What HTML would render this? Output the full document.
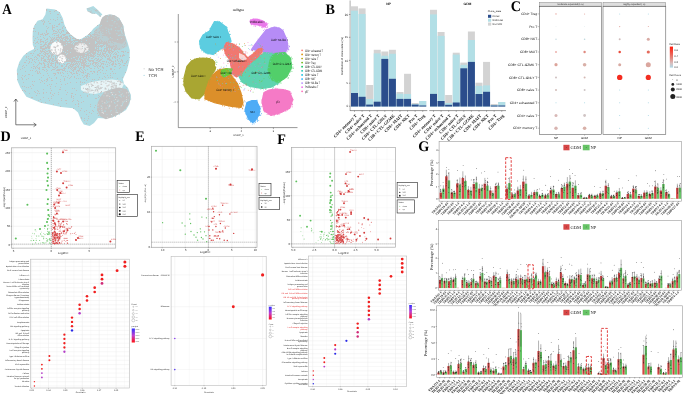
<!DOCTYPE html>
<html><head><meta charset="utf-8"><style>
html,body{margin:0;padding:0;background:#fff;width:685px;height:394px;overflow:hidden}
svg{display:block;text-rendering:geometricPrecision;will-change:transform;filter:blur(0.35px)}
</style></head><body>
<svg width="685" height="394" viewBox="0 0 685 394">
<rect width="685" height="394" fill="#fff"/>
<text transform="translate(2.3 13.7) scale(0.9 1)" font-size="14.6" font-family="Liberation Serif" font-weight="bold" fill="#000">A</text>
<polygon points="46.5,8.5 55,9.5 59.8,12.2 62.8,18.3 64.4,24.4 66.9,29.9 69.9,33.7 73.7,36.8 77.5,39.3 80.6,39.3 84.4,37 88.2,34.5 91.2,31.4 93.5,28.4 96.6,26.1 100,23.5 102.4,17.5 105.5,15.2 110,14.5 114.6,15.2 119.2,18.3 123,25.1 124.5,33.5 127.6,42.6 129.8,50.3 129.5,60 127,70 122.9,79.2 124,84 128,88 131,95.7 129.5,104 126,110 116.3,115.5 106,118.5 98,118 94,123 89.7,125.9 83.8,124.4 81,120 78,112.6 73.2,108.3 61,106.9 40.7,102.8 26.4,96.7 20.3,87.6 17.3,80.5 16.8,70 19.3,61.9 23.4,55.8 28.4,51.8 34.5,48.7 32.8,45 32.5,38 32.8,31 34,26 37.6,20.8 42.6,19.3 45.4,14.5 46.3,9.5" fill="#b0dce4"/>
<polygon points="86.4,8.4 93.3,6.1 97.9,9.9 102.4,14.5 100,16.7 96.3,13.7 91.8,13.7 87.2,10.7" fill="#b0dce4"/>
<path d="M91.58 7.7h0.9v0.9h-0.9zM94.97 9.98h0.9v0.9h-0.9zM88.38 8.47h0.9v0.9h-0.9zM95.63 10.3h0.9v0.9h-0.9zM96.62 10.05h0.9v0.9h-0.9zM87.35 8.28h0.9v0.9h-0.9zM97.29 10.63h0.9v0.9h-0.9zM91.43 12.31h0.9v0.9h-0.9zM93.65 9.28h0.9v0.9h-0.9zM99.11 13.51h0.9v0.9h-0.9zM90.31 12.19h0.9v0.9h-0.9zM88.83 11.28h0.9v0.9h-0.9zM98.63 12.17h0.9v0.9h-0.9zM97.52 12.4h0.9v0.9h-0.9zM95.68 10.94h0.9v0.9h-0.9zM99.84 16.11h0.9v0.9h-0.9zM93.99 13.14h0.9v0.9h-0.9zM92.57 13.19h0.9v0.9h-0.9zM88.47 8.72h0.9v0.9h-0.9zM87.69 10.86h0.9v0.9h-0.9zM99.51 15.26h0.9v0.9h-0.9zM90.85 10.5h0.9v0.9h-0.9zM89.22 8.56h0.9v0.9h-0.9zM90.13 11.24h0.9v0.9h-0.9zM95.83 8.89h0.9v0.9h-0.9z" fill="#c2c2c2"/>
<polygon points="101,20 102.4,17.5 105.5,15.2 110,14.5 114.6,15.2 119.2,18.3 123,25.1 124.5,33.5 126,40 122,44 115,42 108,38 102,33 99,27" fill="#c2c2c2"/>
<polygon points="99,27 108,38 115,42 126,40 127.6,46 120,50 110,48 100,42 92,38 95,30" fill="#c2c2c2" opacity="0.55"/>
<path d="M46 9h1v1h-1zM46 10h1v1h-1zM55 10h1v1h-1zM56 10h1v1h-1zM49 11h1v1h-1zM50 11h1v1h-1zM54 11h1v1h-1zM59 12h1v1h-1zM50 13h1v1h-1zM57 14h1v1h-1zM58 14h1v1h-1zM104 16h1v1h-1zM57 17h1v1h-1zM60 17h1v1h-1zM102 18h1v1h-1zM104 18h1v1h-1zM50 19h1v1h-1zM53 19h1v1h-1zM57 19h1v1h-1zM61 19h1v1h-1zM102 19h1v1h-1zM115 19h1v1h-1zM118 19h1v1h-1zM41 20h1v1h-1zM43 20h1v1h-1zM55 20h1v1h-1zM102 20h1v1h-1zM104 20h1v1h-1zM42 21h1v1h-1zM44 21h1v1h-1zM48 21h1v1h-1zM103 21h1v1h-1zM109 21h1v1h-1zM113 21h1v1h-1zM114 21h1v1h-1zM44 22h1v1h-1zM61 22h1v1h-1zM62 22h1v1h-1zM107 22h1v1h-1zM113 22h1v1h-1zM116 22h1v1h-1zM43 23h1v1h-1zM49 23h1v1h-1zM50 23h1v1h-1zM59 23h1v1h-1zM100 23h1v1h-1zM121 23h1v1h-1zM35 24h1v1h-1zM43 24h1v1h-1zM58 24h1v1h-1zM59 24h1v1h-1zM111 24h1v1h-1zM117 24h1v1h-1zM52 25h1v1h-1zM54 25h1v1h-1zM97 25h1v1h-1zM112 25h1v1h-1zM113 25h1v1h-1zM118 25h1v1h-1zM46 26h1v1h-1zM52 26h1v1h-1zM56 26h1v1h-1zM57 26h1v1h-1zM63 26h1v1h-1zM106 26h1v1h-1zM114 26h1v1h-1zM48 27h1v1h-1zM52 27h1v1h-1zM53 27h1v1h-1zM54 27h1v1h-1zM62 27h1v1h-1zM65 27h1v1h-1zM100 27h1v1h-1zM104 27h1v1h-1zM111 27h1v1h-1zM118 27h1v1h-1zM122 27h1v1h-1zM33 28h1v1h-1zM34 28h1v1h-1zM47 28h1v1h-1zM52 28h1v1h-1zM62 28h1v1h-1zM99 28h1v1h-1zM103 28h1v1h-1zM104 28h1v1h-1zM111 28h1v1h-1zM112 28h1v1h-1zM52 29h1v1h-1zM57 29h1v1h-1zM59 29h1v1h-1zM60 29h1v1h-1zM96 29h1v1h-1zM101 29h1v1h-1zM107 29h1v1h-1zM115 29h1v1h-1zM116 29h1v1h-1zM120 29h1v1h-1zM46 30h1v1h-1zM53 30h1v1h-1zM54 30h1v1h-1zM58 30h1v1h-1zM62 30h1v1h-1zM63 30h1v1h-1zM66 30h1v1h-1zM95 30h1v1h-1zM96 30h1v1h-1zM100 30h1v1h-1zM121 30h1v1h-1zM33 31h1v1h-1zM35 31h1v1h-1zM46 31h1v1h-1zM53 31h1v1h-1zM55 31h1v1h-1zM56 31h1v1h-1zM58 31h1v1h-1zM61 31h1v1h-1zM63 31h1v1h-1zM67 31h1v1h-1zM94 31h1v1h-1zM99 31h1v1h-1zM104 31h1v1h-1zM107 31h1v1h-1zM110 31h1v1h-1zM121 31h1v1h-1zM38 32h1v1h-1zM46 32h1v1h-1zM57 32h1v1h-1zM59 32h1v1h-1zM61 32h1v1h-1zM66 32h1v1h-1zM67 32h1v1h-1zM68 32h1v1h-1zM90 32h1v1h-1zM95 32h1v1h-1zM96 32h1v1h-1zM98 32h1v1h-1zM99 32h1v1h-1zM101 32h1v1h-1zM109 32h1v1h-1zM112 32h1v1h-1zM113 32h1v1h-1zM119 32h1v1h-1zM38 33h1v1h-1zM42 33h1v1h-1zM44 33h1v1h-1zM47 33h1v1h-1zM48 33h1v1h-1zM53 33h1v1h-1zM54 33h1v1h-1zM55 33h1v1h-1zM56 33h1v1h-1zM60 33h1v1h-1zM66 33h1v1h-1zM67 33h1v1h-1zM68 33h1v1h-1zM69 33h1v1h-1zM89 33h1v1h-1zM94 33h1v1h-1zM99 33h1v1h-1zM102 33h1v1h-1zM104 33h1v1h-1zM38 34h1v1h-1zM40 34h1v1h-1zM41 34h1v1h-1zM42 34h1v1h-1zM45 34h1v1h-1zM46 34h1v1h-1zM47 34h1v1h-1zM52 34h1v1h-1zM58 34h1v1h-1zM62 34h1v1h-1zM63 34h1v1h-1zM64 34h1v1h-1zM65 34h1v1h-1zM88 34h1v1h-1zM89 34h1v1h-1zM90 34h1v1h-1zM92 34h1v1h-1zM93 34h1v1h-1zM94 34h1v1h-1zM95 34h1v1h-1zM96 34h1v1h-1zM97 34h1v1h-1zM105 34h1v1h-1zM114 34h1v1h-1zM117 34h1v1h-1zM121 34h1v1h-1zM43 35h1v1h-1zM45 35h1v1h-1zM54 35h1v1h-1zM56 35h1v1h-1zM57 35h1v1h-1zM58 35h1v1h-1zM61 35h1v1h-1zM63 35h1v1h-1zM64 35h1v1h-1zM69 35h1v1h-1zM70 35h1v1h-1zM71 35h1v1h-1zM90 35h1v1h-1zM91 35h1v1h-1zM94 35h1v1h-1zM97 35h1v1h-1zM98 35h1v1h-1zM99 35h1v1h-1zM102 35h1v1h-1zM103 35h1v1h-1zM104 35h1v1h-1zM107 35h1v1h-1zM109 35h1v1h-1zM112 35h1v1h-1zM114 35h1v1h-1zM122 35h1v1h-1zM33 36h1v1h-1zM40 36h1v1h-1zM49 36h1v1h-1zM58 36h1v1h-1zM60 36h1v1h-1zM61 36h1v1h-1zM65 36h1v1h-1zM66 36h1v1h-1zM67 36h1v1h-1zM69 36h1v1h-1zM72 36h1v1h-1zM85 36h1v1h-1zM87 36h1v1h-1zM88 36h1v1h-1zM90 36h1v1h-1zM91 36h1v1h-1zM92 36h1v1h-1zM95 36h1v1h-1zM96 36h1v1h-1zM106 36h1v1h-1zM110 36h1v1h-1zM113 36h1v1h-1zM116 36h1v1h-1zM37 37h1v1h-1zM43 37h1v1h-1zM50 37h1v1h-1zM52 37h1v1h-1zM54 37h1v1h-1zM56 37h1v1h-1zM57 37h1v1h-1zM58 37h1v1h-1zM59 37h1v1h-1zM60 37h1v1h-1zM61 37h1v1h-1zM63 37h1v1h-1zM64 37h1v1h-1zM65 37h1v1h-1zM66 37h1v1h-1zM67 37h1v1h-1zM70 37h1v1h-1zM73 37h1v1h-1zM86 37h1v1h-1zM88 37h1v1h-1zM89 37h1v1h-1zM90 37h1v1h-1zM92 37h1v1h-1zM93 37h1v1h-1zM94 37h1v1h-1zM95 37h1v1h-1zM96 37h1v1h-1zM98 37h1v1h-1zM99 37h1v1h-1zM102 37h1v1h-1zM110 37h1v1h-1zM119 37h1v1h-1zM121 37h1v1h-1zM35 38h1v1h-1zM44 38h1v1h-1zM47 38h1v1h-1zM51 38h1v1h-1zM53 38h1v1h-1zM54 38h1v1h-1zM56 38h1v1h-1zM59 38h1v1h-1zM61 38h1v1h-1zM62 38h1v1h-1zM63 38h1v1h-1zM65 38h1v1h-1zM66 38h1v1h-1zM67 38h1v1h-1zM68 38h1v1h-1zM70 38h1v1h-1zM72 38h1v1h-1zM73 38h1v1h-1zM74 38h1v1h-1zM75 38h1v1h-1zM83 38h1v1h-1zM84 38h1v1h-1zM85 38h1v1h-1zM86 38h1v1h-1zM87 38h1v1h-1zM88 38h1v1h-1zM89 38h1v1h-1zM90 38h1v1h-1zM91 38h1v1h-1zM92 38h1v1h-1zM94 38h1v1h-1zM95 38h1v1h-1zM96 38h1v1h-1zM97 38h1v1h-1zM98 38h1v1h-1zM110 38h1v1h-1zM114 38h1v1h-1zM115 38h1v1h-1zM116 38h1v1h-1zM38 39h1v1h-1zM40 39h1v1h-1zM41 39h1v1h-1zM46 39h1v1h-1zM47 39h1v1h-1zM51 39h1v1h-1zM52 39h1v1h-1zM53 39h1v1h-1zM55 39h1v1h-1zM56 39h1v1h-1zM57 39h1v1h-1zM58 39h1v1h-1zM60 39h1v1h-1zM62 39h1v1h-1zM64 39h1v1h-1zM65 39h1v1h-1zM67 39h1v1h-1zM69 39h1v1h-1zM70 39h1v1h-1zM75 39h1v1h-1zM76 39h1v1h-1zM77 39h1v1h-1zM78 39h1v1h-1zM80 39h1v1h-1zM82 39h1v1h-1zM83 39h1v1h-1zM84 39h1v1h-1zM85 39h1v1h-1zM86 39h1v1h-1zM87 39h1v1h-1zM88 39h1v1h-1zM89 39h1v1h-1zM90 39h1v1h-1zM91 39h1v1h-1zM92 39h1v1h-1zM93 39h1v1h-1zM94 39h1v1h-1zM95 39h1v1h-1zM96 39h1v1h-1zM98 39h1v1h-1zM100 39h1v1h-1zM109 39h1v1h-1zM110 39h1v1h-1zM34 40h1v1h-1zM40 40h1v1h-1zM45 40h1v1h-1zM50 40h1v1h-1zM51 40h1v1h-1zM52 40h1v1h-1zM54 40h1v1h-1zM57 40h1v1h-1zM58 40h1v1h-1zM60 40h1v1h-1zM61 40h1v1h-1zM62 40h1v1h-1zM65 40h1v1h-1zM66 40h1v1h-1zM69 40h1v1h-1zM70 40h1v1h-1zM73 40h1v1h-1zM74 40h1v1h-1zM75 40h1v1h-1zM76 40h1v1h-1zM77 40h1v1h-1zM78 40h1v1h-1zM79 40h1v1h-1zM80 40h1v1h-1zM81 40h1v1h-1zM82 40h1v1h-1zM83 40h1v1h-1zM84 40h1v1h-1zM85 40h1v1h-1zM87 40h1v1h-1zM88 40h1v1h-1zM89 40h1v1h-1zM90 40h1v1h-1zM91 40h1v1h-1zM92 40h1v1h-1zM93 40h1v1h-1zM94 40h1v1h-1zM95 40h1v1h-1zM96 40h1v1h-1zM99 40h1v1h-1zM101 40h1v1h-1zM108 40h1v1h-1zM109 40h1v1h-1zM110 40h1v1h-1zM111 40h1v1h-1zM112 40h1v1h-1zM113 40h1v1h-1zM119 40h1v1h-1zM122 40h1v1h-1zM37 41h1v1h-1zM40 41h1v1h-1zM41 41h1v1h-1zM42 41h1v1h-1zM43 41h1v1h-1zM47 41h1v1h-1zM50 41h1v1h-1zM52 41h1v1h-1zM53 41h1v1h-1zM57 41h1v1h-1zM58 41h1v1h-1zM60 41h1v1h-1zM61 41h1v1h-1zM62 41h1v1h-1zM63 41h1v1h-1zM64 41h1v1h-1zM65 41h1v1h-1zM66 41h1v1h-1zM67 41h1v1h-1zM68 41h1v1h-1zM69 41h1v1h-1zM70 41h1v1h-1zM71 41h1v1h-1zM72 41h1v1h-1zM74 41h1v1h-1zM78 41h1v1h-1zM79 41h1v1h-1zM80 41h1v1h-1zM82 41h1v1h-1zM83 41h1v1h-1zM84 41h1v1h-1zM85 41h1v1h-1zM86 41h1v1h-1zM87 41h1v1h-1zM88 41h1v1h-1zM89 41h1v1h-1zM90 41h1v1h-1zM91 41h1v1h-1zM92 41h1v1h-1zM93 41h1v1h-1zM94 41h1v1h-1zM96 41h1v1h-1zM97 41h1v1h-1zM98 41h1v1h-1zM99 41h1v1h-1zM101 41h1v1h-1zM102 41h1v1h-1zM104 41h1v1h-1zM106 41h1v1h-1zM108 41h1v1h-1zM111 41h1v1h-1zM113 41h1v1h-1zM114 41h1v1h-1zM115 41h1v1h-1zM120 41h1v1h-1zM123 41h1v1h-1zM33 42h1v1h-1zM36 42h1v1h-1zM37 42h1v1h-1zM40 42h1v1h-1zM43 42h1v1h-1zM45 42h1v1h-1zM46 42h1v1h-1zM49 42h1v1h-1zM50 42h1v1h-1zM51 42h1v1h-1zM52 42h1v1h-1zM53 42h1v1h-1zM54 42h1v1h-1zM55 42h1v1h-1zM56 42h1v1h-1zM59 42h1v1h-1zM60 42h1v1h-1zM61 42h1v1h-1zM62 42h1v1h-1zM63 42h1v1h-1zM64 42h1v1h-1zM65 42h1v1h-1zM67 42h1v1h-1zM70 42h1v1h-1zM71 42h1v1h-1zM73 42h1v1h-1zM75 42h1v1h-1zM76 42h1v1h-1zM77 42h1v1h-1zM78 42h1v1h-1zM79 42h1v1h-1zM80 42h1v1h-1zM81 42h1v1h-1zM82 42h1v1h-1zM83 42h1v1h-1zM84 42h1v1h-1zM85 42h1v1h-1zM86 42h1v1h-1zM87 42h1v1h-1zM88 42h1v1h-1zM89 42h1v1h-1zM90 42h1v1h-1zM91 42h1v1h-1zM92 42h1v1h-1zM93 42h1v1h-1zM94 42h1v1h-1zM97 42h1v1h-1zM98 42h1v1h-1zM99 42h1v1h-1zM100 42h1v1h-1zM101 42h1v1h-1zM103 42h1v1h-1zM104 42h1v1h-1zM105 42h1v1h-1zM106 42h1v1h-1zM108 42h1v1h-1zM109 42h1v1h-1zM111 42h1v1h-1zM112 42h1v1h-1zM117 42h1v1h-1zM120 42h1v1h-1zM121 42h1v1h-1zM125 42h1v1h-1zM35 43h1v1h-1zM38 43h1v1h-1zM45 43h1v1h-1zM48 43h1v1h-1zM49 43h1v1h-1zM50 43h1v1h-1zM51 43h1v1h-1zM57 43h1v1h-1zM58 43h1v1h-1zM61 43h1v1h-1zM62 43h1v1h-1zM63 43h1v1h-1zM64 43h1v1h-1zM65 43h1v1h-1zM66 43h1v1h-1zM67 43h1v1h-1zM68 43h1v1h-1zM69 43h1v1h-1zM70 43h1v1h-1zM72 43h1v1h-1zM74 43h1v1h-1zM75 43h1v1h-1zM76 43h1v1h-1zM77 43h1v1h-1zM78 43h1v1h-1zM79 43h1v1h-1zM80 43h1v1h-1zM81 43h1v1h-1zM82 43h1v1h-1zM83 43h1v1h-1zM85 43h1v1h-1zM86 43h1v1h-1zM87 43h1v1h-1zM88 43h1v1h-1zM90 43h1v1h-1zM91 43h1v1h-1zM92 43h1v1h-1zM93 43h1v1h-1zM94 43h1v1h-1zM96 43h1v1h-1zM97 43h1v1h-1zM98 43h1v1h-1zM99 43h1v1h-1zM100 43h1v1h-1zM101 43h1v1h-1zM102 43h1v1h-1zM103 43h1v1h-1zM104 43h1v1h-1zM105 43h1v1h-1zM106 43h1v1h-1zM107 43h1v1h-1zM113 43h1v1h-1zM125 43h1v1h-1zM40 44h1v1h-1zM41 44h1v1h-1zM44 44h1v1h-1zM45 44h1v1h-1zM46 44h1v1h-1zM48 44h1v1h-1zM49 44h1v1h-1zM52 44h1v1h-1zM53 44h1v1h-1zM54 44h1v1h-1zM55 44h1v1h-1zM56 44h1v1h-1zM59 44h1v1h-1zM60 44h1v1h-1zM61 44h1v1h-1zM62 44h1v1h-1zM63 44h1v1h-1zM64 44h1v1h-1zM65 44h1v1h-1zM67 44h1v1h-1zM68 44h1v1h-1zM69 44h1v1h-1zM70 44h1v1h-1zM71 44h1v1h-1zM72 44h1v1h-1zM74 44h1v1h-1zM75 44h1v1h-1zM76 44h1v1h-1zM77 44h1v1h-1zM78 44h1v1h-1zM79 44h1v1h-1zM80 44h1v1h-1zM81 44h1v1h-1zM82 44h1v1h-1zM83 44h1v1h-1zM84 44h1v1h-1zM85 44h1v1h-1zM86 44h1v1h-1zM87 44h1v1h-1zM88 44h1v1h-1zM89 44h1v1h-1zM90 44h1v1h-1zM91 44h1v1h-1zM92 44h1v1h-1zM93 44h1v1h-1zM94 44h1v1h-1zM95 44h1v1h-1zM96 44h1v1h-1zM97 44h1v1h-1zM99 44h1v1h-1zM103 44h1v1h-1zM104 44h1v1h-1zM106 44h1v1h-1zM107 44h1v1h-1zM124 44h1v1h-1zM43 45h1v1h-1zM44 45h1v1h-1zM47 45h1v1h-1zM48 45h1v1h-1zM54 45h1v1h-1zM55 45h1v1h-1zM56 45h1v1h-1zM57 45h1v1h-1zM58 45h1v1h-1zM59 45h1v1h-1zM60 45h1v1h-1zM61 45h1v1h-1zM62 45h1v1h-1zM63 45h1v1h-1zM65 45h1v1h-1zM66 45h1v1h-1zM67 45h1v1h-1zM68 45h1v1h-1zM69 45h1v1h-1zM70 45h1v1h-1zM71 45h1v1h-1zM72 45h1v1h-1zM73 45h1v1h-1zM74 45h1v1h-1zM75 45h1v1h-1zM76 45h1v1h-1zM77 45h1v1h-1zM78 45h1v1h-1zM79 45h1v1h-1zM80 45h1v1h-1zM81 45h1v1h-1zM83 45h1v1h-1zM84 45h1v1h-1zM85 45h1v1h-1zM86 45h1v1h-1zM87 45h1v1h-1zM88 45h1v1h-1zM89 45h1v1h-1zM90 45h1v1h-1zM91 45h1v1h-1zM92 45h1v1h-1zM93 45h1v1h-1zM94 45h1v1h-1zM95 45h1v1h-1zM96 45h1v1h-1zM98 45h1v1h-1zM100 45h1v1h-1zM101 45h1v1h-1zM102 45h1v1h-1zM103 45h1v1h-1zM106 45h1v1h-1zM107 45h1v1h-1zM108 45h1v1h-1zM109 45h1v1h-1zM113 45h1v1h-1zM115 45h1v1h-1zM116 45h1v1h-1zM35 46h1v1h-1zM40 46h1v1h-1zM41 46h1v1h-1zM42 46h1v1h-1zM43 46h1v1h-1zM45 46h1v1h-1zM47 46h1v1h-1zM48 46h1v1h-1zM49 46h1v1h-1zM50 46h1v1h-1zM51 46h1v1h-1zM52 46h1v1h-1zM54 46h1v1h-1zM55 46h1v1h-1zM56 46h1v1h-1zM57 46h1v1h-1zM58 46h1v1h-1zM59 46h1v1h-1zM60 46h1v1h-1zM61 46h1v1h-1zM62 46h1v1h-1zM63 46h1v1h-1zM64 46h1v1h-1zM65 46h1v1h-1zM66 46h1v1h-1zM67 46h1v1h-1zM68 46h1v1h-1zM69 46h1v1h-1zM70 46h1v1h-1zM71 46h1v1h-1zM72 46h1v1h-1zM73 46h1v1h-1zM74 46h1v1h-1zM76 46h1v1h-1zM78 46h1v1h-1zM79 46h1v1h-1zM80 46h1v1h-1zM81 46h1v1h-1zM82 46h1v1h-1zM83 46h1v1h-1zM84 46h1v1h-1zM85 46h1v1h-1zM86 46h1v1h-1zM87 46h1v1h-1zM88 46h1v1h-1zM89 46h1v1h-1zM90 46h1v1h-1zM91 46h1v1h-1zM92 46h1v1h-1zM93 46h1v1h-1zM94 46h1v1h-1zM95 46h1v1h-1zM96 46h1v1h-1zM97 46h1v1h-1zM98 46h1v1h-1zM99 46h1v1h-1zM100 46h1v1h-1zM101 46h1v1h-1zM102 46h1v1h-1zM104 46h1v1h-1zM106 46h1v1h-1zM108 46h1v1h-1zM109 46h1v1h-1zM110 46h1v1h-1zM111 46h1v1h-1zM112 46h1v1h-1zM113 46h1v1h-1zM114 46h1v1h-1zM116 46h1v1h-1zM122 46h1v1h-1zM124 46h1v1h-1zM40 47h1v1h-1zM41 47h1v1h-1zM45 47h1v1h-1zM46 47h1v1h-1zM47 47h1v1h-1zM48 47h1v1h-1zM49 47h1v1h-1zM50 47h1v1h-1zM51 47h1v1h-1zM52 47h1v1h-1zM53 47h1v1h-1zM54 47h1v1h-1zM56 47h1v1h-1zM57 47h1v1h-1zM58 47h1v1h-1zM59 47h1v1h-1zM60 47h1v1h-1zM61 47h1v1h-1zM62 47h1v1h-1zM63 47h1v1h-1zM64 47h1v1h-1zM65 47h1v1h-1zM66 47h1v1h-1zM67 47h1v1h-1zM68 47h1v1h-1zM69 47h1v1h-1zM70 47h1v1h-1zM71 47h1v1h-1zM72 47h1v1h-1zM73 47h1v1h-1zM74 47h1v1h-1zM75 47h1v1h-1zM76 47h1v1h-1zM77 47h1v1h-1zM78 47h1v1h-1zM79 47h1v1h-1zM80 47h1v1h-1zM81 47h1v1h-1zM82 47h1v1h-1zM84 47h1v1h-1zM86 47h1v1h-1zM87 47h1v1h-1zM88 47h1v1h-1zM89 47h1v1h-1zM90 47h1v1h-1zM91 47h1v1h-1zM92 47h1v1h-1zM93 47h1v1h-1zM94 47h1v1h-1zM96 47h1v1h-1zM98 47h1v1h-1zM101 47h1v1h-1zM106 47h1v1h-1zM107 47h1v1h-1zM108 47h1v1h-1zM109 47h1v1h-1zM110 47h1v1h-1zM111 47h1v1h-1zM112 47h1v1h-1zM115 47h1v1h-1zM116 47h1v1h-1zM123 47h1v1h-1zM34 48h1v1h-1zM40 48h1v1h-1zM41 48h1v1h-1zM42 48h1v1h-1zM43 48h1v1h-1zM44 48h1v1h-1zM45 48h1v1h-1zM46 48h1v1h-1zM48 48h1v1h-1zM49 48h1v1h-1zM50 48h1v1h-1zM51 48h1v1h-1zM52 48h1v1h-1zM53 48h1v1h-1zM54 48h1v1h-1zM55 48h1v1h-1zM57 48h1v1h-1zM58 48h1v1h-1zM59 48h1v1h-1zM61 48h1v1h-1zM62 48h1v1h-1zM63 48h1v1h-1zM64 48h1v1h-1zM65 48h1v1h-1zM66 48h1v1h-1zM67 48h1v1h-1zM68 48h1v1h-1zM69 48h1v1h-1zM70 48h1v1h-1zM72 48h1v1h-1zM73 48h1v1h-1zM74 48h1v1h-1zM75 48h1v1h-1zM76 48h1v1h-1zM77 48h1v1h-1zM78 48h1v1h-1zM79 48h1v1h-1zM80 48h1v1h-1zM81 48h1v1h-1zM82 48h1v1h-1zM84 48h1v1h-1zM85 48h1v1h-1zM86 48h1v1h-1zM87 48h1v1h-1zM88 48h1v1h-1zM89 48h1v1h-1zM90 48h1v1h-1zM91 48h1v1h-1zM92 48h1v1h-1zM93 48h1v1h-1zM94 48h1v1h-1zM96 48h1v1h-1zM97 48h1v1h-1zM98 48h1v1h-1zM104 48h1v1h-1zM105 48h1v1h-1zM106 48h1v1h-1zM107 48h1v1h-1zM109 48h1v1h-1zM111 48h1v1h-1zM112 48h1v1h-1zM114 48h1v1h-1zM115 48h1v1h-1zM117 48h1v1h-1zM119 48h1v1h-1zM37 49h1v1h-1zM42 49h1v1h-1zM43 49h1v1h-1zM44 49h1v1h-1zM51 49h1v1h-1zM53 49h1v1h-1zM54 49h1v1h-1zM55 49h1v1h-1zM56 49h1v1h-1zM57 49h1v1h-1zM59 49h1v1h-1zM60 49h1v1h-1zM61 49h1v1h-1zM62 49h1v1h-1zM63 49h1v1h-1zM64 49h1v1h-1zM65 49h1v1h-1zM66 49h1v1h-1zM67 49h1v1h-1zM68 49h1v1h-1zM69 49h1v1h-1zM70 49h1v1h-1zM71 49h1v1h-1zM72 49h1v1h-1zM73 49h1v1h-1zM74 49h1v1h-1zM75 49h1v1h-1zM76 49h1v1h-1zM77 49h1v1h-1zM78 49h1v1h-1zM79 49h1v1h-1zM80 49h1v1h-1zM81 49h1v1h-1zM82 49h1v1h-1zM83 49h1v1h-1zM84 49h1v1h-1zM85 49h1v1h-1zM86 49h1v1h-1zM87 49h1v1h-1zM88 49h1v1h-1zM89 49h1v1h-1zM90 49h1v1h-1zM91 49h1v1h-1zM92 49h1v1h-1zM93 49h1v1h-1zM94 49h1v1h-1zM95 49h1v1h-1zM96 49h1v1h-1zM98 49h1v1h-1zM101 49h1v1h-1zM104 49h1v1h-1zM106 49h1v1h-1zM107 49h1v1h-1zM109 49h1v1h-1zM111 49h1v1h-1zM113 49h1v1h-1zM114 49h1v1h-1zM115 49h1v1h-1zM116 49h1v1h-1zM118 49h1v1h-1zM119 49h1v1h-1zM35 50h1v1h-1zM40 50h1v1h-1zM42 50h1v1h-1zM45 50h1v1h-1zM48 50h1v1h-1zM49 50h1v1h-1zM50 50h1v1h-1zM52 50h1v1h-1zM53 50h1v1h-1zM54 50h1v1h-1zM55 50h1v1h-1zM57 50h1v1h-1zM58 50h1v1h-1zM59 50h1v1h-1zM60 50h1v1h-1zM61 50h1v1h-1zM62 50h1v1h-1zM63 50h1v1h-1zM64 50h1v1h-1zM65 50h1v1h-1zM66 50h1v1h-1zM68 50h1v1h-1zM69 50h1v1h-1zM70 50h1v1h-1zM71 50h1v1h-1zM72 50h1v1h-1zM73 50h1v1h-1zM74 50h1v1h-1zM75 50h1v1h-1zM76 50h1v1h-1zM77 50h1v1h-1zM78 50h1v1h-1zM79 50h1v1h-1zM80 50h1v1h-1zM81 50h1v1h-1zM82 50h1v1h-1zM83 50h1v1h-1zM84 50h1v1h-1zM85 50h1v1h-1zM86 50h1v1h-1zM87 50h1v1h-1zM89 50h1v1h-1zM90 50h1v1h-1zM91 50h1v1h-1zM92 50h1v1h-1zM93 50h1v1h-1zM94 50h1v1h-1zM95 50h1v1h-1zM96 50h1v1h-1zM97 50h1v1h-1zM98 50h1v1h-1zM99 50h1v1h-1zM100 50h1v1h-1zM101 50h1v1h-1zM103 50h1v1h-1zM104 50h1v1h-1zM106 50h1v1h-1zM107 50h1v1h-1zM108 50h1v1h-1zM109 50h1v1h-1zM110 50h1v1h-1zM111 50h1v1h-1zM114 50h1v1h-1zM34 51h1v1h-1zM40 51h1v1h-1zM41 51h1v1h-1zM42 51h1v1h-1zM43 51h1v1h-1zM44 51h1v1h-1zM46 51h1v1h-1zM47 51h1v1h-1zM49 51h1v1h-1zM50 51h1v1h-1zM51 51h1v1h-1zM52 51h1v1h-1zM53 51h1v1h-1zM55 51h1v1h-1zM57 51h1v1h-1zM59 51h1v1h-1zM60 51h1v1h-1zM61 51h1v1h-1zM62 51h1v1h-1zM64 51h1v1h-1zM65 51h1v1h-1zM66 51h1v1h-1zM67 51h1v1h-1zM68 51h1v1h-1zM69 51h1v1h-1zM70 51h1v1h-1zM71 51h1v1h-1zM72 51h1v1h-1zM73 51h1v1h-1zM74 51h1v1h-1zM75 51h1v1h-1zM76 51h1v1h-1zM77 51h1v1h-1zM78 51h1v1h-1zM79 51h1v1h-1zM80 51h1v1h-1zM81 51h1v1h-1zM82 51h1v1h-1zM83 51h1v1h-1zM84 51h1v1h-1zM86 51h1v1h-1zM87 51h1v1h-1zM88 51h1v1h-1zM90 51h1v1h-1zM91 51h1v1h-1zM92 51h1v1h-1zM93 51h1v1h-1zM95 51h1v1h-1zM97 51h1v1h-1zM98 51h1v1h-1zM101 51h1v1h-1zM103 51h1v1h-1zM104 51h1v1h-1zM105 51h1v1h-1zM106 51h1v1h-1zM108 51h1v1h-1zM109 51h1v1h-1zM111 51h1v1h-1zM112 51h1v1h-1zM113 51h1v1h-1zM117 51h1v1h-1zM121 51h1v1h-1zM122 51h1v1h-1zM123 51h1v1h-1zM125 51h1v1h-1zM41 52h1v1h-1zM44 52h1v1h-1zM45 52h1v1h-1zM49 52h1v1h-1zM51 52h1v1h-1zM53 52h1v1h-1zM54 52h1v1h-1zM55 52h1v1h-1zM56 52h1v1h-1zM57 52h1v1h-1zM58 52h1v1h-1zM59 52h1v1h-1zM61 52h1v1h-1zM62 52h1v1h-1zM63 52h1v1h-1zM64 52h1v1h-1zM66 52h1v1h-1zM67 52h1v1h-1zM68 52h1v1h-1zM69 52h1v1h-1zM71 52h1v1h-1zM72 52h1v1h-1zM73 52h1v1h-1zM74 52h1v1h-1zM75 52h1v1h-1zM76 52h1v1h-1zM77 52h1v1h-1zM78 52h1v1h-1zM79 52h1v1h-1zM80 52h1v1h-1zM81 52h1v1h-1zM82 52h1v1h-1zM83 52h1v1h-1zM84 52h1v1h-1zM85 52h1v1h-1zM86 52h1v1h-1zM89 52h1v1h-1zM90 52h1v1h-1zM91 52h1v1h-1zM92 52h1v1h-1zM93 52h1v1h-1zM94 52h1v1h-1zM95 52h1v1h-1zM98 52h1v1h-1zM100 52h1v1h-1zM102 52h1v1h-1zM105 52h1v1h-1zM108 52h1v1h-1zM109 52h1v1h-1zM110 52h1v1h-1zM112 52h1v1h-1zM115 52h1v1h-1zM118 52h1v1h-1zM123 52h1v1h-1zM127 52h1v1h-1zM128 52h1v1h-1zM26 53h1v1h-1zM30 53h1v1h-1zM31 53h1v1h-1zM33 53h1v1h-1zM39 53h1v1h-1zM40 53h1v1h-1zM43 53h1v1h-1zM45 53h1v1h-1zM46 53h1v1h-1zM47 53h1v1h-1zM48 53h1v1h-1zM50 53h1v1h-1zM52 53h1v1h-1zM53 53h1v1h-1zM54 53h1v1h-1zM55 53h1v1h-1zM56 53h1v1h-1zM57 53h1v1h-1zM58 53h1v1h-1zM59 53h1v1h-1zM60 53h1v1h-1zM61 53h1v1h-1zM62 53h1v1h-1zM63 53h1v1h-1zM64 53h1v1h-1zM65 53h1v1h-1zM66 53h1v1h-1zM68 53h1v1h-1zM69 53h1v1h-1zM70 53h1v1h-1zM71 53h1v1h-1zM72 53h1v1h-1zM73 53h1v1h-1zM74 53h1v1h-1zM75 53h1v1h-1zM76 53h1v1h-1zM77 53h1v1h-1zM78 53h1v1h-1zM79 53h1v1h-1zM80 53h1v1h-1zM81 53h1v1h-1zM82 53h1v1h-1zM83 53h1v1h-1zM84 53h1v1h-1zM87 53h1v1h-1zM88 53h1v1h-1zM89 53h1v1h-1zM90 53h1v1h-1zM92 53h1v1h-1zM93 53h1v1h-1zM94 53h1v1h-1zM95 53h1v1h-1zM97 53h1v1h-1zM100 53h1v1h-1zM102 53h1v1h-1zM103 53h1v1h-1zM104 53h1v1h-1zM105 53h1v1h-1zM109 53h1v1h-1zM111 53h1v1h-1zM114 53h1v1h-1zM116 53h1v1h-1zM37 54h1v1h-1zM38 54h1v1h-1zM44 54h1v1h-1zM45 54h1v1h-1zM47 54h1v1h-1zM52 54h1v1h-1zM53 54h1v1h-1zM56 54h1v1h-1zM57 54h1v1h-1zM58 54h1v1h-1zM59 54h1v1h-1zM60 54h1v1h-1zM61 54h1v1h-1zM62 54h1v1h-1zM63 54h1v1h-1zM64 54h1v1h-1zM65 54h1v1h-1zM67 54h1v1h-1zM68 54h1v1h-1zM69 54h1v1h-1zM70 54h1v1h-1zM71 54h1v1h-1zM72 54h1v1h-1zM73 54h1v1h-1zM74 54h1v1h-1zM75 54h1v1h-1zM76 54h1v1h-1zM77 54h1v1h-1zM78 54h1v1h-1zM79 54h1v1h-1zM80 54h1v1h-1zM81 54h1v1h-1zM82 54h1v1h-1zM83 54h1v1h-1zM84 54h1v1h-1zM85 54h1v1h-1zM86 54h1v1h-1zM87 54h1v1h-1zM88 54h1v1h-1zM90 54h1v1h-1zM91 54h1v1h-1zM93 54h1v1h-1zM94 54h1v1h-1zM97 54h1v1h-1zM98 54h1v1h-1zM99 54h1v1h-1zM100 54h1v1h-1zM102 54h1v1h-1zM103 54h1v1h-1zM106 54h1v1h-1zM107 54h1v1h-1zM110 54h1v1h-1zM113 54h1v1h-1zM115 54h1v1h-1zM116 54h1v1h-1zM123 54h1v1h-1zM32 55h1v1h-1zM37 55h1v1h-1zM38 55h1v1h-1zM39 55h1v1h-1zM41 55h1v1h-1zM42 55h1v1h-1zM45 55h1v1h-1zM48 55h1v1h-1zM49 55h1v1h-1zM51 55h1v1h-1zM52 55h1v1h-1zM56 55h1v1h-1zM57 55h1v1h-1zM58 55h1v1h-1zM59 55h1v1h-1zM61 55h1v1h-1zM62 55h1v1h-1zM63 55h1v1h-1zM64 55h1v1h-1zM65 55h1v1h-1zM66 55h1v1h-1zM67 55h1v1h-1zM68 55h1v1h-1zM69 55h1v1h-1zM70 55h1v1h-1zM71 55h1v1h-1zM72 55h1v1h-1zM73 55h1v1h-1zM74 55h1v1h-1zM75 55h1v1h-1zM76 55h1v1h-1zM77 55h1v1h-1zM78 55h1v1h-1zM79 55h1v1h-1zM80 55h1v1h-1zM81 55h1v1h-1zM82 55h1v1h-1zM83 55h1v1h-1zM84 55h1v1h-1zM86 55h1v1h-1zM87 55h1v1h-1zM88 55h1v1h-1zM89 55h1v1h-1zM90 55h1v1h-1zM91 55h1v1h-1zM92 55h1v1h-1zM93 55h1v1h-1zM95 55h1v1h-1zM99 55h1v1h-1zM101 55h1v1h-1zM103 55h1v1h-1zM104 55h1v1h-1zM106 55h1v1h-1zM108 55h1v1h-1zM110 55h1v1h-1zM117 55h1v1h-1zM118 55h1v1h-1zM120 55h1v1h-1zM122 55h1v1h-1zM123 55h1v1h-1zM124 55h1v1h-1zM26 56h1v1h-1zM28 56h1v1h-1zM35 56h1v1h-1zM39 56h1v1h-1zM43 56h1v1h-1zM44 56h1v1h-1zM46 56h1v1h-1zM48 56h1v1h-1zM49 56h1v1h-1zM51 56h1v1h-1zM53 56h1v1h-1zM55 56h1v1h-1zM59 56h1v1h-1zM60 56h1v1h-1zM61 56h1v1h-1zM62 56h1v1h-1zM63 56h1v1h-1zM65 56h1v1h-1zM66 56h1v1h-1zM67 56h1v1h-1zM68 56h1v1h-1zM69 56h1v1h-1zM70 56h1v1h-1zM71 56h1v1h-1zM72 56h1v1h-1zM73 56h1v1h-1zM74 56h1v1h-1zM75 56h1v1h-1zM77 56h1v1h-1zM78 56h1v1h-1zM80 56h1v1h-1zM82 56h1v1h-1zM83 56h1v1h-1zM84 56h1v1h-1zM85 56h1v1h-1zM86 56h1v1h-1zM88 56h1v1h-1zM90 56h1v1h-1zM91 56h1v1h-1zM92 56h1v1h-1zM93 56h1v1h-1zM94 56h1v1h-1zM97 56h1v1h-1zM98 56h1v1h-1zM100 56h1v1h-1zM102 56h1v1h-1zM104 56h1v1h-1zM105 56h1v1h-1zM107 56h1v1h-1zM108 56h1v1h-1zM110 56h1v1h-1zM113 56h1v1h-1zM114 56h1v1h-1zM115 56h1v1h-1zM117 56h1v1h-1zM120 56h1v1h-1zM122 56h1v1h-1zM26 57h1v1h-1zM34 57h1v1h-1zM36 57h1v1h-1zM41 57h1v1h-1zM43 57h1v1h-1zM47 57h1v1h-1zM48 57h1v1h-1zM51 57h1v1h-1zM55 57h1v1h-1zM57 57h1v1h-1zM59 57h1v1h-1zM61 57h1v1h-1zM62 57h1v1h-1zM63 57h1v1h-1zM64 57h1v1h-1zM65 57h1v1h-1zM66 57h1v1h-1zM67 57h1v1h-1zM68 57h1v1h-1zM69 57h1v1h-1zM70 57h1v1h-1zM71 57h1v1h-1zM72 57h1v1h-1zM75 57h1v1h-1zM76 57h1v1h-1zM77 57h1v1h-1zM78 57h1v1h-1zM80 57h1v1h-1zM81 57h1v1h-1zM82 57h1v1h-1zM83 57h1v1h-1zM86 57h1v1h-1zM88 57h1v1h-1zM89 57h1v1h-1zM93 57h1v1h-1zM101 57h1v1h-1zM105 57h1v1h-1zM109 57h1v1h-1zM112 57h1v1h-1zM114 57h1v1h-1zM115 57h1v1h-1zM117 57h1v1h-1zM129 57h1v1h-1zM28 58h1v1h-1zM30 58h1v1h-1zM31 58h1v1h-1zM37 58h1v1h-1zM41 58h1v1h-1zM42 58h1v1h-1zM43 58h1v1h-1zM48 58h1v1h-1zM50 58h1v1h-1zM52 58h1v1h-1zM53 58h1v1h-1zM55 58h1v1h-1zM56 58h1v1h-1zM58 58h1v1h-1zM60 58h1v1h-1zM61 58h1v1h-1zM63 58h1v1h-1zM65 58h1v1h-1zM67 58h1v1h-1zM68 58h1v1h-1zM69 58h1v1h-1zM70 58h1v1h-1zM72 58h1v1h-1zM73 58h1v1h-1zM74 58h1v1h-1zM75 58h1v1h-1zM76 58h1v1h-1zM77 58h1v1h-1zM79 58h1v1h-1zM80 58h1v1h-1zM83 58h1v1h-1zM84 58h1v1h-1zM85 58h1v1h-1zM86 58h1v1h-1zM88 58h1v1h-1zM91 58h1v1h-1zM92 58h1v1h-1zM95 58h1v1h-1zM96 58h1v1h-1zM98 58h1v1h-1zM102 58h1v1h-1zM107 58h1v1h-1zM108 58h1v1h-1zM109 58h1v1h-1zM112 58h1v1h-1zM115 58h1v1h-1zM119 58h1v1h-1zM29 59h1v1h-1zM32 59h1v1h-1zM34 59h1v1h-1zM36 59h1v1h-1zM41 59h1v1h-1zM44 59h1v1h-1zM45 59h1v1h-1zM47 59h1v1h-1zM48 59h1v1h-1zM49 59h1v1h-1zM50 59h1v1h-1zM52 59h1v1h-1zM53 59h1v1h-1zM55 59h1v1h-1zM59 59h1v1h-1zM60 59h1v1h-1zM62 59h1v1h-1zM63 59h1v1h-1zM64 59h1v1h-1zM65 59h1v1h-1zM66 59h1v1h-1zM67 59h1v1h-1zM69 59h1v1h-1zM70 59h1v1h-1zM71 59h1v1h-1zM72 59h1v1h-1zM73 59h1v1h-1zM74 59h1v1h-1zM76 59h1v1h-1zM77 59h1v1h-1zM79 59h1v1h-1zM80 59h1v1h-1zM81 59h1v1h-1zM82 59h1v1h-1zM84 59h1v1h-1zM85 59h1v1h-1zM87 59h1v1h-1zM88 59h1v1h-1zM94 59h1v1h-1zM97 59h1v1h-1zM98 59h1v1h-1zM100 59h1v1h-1zM101 59h1v1h-1zM107 59h1v1h-1zM108 59h1v1h-1zM109 59h1v1h-1zM110 59h1v1h-1zM117 59h1v1h-1zM121 59h1v1h-1zM26 60h1v1h-1zM32 60h1v1h-1zM38 60h1v1h-1zM41 60h1v1h-1zM43 60h1v1h-1zM44 60h1v1h-1zM45 60h1v1h-1zM49 60h1v1h-1zM51 60h1v1h-1zM52 60h1v1h-1zM54 60h1v1h-1zM55 60h1v1h-1zM56 60h1v1h-1zM57 60h1v1h-1zM59 60h1v1h-1zM62 60h1v1h-1zM63 60h1v1h-1zM65 60h1v1h-1zM66 60h1v1h-1zM67 60h1v1h-1zM68 60h1v1h-1zM69 60h1v1h-1zM70 60h1v1h-1zM71 60h1v1h-1zM72 60h1v1h-1zM73 60h1v1h-1zM74 60h1v1h-1zM75 60h1v1h-1zM80 60h1v1h-1zM82 60h1v1h-1zM83 60h1v1h-1zM84 60h1v1h-1zM85 60h1v1h-1zM88 60h1v1h-1zM89 60h1v1h-1zM90 60h1v1h-1zM91 60h1v1h-1zM92 60h1v1h-1zM93 60h1v1h-1zM96 60h1v1h-1zM97 60h1v1h-1zM99 60h1v1h-1zM100 60h1v1h-1zM109 60h1v1h-1zM110 60h1v1h-1zM111 60h1v1h-1zM115 60h1v1h-1zM117 60h1v1h-1zM121 60h1v1h-1zM122 60h1v1h-1zM127 60h1v1h-1zM29 61h1v1h-1zM34 61h1v1h-1zM44 61h1v1h-1zM45 61h1v1h-1zM46 61h1v1h-1zM48 61h1v1h-1zM49 61h1v1h-1zM52 61h1v1h-1zM53 61h1v1h-1zM56 61h1v1h-1zM57 61h1v1h-1zM60 61h1v1h-1zM61 61h1v1h-1zM62 61h1v1h-1zM63 61h1v1h-1zM65 61h1v1h-1zM66 61h1v1h-1zM67 61h1v1h-1zM68 61h1v1h-1zM69 61h1v1h-1zM70 61h1v1h-1zM71 61h1v1h-1zM72 61h1v1h-1zM73 61h1v1h-1zM74 61h1v1h-1zM75 61h1v1h-1zM76 61h1v1h-1zM77 61h1v1h-1zM78 61h1v1h-1zM79 61h1v1h-1zM80 61h1v1h-1zM82 61h1v1h-1zM83 61h1v1h-1zM85 61h1v1h-1zM86 61h1v1h-1zM89 61h1v1h-1zM90 61h1v1h-1zM92 61h1v1h-1zM93 61h1v1h-1zM98 61h1v1h-1zM99 61h1v1h-1zM102 61h1v1h-1zM103 61h1v1h-1zM104 61h1v1h-1zM106 61h1v1h-1zM111 61h1v1h-1zM112 61h1v1h-1zM113 61h1v1h-1zM115 61h1v1h-1zM118 61h1v1h-1zM120 61h1v1h-1zM122 61h1v1h-1zM126 61h1v1h-1zM24 62h1v1h-1zM25 62h1v1h-1zM29 62h1v1h-1zM31 62h1v1h-1zM35 62h1v1h-1zM39 62h1v1h-1zM43 62h1v1h-1zM47 62h1v1h-1zM49 62h1v1h-1zM51 62h1v1h-1zM55 62h1v1h-1zM56 62h1v1h-1zM57 62h1v1h-1zM60 62h1v1h-1zM61 62h1v1h-1zM62 62h1v1h-1zM63 62h1v1h-1zM71 62h1v1h-1zM72 62h1v1h-1zM74 62h1v1h-1zM76 62h1v1h-1zM78 62h1v1h-1zM80 62h1v1h-1zM81 62h1v1h-1zM82 62h1v1h-1zM83 62h1v1h-1zM84 62h1v1h-1zM85 62h1v1h-1zM93 62h1v1h-1zM94 62h1v1h-1zM95 62h1v1h-1zM96 62h1v1h-1zM97 62h1v1h-1zM100 62h1v1h-1zM106 62h1v1h-1zM108 62h1v1h-1zM110 62h1v1h-1zM113 62h1v1h-1zM122 62h1v1h-1zM126 62h1v1h-1zM28 63h1v1h-1zM39 63h1v1h-1zM40 63h1v1h-1zM41 63h1v1h-1zM43 63h1v1h-1zM44 63h1v1h-1zM48 63h1v1h-1zM50 63h1v1h-1zM51 63h1v1h-1zM52 63h1v1h-1zM53 63h1v1h-1zM55 63h1v1h-1zM57 63h1v1h-1zM59 63h1v1h-1zM61 63h1v1h-1zM63 63h1v1h-1zM67 63h1v1h-1zM68 63h1v1h-1zM69 63h1v1h-1zM71 63h1v1h-1zM73 63h1v1h-1zM75 63h1v1h-1zM76 63h1v1h-1zM77 63h1v1h-1zM79 63h1v1h-1zM81 63h1v1h-1zM82 63h1v1h-1zM83 63h1v1h-1zM84 63h1v1h-1zM86 63h1v1h-1zM88 63h1v1h-1zM90 63h1v1h-1zM92 63h1v1h-1zM93 63h1v1h-1zM95 63h1v1h-1zM96 63h1v1h-1zM98 63h1v1h-1zM101 63h1v1h-1zM102 63h1v1h-1zM103 63h1v1h-1zM109 63h1v1h-1zM112 63h1v1h-1zM113 63h1v1h-1zM115 63h1v1h-1zM118 63h1v1h-1zM119 63h1v1h-1zM124 63h1v1h-1zM125 63h1v1h-1zM19 64h1v1h-1zM33 64h1v1h-1zM38 64h1v1h-1zM41 64h1v1h-1zM44 64h1v1h-1zM47 64h1v1h-1zM48 64h1v1h-1zM51 64h1v1h-1zM55 64h1v1h-1zM59 64h1v1h-1zM64 64h1v1h-1zM66 64h1v1h-1zM67 64h1v1h-1zM70 64h1v1h-1zM71 64h1v1h-1zM72 64h1v1h-1zM73 64h1v1h-1zM74 64h1v1h-1zM75 64h1v1h-1zM77 64h1v1h-1zM79 64h1v1h-1zM81 64h1v1h-1zM83 64h1v1h-1zM84 64h1v1h-1zM85 64h1v1h-1zM90 64h1v1h-1zM92 64h1v1h-1zM95 64h1v1h-1zM97 64h1v1h-1zM101 64h1v1h-1zM103 64h1v1h-1zM105 64h1v1h-1zM107 64h1v1h-1zM111 64h1v1h-1zM112 64h1v1h-1zM113 64h1v1h-1zM115 64h1v1h-1zM116 64h1v1h-1zM120 64h1v1h-1zM23 65h1v1h-1zM26 65h1v1h-1zM37 65h1v1h-1zM44 65h1v1h-1zM45 65h1v1h-1zM48 65h1v1h-1zM50 65h1v1h-1zM51 65h1v1h-1zM55 65h1v1h-1zM61 65h1v1h-1zM62 65h1v1h-1zM66 65h1v1h-1zM69 65h1v1h-1zM70 65h1v1h-1zM72 65h1v1h-1zM73 65h1v1h-1zM76 65h1v1h-1zM78 65h1v1h-1zM81 65h1v1h-1zM82 65h1v1h-1zM83 65h1v1h-1zM84 65h1v1h-1zM85 65h1v1h-1zM86 65h1v1h-1zM87 65h1v1h-1zM88 65h1v1h-1zM89 65h1v1h-1zM93 65h1v1h-1zM96 65h1v1h-1zM98 65h1v1h-1zM100 65h1v1h-1zM109 65h1v1h-1zM112 65h1v1h-1zM119 65h1v1h-1zM123 65h1v1h-1zM124 65h1v1h-1zM127 65h1v1h-1zM22 66h1v1h-1zM33 66h1v1h-1zM34 66h1v1h-1zM36 66h1v1h-1zM44 66h1v1h-1zM47 66h1v1h-1zM48 66h1v1h-1zM52 66h1v1h-1zM55 66h1v1h-1zM57 66h1v1h-1zM61 66h1v1h-1zM62 66h1v1h-1zM65 66h1v1h-1zM66 66h1v1h-1zM68 66h1v1h-1zM70 66h1v1h-1zM71 66h1v1h-1zM72 66h1v1h-1zM75 66h1v1h-1zM77 66h1v1h-1zM78 66h1v1h-1zM83 66h1v1h-1zM84 66h1v1h-1zM86 66h1v1h-1zM87 66h1v1h-1zM88 66h1v1h-1zM94 66h1v1h-1zM95 66h1v1h-1zM97 66h1v1h-1zM99 66h1v1h-1zM100 66h1v1h-1zM102 66h1v1h-1zM106 66h1v1h-1zM107 66h1v1h-1zM114 66h1v1h-1zM115 66h1v1h-1zM24 67h1v1h-1zM31 67h1v1h-1zM35 67h1v1h-1zM37 67h1v1h-1zM39 67h1v1h-1zM42 67h1v1h-1zM43 67h1v1h-1zM44 67h1v1h-1zM45 67h1v1h-1zM48 67h1v1h-1zM49 67h1v1h-1zM53 67h1v1h-1zM54 67h1v1h-1zM56 67h1v1h-1zM57 67h1v1h-1zM64 67h1v1h-1zM68 67h1v1h-1zM69 67h1v1h-1zM71 67h1v1h-1zM73 67h1v1h-1zM74 67h1v1h-1zM75 67h1v1h-1zM76 67h1v1h-1zM78 67h1v1h-1zM80 67h1v1h-1zM81 67h1v1h-1zM83 67h1v1h-1zM84 67h1v1h-1zM89 67h1v1h-1zM97 67h1v1h-1zM102 67h1v1h-1zM103 67h1v1h-1zM120 67h1v1h-1zM22 68h1v1h-1zM33 68h1v1h-1zM35 68h1v1h-1zM38 68h1v1h-1zM39 68h1v1h-1zM55 68h1v1h-1zM63 68h1v1h-1zM64 68h1v1h-1zM65 68h1v1h-1zM68 68h1v1h-1zM70 68h1v1h-1zM72 68h1v1h-1zM74 68h1v1h-1zM75 68h1v1h-1zM79 68h1v1h-1zM80 68h1v1h-1zM83 68h1v1h-1zM90 68h1v1h-1zM91 68h1v1h-1zM94 68h1v1h-1zM98 68h1v1h-1zM103 68h1v1h-1zM110 68h1v1h-1zM111 68h1v1h-1zM119 68h1v1h-1zM20 69h1v1h-1zM39 69h1v1h-1zM42 69h1v1h-1zM43 69h1v1h-1zM46 69h1v1h-1zM52 69h1v1h-1zM53 69h1v1h-1zM54 69h1v1h-1zM57 69h1v1h-1zM58 69h1v1h-1zM59 69h1v1h-1zM60 69h1v1h-1zM61 69h1v1h-1zM62 69h1v1h-1zM64 69h1v1h-1zM71 69h1v1h-1zM73 69h1v1h-1zM74 69h1v1h-1zM75 69h1v1h-1zM79 69h1v1h-1zM81 69h1v1h-1zM84 69h1v1h-1zM87 69h1v1h-1zM100 69h1v1h-1zM110 69h1v1h-1zM111 69h1v1h-1zM114 69h1v1h-1zM30 70h1v1h-1zM32 70h1v1h-1zM36 70h1v1h-1zM44 70h1v1h-1zM47 70h1v1h-1zM51 70h1v1h-1zM56 70h1v1h-1zM57 70h1v1h-1zM58 70h1v1h-1zM59 70h1v1h-1zM62 70h1v1h-1zM63 70h1v1h-1zM64 70h1v1h-1zM72 70h1v1h-1zM73 70h1v1h-1zM77 70h1v1h-1zM78 70h1v1h-1zM79 70h1v1h-1zM82 70h1v1h-1zM85 70h1v1h-1zM98 70h1v1h-1zM99 70h1v1h-1zM102 70h1v1h-1zM106 70h1v1h-1zM25 71h1v1h-1zM35 71h1v1h-1zM37 71h1v1h-1zM39 71h1v1h-1zM46 71h1v1h-1zM65 71h1v1h-1zM67 71h1v1h-1zM69 71h1v1h-1zM73 71h1v1h-1zM76 71h1v1h-1zM78 71h1v1h-1zM80 71h1v1h-1zM83 71h1v1h-1zM90 71h1v1h-1zM91 71h1v1h-1zM93 71h1v1h-1zM94 71h1v1h-1zM97 71h1v1h-1zM112 71h1v1h-1zM37 72h1v1h-1zM39 72h1v1h-1zM57 72h1v1h-1zM58 72h1v1h-1zM60 72h1v1h-1zM62 72h1v1h-1zM70 72h1v1h-1zM71 72h1v1h-1zM76 72h1v1h-1zM81 72h1v1h-1zM82 72h1v1h-1zM83 72h1v1h-1zM85 72h1v1h-1zM94 72h1v1h-1zM97 72h1v1h-1zM100 72h1v1h-1zM125 72h1v1h-1zM17 73h1v1h-1zM37 73h1v1h-1zM38 73h1v1h-1zM40 73h1v1h-1zM47 73h1v1h-1zM53 73h1v1h-1zM54 73h1v1h-1zM55 73h1v1h-1zM58 73h1v1h-1zM60 73h1v1h-1zM63 73h1v1h-1zM67 73h1v1h-1zM71 73h1v1h-1zM73 73h1v1h-1zM74 73h1v1h-1zM76 73h1v1h-1zM77 73h1v1h-1zM83 73h1v1h-1zM87 73h1v1h-1zM88 73h1v1h-1zM92 73h1v1h-1zM103 73h1v1h-1zM105 73h1v1h-1zM110 73h1v1h-1zM113 73h1v1h-1zM115 73h1v1h-1zM17 74h1v1h-1zM28 74h1v1h-1zM29 74h1v1h-1zM55 74h1v1h-1zM72 74h1v1h-1zM79 74h1v1h-1zM87 74h1v1h-1zM89 74h1v1h-1zM97 74h1v1h-1zM22 75h1v1h-1zM25 75h1v1h-1zM32 75h1v1h-1zM43 75h1v1h-1zM48 75h1v1h-1zM54 75h1v1h-1zM61 75h1v1h-1zM68 75h1v1h-1zM77 75h1v1h-1zM82 75h1v1h-1zM85 75h1v1h-1zM86 75h1v1h-1zM87 75h1v1h-1zM107 75h1v1h-1zM110 75h1v1h-1zM24 76h1v1h-1zM63 76h1v1h-1zM65 76h1v1h-1zM71 76h1v1h-1zM74 76h1v1h-1zM84 76h1v1h-1zM86 76h1v1h-1zM87 76h1v1h-1zM89 76h1v1h-1zM104 76h1v1h-1zM21 77h1v1h-1zM41 77h1v1h-1zM49 77h1v1h-1zM56 77h1v1h-1zM67 77h1v1h-1zM70 77h1v1h-1zM74 77h1v1h-1zM83 77h1v1h-1zM86 77h1v1h-1zM99 77h1v1h-1zM105 77h1v1h-1zM108 77h1v1h-1zM110 77h1v1h-1zM112 77h1v1h-1zM122 77h1v1h-1zM22 78h1v1h-1zM28 78h1v1h-1zM47 78h1v1h-1zM51 78h1v1h-1zM56 78h1v1h-1zM64 78h1v1h-1zM69 78h1v1h-1zM76 78h1v1h-1zM78 78h1v1h-1zM80 78h1v1h-1zM87 78h1v1h-1zM102 78h1v1h-1zM117 78h1v1h-1zM17 79h1v1h-1zM22 79h1v1h-1zM26 79h1v1h-1zM39 79h1v1h-1zM46 79h1v1h-1zM47 79h1v1h-1zM60 79h1v1h-1zM64 79h1v1h-1zM84 79h1v1h-1zM92 79h1v1h-1zM94 79h1v1h-1zM98 79h1v1h-1zM41 80h1v1h-1zM44 80h1v1h-1zM47 80h1v1h-1zM51 80h1v1h-1zM52 80h1v1h-1zM64 80h1v1h-1zM86 80h1v1h-1zM116 80h1v1h-1zM118 80h1v1h-1zM32 81h1v1h-1zM34 81h1v1h-1zM42 81h1v1h-1zM46 81h1v1h-1zM60 81h1v1h-1zM80 81h1v1h-1zM91 81h1v1h-1zM94 81h1v1h-1zM96 81h1v1h-1zM119 81h1v1h-1zM23 82h1v1h-1zM40 82h1v1h-1zM70 82h1v1h-1zM76 82h1v1h-1zM80 82h1v1h-1zM82 82h1v1h-1zM84 82h1v1h-1zM90 82h1v1h-1zM44 83h1v1h-1zM56 83h1v1h-1zM67 83h1v1h-1zM87 83h1v1h-1zM97 83h1v1h-1zM98 83h1v1h-1zM105 83h1v1h-1zM109 83h1v1h-1zM111 83h1v1h-1zM32 84h1v1h-1zM49 84h1v1h-1zM51 84h1v1h-1zM61 84h1v1h-1zM65 84h1v1h-1zM80 84h1v1h-1zM102 84h1v1h-1zM108 84h1v1h-1zM111 84h1v1h-1zM33 85h1v1h-1zM47 85h1v1h-1zM85 85h1v1h-1zM93 85h1v1h-1zM95 85h1v1h-1zM106 85h1v1h-1zM112 85h1v1h-1zM115 85h1v1h-1zM22 86h1v1h-1zM24 86h1v1h-1zM30 86h1v1h-1zM50 86h1v1h-1zM55 86h1v1h-1zM100 86h1v1h-1zM107 86h1v1h-1zM113 86h1v1h-1zM26 87h1v1h-1zM28 87h1v1h-1zM60 87h1v1h-1zM107 87h1v1h-1zM110 87h1v1h-1zM126 87h1v1h-1zM31 88h1v1h-1zM50 88h1v1h-1zM72 88h1v1h-1zM74 88h1v1h-1zM43 89h1v1h-1zM59 89h1v1h-1zM60 89h1v1h-1zM88 89h1v1h-1zM100 89h1v1h-1zM22 90h1v1h-1zM24 90h1v1h-1zM37 90h1v1h-1zM51 90h1v1h-1zM65 90h1v1h-1zM76 90h1v1h-1zM87 90h1v1h-1zM98 90h1v1h-1zM121 90h1v1h-1zM25 91h1v1h-1zM34 91h1v1h-1zM38 91h1v1h-1zM96 91h1v1h-1zM103 91h1v1h-1zM104 91h1v1h-1zM105 91h1v1h-1zM107 91h1v1h-1zM119 91h1v1h-1zM124 91h1v1h-1zM35 92h1v1h-1zM43 92h1v1h-1zM46 92h1v1h-1zM50 92h1v1h-1zM58 92h1v1h-1zM67 92h1v1h-1zM83 92h1v1h-1zM106 92h1v1h-1zM125 92h1v1h-1zM29 93h1v1h-1zM37 93h1v1h-1zM39 93h1v1h-1zM43 93h1v1h-1zM50 93h1v1h-1zM54 93h1v1h-1zM71 93h1v1h-1zM72 93h1v1h-1zM114 93h1v1h-1zM52 94h1v1h-1zM58 94h1v1h-1zM66 94h1v1h-1zM75 94h1v1h-1zM89 94h1v1h-1zM93 94h1v1h-1zM124 94h1v1h-1zM36 95h1v1h-1zM53 95h1v1h-1zM71 95h1v1h-1zM80 95h1v1h-1zM87 95h1v1h-1zM98 95h1v1h-1zM116 95h1v1h-1zM117 95h1v1h-1zM127 95h1v1h-1zM51 96h1v1h-1zM71 96h1v1h-1zM73 96h1v1h-1zM87 96h1v1h-1zM99 96h1v1h-1zM108 96h1v1h-1zM113 96h1v1h-1zM117 96h1v1h-1zM31 97h1v1h-1zM32 97h1v1h-1zM43 97h1v1h-1zM71 97h1v1h-1zM81 97h1v1h-1zM98 97h1v1h-1zM100 97h1v1h-1zM125 97h1v1h-1zM48 98h1v1h-1zM51 98h1v1h-1zM61 98h1v1h-1zM73 98h1v1h-1zM95 98h1v1h-1zM96 98h1v1h-1zM116 98h1v1h-1zM120 98h1v1h-1zM40 99h1v1h-1zM100 99h1v1h-1zM38 100h1v1h-1zM49 100h1v1h-1zM61 100h1v1h-1zM65 100h1v1h-1zM66 100h1v1h-1zM73 100h1v1h-1zM77 100h1v1h-1zM113 100h1v1h-1zM114 100h1v1h-1zM72 101h1v1h-1zM78 101h1v1h-1zM83 101h1v1h-1zM106 101h1v1h-1zM128 101h1v1h-1zM41 102h1v1h-1zM45 102h1v1h-1zM81 102h1v1h-1zM102 102h1v1h-1zM58 103h1v1h-1zM66 103h1v1h-1zM78 103h1v1h-1zM102 103h1v1h-1zM103 103h1v1h-1zM53 104h1v1h-1zM75 104h1v1h-1zM78 104h1v1h-1zM90 104h1v1h-1zM97 104h1v1h-1zM102 104h1v1h-1zM115 104h1v1h-1zM126 104h1v1h-1zM95 105h1v1h-1zM106 105h1v1h-1zM117 105h1v1h-1zM60 106h1v1h-1zM78 106h1v1h-1zM90 106h1v1h-1zM97 106h1v1h-1zM100 106h1v1h-1zM111 106h1v1h-1zM94 107h1v1h-1zM118 107h1v1h-1zM120 107h1v1h-1zM73 108h1v1h-1zM81 108h1v1h-1zM110 108h1v1h-1zM115 108h1v1h-1zM125 108h1v1h-1zM108 109h1v1h-1zM80 110h1v1h-1zM86 110h1v1h-1zM92 110h1v1h-1zM97 110h1v1h-1zM111 110h1v1h-1zM123 110h1v1h-1zM84 111h1v1h-1zM93 111h1v1h-1zM102 111h1v1h-1zM119 111h1v1h-1zM89 112h1v1h-1zM118 112h1v1h-1zM91 113h1v1h-1zM97 113h1v1h-1zM99 113h1v1h-1zM104 113h1v1h-1zM105 113h1v1h-1zM108 113h1v1h-1zM86 114h1v1h-1zM109 114h1v1h-1zM116 114h1v1h-1zM98 115h1v1h-1zM107 115h1v1h-1zM88 116h1v1h-1zM108 116h1v1h-1zM110 116h1v1h-1zM81 117h1v1h-1zM81 118h1v1h-1zM84 118h1v1h-1zM88 118h1v1h-1zM84 120h1v1h-1zM87 120h1v1h-1zM86 123h1v1h-1z" fill="#c2c2c2"/>
<ellipse cx="56.6" cy="48.2" rx="6.2" ry="6.8" fill="#fff" opacity="0.92"/>
<ellipse cx="61.8" cy="59" rx="4.4" ry="4.4" fill="#fff" opacity="0.92"/>
<ellipse cx="81.5" cy="48.3" rx="7" ry="5" fill="#fff" opacity="0.7"/>
<path d="M62.65 53.87h0.9v0.9h-0.9zM60.28 47.89h0.9v0.9h-0.9zM62.23 61.1h0.9v0.9h-0.9zM56.11 52.48h0.9v0.9h-0.9zM53.5 46.77h0.9v0.9h-0.9zM63.63 55.77h0.9v0.9h-0.9zM57.15 55.73h0.9v0.9h-0.9zM52.96 41.09h0.9v0.9h-0.9zM55.72 54.23h0.9v0.9h-0.9zM52.95 53.46h0.9v0.9h-0.9zM55.2 47.04h0.9v0.9h-0.9zM61.84 49.3h0.9v0.9h-0.9zM61.88 58.24h0.9v0.9h-0.9zM56.01 41.73h0.9v0.9h-0.9zM59.28 56.77h0.9v0.9h-0.9zM58.78 61.86h0.9v0.9h-0.9zM59.86 50.37h0.9v0.9h-0.9zM64.52 61.6h0.9v0.9h-0.9zM59.54 41.22h0.9v0.9h-0.9zM59.98 50.48h0.9v0.9h-0.9zM59.18 60.1h0.9v0.9h-0.9zM54.97 46.78h0.9v0.9h-0.9zM50.6 43.45h0.9v0.9h-0.9zM54.28 53.17h0.9v0.9h-0.9zM54.62 49.58h0.9v0.9h-0.9zM60.24 49.14h0.9v0.9h-0.9zM60.72 44.46h0.9v0.9h-0.9zM50.7 54.33h0.9v0.9h-0.9zM61.58 44.08h0.9v0.9h-0.9zM61.05 44.69h0.9v0.9h-0.9zM56.55 42.28h0.9v0.9h-0.9zM51.4 49.09h0.9v0.9h-0.9zM64.04 61.92h0.9v0.9h-0.9zM62.05 55.66h0.9v0.9h-0.9zM59.35 52.75h0.9v0.9h-0.9zM60.5 52.42h0.9v0.9h-0.9zM54.82 50.33h0.9v0.9h-0.9zM60.87 63.17h0.9v0.9h-0.9zM55.51 50.96h0.9v0.9h-0.9zM56.43 45.83h0.9v0.9h-0.9zM53.01 51.98h0.9v0.9h-0.9zM54.54 54.3h0.9v0.9h-0.9zM62.37 43.66h0.9v0.9h-0.9zM57.78 45.31h0.9v0.9h-0.9zM60.34 56.59h0.9v0.9h-0.9zM53.54 46.3h0.9v0.9h-0.9zM54.85 48.55h0.9v0.9h-0.9zM64.28 61.1h0.9v0.9h-0.9zM62.66 50.06h0.9v0.9h-0.9zM57.32 45.63h0.9v0.9h-0.9zM57.36 62.87h0.9v0.9h-0.9zM51.46 50.07h0.9v0.9h-0.9zM54.82 52.21h0.9v0.9h-0.9zM58.22 59.42h0.9v0.9h-0.9zM61.54 58.12h0.9v0.9h-0.9zM54.2 46.77h0.9v0.9h-0.9zM59.56 42.13h0.9v0.9h-0.9zM64.99 57.57h0.9v0.9h-0.9zM57.9 49.31h0.9v0.9h-0.9zM51.24 53.75h0.9v0.9h-0.9zM62.37 43.7h0.9v0.9h-0.9zM57.52 59.21h0.9v0.9h-0.9zM58.58 54.5h0.9v0.9h-0.9zM57.21 59.81h0.9v0.9h-0.9zM61.28 59.83h0.9v0.9h-0.9zM54.05 52.61h0.9v0.9h-0.9zM58.7 54.42h0.9v0.9h-0.9zM57.17 44.66h0.9v0.9h-0.9zM61.85 58.02h0.9v0.9h-0.9zM59.96 62.03h0.9v0.9h-0.9z" fill="#c2c2c2"/>
<path d="M75.28 46.77h0.9v0.9h-0.9zM76.79 49.73h0.9v0.9h-0.9zM77.57 43.78h0.9v0.9h-0.9zM76.41 45.21h0.9v0.9h-0.9zM82.06 47.96h0.9v0.9h-0.9zM81 43.62h0.9v0.9h-0.9zM81.9 45.98h0.9v0.9h-0.9zM75.78 44.06h0.9v0.9h-0.9zM76.61 47.43h0.9v0.9h-0.9zM76.83 48.04h0.9v0.9h-0.9zM76.79 50.7h0.9v0.9h-0.9zM86.76 46.67h0.9v0.9h-0.9zM75.51 52.96h0.9v0.9h-0.9zM75.68 49.87h0.9v0.9h-0.9zM85.09 48.23h0.9v0.9h-0.9zM86.98 44.94h0.9v0.9h-0.9zM84.59 52.39h0.9v0.9h-0.9zM87.06 51.82h0.9v0.9h-0.9zM80.61 48.52h0.9v0.9h-0.9zM86.38 47.22h0.9v0.9h-0.9zM78.07 43.81h0.9v0.9h-0.9zM77.36 44.88h0.9v0.9h-0.9zM87.51 46.53h0.9v0.9h-0.9zM79.43 53.05h0.9v0.9h-0.9zM84.17 47.75h0.9v0.9h-0.9zM75.98 47.08h0.9v0.9h-0.9zM78.57 52.8h0.9v0.9h-0.9zM80.39 53.03h0.9v0.9h-0.9zM78.28 43.96h0.9v0.9h-0.9zM87.09 44.24h0.9v0.9h-0.9zM85.53 49.33h0.9v0.9h-0.9zM78.47 51.67h0.9v0.9h-0.9zM80.51 53.14h0.9v0.9h-0.9zM82.31 52.75h0.9v0.9h-0.9zM87.53 47.19h0.9v0.9h-0.9zM84.18 50.63h0.9v0.9h-0.9zM83.67 43.73h0.9v0.9h-0.9zM84.13 50.96h0.9v0.9h-0.9zM77.21 44.43h0.9v0.9h-0.9zM75.44 48.83h0.9v0.9h-0.9zM75.99 51.81h0.9v0.9h-0.9zM80.31 53.26h0.9v0.9h-0.9zM84.78 47.7h0.9v0.9h-0.9zM77.06 47.68h0.9v0.9h-0.9zM83 51.94h0.9v0.9h-0.9zM86.99 46.68h0.9v0.9h-0.9zM74.83 50.01h0.9v0.9h-0.9zM84.12 49.84h0.9v0.9h-0.9zM85.74 51.46h0.9v0.9h-0.9zM83.26 51.55h0.9v0.9h-0.9zM76.25 52.77h0.9v0.9h-0.9zM83.83 44.43h0.9v0.9h-0.9zM76.86 49.78h0.9v0.9h-0.9zM78.78 52.68h0.9v0.9h-0.9zM78.41 48.26h0.9v0.9h-0.9zM81.55 52.71h0.9v0.9h-0.9zM78.75 52.24h0.9v0.9h-0.9zM84.63 49.08h0.9v0.9h-0.9zM87.75 52.16h0.9v0.9h-0.9zM84.99 48.85h0.9v0.9h-0.9z" fill="#c2c2c2"/>
<polygon points="80.9,86 90,82.5 100,80.5 112,79.5 120,80.5 124,84 122,88 112,89 104,92 95,94 86,93 81,90" fill="#fff" opacity="0.7"/>
<path d="M108.95 81.2h1.0v1.0h-1.0zM108.62 84.53h1.0v1.0h-1.0zM97.6 91.43h1.0v1.0h-1.0zM100.15 87.27h1.0v1.0h-1.0zM107.09 80.64h1.0v1.0h-1.0zM85.95 89.05h1.0v1.0h-1.0zM89.36 90.43h1.0v1.0h-1.0zM110.49 81.9h1.0v1.0h-1.0zM115.43 86.36h1.0v1.0h-1.0zM110.9 80.71h1.0v1.0h-1.0zM96.95 89.71h1.0v1.0h-1.0zM96.67 81.92h1.0v1.0h-1.0zM100.56 81.54h1.0v1.0h-1.0zM101.35 80.94h1.0v1.0h-1.0zM112.22 82.59h1.0v1.0h-1.0zM108.11 88.83h1.0v1.0h-1.0zM89.47 88.59h1.0v1.0h-1.0zM104.57 88.43h1.0v1.0h-1.0zM88.88 86.41h1.0v1.0h-1.0zM116.93 88.46h1.0v1.0h-1.0zM91.4 84.34h1.0v1.0h-1.0zM101.5 86.94h1.0v1.0h-1.0zM85.48 91.71h1.0v1.0h-1.0zM100.51 83.73h1.0v1.0h-1.0zM84.4 91.52h1.0v1.0h-1.0zM113.64 82.36h1.0v1.0h-1.0zM94.6 87.06h1.0v1.0h-1.0zM113.34 86.84h1.0v1.0h-1.0zM105.35 80.13h1.0v1.0h-1.0zM86.69 89.25h1.0v1.0h-1.0zM86.52 92.54h1.0v1.0h-1.0zM104.83 88.14h1.0v1.0h-1.0zM86.01 84.37h1.0v1.0h-1.0zM96.8 90.2h1.0v1.0h-1.0zM88.69 86.19h1.0v1.0h-1.0zM120.37 82.03h1.0v1.0h-1.0zM95.94 88.43h1.0v1.0h-1.0zM110.69 86.19h1.0v1.0h-1.0zM103.7 91.69h1.0v1.0h-1.0zM85.03 88.17h1.0v1.0h-1.0zM94.56 90.45h1.0v1.0h-1.0zM111.69 85.53h1.0v1.0h-1.0zM87.45 90.59h1.0v1.0h-1.0zM111.11 87.67h1.0v1.0h-1.0zM91.44 89.5h1.0v1.0h-1.0zM115.67 83.36h1.0v1.0h-1.0zM119.82 84.05h1.0v1.0h-1.0zM114.6 84.87h1.0v1.0h-1.0zM100.65 88.01h1.0v1.0h-1.0zM115.6 85.54h1.0v1.0h-1.0zM119.64 82.64h1.0v1.0h-1.0zM103.35 81.6h1.0v1.0h-1.0zM88.26 83.72h1.0v1.0h-1.0zM82.95 87.76h1.0v1.0h-1.0zM107.63 85.24h1.0v1.0h-1.0zM115.28 87.41h1.0v1.0h-1.0zM110.35 80.74h1.0v1.0h-1.0zM87.79 91.82h1.0v1.0h-1.0zM86.74 88.14h1.0v1.0h-1.0zM97.17 89.25h1.0v1.0h-1.0zM113.77 83.53h1.0v1.0h-1.0zM95.05 87.09h1.0v1.0h-1.0zM117.34 80.94h1.0v1.0h-1.0zM106.46 85.4h1.0v1.0h-1.0zM97.35 85.38h1.0v1.0h-1.0zM111.75 85.92h1.0v1.0h-1.0zM121.47 82.3h1.0v1.0h-1.0zM115.99 85.37h1.0v1.0h-1.0zM99.37 88.2h1.0v1.0h-1.0zM93.28 92.27h1.0v1.0h-1.0zM113.23 83.22h1.0v1.0h-1.0zM98.29 85.54h1.0v1.0h-1.0zM111.44 83.63h1.0v1.0h-1.0zM96.21 86.8h1.0v1.0h-1.0zM91.12 85.72h1.0v1.0h-1.0zM113.13 86.82h1.0v1.0h-1.0zM105.48 82.86h1.0v1.0h-1.0zM97.61 87.61h1.0v1.0h-1.0zM96.61 82.15h1.0v1.0h-1.0zM118.61 80.45h1.0v1.0h-1.0zM119.96 80.88h1.0v1.0h-1.0zM104.78 87.4h1.0v1.0h-1.0zM98.55 88.58h1.0v1.0h-1.0zM118.97 84.13h1.0v1.0h-1.0zM118.76 88.18h1.0v1.0h-1.0zM113.4 85.15h1.0v1.0h-1.0zM94.86 89.51h1.0v1.0h-1.0zM87.82 84.48h1.0v1.0h-1.0zM101.01 90.92h1.0v1.0h-1.0zM85.62 88.77h1.0v1.0h-1.0zM95.09 89.55h1.0v1.0h-1.0zM93.72 82.21h1.0v1.0h-1.0zM92.5 89.99h1.0v1.0h-1.0zM115.75 83.22h1.0v1.0h-1.0zM111.84 86.59h1.0v1.0h-1.0zM90.68 90.35h1.0v1.0h-1.0zM100.72 92.28h1.0v1.0h-1.0zM115.68 87.24h1.0v1.0h-1.0zM98.18 87.24h1.0v1.0h-1.0zM87.35 87.91h1.0v1.0h-1.0zM92.58 85.04h1.0v1.0h-1.0zM100.96 83.7h1.0v1.0h-1.0zM88.28 89.17h1.0v1.0h-1.0zM107.89 80.67h1.0v1.0h-1.0zM90.52 83.58h1.0v1.0h-1.0zM96.61 86.61h1.0v1.0h-1.0zM119.82 80.97h1.0v1.0h-1.0zM105.65 88.55h1.0v1.0h-1.0zM92 84.65h1.0v1.0h-1.0zM100.07 92.36h1.0v1.0h-1.0z" fill="#c2c2c2"/>
<polygon points="104.4,92 111.8,89 119,87.6 126.5,89 130,93.5 130.5,99.4 128,105.3 122,112.6 113.2,117 105.9,119.3 100,116.3 97,109.7 97.8,102.4 100.7,96.5" fill="#c2c2c2"/>
<path d="M119.97 28.65h0.9v0.9h-0.9zM100.86 25.06h0.9v0.9h-0.9zM121.05 27.31h0.9v0.9h-0.9zM109.55 33.35h0.9v0.9h-0.9zM117.51 17.83h0.9v0.9h-0.9zM106.08 30.14h0.9v0.9h-0.9zM108.34 30.8h0.9v0.9h-0.9zM109.55 24.65h0.9v0.9h-0.9zM123.97 34.93h0.9v0.9h-0.9zM111.6 25.28h0.9v0.9h-0.9zM122.41 25.33h0.9v0.9h-0.9zM117.36 19.72h0.9v0.9h-0.9zM113.64 22.46h0.9v0.9h-0.9zM108.21 30.75h0.9v0.9h-0.9zM124.13 34.96h0.9v0.9h-0.9zM121.26 31.21h0.9v0.9h-0.9zM115.7 18.63h0.9v0.9h-0.9zM121.46 33.39h0.9v0.9h-0.9zM116.51 23.47h0.9v0.9h-0.9zM119.6 30.05h0.9v0.9h-0.9zM119.85 34.53h0.9v0.9h-0.9zM121.68 35.04h0.9v0.9h-0.9zM123.46 34.3h0.9v0.9h-0.9zM110.74 29.27h0.9v0.9h-0.9zM121.43 32.04h0.9v0.9h-0.9zM111.58 38.21h0.9v0.9h-0.9zM99.58 26.31h0.9v0.9h-0.9zM105.77 32.44h0.9v0.9h-0.9zM108.56 32.41h0.9v0.9h-0.9zM123.23 26.61h0.9v0.9h-0.9zM121.56 28.32h0.9v0.9h-0.9zM110.92 15.38h0.9v0.9h-0.9zM107.69 28.46h0.9v0.9h-0.9zM114.48 21.06h0.9v0.9h-0.9zM116.44 33.36h0.9v0.9h-0.9zM106.99 17.53h0.9v0.9h-0.9zM106.82 20.79h0.9v0.9h-0.9zM106.44 36.47h0.9v0.9h-0.9zM120.97 37.99h0.9v0.9h-0.9zM121.98 33.15h0.9v0.9h-0.9zM115.31 27.05h0.9v0.9h-0.9zM121.21 30.24h0.9v0.9h-0.9zM108.5 29.13h0.9v0.9h-0.9zM111.73 20.02h0.9v0.9h-0.9zM117.16 39.11h0.9v0.9h-0.9zM109.94 37.11h0.9v0.9h-0.9zM102.54 29.41h0.9v0.9h-0.9zM117.45 30.26h0.9v0.9h-0.9zM107.92 15h0.9v0.9h-0.9zM118.01 19.41h0.9v0.9h-0.9zM115.24 29.97h0.9v0.9h-0.9zM118.45 25.66h0.9v0.9h-0.9zM117.9 35.1h0.9v0.9h-0.9zM110.83 28.28h0.9v0.9h-0.9zM118.31 18.97h0.9v0.9h-0.9zM102.34 31.92h0.9v0.9h-0.9zM105.5 27.48h0.9v0.9h-0.9zM118.91 34.74h0.9v0.9h-0.9zM114.74 16.9h0.9v0.9h-0.9zM118.34 30.64h0.9v0.9h-0.9z" fill="#b0dce4"/>
<path d="M118.95 113.83h0.9v0.9h-0.9zM114 96.82h0.9v0.9h-0.9zM99.05 109.9h0.9v0.9h-0.9zM119.3 107.65h0.9v0.9h-0.9zM114.15 102.03h0.9v0.9h-0.9zM127.79 99.53h0.9v0.9h-0.9zM102.21 103.22h0.9v0.9h-0.9zM113.42 99.88h0.9v0.9h-0.9zM123.34 95.53h0.9v0.9h-0.9zM129.51 94.33h0.9v0.9h-0.9zM106.51 113.9h0.9v0.9h-0.9zM104.84 110.58h0.9v0.9h-0.9zM106.17 100.57h0.9v0.9h-0.9zM112.73 95.41h0.9v0.9h-0.9zM127.98 92.64h0.9v0.9h-0.9zM121.8 104.94h0.9v0.9h-0.9zM119.87 95.88h0.9v0.9h-0.9zM110.46 89.67h0.9v0.9h-0.9zM110.19 111.41h0.9v0.9h-0.9zM107.59 93.47h0.9v0.9h-0.9zM115.05 116h0.9v0.9h-0.9zM118.63 91.09h0.9v0.9h-0.9zM111.46 94.86h0.9v0.9h-0.9zM124.2 100.86h0.9v0.9h-0.9zM111.86 115.42h0.9v0.9h-0.9zM106.95 101.82h0.9v0.9h-0.9zM129.84 97.32h0.9v0.9h-0.9zM115.08 108.15h0.9v0.9h-0.9zM108.22 107.54h0.9v0.9h-0.9zM111.12 113.95h0.9v0.9h-0.9zM115.65 110.64h0.9v0.9h-0.9zM116.2 109.7h0.9v0.9h-0.9zM110.06 92.29h0.9v0.9h-0.9zM109.18 97.92h0.9v0.9h-0.9zM114.58 102.82h0.9v0.9h-0.9zM120.6 89.71h0.9v0.9h-0.9zM101.21 110.33h0.9v0.9h-0.9zM125.78 100.54h0.9v0.9h-0.9zM108.51 101.36h0.9v0.9h-0.9zM122.77 102.24h0.9v0.9h-0.9zM122.09 103.88h0.9v0.9h-0.9zM121.86 103.26h0.9v0.9h-0.9zM116.46 100.92h0.9v0.9h-0.9zM116.03 105.31h0.9v0.9h-0.9zM100.45 105.53h0.9v0.9h-0.9zM128.13 95.28h0.9v0.9h-0.9zM122.95 95.67h0.9v0.9h-0.9zM120.91 96.54h0.9v0.9h-0.9zM116.95 112.17h0.9v0.9h-0.9zM114.54 95.34h0.9v0.9h-0.9zM107.29 105.18h0.9v0.9h-0.9zM121.83 93.25h0.9v0.9h-0.9zM118.25 100.38h0.9v0.9h-0.9zM122.56 110.65h0.9v0.9h-0.9zM109.32 106.29h0.9v0.9h-0.9zM101.88 106.92h0.9v0.9h-0.9zM118.68 95.1h0.9v0.9h-0.9zM119.33 92h0.9v0.9h-0.9zM104.19 110.81h0.9v0.9h-0.9zM117.59 99.6h0.9v0.9h-0.9zM120.21 111.7h0.9v0.9h-0.9zM119.77 94.52h0.9v0.9h-0.9zM111.54 116.98h0.9v0.9h-0.9zM130.28 98.52h0.9v0.9h-0.9zM103.4 95.34h0.9v0.9h-0.9zM113.4 92.18h0.9v0.9h-0.9zM104.95 110.81h0.9v0.9h-0.9zM97.63 107h0.9v0.9h-0.9zM110.66 110.11h0.9v0.9h-0.9zM105.67 102.77h0.9v0.9h-0.9z" fill="#b0dce4"/>
<path d="M125.96 99.22h0.8v0.8h-0.8zM106.89 117.22h0.8v0.8h-0.8zM109.4 104.75h0.8v0.8h-0.8zM101.71 100.65h0.8v0.8h-0.8zM101.36 108.22h0.8v0.8h-0.8zM115.28 99.3h0.8v0.8h-0.8zM120.86 94.57h0.8v0.8h-0.8zM117.37 100.83h0.8v0.8h-0.8zM101.67 112.19h0.8v0.8h-0.8zM103.18 112.97h0.8v0.8h-0.8zM122.5 101.45h0.8v0.8h-0.8zM112.19 94.1h0.8v0.8h-0.8zM101.67 109.67h0.8v0.8h-0.8zM109.42 105.44h0.8v0.8h-0.8zM109.33 96.04h0.8v0.8h-0.8zM102.46 111.77h0.8v0.8h-0.8zM111.5 92.44h0.8v0.8h-0.8zM126.25 92.48h0.8v0.8h-0.8zM104.68 92.58h0.8v0.8h-0.8zM115.75 112.25h0.8v0.8h-0.8zM111.13 101.45h0.8v0.8h-0.8zM126.17 96.63h0.8v0.8h-0.8zM127.84 92.06h0.8v0.8h-0.8zM111.16 114.03h0.8v0.8h-0.8zM107.43 95.36h0.8v0.8h-0.8zM97.69 104.51h0.8v0.8h-0.8zM115.43 94.31h0.8v0.8h-0.8zM105.68 107.66h0.8v0.8h-0.8zM102.79 112.52h0.8v0.8h-0.8zM126.22 100.92h0.8v0.8h-0.8zM101.36 105.69h0.8v0.8h-0.8zM120.76 105.33h0.8v0.8h-0.8zM106.09 95.44h0.8v0.8h-0.8zM108.78 106.16h0.8v0.8h-0.8zM104.39 102.35h0.8v0.8h-0.8zM116.44 97.27h0.8v0.8h-0.8zM117.27 104.78h0.8v0.8h-0.8zM110.88 92.28h0.8v0.8h-0.8zM115.3 106.4h0.8v0.8h-0.8zM117.38 112.06h0.8v0.8h-0.8z" fill="#e8e8e8"/>
<path d="M15.8 99 V124.8 H36.2 M13.9 101.6 L15.8 99 L17.7 101.6 M33.6 122.9 L36.2 124.8 L33.6 126.7" fill="none" stroke="#444" stroke-width="0.7" stroke-linejoin="miter"/>
<text x="7.2" y="112.4" font-size="2.9" font-family="Liberation Sans" fill="#222" text-anchor="middle" transform="rotate(-90 7.2 112.4)">UMAP_2</text>
<text x="26" y="138.9" font-size="2.6" font-family="Liberation Sans" fill="#222" text-anchor="middle">UMAP_1</text>
<circle cx="144.1" cy="68.8" r="0.55" fill="#bebebe"/>
<text x="148.5" y="70.5" font-size="4.2" font-family="Liberation Sans" fill="#222">No TCR</text>
<circle cx="144.1" cy="75.4" r="0.55" fill="#9fd3df"/>
<text x="148.5" y="77" font-size="4.2" font-family="Liberation Sans" fill="#222">TCR</text>
<text x="238.4" y="11.3" font-size="3.4" font-family="Liberation Sans" fill="#000" text-anchor="middle">celltype</text>
<line x1="178.3" y1="14" x2="178.3" y2="127.6" stroke="#333" stroke-width="0.5"/>
<line x1="178.3" y1="127.6" x2="297.5" y2="127.6" stroke="#333" stroke-width="0.5"/>
<line x1="176.8" y1="42" x2="178.3" y2="42" stroke="#333" stroke-width="0.4"/>
<text x="175.8" y="43" font-size="2.6" font-family="Liberation Sans" fill="#333" text-anchor="end">4</text>
<line x1="176.8" y1="71.8" x2="178.3" y2="71.8" stroke="#333" stroke-width="0.4"/>
<text x="175.8" y="72.8" font-size="2.6" font-family="Liberation Sans" fill="#333" text-anchor="end">0</text>
<line x1="176.8" y1="102" x2="178.3" y2="102" stroke="#333" stroke-width="0.4"/>
<text x="175.8" y="103" font-size="2.6" font-family="Liberation Sans" fill="#333" text-anchor="end">-4</text>
<line x1="210.1" y1="127.6" x2="210.1" y2="129.1" stroke="#333" stroke-width="0.4"/>
<text x="210.1" y="131.9" font-size="2.4" font-family="Liberation Sans" fill="#333" text-anchor="middle">-5</text>
<line x1="241.4" y1="127.6" x2="241.4" y2="129.1" stroke="#333" stroke-width="0.4"/>
<text x="241.4" y="131.9" font-size="2.4" font-family="Liberation Sans" fill="#333" text-anchor="middle">0</text>
<line x1="273.4" y1="127.6" x2="273.4" y2="129.1" stroke="#333" stroke-width="0.4"/>
<text x="273.4" y="131.9" font-size="2.4" font-family="Liberation Sans" fill="#333" text-anchor="middle">5</text>
<text x="174.4" y="71.5" font-size="3" font-family="Liberation Sans" fill="#333" text-anchor="middle" transform="rotate(-90 174.4 71.5)">UMAP_2</text>
<text x="238.5" y="135.5" font-size="2.6" font-family="Liberation Sans" fill="#333" text-anchor="middle">UMAP_1</text>
<polygon points="191.7,60.7 197,58.5 203,58 209,58.5 212.6,59.8 216.4,64 215,70 210,78 208.8,81.7 205,93 199.3,98.8 191.7,97.9 186,91.2 184,84 184,77.9 186.9,66.4" fill="#a9a632" stroke="#a9a632" stroke-width="1.2" stroke-linejoin="round"/>
<polygon points="205,93 208.8,81.7 212,76 216,72 222,68 226,69 231.7,76 237.4,83.6 241,93 243,102.6 241,107.4 231.7,106.4 222,104.5 214.5,102.6 205,98.8" fill="#dc8f2a" stroke="#dc8f2a" stroke-width="1.2" stroke-linejoin="round"/>
<polygon points="214.5,21.5 219.5,22 226,27 229,35 231,41 227.7,46 219.5,49.5 213,54.5 206,53 200.5,48 199.6,41 203,35 209.5,31 212,26" fill="#5ccde0" stroke="#5ccde0" stroke-width="1.2" stroke-linejoin="round"/>
<polygon points="274.5,27 280,28.5 283,31 287,40 288,48 284.8,52.6 273.4,53.7 265,52.5 258,50.5 251.5,49.5 254.8,44.5 259.7,38 266,30" fill="#b68cf6" stroke="#b68cf6" stroke-width="1.2" stroke-linejoin="round"/>
<polygon points="250.6,20 256,19 262,20.5 267,24.5 265,27 258,25 251,24" fill="#ea78ea" stroke="#ea78ea" stroke-width="1.2" stroke-linejoin="round"/>
<polygon points="239,76.5 243.7,69.7 251,62 257.4,57 265,52.5 273,53.5 270,60 268,70 272,80 279,82.2 272,87 262,88.5 250,86.5 242,82" fill="#5fd3b0" stroke="#5fd3b0" stroke-width="1.2" stroke-linejoin="round"/>
<polygon points="273.4,53.7 284.8,52.6 290.5,58.3 291.6,67.4 287,76.5 279,82.2 272,80 268,70 270,60" fill="#52cf6a" stroke="#52cf6a" stroke-width="1.2" stroke-linejoin="round"/>
<polygon points="226.5,42.6 232.8,43.9 239.2,47.7 243,52.8 248,57.8 253,54 258.2,49 262,48.3 262,51.5 258.2,56.6 251.9,61.6 245.5,68 241.7,73 236.6,76.9 232.8,74.3 231.6,69.2 230.3,62.9 227.8,57.8 225.2,52.8 224,47.7" fill="#f07870" stroke="#f07870" stroke-width="1.2" stroke-linejoin="round"/>
<polygon points="246.9,102.6 252,100.5 256.4,100.7 260,108.3 259,115 255,121 252.6,122.6 248.5,119 245,110.2" fill="#4eacf6" stroke="#4eacf6" stroke-width="1.2" stroke-linejoin="round"/>
<polygon points="264,92.5 269,90 275.7,89 283,89.5 289.4,91.4 292.8,99.4 291,105 289.4,108.5 280,113 271,115.3 264,110.8 262,101.6" fill="#f57ac6" stroke="#f57ac6" stroke-width="1.2" stroke-linejoin="round"/>
<polygon points="221.4,70 226,68.6 232.2,69 230,74 224,76.9 221.4,75" fill="#6cc83c" stroke="#6cc83c" stroke-width="1.2" stroke-linejoin="round"/>
<path d="M208.35 58.07h0.8v0.8h-0.8zM183.43 84.94h0.8v0.8h-0.8zM217.15 68.93h0.8v0.8h-0.8zM181.85 78.3h0.8v0.8h-0.8zM186.62 92.77h0.8v0.8h-0.8zM184.02 79.49h0.8v0.8h-0.8zM211.91 76.19h0.8v0.8h-0.8zM195.43 97.7h0.8v0.8h-0.8zM184.72 84.63h0.8v0.8h-0.8zM185.33 86.58h0.8v0.8h-0.8zM199.37 57.07h0.8v0.8h-0.8zM183.38 85.35h0.8v0.8h-0.8zM190.67 95.63h0.8v0.8h-0.8zM202.98 93.88h0.8v0.8h-0.8zM194.53 60.71h0.8v0.8h-0.8zM195.12 98.63h0.8v0.8h-0.8zM209.92 56.92h0.8v0.8h-0.8zM206.59 57.59h0.8v0.8h-0.8zM205.23 58.05h0.8v0.8h-0.8zM190.07 59.14h0.8v0.8h-0.8zM191.57 95h0.8v0.8h-0.8zM206.65 81.73h0.8v0.8h-0.8zM185.29 87.09h0.8v0.8h-0.8zM183.89 82.78h0.8v0.8h-0.8zM209.1 83.67h0.8v0.8h-0.8zM184.45 82.16h0.8v0.8h-0.8zM187.49 66.71h0.8v0.8h-0.8zM185.17 71.24h0.8v0.8h-0.8zM203.82 95.02h0.8v0.8h-0.8zM207 89.4h0.8v0.8h-0.8zM211.13 76.4h0.8v0.8h-0.8zM195.39 58.98h0.8v0.8h-0.8zM182.77 84.08h0.8v0.8h-0.8zM189.21 63.12h0.8v0.8h-0.8zM203.44 57.88h0.8v0.8h-0.8zM209.63 79h0.8v0.8h-0.8zM210.14 78.91h0.8v0.8h-0.8zM198.34 98.2h0.8v0.8h-0.8zM212.27 61.53h0.8v0.8h-0.8zM205.82 84.01h0.8v0.8h-0.8zM183.15 80.76h0.8v0.8h-0.8zM182.93 80.83h0.8v0.8h-0.8zM189.24 95.38h0.8v0.8h-0.8zM197.87 59.16h0.8v0.8h-0.8zM188.82 93.29h0.8v0.8h-0.8zM184.66 91.27h0.8v0.8h-0.8zM190.99 96.81h0.8v0.8h-0.8zM205.61 58.38h0.8v0.8h-0.8zM209.12 58.8h0.8v0.8h-0.8zM194.35 58.45h0.8v0.8h-0.8zM212.26 59.16h0.8v0.8h-0.8zM185.3 88.76h0.8v0.8h-0.8zM184.33 78.61h0.8v0.8h-0.8zM201.84 58.82h0.8v0.8h-0.8zM208.67 81.95h0.8v0.8h-0.8zM212.13 72.4h0.8v0.8h-0.8zM216.58 63.97h0.8v0.8h-0.8zM184.28 81.7h0.8v0.8h-0.8zM209.55 75.63h0.8v0.8h-0.8zM194.39 60.26h0.8v0.8h-0.8zM193.29 97.27h0.8v0.8h-0.8zM198.6 100h0.8v0.8h-0.8zM205.99 57.4h0.8v0.8h-0.8zM191.18 60.91h0.8v0.8h-0.8zM201.98 93.72h0.8v0.8h-0.8zM209.15 80.58h0.8v0.8h-0.8zM184.22 78.76h0.8v0.8h-0.8zM192.1 64.74h0.8v0.8h-0.8zM211.69 76.31h0.8v0.8h-0.8zM200.03 58.79h0.8v0.8h-0.8z" fill="#a9a632"/>
<path d="M242.17 108.37h0.8v0.8h-0.8zM240.88 106.1h0.8v0.8h-0.8zM221.99 68.11h0.8v0.8h-0.8zM242.84 104.86h0.8v0.8h-0.8zM228.27 105.62h0.8v0.8h-0.8zM224.16 68.48h0.8v0.8h-0.8zM205.12 96.62h0.8v0.8h-0.8zM210.55 101.12h0.8v0.8h-0.8zM204.59 98.25h0.8v0.8h-0.8zM220.73 69.13h0.8v0.8h-0.8zM208.08 100.47h0.8v0.8h-0.8zM212.43 74.3h0.8v0.8h-0.8zM218.56 71.27h0.8v0.8h-0.8zM236.43 107.44h0.8v0.8h-0.8zM213.08 76.95h0.8v0.8h-0.8zM216.83 102.7h0.8v0.8h-0.8zM239.73 96.33h0.8v0.8h-0.8zM239.19 83.3h0.8v0.8h-0.8zM237.63 88.35h0.8v0.8h-0.8zM211.96 75.76h0.8v0.8h-0.8zM231.94 75.5h0.8v0.8h-0.8zM222.09 105.36h0.8v0.8h-0.8zM241.15 100.84h0.8v0.8h-0.8zM232.08 106.59h0.8v0.8h-0.8zM226.91 71.4h0.8v0.8h-0.8zM238.6 107.9h0.8v0.8h-0.8zM242.86 105.71h0.8v0.8h-0.8zM217.58 70.79h0.8v0.8h-0.8zM208.34 80.53h0.8v0.8h-0.8zM205.89 87.97h0.8v0.8h-0.8zM240.9 96.82h0.8v0.8h-0.8zM228.17 70.77h0.8v0.8h-0.8zM223.95 66.76h0.8v0.8h-0.8zM228.86 107.64h0.8v0.8h-0.8zM220.16 68.69h0.8v0.8h-0.8zM226.14 103.54h0.8v0.8h-0.8zM224.14 105.75h0.8v0.8h-0.8zM224.61 67.97h0.8v0.8h-0.8zM236.56 83.12h0.8v0.8h-0.8zM242.54 103.85h0.8v0.8h-0.8zM238.73 90.4h0.8v0.8h-0.8zM242.25 107.87h0.8v0.8h-0.8zM243.97 100.56h0.8v0.8h-0.8zM242.13 95.31h0.8v0.8h-0.8zM221.65 67.34h0.8v0.8h-0.8zM226.28 68.48h0.8v0.8h-0.8zM207.49 88.89h0.8v0.8h-0.8zM205.65 99.13h0.8v0.8h-0.8zM207.67 99.7h0.8v0.8h-0.8zM231.34 106.09h0.8v0.8h-0.8zM239.72 86.23h0.8v0.8h-0.8zM226.33 70.06h0.8v0.8h-0.8zM204.52 99.61h0.8v0.8h-0.8zM220.88 68.38h0.8v0.8h-0.8zM234.41 81.09h0.8v0.8h-0.8zM218.66 70.69h0.8v0.8h-0.8zM215.88 72.23h0.8v0.8h-0.8zM231.92 80.3h0.8v0.8h-0.8zM228.87 105.31h0.8v0.8h-0.8zM238.31 107.47h0.8v0.8h-0.8zM212.84 76.78h0.8v0.8h-0.8zM240.9 94.95h0.8v0.8h-0.8zM232.83 77.85h0.8v0.8h-0.8zM205.17 94.73h0.8v0.8h-0.8zM236.17 83.79h0.8v0.8h-0.8zM234.85 104.89h0.8v0.8h-0.8zM238.08 88.6h0.8v0.8h-0.8zM207.92 82.34h0.8v0.8h-0.8zM210.15 77.66h0.8v0.8h-0.8zM237.95 87.04h0.8v0.8h-0.8z" fill="#dc8f2a"/>
<path d="M229.01 34.08h0.8v0.8h-0.8zM203.23 51.58h0.8v0.8h-0.8zM228.99 35.61h0.8v0.8h-0.8zM215.37 52.44h0.8v0.8h-0.8zM206.91 33.27h0.8v0.8h-0.8zM213.6 54.45h0.8v0.8h-0.8zM210.1 29.49h0.8v0.8h-0.8zM215.28 53.15h0.8v0.8h-0.8zM213.12 26.08h0.8v0.8h-0.8zM211.68 28.47h0.8v0.8h-0.8zM217.4 49.75h0.8v0.8h-0.8zM225.13 47.64h0.8v0.8h-0.8zM212.55 24.47h0.8v0.8h-0.8zM202.73 37.04h0.8v0.8h-0.8zM198.93 43.61h0.8v0.8h-0.8zM203.36 36.69h0.8v0.8h-0.8zM229.14 30.84h0.8v0.8h-0.8zM211.68 26.37h0.8v0.8h-0.8zM200.61 47.61h0.8v0.8h-0.8zM204.67 50.69h0.8v0.8h-0.8zM207.6 53.98h0.8v0.8h-0.8zM210.72 26.97h0.8v0.8h-0.8zM230.77 41.4h0.8v0.8h-0.8zM208.24 52.76h0.8v0.8h-0.8zM229.13 44.39h0.8v0.8h-0.8zM219.53 49.84h0.8v0.8h-0.8zM201.43 49.01h0.8v0.8h-0.8zM221.85 22.34h0.8v0.8h-0.8zM228.59 45.34h0.8v0.8h-0.8zM224.29 47.61h0.8v0.8h-0.8zM219.11 21.24h0.8v0.8h-0.8zM229.71 42.18h0.8v0.8h-0.8zM201.22 40.44h0.8v0.8h-0.8zM221.66 24.02h0.8v0.8h-0.8zM226.26 46.52h0.8v0.8h-0.8zM201.35 50.35h0.8v0.8h-0.8zM230.82 45.75h0.8v0.8h-0.8zM230.3 37.7h0.8v0.8h-0.8zM228.09 36.3h0.8v0.8h-0.8zM217.33 20.99h0.8v0.8h-0.8zM209.53 28.2h0.8v0.8h-0.8zM226.14 26.42h0.8v0.8h-0.8zM207.58 31.63h0.8v0.8h-0.8zM218.05 50.36h0.8v0.8h-0.8zM219.51 22.23h0.8v0.8h-0.8zM229.38 33.73h0.8v0.8h-0.8zM205.26 31.86h0.8v0.8h-0.8zM226.38 27.29h0.8v0.8h-0.8zM204.41 50.71h0.8v0.8h-0.8zM229.03 41.1h0.8v0.8h-0.8zM210.38 28.62h0.8v0.8h-0.8zM204.45 34.92h0.8v0.8h-0.8zM225.57 26.42h0.8v0.8h-0.8zM226.59 29.09h0.8v0.8h-0.8zM227.81 33.08h0.8v0.8h-0.8zM209.16 32.21h0.8v0.8h-0.8zM199.89 43.93h0.8v0.8h-0.8zM201.12 39.83h0.8v0.8h-0.8zM209.75 31.58h0.8v0.8h-0.8zM211.44 52.71h0.8v0.8h-0.8zM224.07 25.68h0.8v0.8h-0.8zM227.22 31.35h0.8v0.8h-0.8zM217.44 20.86h0.8v0.8h-0.8zM227.11 27.54h0.8v0.8h-0.8zM230.08 34.07h0.8v0.8h-0.8zM224.58 28.75h0.8v0.8h-0.8zM209.66 53.43h0.8v0.8h-0.8zM206.29 32.76h0.8v0.8h-0.8zM206.28 32.51h0.8v0.8h-0.8zM223.48 47.27h0.8v0.8h-0.8z" fill="#5ccde0"/>
<path d="M254.96 43.47h0.8v0.8h-0.8zM287.43 43.32h0.8v0.8h-0.8zM289.11 46.09h0.8v0.8h-0.8zM285.77 38.82h0.8v0.8h-0.8zM277.11 54.01h0.8v0.8h-0.8zM265.25 33.79h0.8v0.8h-0.8zM268.28 53.11h0.8v0.8h-0.8zM283.97 34.14h0.8v0.8h-0.8zM278.24 53.31h0.8v0.8h-0.8zM265.94 52.44h0.8v0.8h-0.8zM258.98 42.28h0.8v0.8h-0.8zM286.62 51.09h0.8v0.8h-0.8zM283.07 31.46h0.8v0.8h-0.8zM285.1 38.63h0.8v0.8h-0.8zM282.74 53.94h0.8v0.8h-0.8zM282.76 31.06h0.8v0.8h-0.8zM284.71 37.56h0.8v0.8h-0.8zM269.69 29.36h0.8v0.8h-0.8zM285.11 49.49h0.8v0.8h-0.8zM259.01 39.53h0.8v0.8h-0.8zM259.79 51.43h0.8v0.8h-0.8zM263.17 30.22h0.8v0.8h-0.8zM262.41 36.51h0.8v0.8h-0.8zM280.1 29.79h0.8v0.8h-0.8zM270.73 27.11h0.8v0.8h-0.8zM278.08 27.96h0.8v0.8h-0.8zM284.9 49.32h0.8v0.8h-0.8zM266.25 32.88h0.8v0.8h-0.8zM282.66 29.56h0.8v0.8h-0.8zM288.06 48.56h0.8v0.8h-0.8zM287.77 49.19h0.8v0.8h-0.8zM262.82 34.04h0.8v0.8h-0.8zM282.17 53.06h0.8v0.8h-0.8zM250.82 49.82h0.8v0.8h-0.8zM278.12 27.65h0.8v0.8h-0.8zM288.03 48.53h0.8v0.8h-0.8zM252.3 49.33h0.8v0.8h-0.8zM260.68 37.07h0.8v0.8h-0.8zM265.39 29.84h0.8v0.8h-0.8zM267.52 29.89h0.8v0.8h-0.8zM286.32 42.04h0.8v0.8h-0.8zM283.23 32.09h0.8v0.8h-0.8zM282.78 29.17h0.8v0.8h-0.8zM252.93 48.91h0.8v0.8h-0.8zM285.71 52.55h0.8v0.8h-0.8zM288.52 45.07h0.8v0.8h-0.8zM270.46 55.5h0.8v0.8h-0.8zM286.49 37.31h0.8v0.8h-0.8zM272.53 53h0.8v0.8h-0.8zM278.61 52.56h0.8v0.8h-0.8zM254.87 45.57h0.8v0.8h-0.8zM276.03 28.25h0.8v0.8h-0.8zM278.97 27.62h0.8v0.8h-0.8zM281.13 31.64h0.8v0.8h-0.8zM288.55 49.54h0.8v0.8h-0.8zM287.46 49.59h0.8v0.8h-0.8zM257.65 38.75h0.8v0.8h-0.8zM285.28 38.47h0.8v0.8h-0.8zM252.71 48.92h0.8v0.8h-0.8zM276.04 28.55h0.8v0.8h-0.8zM278.32 27.28h0.8v0.8h-0.8zM266.12 51.48h0.8v0.8h-0.8zM269.25 28.73h0.8v0.8h-0.8zM275.85 26.71h0.8v0.8h-0.8zM273.6 52.85h0.8v0.8h-0.8zM277.55 28.64h0.8v0.8h-0.8zM288.87 46.51h0.8v0.8h-0.8zM251.4 50.19h0.8v0.8h-0.8zM251.99 50.33h0.8v0.8h-0.8zM267.57 29.32h0.8v0.8h-0.8z" fill="#b68cf6"/>
<path d="M253.56 25.81h0.8v0.8h-0.8zM265.58 23.37h0.8v0.8h-0.8zM251.23 23.99h0.8v0.8h-0.8zM249.22 20.73h0.8v0.8h-0.8zM251.77 19.77h0.8v0.8h-0.8zM265.98 22.06h0.8v0.8h-0.8zM261.79 21.84h0.8v0.8h-0.8zM258.28 19.14h0.8v0.8h-0.8zM249.99 22.21h0.8v0.8h-0.8zM255.08 25.39h0.8v0.8h-0.8zM265.28 23.23h0.8v0.8h-0.8zM257.03 18.79h0.8v0.8h-0.8zM261.95 27.33h0.8v0.8h-0.8zM251.4 21.61h0.8v0.8h-0.8zM262.46 20.95h0.8v0.8h-0.8zM252.6 18.52h0.8v0.8h-0.8zM267.58 22.88h0.8v0.8h-0.8zM250.98 21.57h0.8v0.8h-0.8zM257.46 20.72h0.8v0.8h-0.8zM265.12 27.01h0.8v0.8h-0.8zM256.81 24.56h0.8v0.8h-0.8zM261.22 26.99h0.8v0.8h-0.8zM261.08 24.94h0.8v0.8h-0.8zM261.59 21.07h0.8v0.8h-0.8zM250.61 20.12h0.8v0.8h-0.8zM266.67 23.61h0.8v0.8h-0.8zM265.2 25.64h0.8v0.8h-0.8zM259.26 25.73h0.8v0.8h-0.8zM262.31 23.1h0.8v0.8h-0.8zM258.46 24.74h0.8v0.8h-0.8zM251.38 22.31h0.8v0.8h-0.8zM250.96 24.55h0.8v0.8h-0.8zM251.23 23.81h0.8v0.8h-0.8zM251.27 21.46h0.8v0.8h-0.8zM259.77 20.24h0.8v0.8h-0.8zM259.9 21.18h0.8v0.8h-0.8zM263.14 20.84h0.8v0.8h-0.8zM253.98 18.94h0.8v0.8h-0.8zM263.99 28.67h0.8v0.8h-0.8zM253.73 24.64h0.8v0.8h-0.8zM250.6 21.02h0.8v0.8h-0.8zM250.13 19.49h0.8v0.8h-0.8zM252.07 20.19h0.8v0.8h-0.8zM264.19 21.03h0.8v0.8h-0.8zM260.8 20.44h0.8v0.8h-0.8zM258.55 18.72h0.8v0.8h-0.8zM261.97 20.89h0.8v0.8h-0.8zM263.86 25.72h0.8v0.8h-0.8zM258.3 20.35h0.8v0.8h-0.8zM264.33 23.39h0.8v0.8h-0.8zM253.54 18.18h0.8v0.8h-0.8zM266.32 28.85h0.8v0.8h-0.8zM267.1 27.23h0.8v0.8h-0.8zM262.31 25.75h0.8v0.8h-0.8zM265.98 27.05h0.8v0.8h-0.8zM252.17 18.88h0.8v0.8h-0.8zM251.92 20.48h0.8v0.8h-0.8zM250.67 21.41h0.8v0.8h-0.8zM253.35 23.29h0.8v0.8h-0.8zM255.26 25.92h0.8v0.8h-0.8zM251.93 21.43h0.8v0.8h-0.8zM251.19 20.42h0.8v0.8h-0.8zM250.78 20.73h0.8v0.8h-0.8zM256.56 19.97h0.8v0.8h-0.8zM251.62 22.34h0.8v0.8h-0.8zM262.9 27.25h0.8v0.8h-0.8zM267.38 25.54h0.8v0.8h-0.8zM267.16 25.92h0.8v0.8h-0.8zM265.98 24.29h0.8v0.8h-0.8zM250.71 22.84h0.8v0.8h-0.8z" fill="#ea78ea"/>
<path d="M273.86 84.23h0.8v0.8h-0.8zM272.92 79.47h0.8v0.8h-0.8zM268.96 67.47h0.8v0.8h-0.8zM267.78 70.8h0.8v0.8h-0.8zM241.12 72.74h0.8v0.8h-0.8zM243.26 83.47h0.8v0.8h-0.8zM274.12 80.53h0.8v0.8h-0.8zM270.71 58.18h0.8v0.8h-0.8zM255.14 57.23h0.8v0.8h-0.8zM257.32 54.67h0.8v0.8h-0.8zM259.77 55.48h0.8v0.8h-0.8zM252.4 57.96h0.8v0.8h-0.8zM261.1 54.05h0.8v0.8h-0.8zM269.44 60.54h0.8v0.8h-0.8zM268.59 72.93h0.8v0.8h-0.8zM239.9 74.41h0.8v0.8h-0.8zM263.52 52.79h0.8v0.8h-0.8zM274.14 84.68h0.8v0.8h-0.8zM277.25 83.91h0.8v0.8h-0.8zM253.58 59.85h0.8v0.8h-0.8zM278.7 83.56h0.8v0.8h-0.8zM245.93 82.7h0.8v0.8h-0.8zM269.22 73.74h0.8v0.8h-0.8zM271.8 56.25h0.8v0.8h-0.8zM254.83 59.66h0.8v0.8h-0.8zM242.98 71.4h0.8v0.8h-0.8zM246.38 84.21h0.8v0.8h-0.8zM269.89 73.22h0.8v0.8h-0.8zM264.98 88.34h0.8v0.8h-0.8zM238.77 74.81h0.8v0.8h-0.8zM257.32 59.59h0.8v0.8h-0.8zM270.82 52.9h0.8v0.8h-0.8zM250.1 87.45h0.8v0.8h-0.8zM240.32 81.09h0.8v0.8h-0.8zM246.05 85.29h0.8v0.8h-0.8zM275.62 82.96h0.8v0.8h-0.8zM262.93 52.19h0.8v0.8h-0.8zM247.41 84.28h0.8v0.8h-0.8zM268.13 74.19h0.8v0.8h-0.8zM267.12 70.87h0.8v0.8h-0.8zM278 81.16h0.8v0.8h-0.8zM269.95 61.22h0.8v0.8h-0.8zM240.42 73.08h0.8v0.8h-0.8zM271 53.58h0.8v0.8h-0.8zM277.05 84.57h0.8v0.8h-0.8zM271.92 54.12h0.8v0.8h-0.8zM267.95 66.94h0.8v0.8h-0.8zM273.89 53.54h0.8v0.8h-0.8zM277.9 83.35h0.8v0.8h-0.8zM259.48 56.28h0.8v0.8h-0.8zM270.9 76.6h0.8v0.8h-0.8zM258.54 57.67h0.8v0.8h-0.8zM254.48 57.11h0.8v0.8h-0.8zM276.74 83.87h0.8v0.8h-0.8zM271.68 51.75h0.8v0.8h-0.8zM269.34 85.94h0.8v0.8h-0.8zM238.72 75.86h0.8v0.8h-0.8zM269.94 86.87h0.8v0.8h-0.8zM266.23 88.53h0.8v0.8h-0.8zM240.42 78.52h0.8v0.8h-0.8zM272.3 88.14h0.8v0.8h-0.8zM264.08 52.52h0.8v0.8h-0.8zM266.61 54.71h0.8v0.8h-0.8zM248.22 65.21h0.8v0.8h-0.8zM247 67.12h0.8v0.8h-0.8zM272.9 54.31h0.8v0.8h-0.8zM239.8 78.49h0.8v0.8h-0.8zM263.26 53.17h0.8v0.8h-0.8zM273.27 87.23h0.8v0.8h-0.8zM239.9 78.24h0.8v0.8h-0.8z" fill="#5fd3b0"/>
<path d="M287.97 56.9h0.8v0.8h-0.8zM277.43 53.28h0.8v0.8h-0.8zM292.81 67.92h0.8v0.8h-0.8zM287.13 55.12h0.8v0.8h-0.8zM269.66 75.31h0.8v0.8h-0.8zM269.88 74.51h0.8v0.8h-0.8zM272.41 80.4h0.8v0.8h-0.8zM277.45 80.51h0.8v0.8h-0.8zM269.73 56.54h0.8v0.8h-0.8zM290.16 57.61h0.8v0.8h-0.8zM281.19 52.54h0.8v0.8h-0.8zM291.54 67.72h0.8v0.8h-0.8zM285.63 52.76h0.8v0.8h-0.8zM291.51 71.21h0.8v0.8h-0.8zM269.28 68.33h0.8v0.8h-0.8zM275.88 81.77h0.8v0.8h-0.8zM292.37 63.88h0.8v0.8h-0.8zM284.89 54h0.8v0.8h-0.8zM286.22 76.44h0.8v0.8h-0.8zM268.83 70.79h0.8v0.8h-0.8zM270.7 75.85h0.8v0.8h-0.8zM286.82 55.42h0.8v0.8h-0.8zM290.01 71.5h0.8v0.8h-0.8zM269.11 74.68h0.8v0.8h-0.8zM269.37 78.29h0.8v0.8h-0.8zM270.23 77.29h0.8v0.8h-0.8zM290.02 62.39h0.8v0.8h-0.8zM269.83 61.99h0.8v0.8h-0.8zM270.94 63.87h0.8v0.8h-0.8zM287.75 55.32h0.8v0.8h-0.8zM290.65 69.53h0.8v0.8h-0.8zM269.44 65.74h0.8v0.8h-0.8zM288.82 75.06h0.8v0.8h-0.8zM283.36 79.15h0.8v0.8h-0.8zM288.41 70.23h0.8v0.8h-0.8zM292.69 66.69h0.8v0.8h-0.8zM290.43 58.98h0.8v0.8h-0.8zM291.06 56.63h0.8v0.8h-0.8zM284.16 78.21h0.8v0.8h-0.8zM269.04 73.87h0.8v0.8h-0.8zM280.59 54.01h0.8v0.8h-0.8zM283.11 54.92h0.8v0.8h-0.8zM269.62 62.86h0.8v0.8h-0.8zM269.03 62.75h0.8v0.8h-0.8zM274.97 81.54h0.8v0.8h-0.8zM280.37 79.1h0.8v0.8h-0.8zM274.39 54.93h0.8v0.8h-0.8zM277.43 53.44h0.8v0.8h-0.8zM288.5 56.31h0.8v0.8h-0.8zM281.89 79.3h0.8v0.8h-0.8zM290.78 62.33h0.8v0.8h-0.8zM288.14 72.88h0.8v0.8h-0.8zM291.74 58.33h0.8v0.8h-0.8zM276.83 82.35h0.8v0.8h-0.8zM268.32 76.59h0.8v0.8h-0.8zM287.68 78.26h0.8v0.8h-0.8zM273.95 80.51h0.8v0.8h-0.8zM269.56 60.27h0.8v0.8h-0.8zM287.83 77.14h0.8v0.8h-0.8zM289.06 60.72h0.8v0.8h-0.8zM280.68 82.78h0.8v0.8h-0.8zM279.32 52.26h0.8v0.8h-0.8zM284.78 77.34h0.8v0.8h-0.8zM280.25 82.54h0.8v0.8h-0.8zM269.33 62.64h0.8v0.8h-0.8zM288.17 56.44h0.8v0.8h-0.8zM271.09 59.82h0.8v0.8h-0.8zM284.58 52.19h0.8v0.8h-0.8zM288.79 71.16h0.8v0.8h-0.8zM289.32 55.76h0.8v0.8h-0.8z" fill="#52cf6a"/>
<path d="M248.44 65.98h0.8v0.8h-0.8zM238.72 75.13h0.8v0.8h-0.8zM232.48 66.21h0.8v0.8h-0.8zM261.48 47.38h0.8v0.8h-0.8zM262.45 52.5h0.8v0.8h-0.8zM239.99 72.58h0.8v0.8h-0.8zM241.28 74.83h0.8v0.8h-0.8zM252.14 54.57h0.8v0.8h-0.8zM260.8 53.03h0.8v0.8h-0.8zM230.44 69.82h0.8v0.8h-0.8zM225.53 54.37h0.8v0.8h-0.8zM254.54 60.2h0.8v0.8h-0.8zM225.62 54.83h0.8v0.8h-0.8zM249.58 62.75h0.8v0.8h-0.8zM251.63 61.29h0.8v0.8h-0.8zM257.06 57.05h0.8v0.8h-0.8zM255.75 57.32h0.8v0.8h-0.8zM262.04 52.41h0.8v0.8h-0.8zM234.04 43.67h0.8v0.8h-0.8zM224.38 47.13h0.8v0.8h-0.8zM224.57 44.91h0.8v0.8h-0.8zM243.51 71.01h0.8v0.8h-0.8zM241.44 49.71h0.8v0.8h-0.8zM232.83 71.96h0.8v0.8h-0.8zM226.98 42.73h0.8v0.8h-0.8zM235.98 43.86h0.8v0.8h-0.8zM259.13 48.49h0.8v0.8h-0.8zM227.01 42.97h0.8v0.8h-0.8zM240.81 73.07h0.8v0.8h-0.8zM232.73 43.73h0.8v0.8h-0.8zM240.66 75.48h0.8v0.8h-0.8zM224.81 47.04h0.8v0.8h-0.8zM261.35 49.33h0.8v0.8h-0.8zM242.86 70.51h0.8v0.8h-0.8zM231.5 62.94h0.8v0.8h-0.8zM242.15 50.72h0.8v0.8h-0.8zM237.36 74.82h0.8v0.8h-0.8zM227.68 57.81h0.8v0.8h-0.8zM233.51 76.02h0.8v0.8h-0.8zM223.1 48.68h0.8v0.8h-0.8zM229.3 43.29h0.8v0.8h-0.8zM249.2 62.49h0.8v0.8h-0.8zM261.35 53.95h0.8v0.8h-0.8zM229.13 61.77h0.8v0.8h-0.8zM234.94 44.64h0.8v0.8h-0.8zM225.34 50.5h0.8v0.8h-0.8zM260.26 47.81h0.8v0.8h-0.8zM240.06 50.65h0.8v0.8h-0.8zM232.46 73.15h0.8v0.8h-0.8zM225.85 47.56h0.8v0.8h-0.8zM250.36 55.63h0.8v0.8h-0.8zM240.88 73.92h0.8v0.8h-0.8zM258.08 49.56h0.8v0.8h-0.8zM230.15 60.92h0.8v0.8h-0.8zM230.8 64.72h0.8v0.8h-0.8zM261.06 51.68h0.8v0.8h-0.8zM250.51 56.01h0.8v0.8h-0.8zM227.84 64.05h0.8v0.8h-0.8zM246.06 56.99h0.8v0.8h-0.8zM263.1 49.02h0.8v0.8h-0.8zM255.6 58.34h0.8v0.8h-0.8zM250.91 57.49h0.8v0.8h-0.8zM260.48 48.63h0.8v0.8h-0.8zM244.71 54.08h0.8v0.8h-0.8zM260.22 53.79h0.8v0.8h-0.8zM222.6 48.6h0.8v0.8h-0.8zM261.18 52.54h0.8v0.8h-0.8zM224.45 53.22h0.8v0.8h-0.8zM244.75 53.4h0.8v0.8h-0.8zM228.31 41.33h0.8v0.8h-0.8z" fill="#f07870"/>
<path d="M253.73 123.54h0.8v0.8h-0.8zM259.7 108.06h0.8v0.8h-0.8zM257.08 102.3h0.8v0.8h-0.8zM255.09 121.87h0.8v0.8h-0.8zM246.78 104.65h0.8v0.8h-0.8zM252.07 121.59h0.8v0.8h-0.8zM243.94 111.24h0.8v0.8h-0.8zM245.63 113.03h0.8v0.8h-0.8zM256.89 119.11h0.8v0.8h-0.8zM258.33 119.89h0.8v0.8h-0.8zM258.79 115.31h0.8v0.8h-0.8zM256.7 100.27h0.8v0.8h-0.8zM252.27 99.96h0.8v0.8h-0.8zM255.54 120.47h0.8v0.8h-0.8zM248.73 103.39h0.8v0.8h-0.8zM253.7 101.08h0.8v0.8h-0.8zM256.87 117.72h0.8v0.8h-0.8zM253.28 121.17h0.8v0.8h-0.8zM250.42 117.56h0.8v0.8h-0.8zM257.06 120.01h0.8v0.8h-0.8zM256.31 118.64h0.8v0.8h-0.8zM256.58 99.85h0.8v0.8h-0.8zM256.51 118.08h0.8v0.8h-0.8zM247.38 118.97h0.8v0.8h-0.8zM245.18 108.81h0.8v0.8h-0.8zM252.85 101.77h0.8v0.8h-0.8zM246.76 105.94h0.8v0.8h-0.8zM256.78 101.25h0.8v0.8h-0.8zM246.12 107.9h0.8v0.8h-0.8zM260.47 114.53h0.8v0.8h-0.8zM256.68 117.99h0.8v0.8h-0.8zM250.07 121.64h0.8v0.8h-0.8zM252.55 101.92h0.8v0.8h-0.8zM258.99 114.02h0.8v0.8h-0.8zM259.04 111.66h0.8v0.8h-0.8zM250.42 121.1h0.8v0.8h-0.8zM252.83 122.51h0.8v0.8h-0.8zM260.59 106.47h0.8v0.8h-0.8zM252.35 121.27h0.8v0.8h-0.8zM257.09 120.9h0.8v0.8h-0.8zM257.24 112.77h0.8v0.8h-0.8zM251.77 121.12h0.8v0.8h-0.8zM255.68 103.7h0.8v0.8h-0.8zM257.12 105.52h0.8v0.8h-0.8zM246.11 114.31h0.8v0.8h-0.8zM246.07 108.15h0.8v0.8h-0.8zM257.78 103.94h0.8v0.8h-0.8zM247.72 117.6h0.8v0.8h-0.8zM259.78 110.98h0.8v0.8h-0.8zM249.06 116.77h0.8v0.8h-0.8zM245.43 113.59h0.8v0.8h-0.8zM253.74 121.59h0.8v0.8h-0.8zM257.23 103.36h0.8v0.8h-0.8zM245.64 110.05h0.8v0.8h-0.8zM251.89 123.67h0.8v0.8h-0.8zM258.83 105.78h0.8v0.8h-0.8zM259.37 106.25h0.8v0.8h-0.8zM253.19 121.17h0.8v0.8h-0.8zM259.01 109.58h0.8v0.8h-0.8zM256.22 100.01h0.8v0.8h-0.8zM246.2 103.4h0.8v0.8h-0.8zM246.3 117.77h0.8v0.8h-0.8zM259.4 109.29h0.8v0.8h-0.8zM251.39 101.51h0.8v0.8h-0.8zM244.75 101.5h0.8v0.8h-0.8zM248.77 101.14h0.8v0.8h-0.8zM256.93 118.83h0.8v0.8h-0.8zM259.65 111.8h0.8v0.8h-0.8zM259.7 115.09h0.8v0.8h-0.8zM261.08 113.3h0.8v0.8h-0.8z" fill="#4eacf6"/>
<path d="M263.64 95.61h0.8v0.8h-0.8zM292.04 104.48h0.8v0.8h-0.8zM282.38 89.01h0.8v0.8h-0.8zM288.63 91h0.8v0.8h-0.8zM278.07 113.66h0.8v0.8h-0.8zM262.83 95.58h0.8v0.8h-0.8zM264.61 111.4h0.8v0.8h-0.8zM264.19 106.56h0.8v0.8h-0.8zM269.9 115.07h0.8v0.8h-0.8zM278.93 113.77h0.8v0.8h-0.8zM289.82 93.84h0.8v0.8h-0.8zM261.43 102.58h0.8v0.8h-0.8zM281.59 111.61h0.8v0.8h-0.8zM279.94 90.28h0.8v0.8h-0.8zM262.9 102.21h0.8v0.8h-0.8zM285.25 89.59h0.8v0.8h-0.8zM290.06 106.64h0.8v0.8h-0.8zM269.66 91.16h0.8v0.8h-0.8zM270.18 90.09h0.8v0.8h-0.8zM286.56 90.08h0.8v0.8h-0.8zM263.63 93.91h0.8v0.8h-0.8zM265.07 89.01h0.8v0.8h-0.8zM276.97 114.02h0.8v0.8h-0.8zM288.06 91.06h0.8v0.8h-0.8zM276.43 113.08h0.8v0.8h-0.8zM273.61 115.36h0.8v0.8h-0.8zM263.39 108.22h0.8v0.8h-0.8zM270.84 89.53h0.8v0.8h-0.8zM274.23 114.49h0.8v0.8h-0.8zM261.44 99.62h0.8v0.8h-0.8zM270.62 113.26h0.8v0.8h-0.8zM267.98 92.05h0.8v0.8h-0.8zM266.2 93.24h0.8v0.8h-0.8zM268.35 91.03h0.8v0.8h-0.8zM265.53 94.73h0.8v0.8h-0.8zM292.9 99.5h0.8v0.8h-0.8zM274.12 113.13h0.8v0.8h-0.8zM288.82 108.15h0.8v0.8h-0.8zM271.46 89.04h0.8v0.8h-0.8zM263.62 95.39h0.8v0.8h-0.8zM268.23 114.29h0.8v0.8h-0.8zM285.46 110.94h0.8v0.8h-0.8zM267.93 90.99h0.8v0.8h-0.8zM275.47 87.86h0.8v0.8h-0.8zM291.19 92.83h0.8v0.8h-0.8zM276.91 114.17h0.8v0.8h-0.8zM266.71 114.08h0.8v0.8h-0.8zM279.58 89.48h0.8v0.8h-0.8zM288.96 107.28h0.8v0.8h-0.8zM290.11 91.42h0.8v0.8h-0.8zM283.14 111.05h0.8v0.8h-0.8zM265.62 91.69h0.8v0.8h-0.8zM287.23 109.7h0.8v0.8h-0.8zM277.78 89.48h0.8v0.8h-0.8zM291.48 103.35h0.8v0.8h-0.8zM283.01 110.53h0.8v0.8h-0.8zM266.66 91.87h0.8v0.8h-0.8zM264.42 111.41h0.8v0.8h-0.8zM261.61 106.11h0.8v0.8h-0.8zM267.85 91.25h0.8v0.8h-0.8zM289.4 108.07h0.8v0.8h-0.8zM284.54 91.22h0.8v0.8h-0.8zM276.98 88.45h0.8v0.8h-0.8zM292.18 103.77h0.8v0.8h-0.8zM290.54 106.35h0.8v0.8h-0.8zM288.91 106.2h0.8v0.8h-0.8zM282.5 111.21h0.8v0.8h-0.8zM292.23 106.42h0.8v0.8h-0.8zM263.95 111.44h0.8v0.8h-0.8zM268.36 91.65h0.8v0.8h-0.8z" fill="#f57ac6"/>
<polygon points="239,53 244,55 247,59 243,61 239,58" fill="#fff" opacity="0.7"/>
<polygon points="216.3,56 222,55 228,58 230,64 226,68 220,69 215,66" fill="#fff"/>
<rect x="258.59" y="65.77" width="0.7" height="0.7" fill="#b68cf6"/>
<rect x="228.44" y="68.78" width="0.7" height="0.7" fill="#f57ac6"/>
<rect x="226.26" y="76.01" width="0.7" height="0.7" fill="#b68cf6"/>
<rect x="220.68" y="75.25" width="0.7" height="0.7" fill="#f57ac6"/>
<rect x="249.69" y="55.32" width="0.7" height="0.7" fill="#b68cf6"/>
<rect x="230.25" y="76.62" width="0.7" height="0.7" fill="#5fd3b0"/>
<rect x="225.68" y="56.8" width="0.7" height="0.7" fill="#5fd3b0"/>
<rect x="252.74" y="91.79" width="0.7" height="0.7" fill="#6cc83c"/>
<rect x="239.68" y="74.79" width="0.7" height="0.7" fill="#dc8f2a"/>
<rect x="245.3" y="69.62" width="0.7" height="0.7" fill="#f57ac6"/>
<rect x="231.97" y="57.34" width="0.7" height="0.7" fill="#5ccde0"/>
<rect x="261.89" y="44" width="0.7" height="0.7" fill="#f57ac6"/>
<rect x="247.9" y="89.89" width="0.7" height="0.7" fill="#dc8f2a"/>
<rect x="228.45" y="78.03" width="0.7" height="0.7" fill="#5ccde0"/>
<rect x="247.63" y="42.06" width="0.7" height="0.7" fill="#f57ac6"/>
<rect x="240.84" y="87.3" width="0.7" height="0.7" fill="#6cc83c"/>
<rect x="234.69" y="91.12" width="0.7" height="0.7" fill="#b68cf6"/>
<rect x="245.75" y="83.84" width="0.7" height="0.7" fill="#6cc83c"/>
<rect x="215.39" y="60.23" width="0.7" height="0.7" fill="#5fd3b0"/>
<rect x="250.25" y="62.07" width="0.7" height="0.7" fill="#f57ac6"/>
<rect x="237.71" y="84.08" width="0.7" height="0.7" fill="#5fd3b0"/>
<rect x="239.26" y="44.29" width="0.7" height="0.7" fill="#dc8f2a"/>
<rect x="223.36" y="67.42" width="0.7" height="0.7" fill="#5fd3b0"/>
<rect x="224.9" y="50.3" width="0.7" height="0.7" fill="#dc8f2a"/>
<rect x="256.72" y="71.97" width="0.7" height="0.7" fill="#f07870"/>
<rect x="255.34" y="49.86" width="0.7" height="0.7" fill="#f57ac6"/>
<rect x="215.08" y="49.91" width="0.7" height="0.7" fill="#5fd3b0"/>
<rect x="220.81" y="66.7" width="0.7" height="0.7" fill="#6cc83c"/>
<rect x="224.16" y="80.88" width="0.7" height="0.7" fill="#f07870"/>
<rect x="218.61" y="83.8" width="0.7" height="0.7" fill="#5ccde0"/>
<rect x="258.52" y="57.06" width="0.7" height="0.7" fill="#5fd3b0"/>
<rect x="257.86" y="86.96" width="0.7" height="0.7" fill="#5fd3b0"/>
<rect x="245.05" y="45.29" width="0.7" height="0.7" fill="#f07870"/>
<rect x="249.34" y="57.64" width="0.7" height="0.7" fill="#b68cf6"/>
<rect x="259.95" y="57.02" width="0.7" height="0.7" fill="#f07870"/>
<rect x="227.83" y="77.86" width="0.7" height="0.7" fill="#f07870"/>
<rect x="260.93" y="81.1" width="0.7" height="0.7" fill="#6cc83c"/>
<rect x="260.58" y="63.1" width="0.7" height="0.7" fill="#5ccde0"/>
<rect x="233.99" y="78.1" width="0.7" height="0.7" fill="#f07870"/>
<rect x="228.56" y="48.85" width="0.7" height="0.7" fill="#f57ac6"/>
<rect x="254.27" y="64.64" width="0.7" height="0.7" fill="#5ccde0"/>
<rect x="216.28" y="79.88" width="0.7" height="0.7" fill="#6cc83c"/>
<rect x="215.4" y="53.24" width="0.7" height="0.7" fill="#dc8f2a"/>
<rect x="239.16" y="61.72" width="0.7" height="0.7" fill="#5ccde0"/>
<rect x="259.05" y="44.5" width="0.7" height="0.7" fill="#5fd3b0"/>
<rect x="215.67" y="44.87" width="0.7" height="0.7" fill="#5fd3b0"/>
<rect x="252.7" y="62.96" width="0.7" height="0.7" fill="#5ccde0"/>
<rect x="233.73" y="74.3" width="0.7" height="0.7" fill="#5ccde0"/>
<rect x="223.45" y="62.69" width="0.7" height="0.7" fill="#f57ac6"/>
<rect x="242.09" y="51.72" width="0.7" height="0.7" fill="#6cc83c"/>
<rect x="215.42" y="78.57" width="0.7" height="0.7" fill="#dc8f2a"/>
<rect x="243.48" y="51.02" width="0.7" height="0.7" fill="#f07870"/>
<rect x="216.28" y="76.53" width="0.7" height="0.7" fill="#b68cf6"/>
<rect x="264.7" y="63.1" width="0.7" height="0.7" fill="#f57ac6"/>
<rect x="237.06" y="75.04" width="0.7" height="0.7" fill="#5ccde0"/>
<rect x="239.18" y="86.3" width="0.7" height="0.7" fill="#f57ac6"/>
<rect x="247.68" y="70.45" width="0.7" height="0.7" fill="#f07870"/>
<rect x="243.57" y="52.96" width="0.7" height="0.7" fill="#5ccde0"/>
<rect x="219.5" y="68.23" width="0.7" height="0.7" fill="#b68cf6"/>
<rect x="233.27" y="45.81" width="0.7" height="0.7" fill="#6cc83c"/>
<rect x="251.89" y="45.35" width="0.7" height="0.7" fill="#f57ac6"/>
<rect x="225.89" y="82.85" width="0.7" height="0.7" fill="#5fd3b0"/>
<rect x="264.24" y="53.63" width="0.7" height="0.7" fill="#5fd3b0"/>
<rect x="256.63" y="70.6" width="0.7" height="0.7" fill="#5fd3b0"/>
<rect x="222.98" y="54.74" width="0.7" height="0.7" fill="#f57ac6"/>
<rect x="263.94" y="61.72" width="0.7" height="0.7" fill="#6cc83c"/>
<rect x="216.99" y="80.33" width="0.7" height="0.7" fill="#5ccde0"/>
<rect x="258.74" y="74.81" width="0.7" height="0.7" fill="#5ccde0"/>
<rect x="257.99" y="48.73" width="0.7" height="0.7" fill="#dc8f2a"/>
<rect x="238.78" y="60.68" width="0.7" height="0.7" fill="#5fd3b0"/>
<rect x="262.27" y="87.78" width="0.7" height="0.7" fill="#6cc83c"/>
<rect x="218.81" y="82.49" width="0.7" height="0.7" fill="#f07870"/>
<rect x="235.01" y="89.22" width="0.7" height="0.7" fill="#f07870"/>
<rect x="220.79" y="48.73" width="0.7" height="0.7" fill="#dc8f2a"/>
<rect x="261.73" y="80.48" width="0.7" height="0.7" fill="#6cc83c"/>
<rect x="234.11" y="73.59" width="0.7" height="0.7" fill="#f07870"/>
<rect x="257.54" y="42.78" width="0.7" height="0.7" fill="#5ccde0"/>
<rect x="250.53" y="60.33" width="0.7" height="0.7" fill="#b68cf6"/>
<rect x="259.53" y="81.77" width="0.7" height="0.7" fill="#f07870"/>
<rect x="224.19" y="74.34" width="0.7" height="0.7" fill="#b68cf6"/>
<rect x="246.75" y="52.62" width="0.7" height="0.7" fill="#f07870"/>
<rect x="230.89" y="90.66" width="0.7" height="0.7" fill="#5ccde0"/>
<rect x="224.07" y="43.7" width="0.7" height="0.7" fill="#f57ac6"/>
<rect x="250.61" y="44.93" width="0.7" height="0.7" fill="#5fd3b0"/>
<rect x="258.4" y="70.28" width="0.7" height="0.7" fill="#f07870"/>
<rect x="246.03" y="85.02" width="0.7" height="0.7" fill="#f57ac6"/>
<rect x="243.4" y="89.68" width="0.7" height="0.7" fill="#b68cf6"/>
<rect x="252.17" y="50.09" width="0.7" height="0.7" fill="#dc8f2a"/>
<rect x="230.05" y="57" width="0.7" height="0.7" fill="#b68cf6"/>
<rect x="251.98" y="71.77" width="0.7" height="0.7" fill="#5ccde0"/>
<rect x="216.56" y="62.06" width="0.7" height="0.7" fill="#5fd3b0"/>
<rect x="244.26" y="43.21" width="0.7" height="0.7" fill="#dc8f2a"/>
<rect x="247.88" y="67.71" width="0.7" height="0.7" fill="#b68cf6"/>
<rect x="249.99" y="90.13" width="0.7" height="0.7" fill="#f07870"/>
<rect x="258.46" y="46.06" width="0.7" height="0.7" fill="#b68cf6"/>
<rect x="231.21" y="68.7" width="0.7" height="0.7" fill="#5fd3b0"/>
<rect x="225.14" y="83.11" width="0.7" height="0.7" fill="#f57ac6"/>
<rect x="254.8" y="66.36" width="0.7" height="0.7" fill="#b68cf6"/>
<rect x="249.17" y="75.53" width="0.7" height="0.7" fill="#dc8f2a"/>
<rect x="235.46" y="58.11" width="0.7" height="0.7" fill="#5ccde0"/>
<rect x="255.53" y="71.8" width="0.7" height="0.7" fill="#dc8f2a"/>
<rect x="259.17" y="80.07" width="0.7" height="0.7" fill="#6cc83c"/>
<rect x="263.94" y="74.65" width="0.7" height="0.7" fill="#5ccde0"/>
<rect x="245.5" y="51.39" width="0.7" height="0.7" fill="#f07870"/>
<rect x="238.98" y="75.68" width="0.7" height="0.7" fill="#b68cf6"/>
<rect x="248.91" y="77.02" width="0.7" height="0.7" fill="#5ccde0"/>
<rect x="233.42" y="62.67" width="0.7" height="0.7" fill="#5ccde0"/>
<rect x="240.02" y="77.49" width="0.7" height="0.7" fill="#5ccde0"/>
<rect x="247.19" y="65.67" width="0.7" height="0.7" fill="#5fd3b0"/>
<rect x="215.97" y="64.13" width="0.7" height="0.7" fill="#6cc83c"/>
<rect x="241.73" y="57.87" width="0.7" height="0.7" fill="#5ccde0"/>
<rect x="240.81" y="61.85" width="0.7" height="0.7" fill="#f07870"/>
<rect x="260.4" y="64.81" width="0.7" height="0.7" fill="#5fd3b0"/>
<rect x="258.61" y="51.6" width="0.7" height="0.7" fill="#dc8f2a"/>
<rect x="261.98" y="66.55" width="0.7" height="0.7" fill="#f07870"/>
<rect x="247.42" y="57.46" width="0.7" height="0.7" fill="#dc8f2a"/>
<rect x="237.97" y="63.39" width="0.7" height="0.7" fill="#dc8f2a"/>
<rect x="233.86" y="56.59" width="0.7" height="0.7" fill="#5fd3b0"/>
<rect x="245.01" y="71.9" width="0.7" height="0.7" fill="#dc8f2a"/>
<rect x="231.29" y="47.26" width="0.7" height="0.7" fill="#5fd3b0"/>
<rect x="264.24" y="57.99" width="0.7" height="0.7" fill="#f07870"/>
<rect x="220.36" y="85.59" width="0.7" height="0.7" fill="#f07870"/>
<rect x="224.57" y="76.28" width="0.7" height="0.7" fill="#5fd3b0"/>
<rect x="217.89" y="56.79" width="0.7" height="0.7" fill="#b68cf6"/>
<rect x="239.26" y="50.43" width="0.7" height="0.7" fill="#5fd3b0"/>
<rect x="233.97" y="87.02" width="0.7" height="0.7" fill="#5ccde0"/>
<rect x="220.23" y="58.03" width="0.7" height="0.7" fill="#dc8f2a"/>
<rect x="254.28" y="88.53" width="0.7" height="0.7" fill="#5fd3b0"/>
<rect x="239.22" y="66.17" width="0.7" height="0.7" fill="#f57ac6"/>
<rect x="238.94" y="43.28" width="0.7" height="0.7" fill="#5fd3b0"/>
<rect x="241.76" y="75.53" width="0.7" height="0.7" fill="#6cc83c"/>
<rect x="245.69" y="83.58" width="0.7" height="0.7" fill="#f07870"/>
<rect x="255.11" y="57.07" width="0.7" height="0.7" fill="#f57ac6"/>
<rect x="250.12" y="91.05" width="0.7" height="0.7" fill="#b68cf6"/>
<rect x="240.77" y="71.52" width="0.7" height="0.7" fill="#6cc83c"/>
<rect x="230.59" y="64.41" width="0.7" height="0.7" fill="#b68cf6"/>
<rect x="250.58" y="65.71" width="0.7" height="0.7" fill="#f57ac6"/>
<rect x="230.41" y="82.14" width="0.7" height="0.7" fill="#5fd3b0"/>
<rect x="226.16" y="90.56" width="0.7" height="0.7" fill="#f57ac6"/>
<rect x="248.55" y="76.24" width="0.7" height="0.7" fill="#f07870"/>
<rect x="244.16" y="67.56" width="0.7" height="0.7" fill="#dc8f2a"/>
<rect x="260.16" y="45.56" width="0.7" height="0.7" fill="#6cc83c"/>
<rect x="223.99" y="88.67" width="0.7" height="0.7" fill="#5fd3b0"/>
<rect x="262.66" y="61.05" width="0.7" height="0.7" fill="#5ccde0"/>
<rect x="243.92" y="76.03" width="0.7" height="0.7" fill="#5ccde0"/>
<rect x="228.31" y="53.98" width="0.7" height="0.7" fill="#6cc83c"/>
<rect x="254.76" y="71.85" width="0.7" height="0.7" fill="#6cc83c"/>
<rect x="231.2" y="72.98" width="0.7" height="0.7" fill="#6cc83c"/>
<rect x="236.19" y="81.23" width="0.7" height="0.7" fill="#b68cf6"/>
<rect x="222.29" y="49.78" width="0.7" height="0.7" fill="#dc8f2a"/>
<rect x="263.29" y="89.49" width="0.7" height="0.7" fill="#5ccde0"/>
<rect x="247.98" y="48" width="0.7" height="0.7" fill="#5fd3b0"/>
<rect x="244.76" y="84.59" width="0.7" height="0.7" fill="#f07870"/>
<rect x="250.91" y="89.34" width="0.7" height="0.7" fill="#5fd3b0"/>
<rect x="234.9" y="46.98" width="0.7" height="0.7" fill="#5fd3b0"/>
<rect x="244.49" y="87.95" width="0.7" height="0.7" fill="#5ccde0"/>
<rect x="239.62" y="59.87" width="0.7" height="0.7" fill="#5fd3b0"/>
<rect x="258.51" y="43.36" width="0.7" height="0.7" fill="#5fd3b0"/>
<rect x="258.07" y="86.79" width="0.7" height="0.7" fill="#5fd3b0"/>
<rect x="240.45" y="63.41" width="0.7" height="0.7" fill="#dc8f2a"/>
<rect x="234.27" y="85.71" width="0.7" height="0.7" fill="#f07870"/>
<rect x="251.73" y="60.15" width="0.7" height="0.7" fill="#5ccde0"/>
<rect x="215.27" y="43.67" width="0.7" height="0.7" fill="#dc8f2a"/>
<rect x="238.77" y="46.45" width="0.7" height="0.7" fill="#5fd3b0"/>
<rect x="238.28" y="46.58" width="0.7" height="0.7" fill="#f57ac6"/>
<rect x="250.12" y="63.47" width="0.7" height="0.7" fill="#5ccde0"/>
<rect x="228.42" y="55" width="0.7" height="0.7" fill="#5ccde0"/>
<rect x="256.46" y="87.77" width="0.7" height="0.7" fill="#f57ac6"/>
<rect x="238.17" y="66.81" width="0.7" height="0.7" fill="#5ccde0"/>
<rect x="249.85" y="63.78" width="0.7" height="0.7" fill="#b68cf6"/>
<rect x="234.59" y="88.81" width="0.7" height="0.7" fill="#dc8f2a"/>
<rect x="233.07" y="49.55" width="0.7" height="0.7" fill="#b68cf6"/>
<rect x="245.05" y="52.49" width="0.7" height="0.7" fill="#f57ac6"/>
<rect x="254.81" y="53.14" width="0.7" height="0.7" fill="#dc8f2a"/>
<rect x="255.23" y="60.37" width="0.7" height="0.7" fill="#5fd3b0"/>
<rect x="225.9" y="83.32" width="0.7" height="0.7" fill="#5ccde0"/>
<rect x="252.69" y="81.62" width="0.7" height="0.7" fill="#f07870"/>
<rect x="227.14" y="43.8" width="0.7" height="0.7" fill="#f57ac6"/>
<rect x="236.32" y="83.4" width="0.7" height="0.7" fill="#dc8f2a"/>
<rect x="253.7" y="49.02" width="0.7" height="0.7" fill="#b68cf6"/>
<rect x="238.24" y="89.04" width="0.7" height="0.7" fill="#5ccde0"/>
<rect x="225.08" y="72.52" width="0.7" height="0.7" fill="#5fd3b0"/>
<rect x="261.32" y="67.02" width="0.7" height="0.7" fill="#f57ac6"/>
<rect x="261.84" y="86.87" width="0.7" height="0.7" fill="#f07870"/>
<rect x="218.21" y="51.09" width="0.7" height="0.7" fill="#dc8f2a"/>
<rect x="216.54" y="54.57" width="0.7" height="0.7" fill="#5ccde0"/>
<rect x="248.71" y="45.26" width="0.7" height="0.7" fill="#b68cf6"/>
<rect x="229.28" y="59.39" width="0.7" height="0.7" fill="#5ccde0"/>
<rect x="221.97" y="48.53" width="0.7" height="0.7" fill="#b68cf6"/>
<rect x="233.49" y="82.41" width="0.7" height="0.7" fill="#5fd3b0"/>
<rect x="244.13" y="89.5" width="0.7" height="0.7" fill="#b68cf6"/>
<rect x="261.46" y="48.73" width="0.7" height="0.7" fill="#dc8f2a"/>
<rect x="257.64" y="63.63" width="0.7" height="0.7" fill="#f07870"/>
<rect x="244.13" y="44.76" width="0.7" height="0.7" fill="#5fd3b0"/>
<rect x="232.53" y="57.91" width="0.7" height="0.7" fill="#5ccde0"/>
<rect x="230.14" y="44.29" width="0.7" height="0.7" fill="#f07870"/>
<rect x="222.28" y="83.11" width="0.7" height="0.7" fill="#5ccde0"/>
<rect x="254.42" y="50.86" width="0.7" height="0.7" fill="#5ccde0"/>
<rect x="260.68" y="74.41" width="0.7" height="0.7" fill="#dc8f2a"/>
<rect x="226.07" y="83.99" width="0.7" height="0.7" fill="#6cc83c"/>
<rect x="231.02" y="44.37" width="0.7" height="0.7" fill="#5fd3b0"/>
<rect x="262.23" y="86.66" width="0.7" height="0.7" fill="#5ccde0"/>
<rect x="252.96" y="51.87" width="0.7" height="0.7" fill="#dc8f2a"/>
<rect x="249.17" y="49.04" width="0.7" height="0.7" fill="#b68cf6"/>
<rect x="241.93" y="46.15" width="0.7" height="0.7" fill="#6cc83c"/>
<rect x="248.39" y="63.31" width="0.7" height="0.7" fill="#5fd3b0"/>
<rect x="231.99" y="71.63" width="0.7" height="0.7" fill="#b68cf6"/>
<rect x="241.97" y="66.51" width="0.7" height="0.7" fill="#5fd3b0"/>
<rect x="256.91" y="69.46" width="0.7" height="0.7" fill="#5ccde0"/>
<rect x="259.6" y="56.98" width="0.7" height="0.7" fill="#5fd3b0"/>
<rect x="260.5" y="89.09" width="0.7" height="0.7" fill="#5fd3b0"/>
<rect x="229.79" y="49.31" width="0.7" height="0.7" fill="#dc8f2a"/>
<rect x="219.5" y="77.07" width="0.7" height="0.7" fill="#f07870"/>
<rect x="227.71" y="89.75" width="0.7" height="0.7" fill="#dc8f2a"/>
<rect x="251.42" y="44.32" width="0.7" height="0.7" fill="#5ccde0"/>
<rect x="238.27" y="60.13" width="0.7" height="0.7" fill="#5fd3b0"/>
<rect x="235.18" y="79.04" width="0.7" height="0.7" fill="#dc8f2a"/>
<rect x="226.77" y="88.82" width="0.7" height="0.7" fill="#5ccde0"/>
<rect x="226.13" y="65.52" width="0.7" height="0.7" fill="#5fd3b0"/>
<rect x="218.39" y="82.82" width="0.7" height="0.7" fill="#f57ac6"/>
<rect x="263.62" y="78.35" width="0.7" height="0.7" fill="#6cc83c"/>
<rect x="255.52" y="83.24" width="0.7" height="0.7" fill="#b68cf6"/>
<rect x="219.09" y="81.89" width="0.7" height="0.7" fill="#6cc83c"/>
<rect x="232.4" y="88.06" width="0.7" height="0.7" fill="#f07870"/>
<rect x="223.66" y="66.74" width="0.7" height="0.7" fill="#b68cf6"/>
<rect x="242.8" y="54.27" width="0.7" height="0.7" fill="#dc8f2a"/>
<rect x="216.46" y="61.64" width="0.7" height="0.7" fill="#6cc83c"/>
<rect x="253.78" y="78.1" width="0.7" height="0.7" fill="#b68cf6"/>
<rect x="240.75" y="71.45" width="0.7" height="0.7" fill="#6cc83c"/>
<rect x="222.05" y="85.88" width="0.7" height="0.7" fill="#f07870"/>
<rect x="255.66" y="76.71" width="0.7" height="0.7" fill="#5ccde0"/>
<rect x="233.41" y="85.81" width="0.7" height="0.7" fill="#f07870"/>
<rect x="258.9" y="74.01" width="0.7" height="0.7" fill="#b68cf6"/>
<rect x="242.8" y="85.27" width="0.7" height="0.7" fill="#f07870"/>
<rect x="231.35" y="63.65" width="0.7" height="0.7" fill="#f57ac6"/>
<rect x="248.38" y="61.3" width="0.7" height="0.7" fill="#f07870"/>
<rect x="219.87" y="84.81" width="0.7" height="0.7" fill="#f57ac6"/>
<rect x="259.44" y="53.65" width="0.7" height="0.7" fill="#5ccde0"/>
<rect x="236.71" y="61.35" width="0.7" height="0.7" fill="#5ccde0"/>
<rect x="231.42" y="54.06" width="0.7" height="0.7" fill="#f57ac6"/>
<rect x="229.39" y="70.41" width="0.7" height="0.7" fill="#5ccde0"/>
<rect x="229.09" y="48.02" width="0.7" height="0.7" fill="#5ccde0"/>
<rect x="227.63" y="63.07" width="0.7" height="0.7" fill="#f07870"/>
<rect x="235.26" y="55.11" width="0.7" height="0.7" fill="#5ccde0"/>
<rect x="259.59" y="62.88" width="0.7" height="0.7" fill="#f57ac6"/>
<rect x="251.67" y="58.58" width="0.7" height="0.7" fill="#dc8f2a"/>
<rect x="219.96" y="68.03" width="0.7" height="0.7" fill="#5ccde0"/>
<rect x="242.14" y="73.23" width="0.7" height="0.7" fill="#dc8f2a"/>
<rect x="261.83" y="45.99" width="0.7" height="0.7" fill="#dc8f2a"/>
<rect x="216.63" y="76.95" width="0.7" height="0.7" fill="#5ccde0"/>
<text transform="translate(213.5 38.1) scale(0.78 1)" font-size="3.1" font-family="Liberation Sans" fill="#000" text-anchor="middle">CD8+ naive T</text>
<text transform="translate(257.2 22.6) scale(0.78 1)" font-size="3.1" font-family="Liberation Sans" fill="#000" text-anchor="middle">Proliferative T</text>
<text transform="translate(279.5 41.1) scale(0.78 1)" font-size="3.1" font-family="Liberation Sans" fill="#000" text-anchor="middle">CD8+ NK-like T</text>
<text transform="translate(236.7 61.5) scale(0.78 1)" font-size="3.1" font-family="Liberation Sans" fill="#000" text-anchor="middle">CD4+ exhausted T</text>
<text transform="translate(282 65.1) scale(0.78 1)" font-size="3.1" font-family="Liberation Sans" fill="#000" text-anchor="middle">CD8+ CTL-GNLY</text>
<text transform="translate(261 73.9) scale(0.78 1)" font-size="3.1" font-family="Liberation Sans" fill="#000" text-anchor="middle">CD8+ CTL-GZMK</text>
<text transform="translate(198.3 77.1) scale(0.78 1)" font-size="3.1" font-family="Liberation Sans" fill="#000" text-anchor="middle">CD4+ naive T</text>
<text transform="translate(226.3 74.1) scale(0.78 1)" font-size="3.1" font-family="Liberation Sans" fill="#000" text-anchor="middle">CD4+ Treg</text>
<text transform="translate(225 91.3) scale(0.78 1)" font-size="3.1" font-family="Liberation Sans" fill="#000" text-anchor="middle">CD4+ memory T</text>
<text transform="translate(252.6 113.1) scale(0.78 1)" font-size="3.1" font-family="Liberation Sans" fill="#000" text-anchor="middle">NKT</text>
<text transform="translate(278 102.7) scale(0.78 1)" font-size="3.1" font-family="Liberation Sans" fill="#000" text-anchor="middle">γδT</text>
<circle cx="302.1" cy="50.3" r="0.85" fill="#F8766D"/>
<text transform="translate(304.9 51.5) scale(0.66 1)" font-size="3.3" font-family="Liberation Sans" fill="#111">CD4+ exhausted T</text>
<circle cx="302.1" cy="54.4" r="0.85" fill="#DB8E00"/>
<text transform="translate(304.9 55.6) scale(0.66 1)" font-size="3.3" font-family="Liberation Sans" fill="#111">CD4+ memory T</text>
<circle cx="302.1" cy="58.5" r="0.85" fill="#AEA200"/>
<text transform="translate(304.9 59.7) scale(0.66 1)" font-size="3.3" font-family="Liberation Sans" fill="#111">CD4+ naive T</text>
<circle cx="302.1" cy="62.6" r="0.85" fill="#64B200"/>
<text transform="translate(304.9 63.8) scale(0.66 1)" font-size="3.3" font-family="Liberation Sans" fill="#111">CD4+ Treg</text>
<circle cx="302.1" cy="66.7" r="0.85" fill="#00BD5C"/>
<text transform="translate(304.9 67.9) scale(0.66 1)" font-size="3.3" font-family="Liberation Sans" fill="#111">CD8+ CTL-GNLY</text>
<circle cx="302.1" cy="70.8" r="0.85" fill="#00C1A7"/>
<text transform="translate(304.9 72) scale(0.66 1)" font-size="3.3" font-family="Liberation Sans" fill="#111">CD8+ CTL-GZMK</text>
<circle cx="302.1" cy="74.9" r="0.85" fill="#00BADE"/>
<text transform="translate(304.9 76.1) scale(0.66 1)" font-size="3.3" font-family="Liberation Sans" fill="#111">CD8+ naive T</text>
<circle cx="302.1" cy="79" r="0.85" fill="#00A6FF"/>
<text transform="translate(304.9 80.2) scale(0.66 1)" font-size="3.3" font-family="Liberation Sans" fill="#111">CD8+ NKT</text>
<circle cx="302.1" cy="83.1" r="0.85" fill="#B385FF"/>
<text transform="translate(304.9 84.3) scale(0.66 1)" font-size="3.3" font-family="Liberation Sans" fill="#111">CD8+ NK-like T</text>
<circle cx="302.1" cy="87.2" r="0.85" fill="#EF67EB"/>
<text transform="translate(304.9 88.4) scale(0.66 1)" font-size="3.3" font-family="Liberation Sans" fill="#111">Proliferative T</text>
<circle cx="302.1" cy="91.3" r="0.85" fill="#FF63B6"/>
<text transform="translate(304.9 92.5) scale(0.66 1)" font-size="3.3" font-family="Liberation Sans" fill="#111">γδT</text>
<text transform="translate(325.6 13.7) scale(0.97 1)" font-size="14.6" font-family="Liberation Serif" font-weight="bold" fill="#000">B</text>
<line x1="350.1" y1="0.5" x2="350.1" y2="111" stroke="#8a8a8a" stroke-width="0.7"/>
<line x1="350.1" y1="110.6" x2="427.3" y2="110.6" stroke="#333" stroke-width="0.5"/>
<line x1="429.3" y1="110.6" x2="506" y2="110.6" stroke="#333" stroke-width="0.5"/>
<line x1="349" y1="14.5" x2="350.3" y2="14.5" stroke="#222" stroke-width="0.4"/>
<text x="348.3" y="15.6" font-size="3.1" font-family="Liberation Sans" fill="#222" text-anchor="end">20</text>
<line x1="349" y1="37.3" x2="350.3" y2="37.3" stroke="#222" stroke-width="0.4"/>
<text x="348.3" y="38.4" font-size="3.1" font-family="Liberation Sans" fill="#222" text-anchor="end">15</text>
<line x1="349" y1="60.4" x2="350.3" y2="60.4" stroke="#222" stroke-width="0.4"/>
<text x="348.3" y="61.5" font-size="3.1" font-family="Liberation Sans" fill="#222" text-anchor="end">10</text>
<line x1="349" y1="83.2" x2="350.3" y2="83.2" stroke="#222" stroke-width="0.4"/>
<text x="348.3" y="84.3" font-size="3.1" font-family="Liberation Sans" fill="#222" text-anchor="end">5</text>
<line x1="349" y1="106.2" x2="350.3" y2="106.2" stroke="#222" stroke-width="0.4"/>
<text x="348.3" y="107.3" font-size="3.1" font-family="Liberation Sans" fill="#222" text-anchor="end">0</text>
<text x="343.2" y="56" font-size="2.8" font-family="Liberation Sans" fill="#222" text-anchor="middle" transform="rotate(-90 343.2 56)">Distribution of clone status (%)</text>
<text x="388.5" y="5.3" font-size="3.4" font-family="Liberation Sans" fill="#111" text-anchor="middle" font-weight="bold">NP</text>
<text x="467.5" y="5.3" font-size="3.4" font-family="Liberation Sans" fill="#111" text-anchor="middle" font-weight="bold">GDM</text>
<rect x="351" y="6.3" width="7" height="100.2" fill="#d3d3d3"/>
<rect x="351" y="10.7" width="7" height="95.8" fill="#b2dfe6"/>
<rect x="351" y="93" width="7" height="13.5" fill="#2b4d8c"/>
<line x1="354.5" y1="110.6" x2="354.5" y2="111.8" stroke="#333" stroke-width="0.4"/>
<rect x="358.58" y="8.4" width="7" height="98.1" fill="#d3d3d3"/>
<rect x="358.58" y="14" width="7" height="92.5" fill="#b2dfe6"/>
<rect x="358.58" y="96.8" width="7" height="9.7" fill="#2b4d8c"/>
<line x1="362.08" y1="110.6" x2="362.08" y2="111.8" stroke="#333" stroke-width="0.4"/>
<rect x="366.16" y="85" width="7" height="21.5" fill="#d3d3d3"/>
<rect x="366.16" y="99" width="7" height="7.5" fill="#b2dfe6"/>
<rect x="366.16" y="104.6" width="7" height="1.9" fill="#2b4d8c"/>
<line x1="369.66" y1="110.6" x2="369.66" y2="111.8" stroke="#333" stroke-width="0.4"/>
<rect x="373.74" y="49.8" width="7" height="56.7" fill="#d3d3d3"/>
<rect x="373.74" y="53.4" width="7" height="53.1" fill="#b2dfe6"/>
<rect x="373.74" y="101.7" width="7" height="4.8" fill="#2b4d8c"/>
<line x1="377.24" y1="110.6" x2="377.24" y2="111.8" stroke="#333" stroke-width="0.4"/>
<rect x="381.32" y="51.5" width="7" height="55" fill="#d3d3d3"/>
<rect x="381.32" y="55.7" width="7" height="50.8" fill="#b2dfe6"/>
<rect x="381.32" y="58.9" width="7" height="47.6" fill="#2b4d8c"/>
<line x1="384.82" y1="110.6" x2="384.82" y2="111.8" stroke="#333" stroke-width="0.4"/>
<rect x="388.9" y="49.8" width="7" height="56.7" fill="#d3d3d3"/>
<rect x="388.9" y="53.8" width="7" height="52.7" fill="#b2dfe6"/>
<rect x="388.9" y="78.8" width="7" height="27.7" fill="#2b4d8c"/>
<line x1="392.4" y1="110.6" x2="392.4" y2="111.8" stroke="#333" stroke-width="0.4"/>
<rect x="396.48" y="92" width="7" height="14.5" fill="#d3d3d3"/>
<rect x="396.48" y="93.7" width="7" height="12.8" fill="#b2dfe6"/>
<rect x="396.48" y="98.9" width="7" height="7.6" fill="#2b4d8c"/>
<line x1="399.98" y1="110.6" x2="399.98" y2="111.8" stroke="#333" stroke-width="0.4"/>
<rect x="404.06" y="73.8" width="7" height="32.7" fill="#d3d3d3"/>
<rect x="404.06" y="94" width="7" height="12.5" fill="#b2dfe6"/>
<rect x="404.06" y="98.9" width="7" height="7.6" fill="#2b4d8c"/>
<line x1="407.56" y1="110.6" x2="407.56" y2="111.8" stroke="#333" stroke-width="0.4"/>
<rect x="411.64" y="103" width="7" height="3.5" fill="#d3d3d3"/>
<rect x="411.64" y="104" width="7" height="2.5" fill="#b2dfe6"/>
<rect x="411.64" y="104.6" width="7" height="1.9" fill="#2b4d8c"/>
<line x1="415.14" y1="110.6" x2="415.14" y2="111.8" stroke="#333" stroke-width="0.4"/>
<rect x="419.22" y="101" width="7" height="5.5" fill="#d3d3d3"/>
<rect x="419.22" y="101" width="7" height="5.5" fill="#b2dfe6"/>
<rect x="419.22" y="105.5" width="7" height="1" fill="#2b4d8c"/>
<line x1="422.72" y1="110.6" x2="422.72" y2="111.8" stroke="#333" stroke-width="0.4"/>
<rect x="430" y="9.8" width="7" height="96.7" fill="#d3d3d3"/>
<rect x="430" y="14.4" width="7" height="92.1" fill="#b2dfe6"/>
<rect x="430" y="93.9" width="7" height="12.6" fill="#2b4d8c"/>
<line x1="433.5" y1="110.6" x2="433.5" y2="111.8" stroke="#333" stroke-width="0.4"/>
<rect x="437.58" y="32" width="7" height="74.5" fill="#d3d3d3"/>
<rect x="437.58" y="35.9" width="7" height="70.6" fill="#b2dfe6"/>
<rect x="437.58" y="101" width="7" height="5.5" fill="#2b4d8c"/>
<line x1="441.08" y1="110.6" x2="441.08" y2="111.8" stroke="#333" stroke-width="0.4"/>
<rect x="445.16" y="95" width="7" height="11.5" fill="#d3d3d3"/>
<rect x="445.16" y="103" width="7" height="3.5" fill="#b2dfe6"/>
<rect x="445.16" y="104.8" width="7" height="1.7" fill="#2b4d8c"/>
<line x1="448.66" y1="110.6" x2="448.66" y2="111.8" stroke="#333" stroke-width="0.4"/>
<rect x="452.74" y="52.7" width="7" height="53.8" fill="#d3d3d3"/>
<rect x="452.74" y="54.6" width="7" height="51.9" fill="#b2dfe6"/>
<rect x="452.74" y="102.5" width="7" height="4" fill="#2b4d8c"/>
<line x1="456.24" y1="110.6" x2="456.24" y2="111.8" stroke="#333" stroke-width="0.4"/>
<rect x="460.32" y="62.6" width="7" height="43.9" fill="#d3d3d3"/>
<rect x="460.32" y="64.8" width="7" height="41.7" fill="#b2dfe6"/>
<rect x="460.32" y="68.3" width="7" height="38.2" fill="#2b4d8c"/>
<line x1="463.82" y1="110.6" x2="463.82" y2="111.8" stroke="#333" stroke-width="0.4"/>
<rect x="467.9" y="31.5" width="7" height="75" fill="#d3d3d3"/>
<rect x="467.9" y="40" width="7" height="66.5" fill="#b2dfe6"/>
<rect x="467.9" y="61.9" width="7" height="44.6" fill="#2b4d8c"/>
<line x1="471.4" y1="110.6" x2="471.4" y2="111.8" stroke="#333" stroke-width="0.4"/>
<rect x="475.48" y="82.7" width="7" height="23.8" fill="#d3d3d3"/>
<rect x="475.48" y="85.9" width="7" height="20.6" fill="#b2dfe6"/>
<rect x="475.48" y="94" width="7" height="12.5" fill="#2b4d8c"/>
<line x1="478.98" y1="110.6" x2="478.98" y2="111.8" stroke="#333" stroke-width="0.4"/>
<rect x="483.06" y="61.9" width="7" height="44.6" fill="#d3d3d3"/>
<rect x="483.06" y="85.4" width="7" height="21.1" fill="#b2dfe6"/>
<rect x="483.06" y="91.8" width="7" height="14.7" fill="#2b4d8c"/>
<line x1="486.56" y1="110.6" x2="486.56" y2="111.8" stroke="#333" stroke-width="0.4"/>
<rect x="490.64" y="104" width="7" height="2.5" fill="#d3d3d3"/>
<rect x="490.64" y="105" width="7" height="1.5" fill="#b2dfe6"/>
<rect x="490.64" y="105.5" width="7" height="1" fill="#2b4d8c"/>
<line x1="494.14" y1="110.6" x2="494.14" y2="111.8" stroke="#333" stroke-width="0.4"/>
<rect x="498.22" y="102" width="7" height="4.5" fill="#d3d3d3"/>
<rect x="498.22" y="102" width="7" height="4.5" fill="#b2dfe6"/>
<rect x="498.22" y="105.5" width="7" height="1" fill="#2b4d8c"/>
<line x1="501.72" y1="110.6" x2="501.72" y2="111.8" stroke="#333" stroke-width="0.4"/>
<text x="357.1" y="116" font-size="4.3" font-family="Liberation Serif" fill="#111" text-anchor="end" font-weight="bold" transform="rotate(-45 357.1 116)">CD4+ memory T</text>
<text x="364.68" y="116" font-size="4.3" font-family="Liberation Serif" fill="#111" text-anchor="end" font-weight="bold" transform="rotate(-45 364.68 116)">CD4+ naive T</text>
<text x="372.26" y="116" font-size="4.3" font-family="Liberation Serif" fill="#111" text-anchor="end" font-weight="bold" transform="rotate(-45 372.26 116)">CD4+ exhausted T</text>
<text x="379.84" y="116" font-size="4.3" font-family="Liberation Serif" fill="#111" text-anchor="end" font-weight="bold" transform="rotate(-45 379.84 116)">CD8+ naive T</text>
<text x="387.42" y="116" font-size="4.3" font-family="Liberation Serif" fill="#111" text-anchor="end" font-weight="bold" transform="rotate(-45 387.42 116)">CD8+ CTL-GNLY</text>
<text x="395" y="116" font-size="4.3" font-family="Liberation Serif" fill="#111" text-anchor="end" font-weight="bold" transform="rotate(-45 395 116)">CD8+ CTL-GZMK</text>
<text x="402.58" y="116" font-size="4.3" font-family="Liberation Serif" fill="#111" text-anchor="end" font-weight="bold" transform="rotate(-45 402.58 116)">CD8+ MAIT</text>
<text x="410.16" y="116" font-size="4.3" font-family="Liberation Serif" fill="#111" text-anchor="end" font-weight="bold" transform="rotate(-45 410.16 116)">CD8+ NKT</text>
<text x="417.74" y="116" font-size="4.3" font-family="Liberation Serif" fill="#111" text-anchor="end" font-weight="bold" transform="rotate(-45 417.74 116)">Pro T</text>
<text x="425.32" y="116" font-size="4.3" font-family="Liberation Serif" fill="#111" text-anchor="end" font-weight="bold" transform="rotate(-45 425.32 116)">CD4+ Treg</text>
<text x="436.1" y="116" font-size="4.3" font-family="Liberation Serif" fill="#111" text-anchor="end" font-weight="bold" transform="rotate(-45 436.1 116)">CD4+ memory T</text>
<text x="443.68" y="116" font-size="4.3" font-family="Liberation Serif" fill="#111" text-anchor="end" font-weight="bold" transform="rotate(-45 443.68 116)">CD4+ naive T</text>
<text x="451.26" y="116" font-size="4.3" font-family="Liberation Serif" fill="#111" text-anchor="end" font-weight="bold" transform="rotate(-45 451.26 116)">CD4+ exhausted T</text>
<text x="458.84" y="116" font-size="4.3" font-family="Liberation Serif" fill="#111" text-anchor="end" font-weight="bold" transform="rotate(-45 458.84 116)">CD8+ naive T</text>
<text x="466.42" y="116" font-size="4.3" font-family="Liberation Serif" fill="#111" text-anchor="end" font-weight="bold" transform="rotate(-45 466.42 116)">CD8+ CTL-GNLY</text>
<text x="474" y="116" font-size="4.3" font-family="Liberation Serif" fill="#111" text-anchor="end" font-weight="bold" transform="rotate(-45 474 116)">CD8+ CTL-GZMK</text>
<text x="481.58" y="116" font-size="4.3" font-family="Liberation Serif" fill="#111" text-anchor="end" font-weight="bold" transform="rotate(-45 481.58 116)">CD8+ MAIT</text>
<text x="489.16" y="116" font-size="4.3" font-family="Liberation Serif" fill="#111" text-anchor="end" font-weight="bold" transform="rotate(-45 489.16 116)">CD8+ NKT</text>
<text x="496.74" y="116" font-size="4.3" font-family="Liberation Serif" fill="#111" text-anchor="end" font-weight="bold" transform="rotate(-45 496.74 116)">Pro T</text>
<text x="504.32" y="116" font-size="4.3" font-family="Liberation Serif" fill="#111" text-anchor="end" font-weight="bold" transform="rotate(-45 504.32 116)">CD4+ Treg</text>
<text x="487.8" y="11.5" font-size="2.5" font-family="Liberation Sans" fill="#111">Clone_state</text>
<rect x="488" y="14.8" width="3.2" height="3" fill="#2b4d8c"/>
<text x="492.4" y="17.1" font-size="2.4" font-family="Liberation Sans" fill="#111">Clonal</text>
<rect x="488" y="18.7" width="3.2" height="3" fill="#b2dfe6"/>
<text x="492.4" y="21" font-size="2.4" font-family="Liberation Sans" fill="#111">NotClonal</text>
<rect x="488" y="22.6" width="3.2" height="3" fill="#d3d3d3"/>
<text x="492.4" y="24.9" font-size="2.4" font-family="Liberation Sans" fill="#111">Non-VDJ</text>
<text transform="translate(510.8 10.5) scale(0.97 1)" font-size="14.6" font-family="Liberation Serif" font-weight="bold" fill="#000">C</text>
<rect x="539.3" y="2.3" width="62.4" height="3.9" fill="#dedede" stroke="#666" stroke-width="0.35"/>
<text x="570.5" y="5.2" font-size="2.3" font-family="Liberation Sans" fill="#222" text-anchor="middle">Moderate expanded (1-5)</text>
<rect x="539.3" y="6.2" width="62.4" height="128.5" fill="none" stroke="#444" stroke-width="0.5"/>
<rect x="603" y="2.3" width="62.8" height="3.9" fill="#dedede" stroke="#666" stroke-width="0.35"/>
<text x="634.4" y="5.2" font-size="2.3" font-family="Liberation Sans" fill="#222" text-anchor="middle">Highly expanded (>5)</text>
<rect x="603" y="6.2" width="62.8" height="128.5" fill="none" stroke="#444" stroke-width="0.5"/>
<text x="537.2" y="15" font-size="3.3" font-family="Liberation Sans" fill="#111" text-anchor="end">CD4+ Treg</text>
<line x1="537.6" y1="13.9" x2="539.3" y2="13.9" stroke="#333" stroke-width="0.3"/>
<text x="537.2" y="27.7" font-size="3.3" font-family="Liberation Sans" fill="#111" text-anchor="end">Pro T</text>
<line x1="537.6" y1="26.6" x2="539.3" y2="26.6" stroke="#333" stroke-width="0.3"/>
<text x="537.2" y="40.4" font-size="3.3" font-family="Liberation Sans" fill="#111" text-anchor="end">CD8+ NKT</text>
<line x1="537.6" y1="39.3" x2="539.3" y2="39.3" stroke="#333" stroke-width="0.3"/>
<text x="537.2" y="53.1" font-size="3.3" font-family="Liberation Sans" fill="#111" text-anchor="end">CD8+ MAIT</text>
<line x1="537.6" y1="52" x2="539.3" y2="52" stroke="#333" stroke-width="0.3"/>
<text x="537.2" y="65.8" font-size="3.3" font-family="Liberation Sans" fill="#111" text-anchor="end">CD8+ CTL-GZMK T</text>
<line x1="537.6" y1="64.7" x2="539.3" y2="64.7" stroke="#333" stroke-width="0.3"/>
<text x="537.2" y="78.5" font-size="3.3" font-family="Liberation Sans" fill="#111" text-anchor="end">CD8+ CTL-GNLY T</text>
<line x1="537.6" y1="77.4" x2="539.3" y2="77.4" stroke="#333" stroke-width="0.3"/>
<text x="537.2" y="91.2" font-size="3.3" font-family="Liberation Sans" fill="#111" text-anchor="end">CD8+ naive T</text>
<line x1="537.6" y1="90.1" x2="539.3" y2="90.1" stroke="#333" stroke-width="0.3"/>
<text x="537.2" y="103.9" font-size="3.3" font-family="Liberation Sans" fill="#111" text-anchor="end">CD4+ exhausted T</text>
<line x1="537.6" y1="102.8" x2="539.3" y2="102.8" stroke="#333" stroke-width="0.3"/>
<text x="537.2" y="116.6" font-size="3.3" font-family="Liberation Sans" fill="#111" text-anchor="end">CD4+ naive T</text>
<line x1="537.6" y1="115.5" x2="539.3" y2="115.5" stroke="#333" stroke-width="0.3"/>
<text x="537.2" y="129.3" font-size="3.3" font-family="Liberation Sans" fill="#111" text-anchor="end">CD4+ memory T</text>
<line x1="537.6" y1="128.2" x2="539.3" y2="128.2" stroke="#333" stroke-width="0.3"/>
<text x="556" y="138.6" font-size="3" font-family="Liberation Sans" fill="#111" text-anchor="middle">NP</text>
<line x1="556" y1="134.7" x2="556" y2="135.7" stroke="#333" stroke-width="0.3"/>
<text x="584.6" y="138.6" font-size="3" font-family="Liberation Sans" fill="#111" text-anchor="middle">GDM</text>
<line x1="584.6" y1="134.7" x2="584.6" y2="135.7" stroke="#333" stroke-width="0.3"/>
<text x="619.7" y="138.6" font-size="3" font-family="Liberation Sans" fill="#111" text-anchor="middle">NP</text>
<line x1="619.7" y1="134.7" x2="619.7" y2="135.7" stroke="#333" stroke-width="0.3"/>
<text x="648.3" y="138.6" font-size="3" font-family="Liberation Sans" fill="#111" text-anchor="middle">GDM</text>
<line x1="648.3" y1="134.7" x2="648.3" y2="135.7" stroke="#333" stroke-width="0.3"/>
<circle cx="556" cy="13.9" r="0.6" fill="#e08a80"/>
<circle cx="584.6" cy="13.9" r="0.5" fill="#e09a90"/>
<circle cx="556" cy="26.6" r="0.35" fill="#c8dde0"/>
<circle cx="584.6" cy="26.6" r="0.35" fill="#c8dde0"/>
<circle cx="556" cy="39.3" r="0.7" fill="#c0d8de"/>
<circle cx="584.6" cy="39.3" r="0.8" fill="#bcd6dc"/>
<circle cx="556" cy="52" r="0.8" fill="#e07a70"/>
<circle cx="584.6" cy="52" r="1.2" fill="#e08a80"/>
<circle cx="556" cy="64.7" r="1.6" fill="#dca49b"/>
<circle cx="584.6" cy="64.7" r="1.8" fill="#d9b0a8"/>
<circle cx="556" cy="77.4" r="1" fill="#cfc0c0"/>
<circle cx="584.6" cy="77.4" r="1" fill="#d4b8b4"/>
<circle cx="556" cy="90.1" r="1" fill="#d2bcb8"/>
<circle cx="584.6" cy="90.1" r="1" fill="#cfc6c6"/>
<circle cx="556" cy="102.8" r="0.5" fill="#a4d4e2"/>
<circle cx="584.6" cy="102.8" r="0.5" fill="#a4d4e2"/>
<circle cx="556" cy="115.5" r="1.5" fill="#d8b8b6"/>
<circle cx="584.6" cy="115.5" r="1.4" fill="#d0c4c4"/>
<circle cx="556" cy="128.2" r="1.7" fill="#d8b4b0"/>
<circle cx="584.6" cy="128.2" r="1.8" fill="#d8b0a8"/>
<circle cx="619.7" cy="13.9" r="0.5" fill="#a8d6e4"/>
<circle cx="648.3" cy="13.9" r="0.5" fill="#a8d6e4"/>
<circle cx="619.7" cy="26.6" r="0.6" fill="#e0a098"/>
<circle cx="648.3" cy="26.6" r="0.5" fill="#e0a098"/>
<circle cx="619.7" cy="39.3" r="1" fill="#cfbcbc"/>
<circle cx="648.3" cy="39.3" r="1.5" fill="#d8aaa4"/>
<circle cx="619.7" cy="52" r="1.25" fill="#ea4a3a"/>
<circle cx="648.3" cy="52" r="1.6" fill="#e46a5c"/>
<circle cx="619.7" cy="64.7" r="1.5" fill="#d8aaa2"/>
<circle cx="648.3" cy="64.7" r="2.5" fill="#daa69e"/>
<circle cx="619.7" cy="77.4" r="2.7" fill="#f42c20"/>
<circle cx="648.3" cy="77.4" r="2.6" fill="#f22e22"/>
<circle cx="619.7" cy="90.1" r="0.5" fill="#a4d4e2"/>
<circle cx="648.3" cy="90.1" r="0.5" fill="#a4d4e2"/>
<circle cx="619.7" cy="102.8" r="0.5" fill="#a4d4e2"/>
<circle cx="648.3" cy="102.8" r="0.5" fill="#a4d4e2"/>
<circle cx="619.7" cy="115.5" r="0.5" fill="#a4d4e2"/>
<circle cx="648.3" cy="115.5" r="0.5" fill="#a4d4e2"/>
<circle cx="619.7" cy="128.2" r="0.5" fill="#a4d4e2"/>
<circle cx="648.3" cy="128.2" r="0.5" fill="#a4d4e2"/>
<text x="669.3" y="45" font-size="2.5" font-family="Liberation Sans" fill="#111">Cell Ratio</text>
<defs><linearGradient id="cr" x1="0" y1="0" x2="0" y2="1"><stop offset="0" stop-color="#ff1a0a"/><stop offset="0.55" stop-color="#e28a80"/><stop offset="0.8" stop-color="#d8c0c0"/><stop offset="1" stop-color="#add8e6"/></linearGradient></defs>
<rect x="669.8" y="46.6" width="3.2" height="21" fill="url(#cr)"/>
<text x="674.3" y="51.3" font-size="2.6" font-family="Liberation Sans" fill="#111">0.6</text>
<text x="674.3" y="57.4" font-size="2.6" font-family="Liberation Sans" fill="#111">0.4</text>
<text x="674.3" y="63.1" font-size="2.6" font-family="Liberation Sans" fill="#111">0.2</text>
<text x="674.3" y="68.4" font-size="2.6" font-family="Liberation Sans" fill="#111">0.0</text>
<text x="669.3" y="75.5" font-size="2.5" font-family="Liberation Sans" fill="#111">Cell Count</text>
<circle cx="672.8" cy="79.6" r="0.3" fill="#222"/>
<text x="676.3" y="80.5" font-size="2.6" font-family="Liberation Sans" fill="#111">0</text>
<circle cx="672.8" cy="84.4" r="1.4" fill="#222"/>
<text x="676.3" y="85.3" font-size="2.6" font-family="Liberation Sans" fill="#111">1000</text>
<circle cx="672.8" cy="89.5" r="2" fill="#222"/>
<text x="676.3" y="90.4" font-size="2.6" font-family="Liberation Sans" fill="#111">2000</text>
<circle cx="672.8" cy="96.6" r="2.5" fill="#222"/>
<text x="676.3" y="97.5" font-size="2.6" font-family="Liberation Sans" fill="#111">3000</text>
<text transform="translate(0.5 140.7) scale(0.97 1)" font-size="14.6" font-family="Liberation Serif" font-weight="bold" fill="#000">D</text>
<rect x="11.6" y="147.8" width="104.1" height="100.3" fill="#fff"/>
<line x1="13.1" y1="147.8" x2="13.1" y2="248.1" stroke="#e6e6e6" stroke-width="0.45"/>
<line x1="51.3" y1="147.8" x2="51.3" y2="248.1" stroke="#e6e6e6" stroke-width="0.45"/>
<line x1="89.4" y1="147.8" x2="89.4" y2="248.1" stroke="#e6e6e6" stroke-width="0.45"/>
<line x1="11.6" y1="152.7" x2="115.7" y2="152.7" stroke="#e6e6e6" stroke-width="0.45"/>
<line x1="11.6" y1="171.1" x2="115.7" y2="171.1" stroke="#e6e6e6" stroke-width="0.45"/>
<line x1="11.6" y1="189.5" x2="115.7" y2="189.5" stroke="#e6e6e6" stroke-width="0.45"/>
<line x1="11.6" y1="207.9" x2="115.7" y2="207.9" stroke="#e6e6e6" stroke-width="0.45"/>
<line x1="11.6" y1="226.3" x2="115.7" y2="226.3" stroke="#e6e6e6" stroke-width="0.45"/>
<line x1="11.6" y1="244.7" x2="115.7" y2="244.7" stroke="#e6e6e6" stroke-width="0.45"/>
<line x1="32.2" y1="147.8" x2="32.2" y2="248.1" stroke="#f2f2f2" stroke-width="0.3"/>
<line x1="70.4" y1="147.8" x2="70.4" y2="248.1" stroke="#f2f2f2" stroke-width="0.3"/>
<line x1="108.5" y1="147.8" x2="108.5" y2="248.1" stroke="#f2f2f2" stroke-width="0.3"/>
<line x1="11.6" y1="161.9" x2="115.7" y2="161.9" stroke="#f2f2f2" stroke-width="0.3"/>
<line x1="11.6" y1="180.3" x2="115.7" y2="180.3" stroke="#f2f2f2" stroke-width="0.3"/>
<line x1="11.6" y1="198.7" x2="115.7" y2="198.7" stroke="#f2f2f2" stroke-width="0.3"/>
<line x1="11.6" y1="217.1" x2="115.7" y2="217.1" stroke="#f2f2f2" stroke-width="0.3"/>
<line x1="11.6" y1="235.5" x2="115.7" y2="235.5" stroke="#f2f2f2" stroke-width="0.3"/>
<rect x="11.6" y="147.8" width="104.1" height="100.3" fill="none" stroke="#aaaaaa" stroke-width="0.7"/>
<line x1="13.1" y1="248.1" x2="13.1" y2="249.1" stroke="#555" stroke-width="0.35"/>
<text x="13.1" y="251.9" font-size="2.9" font-family="Liberation Sans" fill="#333" text-anchor="middle">-5</text>
<line x1="51.3" y1="248.1" x2="51.3" y2="249.1" stroke="#555" stroke-width="0.35"/>
<text x="51.3" y="251.9" font-size="2.9" font-family="Liberation Sans" fill="#333" text-anchor="middle">0</text>
<line x1="89.4" y1="248.1" x2="89.4" y2="249.1" stroke="#555" stroke-width="0.35"/>
<text x="89.4" y="251.9" font-size="2.9" font-family="Liberation Sans" fill="#333" text-anchor="middle">5</text>
<line x1="10.6" y1="152.7" x2="11.6" y2="152.7" stroke="#555" stroke-width="0.35"/>
<text x="10.1" y="153.7" font-size="2.9" font-family="Liberation Sans" fill="#333" text-anchor="end">250</text>
<line x1="10.6" y1="171.1" x2="11.6" y2="171.1" stroke="#555" stroke-width="0.35"/>
<text x="10.1" y="172.1" font-size="2.9" font-family="Liberation Sans" fill="#333" text-anchor="end">200</text>
<line x1="10.6" y1="189.5" x2="11.6" y2="189.5" stroke="#555" stroke-width="0.35"/>
<text x="10.1" y="190.5" font-size="2.9" font-family="Liberation Sans" fill="#333" text-anchor="end">150</text>
<line x1="10.6" y1="207.9" x2="11.6" y2="207.9" stroke="#555" stroke-width="0.35"/>
<text x="10.1" y="208.9" font-size="2.9" font-family="Liberation Sans" fill="#333" text-anchor="end">100</text>
<line x1="10.6" y1="226.3" x2="11.6" y2="226.3" stroke="#555" stroke-width="0.35"/>
<text x="10.1" y="227.3" font-size="2.9" font-family="Liberation Sans" fill="#333" text-anchor="end">50</text>
<line x1="10.6" y1="244.7" x2="11.6" y2="244.7" stroke="#555" stroke-width="0.35"/>
<text x="10.1" y="245.7" font-size="2.9" font-family="Liberation Sans" fill="#333" text-anchor="end">0</text>
<line x1="51.3" y1="147.8" x2="51.3" y2="248.1" stroke="#666" stroke-width="0.45" stroke-dasharray="1.2,0.8"/>
<line x1="11.6" y1="244.1" x2="115.7" y2="244.1" stroke="#666" stroke-width="0.45" stroke-dasharray="1.2,0.8"/>
<text x="63" y="254.3" font-size="3" font-family="Liberation Sans" fill="#333" text-anchor="middle">Log2FC</text>
<text x="4.6" y="197.6" font-size="2.6" font-family="Liberation Sans" fill="#333" text-anchor="middle" transform="rotate(-90 4.6 197.6)">-Log10(adjPvalue)</text>
<circle cx="57.4" cy="233.3" r="0.63" fill="#d43c3c" opacity="0.85"/>
<circle cx="54.22" cy="238.23" r="0.49" fill="#d43c3c" opacity="0.85"/>
<circle cx="57.45" cy="237.47" r="0.57" fill="#d43c3c" opacity="0.85"/>
<circle cx="55.38" cy="238.59" r="0.47" fill="#d43c3c" opacity="0.85"/>
<circle cx="59.86" cy="237.68" r="0.52" fill="#d43c3c" opacity="0.85"/>
<circle cx="58.8" cy="236.24" r="0.61" fill="#d43c3c" opacity="0.85"/>
<circle cx="55.51" cy="234.28" r="0.56" fill="#d43c3c" opacity="0.85"/>
<circle cx="54.39" cy="235.22" r="0.65" fill="#d43c3c" opacity="0.85"/>
<circle cx="59.51" cy="238.19" r="0.61" fill="#d43c3c" opacity="0.85"/>
<circle cx="57.42" cy="236.33" r="0.48" fill="#d43c3c" opacity="0.85"/>
<circle cx="56.73" cy="235.1" r="0.6" fill="#d43c3c" opacity="0.85"/>
<circle cx="56.84" cy="235.42" r="0.61" fill="#d43c3c" opacity="0.85"/>
<circle cx="59.75" cy="238.28" r="0.64" fill="#d43c3c" opacity="0.85"/>
<circle cx="55.71" cy="233.19" r="0.54" fill="#d43c3c" opacity="0.85"/>
<circle cx="54.95" cy="243.09" r="0.55" fill="#d43c3c" opacity="0.85"/>
<circle cx="59.69" cy="234.79" r="0.53" fill="#d43c3c" opacity="0.85"/>
<circle cx="52.31" cy="233.57" r="0.59" fill="#d43c3c" opacity="0.85"/>
<circle cx="52.46" cy="235.44" r="0.54" fill="#d43c3c" opacity="0.85"/>
<circle cx="59.38" cy="235.6" r="0.45" fill="#d43c3c" opacity="0.85"/>
<circle cx="57.67" cy="240.66" r="0.48" fill="#d43c3c" opacity="0.85"/>
<circle cx="59.44" cy="242.52" r="0.64" fill="#d43c3c" opacity="0.85"/>
<circle cx="58.63" cy="239.01" r="0.59" fill="#d43c3c" opacity="0.85"/>
<circle cx="53.17" cy="240.08" r="0.52" fill="#d43c3c" opacity="0.85"/>
<circle cx="54.82" cy="236.44" r="0.47" fill="#d43c3c" opacity="0.85"/>
<circle cx="58.52" cy="241.41" r="0.45" fill="#d43c3c" opacity="0.85"/>
<circle cx="56.2" cy="233.25" r="0.56" fill="#d43c3c" opacity="0.85"/>
<circle cx="53.5" cy="243.57" r="0.51" fill="#d43c3c" opacity="0.85"/>
<circle cx="56.28" cy="235.88" r="0.63" fill="#d43c3c" opacity="0.85"/>
<circle cx="52.26" cy="236.33" r="0.5" fill="#d43c3c" opacity="0.85"/>
<circle cx="58.02" cy="237.09" r="0.62" fill="#d43c3c" opacity="0.85"/>
<circle cx="54.76" cy="234.38" r="0.54" fill="#d43c3c" opacity="0.85"/>
<circle cx="52.87" cy="234.68" r="0.55" fill="#d43c3c" opacity="0.85"/>
<circle cx="56.68" cy="235.35" r="0.49" fill="#d43c3c" opacity="0.85"/>
<circle cx="56.27" cy="237.9" r="0.55" fill="#d43c3c" opacity="0.85"/>
<circle cx="57.43" cy="234.55" r="0.45" fill="#d43c3c" opacity="0.85"/>
<circle cx="52.71" cy="241.74" r="0.59" fill="#d43c3c" opacity="0.85"/>
<circle cx="53.4" cy="236.63" r="0.51" fill="#d43c3c" opacity="0.85"/>
<circle cx="59.4" cy="237.54" r="0.59" fill="#d43c3c" opacity="0.85"/>
<circle cx="52.87" cy="233.46" r="0.5" fill="#d43c3c" opacity="0.85"/>
<circle cx="57.2" cy="237.92" r="0.62" fill="#d43c3c" opacity="0.85"/>
<circle cx="58.61" cy="240.31" r="0.65" fill="#d43c3c" opacity="0.85"/>
<circle cx="59.69" cy="242.71" r="0.47" fill="#d43c3c" opacity="0.85"/>
<circle cx="55.32" cy="234.6" r="0.57" fill="#d43c3c" opacity="0.85"/>
<circle cx="56.14" cy="234.02" r="0.47" fill="#d43c3c" opacity="0.85"/>
<circle cx="55.83" cy="239.87" r="0.53" fill="#d43c3c" opacity="0.85"/>
<circle cx="55.88" cy="239.98" r="0.59" fill="#d43c3c" opacity="0.85"/>
<circle cx="57.72" cy="237.57" r="0.48" fill="#d43c3c" opacity="0.85"/>
<circle cx="58.99" cy="233.45" r="0.49" fill="#d43c3c" opacity="0.85"/>
<circle cx="53.69" cy="239.54" r="0.57" fill="#d43c3c" opacity="0.85"/>
<circle cx="52.98" cy="238.66" r="0.56" fill="#d43c3c" opacity="0.85"/>
<circle cx="57.56" cy="233.81" r="0.6" fill="#d43c3c" opacity="0.85"/>
<circle cx="54.31" cy="237.23" r="0.47" fill="#d43c3c" opacity="0.85"/>
<circle cx="58.77" cy="239.8" r="0.61" fill="#d43c3c" opacity="0.85"/>
<circle cx="56.22" cy="234.21" r="0.53" fill="#d43c3c" opacity="0.85"/>
<circle cx="52.81" cy="234.09" r="0.61" fill="#d43c3c" opacity="0.85"/>
<circle cx="52.2" cy="237.28" r="0.46" fill="#d43c3c" opacity="0.85"/>
<circle cx="58.16" cy="243.9" r="0.46" fill="#d43c3c" opacity="0.85"/>
<circle cx="55.04" cy="243.73" r="0.5" fill="#d43c3c" opacity="0.85"/>
<circle cx="54.62" cy="243.86" r="0.63" fill="#d43c3c" opacity="0.85"/>
<circle cx="55.21" cy="240.38" r="0.61" fill="#d43c3c" opacity="0.85"/>
<circle cx="54.97" cy="233.02" r="0.52" fill="#d43c3c" opacity="0.85"/>
<circle cx="57.6" cy="243.61" r="0.54" fill="#d43c3c" opacity="0.85"/>
<circle cx="55.4" cy="237.19" r="0.57" fill="#d43c3c" opacity="0.85"/>
<circle cx="52.37" cy="243.04" r="0.64" fill="#d43c3c" opacity="0.85"/>
<circle cx="52.44" cy="233.07" r="0.51" fill="#d43c3c" opacity="0.85"/>
<circle cx="53.34" cy="241.46" r="0.62" fill="#d43c3c" opacity="0.85"/>
<circle cx="56.46" cy="243.38" r="0.5" fill="#d43c3c" opacity="0.85"/>
<circle cx="53.73" cy="237.22" r="0.54" fill="#d43c3c" opacity="0.85"/>
<circle cx="53.74" cy="243.13" r="0.6" fill="#d43c3c" opacity="0.85"/>
<circle cx="54.45" cy="235.49" r="0.51" fill="#d43c3c" opacity="0.85"/>
<circle cx="55.28" cy="240.2" r="0.61" fill="#d43c3c" opacity="0.85"/>
<circle cx="59.61" cy="233.89" r="0.49" fill="#d43c3c" opacity="0.85"/>
<circle cx="55.16" cy="243.47" r="0.54" fill="#d43c3c" opacity="0.85"/>
<circle cx="57.81" cy="242.12" r="0.54" fill="#d43c3c" opacity="0.85"/>
<circle cx="55.14" cy="241.54" r="0.58" fill="#d43c3c" opacity="0.85"/>
<circle cx="59.94" cy="235.98" r="0.64" fill="#d43c3c" opacity="0.85"/>
<circle cx="55.99" cy="242.56" r="0.58" fill="#d43c3c" opacity="0.85"/>
<circle cx="56.6" cy="242.41" r="0.47" fill="#d43c3c" opacity="0.85"/>
<circle cx="54.39" cy="238.36" r="0.61" fill="#d43c3c" opacity="0.85"/>
<circle cx="53.65" cy="241.58" r="0.47" fill="#d43c3c" opacity="0.85"/>
<circle cx="54.93" cy="238.1" r="0.59" fill="#d43c3c" opacity="0.85"/>
<circle cx="56.28" cy="242.34" r="0.59" fill="#d43c3c" opacity="0.85"/>
<circle cx="55.19" cy="238.73" r="0.53" fill="#d43c3c" opacity="0.85"/>
<circle cx="59.01" cy="236.34" r="0.49" fill="#d43c3c" opacity="0.85"/>
<circle cx="54.11" cy="235.75" r="0.61" fill="#d43c3c" opacity="0.85"/>
<circle cx="57.56" cy="235.7" r="0.53" fill="#d43c3c" opacity="0.85"/>
<circle cx="59.18" cy="243.57" r="0.49" fill="#d43c3c" opacity="0.85"/>
<circle cx="59.56" cy="233.64" r="0.65" fill="#d43c3c" opacity="0.85"/>
<circle cx="54.7" cy="243.5" r="0.46" fill="#d43c3c" opacity="0.85"/>
<circle cx="57.57" cy="243.17" r="0.61" fill="#d43c3c" opacity="0.85"/>
<circle cx="56.66" cy="234.71" r="0.5" fill="#d43c3c" opacity="0.85"/>
<circle cx="59.56" cy="242.53" r="0.49" fill="#d43c3c" opacity="0.85"/>
<circle cx="54.88" cy="239.75" r="0.51" fill="#d43c3c" opacity="0.85"/>
<circle cx="53.86" cy="242.56" r="0.47" fill="#d43c3c" opacity="0.85"/>
<circle cx="57.14" cy="237.46" r="0.54" fill="#d43c3c" opacity="0.85"/>
<circle cx="65.97" cy="238.41" r="0.57" fill="#d43c3c" opacity="0.85"/>
<circle cx="52.46" cy="239.82" r="0.57" fill="#d43c3c" opacity="0.85"/>
<circle cx="52.21" cy="226.96" r="0.56" fill="#d43c3c" opacity="0.85"/>
<circle cx="65.94" cy="233.86" r="0.58" fill="#d43c3c" opacity="0.85"/>
<circle cx="53.59" cy="227.72" r="0.57" fill="#d43c3c" opacity="0.85"/>
<circle cx="64.74" cy="226.91" r="0.54" fill="#d43c3c" opacity="0.85"/>
<circle cx="59.12" cy="238.25" r="0.51" fill="#d43c3c" opacity="0.85"/>
<circle cx="57.24" cy="238.76" r="0.55" fill="#d43c3c" opacity="0.85"/>
<circle cx="57.92" cy="237.71" r="0.49" fill="#d43c3c" opacity="0.85"/>
<circle cx="60.11" cy="226.13" r="0.5" fill="#d43c3c" opacity="0.85"/>
<circle cx="58.81" cy="223.94" r="0.5" fill="#d43c3c" opacity="0.85"/>
<circle cx="57.76" cy="229.19" r="0.53" fill="#d43c3c" opacity="0.85"/>
<circle cx="66.41" cy="240.69" r="0.49" fill="#d43c3c" opacity="0.85"/>
<circle cx="54.33" cy="223.93" r="0.58" fill="#d43c3c" opacity="0.85"/>
<circle cx="64.21" cy="238.25" r="0.59" fill="#d43c3c" opacity="0.85"/>
<circle cx="58.54" cy="225.77" r="0.46" fill="#d43c3c" opacity="0.85"/>
<circle cx="58.51" cy="238.9" r="0.46" fill="#d43c3c" opacity="0.85"/>
<circle cx="59.12" cy="223.79" r="0.48" fill="#d43c3c" opacity="0.85"/>
<circle cx="60.94" cy="236.3" r="0.59" fill="#d43c3c" opacity="0.85"/>
<circle cx="57.26" cy="227.11" r="0.46" fill="#d43c3c" opacity="0.85"/>
<circle cx="55.17" cy="222.77" r="0.45" fill="#d43c3c" opacity="0.85"/>
<circle cx="54.02" cy="233.81" r="0.52" fill="#d43c3c" opacity="0.85"/>
<circle cx="66.53" cy="232.69" r="0.46" fill="#d43c3c" opacity="0.85"/>
<circle cx="54.51" cy="237.41" r="0.6" fill="#d43c3c" opacity="0.85"/>
<circle cx="64.04" cy="227.16" r="0.5" fill="#d43c3c" opacity="0.85"/>
<circle cx="59.11" cy="231.53" r="0.49" fill="#d43c3c" opacity="0.85"/>
<circle cx="54.64" cy="222.58" r="0.58" fill="#d43c3c" opacity="0.85"/>
<circle cx="67.61" cy="243.52" r="0.51" fill="#d43c3c" opacity="0.85"/>
<circle cx="63.06" cy="226.55" r="0.47" fill="#d43c3c" opacity="0.85"/>
<circle cx="52.24" cy="229.33" r="0.57" fill="#d43c3c" opacity="0.85"/>
<circle cx="60.54" cy="227.14" r="0.52" fill="#d43c3c" opacity="0.85"/>
<circle cx="60.74" cy="226.3" r="0.52" fill="#d43c3c" opacity="0.85"/>
<circle cx="66.88" cy="231.85" r="0.6" fill="#d43c3c" opacity="0.85"/>
<circle cx="63.62" cy="224.83" r="0.59" fill="#d43c3c" opacity="0.85"/>
<circle cx="63.14" cy="231.75" r="0.48" fill="#d43c3c" opacity="0.85"/>
<circle cx="62.6" cy="226.19" r="0.52" fill="#d43c3c" opacity="0.85"/>
<circle cx="54.59" cy="231.1" r="0.6" fill="#d43c3c" opacity="0.85"/>
<circle cx="61.65" cy="233.28" r="0.54" fill="#d43c3c" opacity="0.85"/>
<circle cx="62.54" cy="235.25" r="0.49" fill="#d43c3c" opacity="0.85"/>
<circle cx="55.56" cy="235.34" r="0.59" fill="#d43c3c" opacity="0.85"/>
<circle cx="65.98" cy="232.74" r="0.49" fill="#d43c3c" opacity="0.85"/>
<circle cx="61.48" cy="223.03" r="0.52" fill="#d43c3c" opacity="0.85"/>
<circle cx="64.58" cy="243.28" r="0.46" fill="#d43c3c" opacity="0.85"/>
<circle cx="55.36" cy="232.56" r="0.54" fill="#d43c3c" opacity="0.85"/>
<circle cx="67.43" cy="224.36" r="0.47" fill="#d43c3c" opacity="0.85"/>
<circle cx="59.86" cy="239.45" r="0.45" fill="#d43c3c" opacity="0.85"/>
<circle cx="58.21" cy="237.64" r="0.51" fill="#d43c3c" opacity="0.85"/>
<circle cx="55.03" cy="223.57" r="0.56" fill="#d43c3c" opacity="0.85"/>
<circle cx="60.26" cy="233.84" r="0.55" fill="#d43c3c" opacity="0.85"/>
<circle cx="64.25" cy="230.84" r="0.5" fill="#d43c3c" opacity="0.85"/>
<circle cx="66.72" cy="223.67" r="0.57" fill="#d43c3c" opacity="0.85"/>
<circle cx="59.48" cy="233.72" r="0.49" fill="#d43c3c" opacity="0.85"/>
<circle cx="67.1" cy="228.69" r="0.5" fill="#d43c3c" opacity="0.85"/>
<circle cx="53.14" cy="241.61" r="0.57" fill="#d43c3c" opacity="0.85"/>
<circle cx="53" cy="225.26" r="0.49" fill="#d43c3c" opacity="0.85"/>
<circle cx="52.65" cy="232.95" r="0.58" fill="#d43c3c" opacity="0.85"/>
<circle cx="63.58" cy="233.06" r="0.6" fill="#d43c3c" opacity="0.85"/>
<circle cx="57.01" cy="228.99" r="0.49" fill="#d43c3c" opacity="0.85"/>
<circle cx="61.72" cy="232.26" r="0.47" fill="#d43c3c" opacity="0.85"/>
<circle cx="59.98" cy="243.26" r="0.58" fill="#d43c3c" opacity="0.85"/>
<circle cx="62.05" cy="240.97" r="0.52" fill="#d43c3c" opacity="0.85"/>
<circle cx="60.05" cy="237.31" r="0.48" fill="#d43c3c" opacity="0.85"/>
<circle cx="61.58" cy="233.04" r="0.49" fill="#d43c3c" opacity="0.85"/>
<circle cx="60.06" cy="225.91" r="0.55" fill="#d43c3c" opacity="0.85"/>
<circle cx="54.01" cy="231.83" r="0.46" fill="#d43c3c" opacity="0.85"/>
<circle cx="60.73" cy="224.13" r="0.57" fill="#d43c3c" opacity="0.85"/>
<circle cx="52.49" cy="239.75" r="0.49" fill="#d43c3c" opacity="0.85"/>
<circle cx="67.28" cy="229.23" r="0.47" fill="#d43c3c" opacity="0.85"/>
<circle cx="62.78" cy="227.36" r="0.57" fill="#d43c3c" opacity="0.85"/>
<circle cx="59.75" cy="227.88" r="0.54" fill="#d43c3c" opacity="0.85"/>
<circle cx="59.91" cy="230.77" r="0.41" fill="#d43c3c" opacity="0.8"/>
<circle cx="60.23" cy="229.94" r="0.42" fill="#d43c3c" opacity="0.8"/>
<circle cx="64.15" cy="234.09" r="0.49" fill="#d43c3c" opacity="0.8"/>
<circle cx="67.13" cy="238.28" r="0.49" fill="#d43c3c" opacity="0.8"/>
<circle cx="65.36" cy="241.38" r="0.42" fill="#d43c3c" opacity="0.8"/>
<circle cx="61.05" cy="226.22" r="0.54" fill="#d43c3c" opacity="0.8"/>
<circle cx="74.36" cy="233.34" r="0.53" fill="#d43c3c" opacity="0.8"/>
<circle cx="67.36" cy="242.76" r="0.54" fill="#d43c3c" opacity="0.8"/>
<circle cx="62.29" cy="231.02" r="0.46" fill="#d43c3c" opacity="0.8"/>
<circle cx="76.03" cy="234.43" r="0.45" fill="#d43c3c" opacity="0.8"/>
<circle cx="55.52" cy="232.92" r="0.54" fill="#d43c3c" opacity="0.8"/>
<circle cx="64.22" cy="240.31" r="0.53" fill="#d43c3c" opacity="0.8"/>
<circle cx="75.62" cy="239.19" r="0.47" fill="#d43c3c" opacity="0.8"/>
<circle cx="61.6" cy="242.93" r="0.52" fill="#d43c3c" opacity="0.8"/>
<circle cx="71.35" cy="227.01" r="0.5" fill="#d43c3c" opacity="0.8"/>
<circle cx="70.18" cy="228.43" r="0.45" fill="#d43c3c" opacity="0.8"/>
<circle cx="65" cy="230.56" r="0.42" fill="#d43c3c" opacity="0.8"/>
<circle cx="58.35" cy="234.23" r="0.4" fill="#d43c3c" opacity="0.8"/>
<circle cx="72.45" cy="233.51" r="0.44" fill="#d43c3c" opacity="0.8"/>
<circle cx="60.53" cy="231.69" r="0.49" fill="#d43c3c" opacity="0.8"/>
<circle cx="70.73" cy="233.74" r="0.51" fill="#d43c3c" opacity="0.8"/>
<circle cx="67.6" cy="240.6" r="0.51" fill="#d43c3c" opacity="0.8"/>
<circle cx="71.83" cy="226.44" r="0.45" fill="#d43c3c" opacity="0.8"/>
<circle cx="57.54" cy="240.94" r="0.42" fill="#d43c3c" opacity="0.8"/>
<circle cx="75.32" cy="232.17" r="0.42" fill="#d43c3c" opacity="0.8"/>
<circle cx="54.89" cy="218.08" r="0.57" fill="#d43c3c" opacity="0.9"/>
<circle cx="54.12" cy="227.94" r="0.6" fill="#d43c3c" opacity="0.9"/>
<circle cx="54.79" cy="231.44" r="0.69" fill="#d43c3c" opacity="0.9"/>
<circle cx="54.66" cy="223.38" r="0.6" fill="#d43c3c" opacity="0.9"/>
<circle cx="53.84" cy="232.34" r="0.61" fill="#d43c3c" opacity="0.9"/>
<circle cx="54.89" cy="232.02" r="0.64" fill="#d43c3c" opacity="0.9"/>
<circle cx="55.46" cy="223.99" r="0.64" fill="#d43c3c" opacity="0.9"/>
<circle cx="55.46" cy="224.73" r="0.66" fill="#d43c3c" opacity="0.9"/>
<circle cx="53.64" cy="217.5" r="0.67" fill="#d43c3c" opacity="0.9"/>
<circle cx="54.45" cy="235.16" r="0.62" fill="#d43c3c" opacity="0.9"/>
<circle cx="53.57" cy="216.68" r="0.68" fill="#d43c3c" opacity="0.9"/>
<circle cx="53.56" cy="217.64" r="0.61" fill="#d43c3c" opacity="0.9"/>
<circle cx="54.95" cy="226.63" r="0.51" fill="#d43c3c" opacity="0.9"/>
<circle cx="55.14" cy="228.85" r="0.56" fill="#d43c3c" opacity="0.9"/>
<circle cx="55.57" cy="224.88" r="0.65" fill="#d43c3c" opacity="0.9"/>
<circle cx="53.07" cy="220.76" r="0.65" fill="#d43c3c" opacity="0.9"/>
<circle cx="54.85" cy="229.44" r="0.64" fill="#d43c3c" opacity="0.9"/>
<circle cx="52.88" cy="232.82" r="0.51" fill="#d43c3c" opacity="0.9"/>
<circle cx="53.53" cy="220.66" r="0.6" fill="#d43c3c" opacity="0.9"/>
<circle cx="53.09" cy="223.43" r="0.53" fill="#d43c3c" opacity="0.9"/>
<circle cx="53.81" cy="221.58" r="0.52" fill="#d43c3c" opacity="0.9"/>
<circle cx="55.21" cy="214.67" r="0.54" fill="#d43c3c" opacity="0.9"/>
<circle cx="33.67" cy="240.23" r="0.59" fill="#5cc05c" opacity="0.8"/>
<circle cx="46.29" cy="238.4" r="0.51" fill="#5cc05c" opacity="0.8"/>
<circle cx="44.48" cy="228.27" r="0.48" fill="#5cc05c" opacity="0.8"/>
<circle cx="35.98" cy="238.6" r="0.47" fill="#5cc05c" opacity="0.8"/>
<circle cx="34.81" cy="229.9" r="0.4" fill="#5cc05c" opacity="0.8"/>
<circle cx="40.49" cy="233.82" r="0.5" fill="#5cc05c" opacity="0.8"/>
<circle cx="44.5" cy="234.56" r="0.43" fill="#5cc05c" opacity="0.8"/>
<circle cx="43.09" cy="242.78" r="0.57" fill="#5cc05c" opacity="0.8"/>
<circle cx="36.25" cy="240.36" r="0.56" fill="#5cc05c" opacity="0.8"/>
<circle cx="41.7" cy="235.88" r="0.45" fill="#5cc05c" opacity="0.8"/>
<circle cx="36.57" cy="235.99" r="0.6" fill="#5cc05c" opacity="0.8"/>
<circle cx="47.08" cy="240.27" r="0.56" fill="#5cc05c" opacity="0.8"/>
<circle cx="47.14" cy="233.57" r="0.57" fill="#5cc05c" opacity="0.8"/>
<circle cx="48.61" cy="234.37" r="0.46" fill="#5cc05c" opacity="0.8"/>
<circle cx="46.89" cy="240.99" r="0.56" fill="#5cc05c" opacity="0.8"/>
<circle cx="39.63" cy="240.54" r="0.54" fill="#5cc05c" opacity="0.8"/>
<circle cx="35.63" cy="242.82" r="0.57" fill="#5cc05c" opacity="0.8"/>
<circle cx="42.15" cy="236.25" r="0.57" fill="#5cc05c" opacity="0.8"/>
<circle cx="47.88" cy="239.25" r="0.54" fill="#5cc05c" opacity="0.8"/>
<circle cx="50.41" cy="240.43" r="0.51" fill="#5cc05c" opacity="0.8"/>
<circle cx="43.61" cy="238.64" r="0.57" fill="#5cc05c" opacity="0.8"/>
<circle cx="49.34" cy="234.54" r="0.46" fill="#5cc05c" opacity="0.8"/>
<circle cx="49.72" cy="239.35" r="0.43" fill="#5cc05c" opacity="0.8"/>
<circle cx="43.42" cy="243.07" r="0.49" fill="#5cc05c" opacity="0.8"/>
<circle cx="49.03" cy="228.1" r="0.44" fill="#5cc05c" opacity="0.8"/>
<circle cx="43.72" cy="236.86" r="0.53" fill="#5cc05c" opacity="0.8"/>
<circle cx="49.13" cy="231.71" r="0.47" fill="#5cc05c" opacity="0.8"/>
<circle cx="49.74" cy="239.85" r="0.52" fill="#5cc05c" opacity="0.8"/>
<circle cx="45.31" cy="234.37" r="0.46" fill="#5cc05c" opacity="0.8"/>
<circle cx="35.53" cy="229.69" r="0.56" fill="#5cc05c" opacity="0.8"/>
<circle cx="49.97" cy="240.01" r="0.51" fill="#5cc05c" opacity="0.8"/>
<circle cx="44.9" cy="242.92" r="0.52" fill="#5cc05c" opacity="0.8"/>
<circle cx="49.27" cy="243.08" r="0.48" fill="#5cc05c" opacity="0.8"/>
<circle cx="31.08" cy="240.55" r="0.59" fill="#5cc05c" opacity="0.8"/>
<circle cx="38.85" cy="236.04" r="0.58" fill="#5cc05c" opacity="0.8"/>
<circle cx="40.83" cy="234.14" r="0.49" fill="#5cc05c" opacity="0.8"/>
<circle cx="36.01" cy="231.08" r="0.4" fill="#5cc05c" opacity="0.8"/>
<circle cx="32.65" cy="243.93" r="0.53" fill="#5cc05c" opacity="0.8"/>
<circle cx="49.85" cy="233.77" r="0.49" fill="#5cc05c" opacity="0.8"/>
<circle cx="49.03" cy="231.83" r="0.45" fill="#5cc05c" opacity="0.8"/>
<circle cx="33.47" cy="240.54" r="0.51" fill="#5cc05c" opacity="0.8"/>
<circle cx="43.69" cy="233.65" r="0.47" fill="#5cc05c" opacity="0.8"/>
<circle cx="42.3" cy="242.48" r="0.47" fill="#5cc05c" opacity="0.8"/>
<circle cx="49.39" cy="242.13" r="0.46" fill="#5cc05c" opacity="0.8"/>
<circle cx="38.47" cy="243.27" r="0.43" fill="#5cc05c" opacity="0.8"/>
<circle cx="31.68" cy="236.13" r="0.42" fill="#5cc05c" opacity="0.8"/>
<circle cx="34.35" cy="233.7" r="0.52" fill="#5cc05c" opacity="0.8"/>
<circle cx="31.96" cy="238.14" r="0.43" fill="#5cc05c" opacity="0.8"/>
<circle cx="50.44" cy="243.66" r="0.49" fill="#5cc05c" opacity="0.8"/>
<circle cx="41.47" cy="232.04" r="0.41" fill="#5cc05c" opacity="0.8"/>
<circle cx="49.87" cy="243.63" r="0.47" fill="#5cc05c" opacity="0.8"/>
<circle cx="32.61" cy="233.23" r="0.41" fill="#5cc05c" opacity="0.8"/>
<circle cx="40.66" cy="242.96" r="0.44" fill="#5cc05c" opacity="0.8"/>
<circle cx="46.04" cy="242.3" r="0.46" fill="#5cc05c" opacity="0.8"/>
<circle cx="47.71" cy="241.1" r="0.52" fill="#5cc05c" opacity="0.8"/>
<circle cx="48.91" cy="233.22" r="0.56" fill="#5cc05c" opacity="0.9"/>
<circle cx="47.57" cy="229.3" r="0.56" fill="#5cc05c" opacity="0.9"/>
<circle cx="48.02" cy="225.23" r="0.69" fill="#5cc05c" opacity="0.9"/>
<circle cx="49" cy="232.93" r="0.51" fill="#5cc05c" opacity="0.9"/>
<circle cx="48.86" cy="232.5" r="0.67" fill="#5cc05c" opacity="0.9"/>
<circle cx="49.4" cy="216.27" r="0.7" fill="#5cc05c" opacity="0.9"/>
<circle cx="47.54" cy="234.25" r="0.59" fill="#5cc05c" opacity="0.9"/>
<circle cx="49.82" cy="238.68" r="0.65" fill="#5cc05c" opacity="0.9"/>
<circle cx="47.71" cy="231.17" r="0.52" fill="#5cc05c" opacity="0.9"/>
<circle cx="48.56" cy="218.24" r="0.56" fill="#5cc05c" opacity="0.9"/>
<circle cx="47.63" cy="228.49" r="0.52" fill="#5cc05c" opacity="0.9"/>
<circle cx="48.11" cy="234.44" r="0.56" fill="#5cc05c" opacity="0.9"/>
<circle cx="47.1" cy="153.6" r="1.05" fill="#5cc05c"/>
<circle cx="47.1" cy="162.9" r="1.05" fill="#5cc05c"/>
<circle cx="48" cy="168.7" r="1.05" fill="#5cc05c"/>
<circle cx="47.5" cy="173.5" r="1.05" fill="#5cc05c"/>
<circle cx="48" cy="177.6" r="1.05" fill="#5cc05c"/>
<circle cx="47.3" cy="181" r="1.05" fill="#5cc05c"/>
<circle cx="48" cy="185.6" r="1.05" fill="#5cc05c"/>
<circle cx="46.5" cy="190" r="1.05" fill="#5cc05c"/>
<circle cx="48" cy="199.3" r="1.05" fill="#5cc05c"/>
<circle cx="27.4" cy="204.7" r="1.05" fill="#5cc05c"/>
<circle cx="47.5" cy="204" r="1.05" fill="#5cc05c"/>
<circle cx="48.2" cy="210" r="1.05" fill="#5cc05c"/>
<circle cx="48.5" cy="215" r="1.05" fill="#5cc05c"/>
<circle cx="47.8" cy="219" r="1.05" fill="#5cc05c"/>
<circle cx="47" cy="222" r="1.05" fill="#5cc05c"/>
<circle cx="45" cy="226" r="1.05" fill="#5cc05c"/>
<circle cx="40" cy="229" r="1.05" fill="#5cc05c"/>
<circle cx="15.8" cy="238.5" r="1.05" fill="#5cc05c"/>
<circle cx="63" cy="152.2" r="1" fill="#d43c3c"/>
<circle cx="56.9" cy="171.4" r="1" fill="#d43c3c"/>
<circle cx="61" cy="173" r="1" fill="#d43c3c"/>
<circle cx="63.1" cy="183.3" r="1" fill="#d43c3c"/>
<circle cx="66.6" cy="187.4" r="1" fill="#d43c3c"/>
<circle cx="57.2" cy="190" r="1" fill="#d43c3c"/>
<circle cx="60.4" cy="193" r="1" fill="#d43c3c"/>
<circle cx="59" cy="195.5" r="1" fill="#d43c3c"/>
<circle cx="58.6" cy="202.8" r="1" fill="#d43c3c"/>
<circle cx="54.2" cy="204.5" r="1" fill="#d43c3c"/>
<circle cx="55.1" cy="208.1" r="1" fill="#d43c3c"/>
<circle cx="56.9" cy="213.4" r="1" fill="#d43c3c"/>
<circle cx="53.3" cy="220.5" r="1" fill="#d43c3c"/>
<circle cx="58.6" cy="221.4" r="1" fill="#d43c3c"/>
<circle cx="63.1" cy="221.4" r="1" fill="#d43c3c"/>
<circle cx="54.2" cy="227.7" r="1" fill="#d43c3c"/>
<circle cx="64" cy="231.2" r="1" fill="#d43c3c"/>
<circle cx="67.5" cy="230.3" r="1" fill="#d43c3c"/>
<circle cx="110.4" cy="241.5" r="1" fill="#d43c3c"/>
<circle cx="76" cy="240" r="1" fill="#d43c3c"/>
<circle cx="78" cy="238" r="1" fill="#d43c3c"/>
<text x="62.61" y="151" font-size="1.7" font-family="Liberation Sans" fill="#d03c3c">GZMH</text>
<text x="56.76" y="170.2" font-size="1.7" font-family="Liberation Sans" fill="#d03c3c">CST7</text>
<text x="62.2" y="171.8" font-size="1.7" font-family="Liberation Sans" fill="#d03c3c">KLRB1</text>
<text x="63.53" y="182.1" font-size="1.7" font-family="Liberation Sans" fill="#d03c3c">TRAV1-2</text>
<text x="68.07" y="186.2" font-size="1.7" font-family="Liberation Sans" fill="#d03c3c">GZMH</text>
<text x="55.65" y="188.8" font-size="1.7" font-family="Liberation Sans" fill="#d03c3c">GZMH</text>
<text x="57.79" y="191.8" font-size="1.7" font-family="Liberation Sans" fill="#d03c3c">KLRB1</text>
<text x="58.87" y="194.3" font-size="1.7" font-family="Liberation Sans" fill="#d03c3c">TRAV1-2</text>
<text x="56.07" y="201.6" font-size="1.7" font-family="Liberation Sans" fill="#d03c3c">KLRB1</text>
<text x="52.93" y="203.3" font-size="1.7" font-family="Liberation Sans" fill="#d03c3c">GZMH</text>
<text x="52.67" y="206.9" font-size="1.7" font-family="Liberation Sans" fill="#d03c3c">HLA-DRA</text>
<text x="55.32" y="212.2" font-size="1.7" font-family="Liberation Sans" fill="#d03c3c">NKG7</text>
<text x="52.81" y="219.3" font-size="1.7" font-family="Liberation Sans" fill="#d03c3c">GZMK</text>
<text x="56.25" y="220.2" font-size="1.7" font-family="Liberation Sans" fill="#d03c3c">HLA-DRA</text>
<text x="63.94" y="220.2" font-size="1.7" font-family="Liberation Sans" fill="#d03c3c">HLA-DRA</text>
<text x="54.21" y="226.5" font-size="1.7" font-family="Liberation Sans" fill="#d03c3c">HLA-DRA</text>
<text x="64.59" y="230" font-size="1.7" font-family="Liberation Sans" fill="#d03c3c">IL7R</text>
<text x="65.84" y="229.1" font-size="1.7" font-family="Liberation Sans" fill="#d03c3c">KLRB1</text>
<text x="110.88" y="240.3" font-size="1.7" font-family="Liberation Sans" fill="#d03c3c">KLRB1</text>
<text x="76.71" y="238.8" font-size="1.7" font-family="Liberation Sans" fill="#d03c3c">TRAV1-2</text>
<text x="78.25" y="236.8" font-size="1.7" font-family="Liberation Sans" fill="#d03c3c">GZMH</text>
<text x="54.28" y="211.46" font-size="1.7" font-family="Liberation Sans" fill="#d03c3c">GZMK</text>
<text x="63.53" y="222.22" font-size="1.7" font-family="Liberation Sans" fill="#d03c3c">CD8A</text>
<text x="54.24" y="215.32" font-size="1.7" font-family="Liberation Sans" fill="#d03c3c">CCL4</text>
<text x="56.55" y="199.98" font-size="1.7" font-family="Liberation Sans" fill="#d03c3c">NKG7</text>
<text x="60.2" y="219.78" font-size="1.7" font-family="Liberation Sans" fill="#d03c3c">KLRD1</text>
<text x="65.58" y="206.19" font-size="1.7" font-family="Liberation Sans" fill="#d03c3c">NKG7</text>
<text x="54.44" y="203.83" font-size="1.7" font-family="Liberation Sans" fill="#d03c3c">KLRD1</text>
<text x="62.74" y="201.74" font-size="1.7" font-family="Liberation Sans" fill="#d03c3c">CCL4</text>
<rect x="117.1" y="180.3" width="12.3" height="12.2" fill="#fff" stroke="#222" stroke-width="0.6"/>
<text x="118.4" y="183.5" font-size="1.9" font-family="Liberation Sans" fill="#333">Status</text>
<circle cx="119.8" cy="186.6" r="0.45" fill="#5cc05c"/>
<text x="122.6" y="187.3" font-size="1.9" font-family="Liberation Sans" fill="#444">down</text>
<circle cx="119.8" cy="190" r="0.45" fill="#d43c3c"/>
<text x="122.6" y="190.7" font-size="1.9" font-family="Liberation Sans" fill="#444">up</text>
<rect x="117.1" y="194.3" width="20.5" height="22.3" fill="#fff" stroke="#222" stroke-width="0.6"/>
<text x="118.4" y="197.5" font-size="1.9" font-family="Liberation Sans" fill="#333">Highlight_size</text>
<circle cx="119.8" cy="200.6" r="0.45" fill="#111"/>
<text x="122.6" y="201.3" font-size="1.9" font-family="Liberation Sans" fill="#444">50</text>
<circle cx="119.8" cy="204" r="0.6" fill="#111"/>
<text x="122.6" y="204.7" font-size="1.9" font-family="Liberation Sans" fill="#444">100</text>
<circle cx="119.8" cy="207.4" r="0.75" fill="#111"/>
<text x="122.6" y="208.1" font-size="1.9" font-family="Liberation Sans" fill="#444">150</text>
<circle cx="119.8" cy="210.8" r="0.9" fill="#111"/>
<text x="122.6" y="211.5" font-size="1.9" font-family="Liberation Sans" fill="#444">200</text>
<circle cx="119.8" cy="214.2" r="1.05" fill="#111"/>
<text x="122.6" y="214.9" font-size="1.9" font-family="Liberation Sans" fill="#444">250</text>
<text transform="translate(135.2 140.5) scale(0.97 1)" font-size="14.6" font-family="Liberation Serif" font-weight="bold" fill="#000">E</text>
<rect x="151.6" y="146.3" width="105.4" height="101" fill="#fff"/>
<line x1="162.2" y1="146.3" x2="162.2" y2="247.3" stroke="#e6e6e6" stroke-width="0.45"/>
<line x1="185.3" y1="146.3" x2="185.3" y2="247.3" stroke="#e6e6e6" stroke-width="0.45"/>
<line x1="208.4" y1="146.3" x2="208.4" y2="247.3" stroke="#e6e6e6" stroke-width="0.45"/>
<line x1="231.9" y1="146.3" x2="231.9" y2="247.3" stroke="#e6e6e6" stroke-width="0.45"/>
<line x1="255.3" y1="146.3" x2="255.3" y2="247.3" stroke="#e6e6e6" stroke-width="0.45"/>
<line x1="151.6" y1="177.1" x2="257" y2="177.1" stroke="#e6e6e6" stroke-width="0.45"/>
<line x1="151.6" y1="212.3" x2="257" y2="212.3" stroke="#e6e6e6" stroke-width="0.45"/>
<line x1="151.6" y1="247.3" x2="257" y2="247.3" stroke="#e6e6e6" stroke-width="0.45"/>
<line x1="173.75" y1="146.3" x2="173.75" y2="247.3" stroke="#f2f2f2" stroke-width="0.3"/>
<line x1="196.85" y1="146.3" x2="196.85" y2="247.3" stroke="#f2f2f2" stroke-width="0.3"/>
<line x1="219.95" y1="146.3" x2="219.95" y2="247.3" stroke="#f2f2f2" stroke-width="0.3"/>
<line x1="243.45" y1="146.3" x2="243.45" y2="247.3" stroke="#f2f2f2" stroke-width="0.3"/>
<line x1="151.6" y1="159.5" x2="257" y2="159.5" stroke="#f2f2f2" stroke-width="0.3"/>
<line x1="151.6" y1="194.7" x2="257" y2="194.7" stroke="#f2f2f2" stroke-width="0.3"/>
<line x1="151.6" y1="229.9" x2="257" y2="229.9" stroke="#f2f2f2" stroke-width="0.3"/>
<rect x="151.6" y="146.3" width="105.4" height="101" fill="none" stroke="#aaaaaa" stroke-width="0.7"/>
<line x1="162.2" y1="247.3" x2="162.2" y2="248.3" stroke="#555" stroke-width="0.35"/>
<text x="162.2" y="251.1" font-size="2.9" font-family="Liberation Sans" fill="#333" text-anchor="middle">-10</text>
<line x1="185.3" y1="247.3" x2="185.3" y2="248.3" stroke="#555" stroke-width="0.35"/>
<text x="185.3" y="251.1" font-size="2.9" font-family="Liberation Sans" fill="#333" text-anchor="middle">-5</text>
<line x1="208.4" y1="247.3" x2="208.4" y2="248.3" stroke="#555" stroke-width="0.35"/>
<text x="208.4" y="251.1" font-size="2.9" font-family="Liberation Sans" fill="#333" text-anchor="middle">0</text>
<line x1="231.9" y1="247.3" x2="231.9" y2="248.3" stroke="#555" stroke-width="0.35"/>
<text x="231.9" y="251.1" font-size="2.9" font-family="Liberation Sans" fill="#333" text-anchor="middle">5</text>
<line x1="255.3" y1="247.3" x2="255.3" y2="248.3" stroke="#555" stroke-width="0.35"/>
<text x="255.3" y="251.1" font-size="2.9" font-family="Liberation Sans" fill="#333" text-anchor="middle">10</text>
<line x1="150.6" y1="177.1" x2="151.6" y2="177.1" stroke="#555" stroke-width="0.35"/>
<text x="150.1" y="178.1" font-size="2.9" font-family="Liberation Sans" fill="#333" text-anchor="end">20</text>
<line x1="150.6" y1="212.3" x2="151.6" y2="212.3" stroke="#555" stroke-width="0.35"/>
<text x="150.1" y="213.3" font-size="2.9" font-family="Liberation Sans" fill="#333" text-anchor="end">10</text>
<line x1="150.6" y1="247.3" x2="151.6" y2="247.3" stroke="#555" stroke-width="0.35"/>
<text x="150.1" y="248.3" font-size="2.9" font-family="Liberation Sans" fill="#333" text-anchor="end">0</text>
<line x1="208.4" y1="146.3" x2="208.4" y2="247.3" stroke="#666" stroke-width="0.45" stroke-dasharray="1.2,0.8"/>
<line x1="151.6" y1="242.2" x2="257" y2="242.2" stroke="#666" stroke-width="0.45" stroke-dasharray="1.2,0.8"/>
<text x="205" y="253.3" font-size="3" font-family="Liberation Sans" fill="#333" text-anchor="middle">Log2FC</text>
<text x="146.1" y="193.5" font-size="2.3" font-family="Liberation Sans" fill="#333" text-anchor="middle" transform="rotate(-90 146.1 193.5)">-Log10(adjPvalue)</text>
<circle cx="156" cy="150.8" r="1.05" fill="#5cc05c"/>
<circle cx="180.3" cy="170.2" r="1.05" fill="#5cc05c"/>
<circle cx="206" cy="198.8" r="1.05" fill="#5cc05c"/>
<circle cx="189.8" cy="213.8" r="0.65" fill="#5cc05c"/>
<circle cx="201.9" cy="217.1" r="0.65" fill="#5cc05c"/>
<circle cx="206.4" cy="217.8" r="0.65" fill="#5cc05c"/>
<circle cx="189.8" cy="219.1" r="0.65" fill="#5cc05c"/>
<circle cx="162.6" cy="222.7" r="0.65" fill="#5cc05c"/>
<circle cx="182.1" cy="223" r="0.65" fill="#5cc05c"/>
<circle cx="190.6" cy="223.5" r="0.65" fill="#5cc05c"/>
<circle cx="185" cy="225.9" r="0.65" fill="#5cc05c"/>
<circle cx="200.3" cy="228.8" r="0.65" fill="#5cc05c"/>
<circle cx="191" cy="231.5" r="0.65" fill="#5cc05c"/>
<circle cx="185.3" cy="234.2" r="0.65" fill="#5cc05c"/>
<circle cx="200.7" cy="231.8" r="0.65" fill="#5cc05c"/>
<circle cx="197.3" cy="232.6" r="0.65" fill="#5cc05c"/>
<circle cx="204.5" cy="231.8" r="0.65" fill="#5cc05c"/>
<circle cx="206" cy="235.7" r="0.65" fill="#5cc05c"/>
<circle cx="196" cy="237.2" r="0.65" fill="#5cc05c"/>
<circle cx="201.4" cy="237.5" r="0.65" fill="#5cc05c"/>
<circle cx="197.6" cy="240.2" r="0.65" fill="#5cc05c"/>
<circle cx="206.7" cy="241.7" r="0.65" fill="#5cc05c"/>
<circle cx="203" cy="239" r="0.65" fill="#5cc05c"/>
<circle cx="194" cy="235" r="0.65" fill="#5cc05c"/>
<circle cx="216" cy="168.7" r="1.05" fill="#d43c3c"/>
<circle cx="252" cy="169.4" r="1.05" fill="#d43c3c"/>
<circle cx="230.5" cy="184.5" r="1.05" fill="#d43c3c"/>
<circle cx="222.7" cy="205.2" r="0.7" fill="#d43c3c"/>
<circle cx="212.8" cy="208.3" r="0.7" fill="#d43c3c"/>
<circle cx="213.6" cy="211.8" r="0.7" fill="#d43c3c"/>
<circle cx="219.4" cy="214.7" r="0.7" fill="#d43c3c"/>
<circle cx="229.9" cy="214" r="0.7" fill="#d43c3c"/>
<circle cx="214.3" cy="216.6" r="0.7" fill="#d43c3c"/>
<circle cx="212.8" cy="218.2" r="0.7" fill="#d43c3c"/>
<circle cx="211.6" cy="221.9" r="0.7" fill="#d43c3c"/>
<circle cx="220.4" cy="223.5" r="0.7" fill="#d43c3c"/>
<circle cx="215.9" cy="226.5" r="0.7" fill="#d43c3c"/>
<circle cx="225.3" cy="228" r="0.7" fill="#d43c3c"/>
<circle cx="209" cy="226.5" r="0.7" fill="#d43c3c"/>
<circle cx="212.8" cy="229.9" r="0.7" fill="#d43c3c"/>
<circle cx="209" cy="230" r="0.7" fill="#d43c3c"/>
<circle cx="219.7" cy="231.8" r="0.7" fill="#d43c3c"/>
<circle cx="222.7" cy="231" r="0.7" fill="#d43c3c"/>
<circle cx="233.7" cy="233.4" r="0.7" fill="#d43c3c"/>
<circle cx="215" cy="235.7" r="0.7" fill="#d43c3c"/>
<circle cx="218.2" cy="235.7" r="0.7" fill="#d43c3c"/>
<circle cx="209.8" cy="235.7" r="0.7" fill="#d43c3c"/>
<circle cx="217" cy="238.4" r="0.7" fill="#d43c3c"/>
<circle cx="219.7" cy="238.7" r="0.7" fill="#d43c3c"/>
<circle cx="209.8" cy="238.4" r="0.7" fill="#d43c3c"/>
<circle cx="213.1" cy="240.2" r="0.7" fill="#d43c3c"/>
<circle cx="224.2" cy="240.2" r="0.7" fill="#d43c3c"/>
<circle cx="227.3" cy="240.5" r="0.7" fill="#d43c3c"/>
<circle cx="211.3" cy="240.2" r="0.7" fill="#d43c3c"/>
<text x="216" y="167" font-size="1.7" font-family="Liberation Sans" fill="#d03c3c" text-anchor="middle">GZMB</text>
<text x="252" y="171.3" font-size="1.7" font-family="Liberation Sans" fill="#d03c3c" text-anchor="middle">TRAV1-2</text>
<text x="231" y="186.3" font-size="1.7" font-family="Liberation Sans" fill="#d03c3c" text-anchor="middle">TRAJ33</text>
<text x="224.5" y="204" font-size="1.7" font-family="Liberation Sans" fill="#d03c3c" text-anchor="middle">TRBV20-1</text>
<text x="214" y="207.2" font-size="1.7" font-family="Liberation Sans" fill="#d03c3c" text-anchor="middle">KLRB1</text>
<text x="210.5" y="210.2" font-size="1.7" font-family="Liberation Sans" fill="#d03c3c" text-anchor="middle">SERPINB</text>
<text x="220" y="213.2" font-size="1.7" font-family="Liberation Sans" fill="#d03c3c" text-anchor="middle">CCL5</text>
<text x="234" y="213" font-size="1.7" font-family="Liberation Sans" fill="#d03c3c" text-anchor="middle">SLC4A10</text>
<text x="212.5" y="218.8" font-size="1.7" font-family="Liberation Sans" fill="#d03c3c" text-anchor="middle">JUN</text>
<text x="212.5" y="222" font-size="1.7" font-family="Liberation Sans" fill="#d03c3c" text-anchor="middle">NKG7</text>
<text x="221.5" y="222.4" font-size="1.7" font-family="Liberation Sans" fill="#d03c3c" text-anchor="middle">ZBTB16</text>
<text x="215.5" y="225.3" font-size="1.7" font-family="Liberation Sans" fill="#d03c3c" text-anchor="middle">IL7R</text>
<text x="226.5" y="227.2" font-size="1.7" font-family="Liberation Sans" fill="#d03c3c" text-anchor="middle">CXCR6</text>
<text x="207.5" y="227.3" font-size="1.7" font-family="Liberation Sans" fill="#d03c3c" text-anchor="middle">CCR6</text>
<text x="219.5" y="233.2" font-size="1.7" font-family="Liberation Sans" fill="#d03c3c" text-anchor="middle">TNFRSF25</text>
<text x="216" y="237" font-size="1.7" font-family="Liberation Sans" fill="#d03c3c" text-anchor="middle">RORA</text>
<rect x="259" y="183.3" width="12" height="12.5" fill="#fff" stroke="#222" stroke-width="0.6"/>
<text x="260.3" y="186.5" font-size="1.9" font-family="Liberation Sans" fill="#333">Status</text>
<circle cx="261.7" cy="189.6" r="0.45" fill="#5cc05c"/>
<text x="264.5" y="190.3" font-size="1.9" font-family="Liberation Sans" fill="#444">down</text>
<circle cx="261.7" cy="193" r="0.45" fill="#d43c3c"/>
<text x="264.5" y="193.7" font-size="1.9" font-family="Liberation Sans" fill="#444">up</text>
<rect x="259" y="197.3" width="20.7" height="12.2" fill="#fff" stroke="#222" stroke-width="0.6"/>
<text x="260.3" y="200.5" font-size="1.9" font-family="Liberation Sans" fill="#333">Highlight_size</text>
<circle cx="261.7" cy="203.6" r="0.45" fill="#111"/>
<text x="264.5" y="204.3" font-size="1.9" font-family="Liberation Sans" fill="#444">10</text>
<circle cx="261.7" cy="207" r="0.8" fill="#111"/>
<text x="264.5" y="207.7" font-size="1.9" font-family="Liberation Sans" fill="#444">20</text>
<text transform="translate(277.2 143.7) scale(0.97 1)" font-size="14.6" font-family="Liberation Serif" font-weight="bold" fill="#000">F</text>
<rect x="291.5" y="147.4" width="104.1" height="99.8" fill="#fff"/>
<line x1="292.8" y1="147.4" x2="292.8" y2="247.2" stroke="#e6e6e6" stroke-width="0.45"/>
<line x1="313.8" y1="147.4" x2="313.8" y2="247.2" stroke="#e6e6e6" stroke-width="0.45"/>
<line x1="334.6" y1="147.4" x2="334.6" y2="247.2" stroke="#e6e6e6" stroke-width="0.45"/>
<line x1="355.6" y1="147.4" x2="355.6" y2="247.2" stroke="#e6e6e6" stroke-width="0.45"/>
<line x1="376.6" y1="147.4" x2="376.6" y2="247.2" stroke="#e6e6e6" stroke-width="0.45"/>
<line x1="291.5" y1="171.5" x2="395.6" y2="171.5" stroke="#e6e6e6" stroke-width="0.45"/>
<line x1="291.5" y1="195.7" x2="395.6" y2="195.7" stroke="#e6e6e6" stroke-width="0.45"/>
<line x1="291.5" y1="219.9" x2="395.6" y2="219.9" stroke="#e6e6e6" stroke-width="0.45"/>
<line x1="291.5" y1="243.9" x2="395.6" y2="243.9" stroke="#e6e6e6" stroke-width="0.45"/>
<line x1="303.3" y1="147.4" x2="303.3" y2="247.2" stroke="#f2f2f2" stroke-width="0.3"/>
<line x1="324.3" y1="147.4" x2="324.3" y2="247.2" stroke="#f2f2f2" stroke-width="0.3"/>
<line x1="345.1" y1="147.4" x2="345.1" y2="247.2" stroke="#f2f2f2" stroke-width="0.3"/>
<line x1="366.1" y1="147.4" x2="366.1" y2="247.2" stroke="#f2f2f2" stroke-width="0.3"/>
<line x1="387.1" y1="147.4" x2="387.1" y2="247.2" stroke="#f2f2f2" stroke-width="0.3"/>
<line x1="291.5" y1="159.4" x2="395.6" y2="159.4" stroke="#f2f2f2" stroke-width="0.3"/>
<line x1="291.5" y1="183.6" x2="395.6" y2="183.6" stroke="#f2f2f2" stroke-width="0.3"/>
<line x1="291.5" y1="207.8" x2="395.6" y2="207.8" stroke="#f2f2f2" stroke-width="0.3"/>
<line x1="291.5" y1="232" x2="395.6" y2="232" stroke="#f2f2f2" stroke-width="0.3"/>
<rect x="291.5" y="147.4" width="104.1" height="99.8" fill="none" stroke="#aaaaaa" stroke-width="0.7"/>
<line x1="292.8" y1="247.2" x2="292.8" y2="248.2" stroke="#555" stroke-width="0.35"/>
<text x="292.8" y="251" font-size="2.9" font-family="Liberation Sans" fill="#333" text-anchor="middle">-5.0</text>
<line x1="313.8" y1="247.2" x2="313.8" y2="248.2" stroke="#555" stroke-width="0.35"/>
<text x="313.8" y="251" font-size="2.9" font-family="Liberation Sans" fill="#333" text-anchor="middle">-2.5</text>
<line x1="334.6" y1="247.2" x2="334.6" y2="248.2" stroke="#555" stroke-width="0.35"/>
<text x="334.6" y="251" font-size="2.9" font-family="Liberation Sans" fill="#333" text-anchor="middle">0.0</text>
<line x1="355.6" y1="247.2" x2="355.6" y2="248.2" stroke="#555" stroke-width="0.35"/>
<text x="355.6" y="251" font-size="2.9" font-family="Liberation Sans" fill="#333" text-anchor="middle">2.5</text>
<line x1="376.6" y1="247.2" x2="376.6" y2="248.2" stroke="#555" stroke-width="0.35"/>
<text x="376.6" y="251" font-size="2.9" font-family="Liberation Sans" fill="#333" text-anchor="middle">5.0</text>
<line x1="290.5" y1="171.5" x2="291.5" y2="171.5" stroke="#555" stroke-width="0.35"/>
<text x="290" y="172.5" font-size="2.9" font-family="Liberation Sans" fill="#333" text-anchor="end">150</text>
<line x1="290.5" y1="195.7" x2="291.5" y2="195.7" stroke="#555" stroke-width="0.35"/>
<text x="290" y="196.7" font-size="2.9" font-family="Liberation Sans" fill="#333" text-anchor="end">100</text>
<line x1="290.5" y1="219.9" x2="291.5" y2="219.9" stroke="#555" stroke-width="0.35"/>
<text x="290" y="220.9" font-size="2.9" font-family="Liberation Sans" fill="#333" text-anchor="end">50</text>
<line x1="290.5" y1="243.9" x2="291.5" y2="243.9" stroke="#555" stroke-width="0.35"/>
<text x="290" y="244.9" font-size="2.9" font-family="Liberation Sans" fill="#333" text-anchor="end">0</text>
<line x1="334.6" y1="147.4" x2="334.6" y2="247.2" stroke="#666" stroke-width="0.45" stroke-dasharray="1.2,0.8"/>
<line x1="291.5" y1="243.9" x2="395.6" y2="243.9" stroke="#666" stroke-width="0.45" stroke-dasharray="1.2,0.8"/>
<text x="343.5" y="253.8" font-size="3" font-family="Liberation Sans" fill="#333" text-anchor="middle">Log2FC</text>
<text x="285" y="193.2" font-size="2.7" font-family="Liberation Sans" fill="#333" text-anchor="middle" transform="rotate(-90 285 193.2)">-Log10(adjPvalue)</text>
<circle cx="343.04" cy="241.71" r="0.6" fill="#d43c3c" opacity="0.85"/>
<circle cx="343.71" cy="234.89" r="0.59" fill="#d43c3c" opacity="0.85"/>
<circle cx="342.65" cy="236.08" r="0.53" fill="#d43c3c" opacity="0.85"/>
<circle cx="337.4" cy="243.1" r="0.54" fill="#d43c3c" opacity="0.85"/>
<circle cx="342.44" cy="236.77" r="0.57" fill="#d43c3c" opacity="0.85"/>
<circle cx="341.77" cy="237.61" r="0.5" fill="#d43c3c" opacity="0.85"/>
<circle cx="336.48" cy="240.31" r="0.53" fill="#d43c3c" opacity="0.85"/>
<circle cx="337.4" cy="237.41" r="0.51" fill="#d43c3c" opacity="0.85"/>
<circle cx="336.8" cy="239.97" r="0.48" fill="#d43c3c" opacity="0.85"/>
<circle cx="337.53" cy="237.79" r="0.65" fill="#d43c3c" opacity="0.85"/>
<circle cx="341.47" cy="236.4" r="0.62" fill="#d43c3c" opacity="0.85"/>
<circle cx="343.31" cy="237.5" r="0.61" fill="#d43c3c" opacity="0.85"/>
<circle cx="340.84" cy="239.61" r="0.63" fill="#d43c3c" opacity="0.85"/>
<circle cx="341.17" cy="240.49" r="0.64" fill="#d43c3c" opacity="0.85"/>
<circle cx="339.45" cy="235.38" r="0.45" fill="#d43c3c" opacity="0.85"/>
<circle cx="341.59" cy="238.82" r="0.63" fill="#d43c3c" opacity="0.85"/>
<circle cx="343.58" cy="236.8" r="0.49" fill="#d43c3c" opacity="0.85"/>
<circle cx="340.39" cy="234.6" r="0.47" fill="#d43c3c" opacity="0.85"/>
<circle cx="336.39" cy="237.2" r="0.54" fill="#d43c3c" opacity="0.85"/>
<circle cx="337.37" cy="240.86" r="0.6" fill="#d43c3c" opacity="0.85"/>
<circle cx="342.46" cy="239.54" r="0.6" fill="#d43c3c" opacity="0.85"/>
<circle cx="342.17" cy="241.25" r="0.51" fill="#d43c3c" opacity="0.85"/>
<circle cx="340.4" cy="242.15" r="0.5" fill="#d43c3c" opacity="0.85"/>
<circle cx="338.67" cy="234.5" r="0.57" fill="#d43c3c" opacity="0.85"/>
<circle cx="336.72" cy="238.59" r="0.49" fill="#d43c3c" opacity="0.85"/>
<circle cx="336.73" cy="242.75" r="0.52" fill="#d43c3c" opacity="0.85"/>
<circle cx="343.46" cy="241.34" r="0.57" fill="#d43c3c" opacity="0.85"/>
<circle cx="339.67" cy="240.5" r="0.61" fill="#d43c3c" opacity="0.85"/>
<circle cx="337.32" cy="239.48" r="0.5" fill="#d43c3c" opacity="0.85"/>
<circle cx="337.3" cy="236.45" r="0.61" fill="#d43c3c" opacity="0.85"/>
<circle cx="343.27" cy="238.47" r="0.48" fill="#d43c3c" opacity="0.85"/>
<circle cx="337.21" cy="237.28" r="0.52" fill="#d43c3c" opacity="0.85"/>
<circle cx="342.87" cy="239.34" r="0.55" fill="#d43c3c" opacity="0.85"/>
<circle cx="340.81" cy="236.06" r="0.52" fill="#d43c3c" opacity="0.85"/>
<circle cx="339.32" cy="235.02" r="0.51" fill="#d43c3c" opacity="0.85"/>
<circle cx="340.37" cy="240.07" r="0.5" fill="#d43c3c" opacity="0.85"/>
<circle cx="336.38" cy="239.77" r="0.48" fill="#d43c3c" opacity="0.85"/>
<circle cx="335.83" cy="243.46" r="0.6" fill="#d43c3c" opacity="0.85"/>
<circle cx="343.29" cy="237.39" r="0.6" fill="#d43c3c" opacity="0.85"/>
<circle cx="342.61" cy="240.31" r="0.46" fill="#d43c3c" opacity="0.85"/>
<circle cx="337.99" cy="237.92" r="0.54" fill="#d43c3c" opacity="0.85"/>
<circle cx="340.38" cy="236.15" r="0.49" fill="#d43c3c" opacity="0.85"/>
<circle cx="335.98" cy="238.18" r="0.47" fill="#d43c3c" opacity="0.85"/>
<circle cx="337.67" cy="234.58" r="0.62" fill="#d43c3c" opacity="0.85"/>
<circle cx="337.62" cy="239.17" r="0.57" fill="#d43c3c" opacity="0.85"/>
<circle cx="336.13" cy="239.53" r="0.61" fill="#d43c3c" opacity="0.85"/>
<circle cx="337.71" cy="240.33" r="0.59" fill="#d43c3c" opacity="0.85"/>
<circle cx="340.28" cy="237.76" r="0.55" fill="#d43c3c" opacity="0.85"/>
<circle cx="341.14" cy="238.51" r="0.6" fill="#d43c3c" opacity="0.85"/>
<circle cx="341.79" cy="241.46" r="0.54" fill="#d43c3c" opacity="0.85"/>
<circle cx="336.97" cy="236.03" r="0.51" fill="#d43c3c" opacity="0.85"/>
<circle cx="340.3" cy="234.96" r="0.51" fill="#d43c3c" opacity="0.85"/>
<circle cx="336.98" cy="239.43" r="0.49" fill="#d43c3c" opacity="0.85"/>
<circle cx="342.38" cy="234.99" r="0.52" fill="#d43c3c" opacity="0.85"/>
<circle cx="341.78" cy="242.24" r="0.53" fill="#d43c3c" opacity="0.85"/>
<circle cx="343.34" cy="242.66" r="0.56" fill="#d43c3c" opacity="0.85"/>
<circle cx="338.44" cy="236.21" r="0.59" fill="#d43c3c" opacity="0.85"/>
<circle cx="336.28" cy="240.5" r="0.5" fill="#d43c3c" opacity="0.85"/>
<circle cx="337.3" cy="240.19" r="0.53" fill="#d43c3c" opacity="0.85"/>
<circle cx="336.25" cy="235.79" r="0.61" fill="#d43c3c" opacity="0.85"/>
<circle cx="338.91" cy="241.73" r="0.57" fill="#d43c3c" opacity="0.85"/>
<circle cx="335.82" cy="237.62" r="0.57" fill="#d43c3c" opacity="0.85"/>
<circle cx="337.75" cy="235.65" r="0.65" fill="#d43c3c" opacity="0.85"/>
<circle cx="338.39" cy="240.59" r="0.54" fill="#d43c3c" opacity="0.85"/>
<circle cx="343.71" cy="236.53" r="0.46" fill="#d43c3c" opacity="0.85"/>
<circle cx="341" cy="240.92" r="0.62" fill="#d43c3c" opacity="0.85"/>
<circle cx="336.68" cy="236.06" r="0.54" fill="#d43c3c" opacity="0.85"/>
<circle cx="338.03" cy="235.62" r="0.48" fill="#d43c3c" opacity="0.85"/>
<circle cx="336.15" cy="238.42" r="0.48" fill="#d43c3c" opacity="0.85"/>
<circle cx="336.03" cy="235.29" r="0.59" fill="#d43c3c" opacity="0.85"/>
<circle cx="340.97" cy="237.64" r="0.61" fill="#d43c3c" opacity="0.85"/>
<circle cx="336.16" cy="238.33" r="0.64" fill="#d43c3c" opacity="0.85"/>
<circle cx="336.22" cy="235.8" r="0.55" fill="#d43c3c" opacity="0.85"/>
<circle cx="338.61" cy="235.04" r="0.62" fill="#d43c3c" opacity="0.85"/>
<circle cx="342.13" cy="239.91" r="0.53" fill="#d43c3c" opacity="0.85"/>
<circle cx="340.25" cy="239.1" r="0.56" fill="#d43c3c" opacity="0.85"/>
<circle cx="338.36" cy="242.06" r="0.55" fill="#d43c3c" opacity="0.85"/>
<circle cx="337.69" cy="239.9" r="0.61" fill="#d43c3c" opacity="0.85"/>
<circle cx="339.79" cy="237.45" r="0.56" fill="#d43c3c" opacity="0.85"/>
<circle cx="341.32" cy="236.12" r="0.63" fill="#d43c3c" opacity="0.85"/>
<circle cx="339.08" cy="238.34" r="0.55" fill="#d43c3c" opacity="0.85"/>
<circle cx="341.88" cy="236.01" r="0.49" fill="#d43c3c" opacity="0.85"/>
<circle cx="339.71" cy="234.55" r="0.54" fill="#d43c3c" opacity="0.85"/>
<circle cx="336.83" cy="236.27" r="0.52" fill="#d43c3c" opacity="0.85"/>
<circle cx="342.97" cy="240.15" r="0.51" fill="#d43c3c" opacity="0.85"/>
<circle cx="340.9" cy="239.19" r="0.45" fill="#d43c3c" opacity="0.85"/>
<circle cx="339.32" cy="241" r="0.61" fill="#d43c3c" opacity="0.85"/>
<circle cx="343.53" cy="234.56" r="0.55" fill="#d43c3c" opacity="0.85"/>
<circle cx="338.84" cy="238.58" r="0.61" fill="#d43c3c" opacity="0.85"/>
<circle cx="339.3" cy="239.5" r="0.6" fill="#d43c3c" opacity="0.85"/>
<circle cx="342.75" cy="239.89" r="0.56" fill="#d43c3c" opacity="0.85"/>
<circle cx="336.61" cy="237.94" r="0.49" fill="#d43c3c" opacity="0.85"/>
<circle cx="341.98" cy="240.71" r="0.48" fill="#d43c3c" opacity="0.85"/>
<circle cx="340.43" cy="242.62" r="0.62" fill="#d43c3c" opacity="0.85"/>
<circle cx="338.81" cy="237.84" r="0.56" fill="#d43c3c" opacity="0.85"/>
<circle cx="339.14" cy="243.56" r="0.62" fill="#d43c3c" opacity="0.85"/>
<circle cx="342.95" cy="243.8" r="0.47" fill="#d43c3c" opacity="0.85"/>
<circle cx="343.37" cy="237.8" r="0.5" fill="#d43c3c" opacity="0.85"/>
<circle cx="340.61" cy="238.15" r="0.49" fill="#d43c3c" opacity="0.85"/>
<circle cx="343.6" cy="236.12" r="0.47" fill="#d43c3c" opacity="0.85"/>
<circle cx="342.16" cy="240.68" r="0.57" fill="#d43c3c" opacity="0.85"/>
<circle cx="343.16" cy="233.19" r="0.47" fill="#d43c3c" opacity="0.85"/>
<circle cx="348.72" cy="239.49" r="0.48" fill="#d43c3c" opacity="0.85"/>
<circle cx="346.64" cy="241.89" r="0.5" fill="#d43c3c" opacity="0.85"/>
<circle cx="339.55" cy="239.25" r="0.54" fill="#d43c3c" opacity="0.85"/>
<circle cx="342.19" cy="226.08" r="0.5" fill="#d43c3c" opacity="0.85"/>
<circle cx="347.21" cy="229.33" r="0.52" fill="#d43c3c" opacity="0.85"/>
<circle cx="348.28" cy="232.19" r="0.47" fill="#d43c3c" opacity="0.85"/>
<circle cx="346.75" cy="238.2" r="0.54" fill="#d43c3c" opacity="0.85"/>
<circle cx="350.5" cy="232.61" r="0.53" fill="#d43c3c" opacity="0.85"/>
<circle cx="343.13" cy="241.23" r="0.5" fill="#d43c3c" opacity="0.85"/>
<circle cx="339.7" cy="232.56" r="0.57" fill="#d43c3c" opacity="0.85"/>
<circle cx="347.84" cy="229.33" r="0.57" fill="#d43c3c" opacity="0.85"/>
<circle cx="351.79" cy="232" r="0.57" fill="#d43c3c" opacity="0.85"/>
<circle cx="347.03" cy="236.97" r="0.48" fill="#d43c3c" opacity="0.85"/>
<circle cx="335.82" cy="241.45" r="0.5" fill="#d43c3c" opacity="0.85"/>
<circle cx="349.14" cy="241.21" r="0.58" fill="#d43c3c" opacity="0.85"/>
<circle cx="347.67" cy="238.92" r="0.57" fill="#d43c3c" opacity="0.85"/>
<circle cx="351.06" cy="242.37" r="0.58" fill="#d43c3c" opacity="0.85"/>
<circle cx="341.01" cy="242.39" r="0.46" fill="#d43c3c" opacity="0.85"/>
<circle cx="338.78" cy="241.43" r="0.53" fill="#d43c3c" opacity="0.85"/>
<circle cx="351.25" cy="231.89" r="0.46" fill="#d43c3c" opacity="0.85"/>
<circle cx="338.23" cy="241.72" r="0.57" fill="#d43c3c" opacity="0.85"/>
<circle cx="342.74" cy="237.64" r="0.46" fill="#d43c3c" opacity="0.85"/>
<circle cx="350.97" cy="231.04" r="0.48" fill="#d43c3c" opacity="0.85"/>
<circle cx="343.68" cy="234.51" r="0.52" fill="#d43c3c" opacity="0.85"/>
<circle cx="347.44" cy="229.28" r="0.57" fill="#d43c3c" opacity="0.85"/>
<circle cx="341.07" cy="233.11" r="0.58" fill="#d43c3c" opacity="0.85"/>
<circle cx="347.78" cy="238.96" r="0.57" fill="#d43c3c" opacity="0.85"/>
<circle cx="342.65" cy="232.17" r="0.53" fill="#d43c3c" opacity="0.85"/>
<circle cx="349.54" cy="229.1" r="0.56" fill="#d43c3c" opacity="0.85"/>
<circle cx="343.49" cy="242.81" r="0.56" fill="#d43c3c" opacity="0.85"/>
<circle cx="350.74" cy="233.36" r="0.52" fill="#d43c3c" opacity="0.85"/>
<circle cx="339.84" cy="229.7" r="0.5" fill="#d43c3c" opacity="0.85"/>
<circle cx="339.26" cy="237.14" r="0.54" fill="#d43c3c" opacity="0.85"/>
<circle cx="347.74" cy="239.36" r="0.6" fill="#d43c3c" opacity="0.85"/>
<circle cx="344.35" cy="236.96" r="0.53" fill="#d43c3c" opacity="0.85"/>
<circle cx="343.53" cy="232.07" r="0.5" fill="#d43c3c" opacity="0.85"/>
<circle cx="341.18" cy="235.05" r="0.52" fill="#d43c3c" opacity="0.85"/>
<circle cx="344.66" cy="237.91" r="0.6" fill="#d43c3c" opacity="0.85"/>
<circle cx="345.25" cy="243.64" r="0.5" fill="#d43c3c" opacity="0.85"/>
<circle cx="345.66" cy="236.36" r="0.52" fill="#d43c3c" opacity="0.85"/>
<circle cx="343.24" cy="230.21" r="0.6" fill="#d43c3c" opacity="0.85"/>
<circle cx="337.01" cy="240.35" r="0.52" fill="#d43c3c" opacity="0.85"/>
<circle cx="341.41" cy="231.47" r="0.59" fill="#d43c3c" opacity="0.85"/>
<circle cx="341.23" cy="236.29" r="0.51" fill="#d43c3c" opacity="0.85"/>
<circle cx="346.52" cy="235.92" r="0.53" fill="#d43c3c" opacity="0.85"/>
<circle cx="337.51" cy="226.47" r="0.55" fill="#d43c3c" opacity="0.85"/>
<circle cx="335.83" cy="235.23" r="0.49" fill="#d43c3c" opacity="0.85"/>
<circle cx="347.81" cy="231.78" r="0.46" fill="#d43c3c" opacity="0.85"/>
<circle cx="338.37" cy="231.89" r="0.55" fill="#d43c3c" opacity="0.85"/>
<circle cx="347.22" cy="240.81" r="0.59" fill="#d43c3c" opacity="0.85"/>
<circle cx="344.82" cy="226.83" r="0.55" fill="#d43c3c" opacity="0.85"/>
<circle cx="341.54" cy="236.79" r="0.48" fill="#d43c3c" opacity="0.85"/>
<circle cx="342.24" cy="230.34" r="0.55" fill="#d43c3c" opacity="0.85"/>
<circle cx="351.14" cy="232.55" r="0.53" fill="#d43c3c" opacity="0.85"/>
<circle cx="346.11" cy="239.6" r="0.5" fill="#d43c3c" opacity="0.85"/>
<circle cx="340.14" cy="237.65" r="0.5" fill="#d43c3c" opacity="0.85"/>
<circle cx="343.85" cy="237.2" r="0.53" fill="#d43c3c" opacity="0.85"/>
<circle cx="351.56" cy="232.21" r="0.48" fill="#d43c3c" opacity="0.85"/>
<circle cx="353.01" cy="241.3" r="0.53" fill="#d43c3c" opacity="0.8"/>
<circle cx="341.92" cy="225.73" r="0.44" fill="#d43c3c" opacity="0.8"/>
<circle cx="364.95" cy="236.87" r="0.42" fill="#d43c3c" opacity="0.8"/>
<circle cx="365.29" cy="240.6" r="0.52" fill="#d43c3c" opacity="0.8"/>
<circle cx="351.14" cy="239.61" r="0.44" fill="#d43c3c" opacity="0.8"/>
<circle cx="369.82" cy="225.03" r="0.46" fill="#d43c3c" opacity="0.8"/>
<circle cx="349.74" cy="239.65" r="0.51" fill="#d43c3c" opacity="0.8"/>
<circle cx="357.01" cy="233.56" r="0.44" fill="#d43c3c" opacity="0.8"/>
<circle cx="358.79" cy="223.01" r="0.51" fill="#d43c3c" opacity="0.8"/>
<circle cx="370.58" cy="231.82" r="0.47" fill="#d43c3c" opacity="0.8"/>
<circle cx="358.73" cy="230.16" r="0.54" fill="#d43c3c" opacity="0.8"/>
<circle cx="346.85" cy="232.48" r="0.5" fill="#d43c3c" opacity="0.8"/>
<circle cx="363.89" cy="228.6" r="0.42" fill="#d43c3c" opacity="0.8"/>
<circle cx="362.07" cy="224.7" r="0.52" fill="#d43c3c" opacity="0.8"/>
<circle cx="340.62" cy="240.94" r="0.52" fill="#d43c3c" opacity="0.8"/>
<circle cx="356.2" cy="241.14" r="0.52" fill="#d43c3c" opacity="0.8"/>
<circle cx="361.51" cy="227.58" r="0.41" fill="#d43c3c" opacity="0.8"/>
<circle cx="343.72" cy="224.06" r="0.5" fill="#d43c3c" opacity="0.8"/>
<circle cx="362.45" cy="242.33" r="0.46" fill="#d43c3c" opacity="0.8"/>
<circle cx="351.63" cy="240.51" r="0.52" fill="#d43c3c" opacity="0.8"/>
<circle cx="371.35" cy="222.2" r="0.54" fill="#d43c3c" opacity="0.8"/>
<circle cx="353.22" cy="239.16" r="0.43" fill="#d43c3c" opacity="0.8"/>
<circle cx="357.33" cy="238.18" r="0.51" fill="#d43c3c" opacity="0.8"/>
<circle cx="362.24" cy="223.91" r="0.54" fill="#d43c3c" opacity="0.8"/>
<circle cx="341.75" cy="239.63" r="0.48" fill="#d43c3c" opacity="0.8"/>
<circle cx="337.98" cy="214.56" r="0.66" fill="#d43c3c" opacity="0.9"/>
<circle cx="338.35" cy="215.23" r="0.69" fill="#d43c3c" opacity="0.9"/>
<circle cx="337.42" cy="230.5" r="0.55" fill="#d43c3c" opacity="0.9"/>
<circle cx="337.31" cy="214.3" r="0.51" fill="#d43c3c" opacity="0.9"/>
<circle cx="336.68" cy="212.83" r="0.6" fill="#d43c3c" opacity="0.9"/>
<circle cx="337.6" cy="211.64" r="0.68" fill="#d43c3c" opacity="0.9"/>
<circle cx="338.01" cy="221.95" r="0.55" fill="#d43c3c" opacity="0.9"/>
<circle cx="337.43" cy="231.76" r="0.58" fill="#d43c3c" opacity="0.9"/>
<circle cx="337.66" cy="232.06" r="0.58" fill="#d43c3c" opacity="0.9"/>
<circle cx="338.6" cy="210.7" r="0.64" fill="#d43c3c" opacity="0.9"/>
<circle cx="336.63" cy="215.83" r="0.52" fill="#d43c3c" opacity="0.9"/>
<circle cx="338.68" cy="231.33" r="0.66" fill="#d43c3c" opacity="0.9"/>
<circle cx="337.65" cy="211.79" r="0.6" fill="#d43c3c" opacity="0.9"/>
<circle cx="338.73" cy="227.04" r="0.5" fill="#d43c3c" opacity="0.9"/>
<circle cx="338.97" cy="232.71" r="0.62" fill="#d43c3c" opacity="0.9"/>
<circle cx="336.36" cy="226.84" r="0.62" fill="#d43c3c" opacity="0.9"/>
<circle cx="336.31" cy="220.1" r="0.5" fill="#d43c3c" opacity="0.9"/>
<circle cx="336.47" cy="225.97" r="0.65" fill="#d43c3c" opacity="0.9"/>
<circle cx="337.18" cy="212.91" r="0.55" fill="#d43c3c" opacity="0.9"/>
<circle cx="336.92" cy="222.91" r="0.55" fill="#d43c3c" opacity="0.9"/>
<circle cx="338.76" cy="209.39" r="0.55" fill="#d43c3c" opacity="0.9"/>
<circle cx="337.99" cy="220.19" r="0.52" fill="#d43c3c" opacity="0.9"/>
<circle cx="331.03" cy="234.65" r="0.56" fill="#5cc05c" opacity="0.85"/>
<circle cx="332.57" cy="239.31" r="0.53" fill="#5cc05c" opacity="0.85"/>
<circle cx="330.64" cy="231.59" r="0.51" fill="#5cc05c" opacity="0.85"/>
<circle cx="333.37" cy="234.13" r="0.58" fill="#5cc05c" opacity="0.85"/>
<circle cx="333.03" cy="243.45" r="0.43" fill="#5cc05c" opacity="0.85"/>
<circle cx="333.58" cy="231.4" r="0.57" fill="#5cc05c" opacity="0.85"/>
<circle cx="320.93" cy="234.54" r="0.47" fill="#5cc05c" opacity="0.85"/>
<circle cx="331.58" cy="239.24" r="0.46" fill="#5cc05c" opacity="0.85"/>
<circle cx="329.91" cy="239.48" r="0.46" fill="#5cc05c" opacity="0.85"/>
<circle cx="333.26" cy="239.5" r="0.53" fill="#5cc05c" opacity="0.85"/>
<circle cx="333.6" cy="236.63" r="0.57" fill="#5cc05c" opacity="0.85"/>
<circle cx="327.81" cy="239.78" r="0.6" fill="#5cc05c" opacity="0.85"/>
<circle cx="332.85" cy="236.14" r="0.43" fill="#5cc05c" opacity="0.85"/>
<circle cx="320.88" cy="238.62" r="0.57" fill="#5cc05c" opacity="0.85"/>
<circle cx="326.57" cy="235.42" r="0.54" fill="#5cc05c" opacity="0.85"/>
<circle cx="332.3" cy="237.56" r="0.53" fill="#5cc05c" opacity="0.85"/>
<circle cx="323.96" cy="234.19" r="0.55" fill="#5cc05c" opacity="0.85"/>
<circle cx="328.71" cy="239.16" r="0.42" fill="#5cc05c" opacity="0.85"/>
<circle cx="329" cy="232.2" r="0.53" fill="#5cc05c" opacity="0.85"/>
<circle cx="323.58" cy="235.99" r="0.49" fill="#5cc05c" opacity="0.85"/>
<circle cx="327.23" cy="238.27" r="0.6" fill="#5cc05c" opacity="0.85"/>
<circle cx="322.34" cy="239.91" r="0.47" fill="#5cc05c" opacity="0.85"/>
<circle cx="333.54" cy="239.8" r="0.44" fill="#5cc05c" opacity="0.85"/>
<circle cx="325.59" cy="239.48" r="0.57" fill="#5cc05c" opacity="0.85"/>
<circle cx="333.53" cy="237.27" r="0.47" fill="#5cc05c" opacity="0.85"/>
<circle cx="331.57" cy="234.35" r="0.57" fill="#5cc05c" opacity="0.85"/>
<circle cx="330.1" cy="238.15" r="0.42" fill="#5cc05c" opacity="0.85"/>
<circle cx="328.48" cy="239.23" r="0.42" fill="#5cc05c" opacity="0.85"/>
<circle cx="331.61" cy="234.46" r="0.51" fill="#5cc05c" opacity="0.85"/>
<circle cx="333.47" cy="243.78" r="0.48" fill="#5cc05c" opacity="0.85"/>
<circle cx="320.13" cy="231.45" r="0.55" fill="#5cc05c" opacity="0.85"/>
<circle cx="320.84" cy="236.72" r="0.47" fill="#5cc05c" opacity="0.85"/>
<circle cx="327.26" cy="234.97" r="0.45" fill="#5cc05c" opacity="0.85"/>
<circle cx="320.46" cy="239.37" r="0.5" fill="#5cc05c" opacity="0.85"/>
<circle cx="330.04" cy="241.34" r="0.55" fill="#5cc05c" opacity="0.85"/>
<circle cx="332.2" cy="235.06" r="0.48" fill="#5cc05c" opacity="0.85"/>
<circle cx="333.54" cy="236.45" r="0.42" fill="#5cc05c" opacity="0.85"/>
<circle cx="326.39" cy="235.33" r="0.47" fill="#5cc05c" opacity="0.85"/>
<circle cx="332.74" cy="234.26" r="0.45" fill="#5cc05c" opacity="0.85"/>
<circle cx="321.21" cy="236.91" r="0.51" fill="#5cc05c" opacity="0.85"/>
<circle cx="331.82" cy="243.39" r="0.52" fill="#5cc05c" opacity="0.85"/>
<circle cx="333.06" cy="239.85" r="0.4" fill="#5cc05c" opacity="0.85"/>
<circle cx="318.14" cy="240.63" r="0.44" fill="#5cc05c" opacity="0.85"/>
<circle cx="330.47" cy="242.82" r="0.55" fill="#5cc05c" opacity="0.85"/>
<circle cx="323.74" cy="238.54" r="0.44" fill="#5cc05c" opacity="0.85"/>
<circle cx="326.69" cy="238.52" r="0.43" fill="#5cc05c" opacity="0.85"/>
<circle cx="333.53" cy="237.83" r="0.58" fill="#5cc05c" opacity="0.85"/>
<circle cx="331.72" cy="239.29" r="0.42" fill="#5cc05c" opacity="0.85"/>
<circle cx="321.41" cy="242.54" r="0.46" fill="#5cc05c" opacity="0.85"/>
<circle cx="325.27" cy="240.62" r="0.49" fill="#5cc05c" opacity="0.85"/>
<circle cx="321.35" cy="231.61" r="0.46" fill="#5cc05c" opacity="0.85"/>
<circle cx="333.34" cy="241.75" r="0.55" fill="#5cc05c" opacity="0.85"/>
<circle cx="332.65" cy="239.57" r="0.5" fill="#5cc05c" opacity="0.85"/>
<circle cx="328.28" cy="236.41" r="0.51" fill="#5cc05c" opacity="0.85"/>
<circle cx="328.41" cy="235.15" r="0.47" fill="#5cc05c" opacity="0.85"/>
<circle cx="333.1" cy="239.2" r="0.56" fill="#5cc05c" opacity="0.85"/>
<circle cx="332.66" cy="238.65" r="0.48" fill="#5cc05c" opacity="0.85"/>
<circle cx="332.99" cy="231.81" r="0.41" fill="#5cc05c" opacity="0.85"/>
<circle cx="324.71" cy="232.74" r="0.46" fill="#5cc05c" opacity="0.85"/>
<circle cx="329.26" cy="233.57" r="0.52" fill="#5cc05c" opacity="0.85"/>
<circle cx="311.85" cy="229.91" r="0.5" fill="#5cc05c" opacity="0.8"/>
<circle cx="315.99" cy="242.64" r="0.45" fill="#5cc05c" opacity="0.8"/>
<circle cx="319.41" cy="236.91" r="0.49" fill="#5cc05c" opacity="0.8"/>
<circle cx="300.91" cy="231.39" r="0.46" fill="#5cc05c" opacity="0.8"/>
<circle cx="301.15" cy="227.73" r="0.52" fill="#5cc05c" opacity="0.8"/>
<circle cx="302.78" cy="235.81" r="0.44" fill="#5cc05c" opacity="0.8"/>
<circle cx="313.16" cy="232.86" r="0.44" fill="#5cc05c" opacity="0.8"/>
<circle cx="311.42" cy="230.87" r="0.54" fill="#5cc05c" opacity="0.8"/>
<circle cx="311.5" cy="228.22" r="0.51" fill="#5cc05c" opacity="0.8"/>
<circle cx="304.11" cy="239.02" r="0.52" fill="#5cc05c" opacity="0.8"/>
<circle cx="332.29" cy="214.19" r="0.74" fill="#5cc05c" opacity="0.9"/>
<circle cx="331.94" cy="225.15" r="0.7" fill="#5cc05c" opacity="0.9"/>
<circle cx="332.21" cy="222.56" r="0.65" fill="#5cc05c" opacity="0.9"/>
<circle cx="330.8" cy="226.08" r="0.78" fill="#5cc05c" opacity="0.9"/>
<circle cx="330.82" cy="229.16" r="0.75" fill="#5cc05c" opacity="0.9"/>
<circle cx="331.68" cy="207.52" r="0.62" fill="#5cc05c" opacity="0.9"/>
<circle cx="330.58" cy="220.39" r="0.67" fill="#5cc05c" opacity="0.9"/>
<circle cx="330.4" cy="200.42" r="0.75" fill="#5cc05c" opacity="0.9"/>
<circle cx="330.31" cy="201.33" r="0.68" fill="#5cc05c" opacity="0.9"/>
<circle cx="329.95" cy="209.97" r="0.6" fill="#5cc05c" opacity="0.9"/>
<circle cx="332.12" cy="215.5" r="0.67" fill="#5cc05c" opacity="0.9"/>
<circle cx="331.06" cy="195.68" r="0.76" fill="#5cc05c" opacity="0.9"/>
<circle cx="332.35" cy="195.3" r="0.69" fill="#5cc05c" opacity="0.9"/>
<circle cx="331.92" cy="226.34" r="0.79" fill="#5cc05c" opacity="0.9"/>
<circle cx="332.24" cy="227.76" r="0.59" fill="#5cc05c" opacity="0.9"/>
<circle cx="332.49" cy="231.44" r="0.71" fill="#5cc05c" opacity="0.9"/>
<circle cx="332.17" cy="204.66" r="0.66" fill="#5cc05c" opacity="0.9"/>
<circle cx="330.09" cy="212.44" r="0.8" fill="#5cc05c" opacity="0.9"/>
<circle cx="331.7" cy="212.01" r="0.63" fill="#5cc05c" opacity="0.9"/>
<circle cx="330.37" cy="210.91" r="0.62" fill="#5cc05c" opacity="0.9"/>
<circle cx="331.12" cy="216.14" r="0.65" fill="#5cc05c" opacity="0.9"/>
<circle cx="331.4" cy="210.31" r="0.67" fill="#5cc05c" opacity="0.9"/>
<circle cx="331.11" cy="226.19" r="0.77" fill="#5cc05c" opacity="0.9"/>
<circle cx="331.38" cy="223.06" r="0.63" fill="#5cc05c" opacity="0.9"/>
<circle cx="330.24" cy="206.64" r="0.58" fill="#5cc05c" opacity="0.9"/>
<circle cx="331.87" cy="228.91" r="0.71" fill="#5cc05c" opacity="0.9"/>
<circle cx="330.39" cy="199.84" r="0.74" fill="#5cc05c" opacity="0.9"/>
<circle cx="331.35" cy="200.38" r="0.8" fill="#5cc05c" opacity="0.9"/>
<circle cx="330.3" cy="173.5" r="0.95" fill="#5cc05c"/>
<circle cx="330" cy="176.9" r="0.95" fill="#5cc05c"/>
<circle cx="332.1" cy="180.8" r="0.95" fill="#5cc05c"/>
<circle cx="296.3" cy="181.4" r="0.95" fill="#5cc05c"/>
<circle cx="330.3" cy="185.7" r="0.95" fill="#5cc05c"/>
<circle cx="330.7" cy="192.6" r="0.95" fill="#5cc05c"/>
<circle cx="330.7" cy="197.1" r="0.95" fill="#5cc05c"/>
<circle cx="331" cy="200" r="0.95" fill="#5cc05c"/>
<circle cx="330" cy="203" r="0.95" fill="#5cc05c"/>
<circle cx="331" cy="207" r="0.95" fill="#5cc05c"/>
<circle cx="330" cy="210" r="0.95" fill="#5cc05c"/>
<circle cx="300.1" cy="215.8" r="0.95" fill="#5cc05c"/>
<circle cx="310.6" cy="220.6" r="0.95" fill="#5cc05c"/>
<circle cx="307" cy="226.8" r="0.95" fill="#5cc05c"/>
<circle cx="321.8" cy="231.8" r="0.95" fill="#5cc05c"/>
<circle cx="350.1" cy="151.9" r="0.95" fill="#d43c3c"/>
<circle cx="346" cy="174.1" r="0.95" fill="#d43c3c"/>
<circle cx="358.2" cy="176.6" r="0.95" fill="#d43c3c"/>
<circle cx="345.5" cy="183.4" r="0.95" fill="#d43c3c"/>
<circle cx="347" cy="186" r="0.95" fill="#d43c3c"/>
<circle cx="348.9" cy="191.5" r="0.95" fill="#d43c3c"/>
<circle cx="341" cy="194.1" r="0.95" fill="#d43c3c"/>
<circle cx="344" cy="194.1" r="0.95" fill="#d43c3c"/>
<circle cx="340.4" cy="193.6" r="0.95" fill="#d43c3c"/>
<circle cx="348.4" cy="190.9" r="0.95" fill="#d43c3c"/>
<circle cx="344" cy="203.3" r="0.95" fill="#d43c3c"/>
<circle cx="340.4" cy="209.6" r="0.95" fill="#d43c3c"/>
<circle cx="338.7" cy="214.9" r="0.95" fill="#d43c3c"/>
<circle cx="342.2" cy="214.9" r="0.95" fill="#d43c3c"/>
<circle cx="338.7" cy="217.6" r="0.95" fill="#d43c3c"/>
<circle cx="351.1" cy="212.2" r="0.95" fill="#d43c3c"/>
<circle cx="345.8" cy="217.6" r="0.95" fill="#d43c3c"/>
<circle cx="336.9" cy="221" r="0.95" fill="#d43c3c"/>
<circle cx="339.6" cy="226.4" r="0.95" fill="#d43c3c"/>
<circle cx="344" cy="225.6" r="0.95" fill="#d43c3c"/>
<circle cx="349.3" cy="229.1" r="0.95" fill="#d43c3c"/>
<circle cx="354.7" cy="234.4" r="0.95" fill="#d43c3c"/>
<circle cx="356.4" cy="239.8" r="0.95" fill="#d43c3c"/>
<circle cx="364.2" cy="218" r="0.95" fill="#d43c3c"/>
<circle cx="368.2" cy="219.5" r="0.95" fill="#d43c3c"/>
<circle cx="351.1" cy="214" r="0.95" fill="#d43c3c"/>
<circle cx="364.2" cy="232.7" r="0.95" fill="#d43c3c"/>
<circle cx="359.9" cy="235.9" r="0.95" fill="#d43c3c"/>
<circle cx="366.4" cy="238.8" r="0.95" fill="#d43c3c"/>
<circle cx="378.1" cy="239.5" r="0.95" fill="#d43c3c"/>
<circle cx="390.5" cy="238.5" r="0.95" fill="#d43c3c"/>
<text x="350.11" y="150.7" font-size="1.7" font-family="Liberation Sans" fill="#d03c3c">TRAV1-2</text>
<text x="346.14" y="172.9" font-size="1.7" font-family="Liberation Sans" fill="#d03c3c">KLRB1</text>
<text x="358.97" y="175.4" font-size="1.7" font-family="Liberation Sans" fill="#d03c3c">NKG7</text>
<text x="344.57" y="182.2" font-size="1.7" font-family="Liberation Sans" fill="#d03c3c">IL7R</text>
<text x="346.15" y="184.8" font-size="1.7" font-family="Liberation Sans" fill="#d03c3c">IFNG</text>
<text x="348.97" y="190.3" font-size="1.7" font-family="Liberation Sans" fill="#d03c3c">CST7</text>
<text x="339.09" y="192.9" font-size="1.7" font-family="Liberation Sans" fill="#d03c3c">IFNG</text>
<text x="344.87" y="192.9" font-size="1.7" font-family="Liberation Sans" fill="#d03c3c">HLA-DRB1</text>
<text x="337.48" y="192.4" font-size="1.7" font-family="Liberation Sans" fill="#d03c3c">IFNG</text>
<text x="348.9" y="189.7" font-size="1.7" font-family="Liberation Sans" fill="#d03c3c">KLRB1</text>
<text x="341.44" y="202.1" font-size="1.7" font-family="Liberation Sans" fill="#d03c3c">TRAV1-2</text>
<text x="340.05" y="208.4" font-size="1.7" font-family="Liberation Sans" fill="#d03c3c">GZMH</text>
<text x="339.03" y="213.7" font-size="1.7" font-family="Liberation Sans" fill="#d03c3c">CCL5</text>
<text x="342.09" y="213.7" font-size="1.7" font-family="Liberation Sans" fill="#d03c3c">KLRB1</text>
<text x="335.8" y="216.4" font-size="1.7" font-family="Liberation Sans" fill="#d03c3c">GZMH</text>
<text x="349.11" y="211" font-size="1.7" font-family="Liberation Sans" fill="#d03c3c">CD74</text>
<text x="344.27" y="216.4" font-size="1.7" font-family="Liberation Sans" fill="#d03c3c">GZMK</text>
<text x="336.54" y="219.8" font-size="1.7" font-family="Liberation Sans" fill="#d03c3c">IL7R</text>
<text x="340.39" y="225.2" font-size="1.7" font-family="Liberation Sans" fill="#d03c3c">CST7</text>
<text x="344.55" y="224.4" font-size="1.7" font-family="Liberation Sans" fill="#d03c3c">CCL5</text>
<text x="346.81" y="227.9" font-size="1.7" font-family="Liberation Sans" fill="#d03c3c">CCL5</text>
<text x="353.7" y="233.2" font-size="1.7" font-family="Liberation Sans" fill="#d03c3c">CD74</text>
<rect x="397.1" y="182.6" width="20.4" height="15.2" fill="#fff" stroke="#222" stroke-width="0.6"/>
<text x="398.4" y="185.8" font-size="1.9" font-family="Liberation Sans" fill="#333">Highlight_size</text>
<circle cx="399.8" cy="188.9" r="0.45" fill="#111"/>
<text x="402.6" y="189.6" font-size="1.9" font-family="Liberation Sans" fill="#444">50</text>
<circle cx="399.8" cy="192.3" r="0.65" fill="#111"/>
<text x="402.6" y="193" font-size="1.9" font-family="Liberation Sans" fill="#444">100</text>
<circle cx="399.8" cy="195.7" r="0.85" fill="#111"/>
<text x="402.6" y="196.4" font-size="1.9" font-family="Liberation Sans" fill="#444">150</text>
<rect x="397.1" y="199.9" width="17.4" height="13.1" fill="#fff" stroke="#222" stroke-width="0.6"/>
<text x="398.4" y="203.1" font-size="1.9" font-family="Liberation Sans" fill="#333">Status</text>
<circle cx="399.8" cy="206.2" r="0.45" fill="#5cc05c"/>
<text x="402.6" y="206.9" font-size="1.9" font-family="Liberation Sans" fill="#444">down</text>
<circle cx="399.8" cy="209.6" r="0.45" fill="#d43c3c"/>
<text x="402.6" y="210.3" font-size="1.9" font-family="Liberation Sans" fill="#444">up</text>
<rect x="30.3" y="259.2" width="99.1" height="128.8" fill="#fff"/>
<line x1="31.6" y1="259.2" x2="31.6" y2="388" stroke="#e8e8e8" stroke-width="0.45"/>
<line x1="48.5" y1="259.2" x2="48.5" y2="388" stroke="#e8e8e8" stroke-width="0.45"/>
<line x1="65.4" y1="259.2" x2="65.4" y2="388" stroke="#e8e8e8" stroke-width="0.45"/>
<line x1="82.3" y1="259.2" x2="82.3" y2="388" stroke="#e8e8e8" stroke-width="0.45"/>
<line x1="99.2" y1="259.2" x2="99.2" y2="388" stroke="#e8e8e8" stroke-width="0.45"/>
<line x1="116.1" y1="259.2" x2="116.1" y2="388" stroke="#e8e8e8" stroke-width="0.45"/>
<line x1="40.05" y1="259.2" x2="40.05" y2="388" stroke="#f3f3f3" stroke-width="0.3"/>
<line x1="56.95" y1="259.2" x2="56.95" y2="388" stroke="#f3f3f3" stroke-width="0.3"/>
<line x1="73.85" y1="259.2" x2="73.85" y2="388" stroke="#f3f3f3" stroke-width="0.3"/>
<line x1="90.75" y1="259.2" x2="90.75" y2="388" stroke="#f3f3f3" stroke-width="0.3"/>
<line x1="107.65" y1="259.2" x2="107.65" y2="388" stroke="#f3f3f3" stroke-width="0.3"/>
<line x1="124.55" y1="259.2" x2="124.55" y2="388" stroke="#f3f3f3" stroke-width="0.3"/>
<line x1="30.3" y1="262.1" x2="129.4" y2="262.1" stroke="#ececec" stroke-width="0.4"/>
<line x1="30.3" y1="266.37" x2="129.4" y2="266.37" stroke="#ececec" stroke-width="0.4"/>
<line x1="30.3" y1="270.64" x2="129.4" y2="270.64" stroke="#ececec" stroke-width="0.4"/>
<line x1="30.3" y1="274.91" x2="129.4" y2="274.91" stroke="#ececec" stroke-width="0.4"/>
<line x1="30.3" y1="279.18" x2="129.4" y2="279.18" stroke="#ececec" stroke-width="0.4"/>
<line x1="30.3" y1="283.45" x2="129.4" y2="283.45" stroke="#ececec" stroke-width="0.4"/>
<line x1="30.3" y1="287.72" x2="129.4" y2="287.72" stroke="#ececec" stroke-width="0.4"/>
<line x1="30.3" y1="291.99" x2="129.4" y2="291.99" stroke="#ececec" stroke-width="0.4"/>
<line x1="30.3" y1="296.26" x2="129.4" y2="296.26" stroke="#ececec" stroke-width="0.4"/>
<line x1="30.3" y1="300.53" x2="129.4" y2="300.53" stroke="#ececec" stroke-width="0.4"/>
<line x1="30.3" y1="304.8" x2="129.4" y2="304.8" stroke="#ececec" stroke-width="0.4"/>
<line x1="30.3" y1="309.07" x2="129.4" y2="309.07" stroke="#ececec" stroke-width="0.4"/>
<line x1="30.3" y1="313.34" x2="129.4" y2="313.34" stroke="#ececec" stroke-width="0.4"/>
<line x1="30.3" y1="317.61" x2="129.4" y2="317.61" stroke="#ececec" stroke-width="0.4"/>
<line x1="30.3" y1="321.88" x2="129.4" y2="321.88" stroke="#ececec" stroke-width="0.4"/>
<line x1="30.3" y1="326.15" x2="129.4" y2="326.15" stroke="#ececec" stroke-width="0.4"/>
<line x1="30.3" y1="330.42" x2="129.4" y2="330.42" stroke="#ececec" stroke-width="0.4"/>
<line x1="30.3" y1="334.69" x2="129.4" y2="334.69" stroke="#ececec" stroke-width="0.4"/>
<line x1="30.3" y1="338.96" x2="129.4" y2="338.96" stroke="#ececec" stroke-width="0.4"/>
<line x1="30.3" y1="343.23" x2="129.4" y2="343.23" stroke="#ececec" stroke-width="0.4"/>
<line x1="30.3" y1="347.5" x2="129.4" y2="347.5" stroke="#ececec" stroke-width="0.4"/>
<line x1="30.3" y1="351.77" x2="129.4" y2="351.77" stroke="#ececec" stroke-width="0.4"/>
<line x1="30.3" y1="356.04" x2="129.4" y2="356.04" stroke="#ececec" stroke-width="0.4"/>
<line x1="30.3" y1="360.31" x2="129.4" y2="360.31" stroke="#ececec" stroke-width="0.4"/>
<line x1="30.3" y1="364.58" x2="129.4" y2="364.58" stroke="#ececec" stroke-width="0.4"/>
<line x1="30.3" y1="368.85" x2="129.4" y2="368.85" stroke="#ececec" stroke-width="0.4"/>
<line x1="30.3" y1="373.12" x2="129.4" y2="373.12" stroke="#ececec" stroke-width="0.4"/>
<line x1="30.3" y1="377.39" x2="129.4" y2="377.39" stroke="#ececec" stroke-width="0.4"/>
<line x1="30.3" y1="381.66" x2="129.4" y2="381.66" stroke="#ececec" stroke-width="0.4"/>
<line x1="30.3" y1="385.93" x2="129.4" y2="385.93" stroke="#ececec" stroke-width="0.4"/>
<rect x="30.3" y="259.2" width="99.1" height="128.8" fill="none" stroke="#bbbbbb" stroke-width="0.6"/>
<text x="29.2" y="261.8" font-size="1.95" font-family="Liberation Sans" fill="#222" text-anchor="end">Antigen processing and</text>
<text x="29.2" y="263.7" font-size="1.95" font-family="Liberation Sans" fill="#222" text-anchor="end">presentation</text>
<text x="29.2" y="267.02" font-size="1.95" font-family="Liberation Sans" fill="#222" text-anchor="end">Epstein-Barr virus infection</text>
<text x="29.2" y="271.29" font-size="1.95" font-family="Liberation Sans" fill="#222" text-anchor="end">Graft-versus-host disease</text>
<text x="29.2" y="275.56" font-size="1.95" font-family="Liberation Sans" fill="#222" text-anchor="end">Influenza A</text>
<text x="29.2" y="279.83" font-size="1.95" font-family="Liberation Sans" fill="#222" text-anchor="end">Tuberculosis</text>
<text x="29.2" y="283.15" font-size="1.95" font-family="Liberation Sans" fill="#222" text-anchor="end">Human T-cell leukemia virus 1</text>
<text x="29.2" y="285.05" font-size="1.95" font-family="Liberation Sans" fill="#222" text-anchor="end">infection</text>
<text x="29.2" y="287.42" font-size="1.95" font-family="Liberation Sans" fill="#222" text-anchor="end">Natural killer cell mediated</text>
<text x="29.2" y="289.32" font-size="1.95" font-family="Liberation Sans" fill="#222" text-anchor="end">cytotoxicity</text>
<text x="29.2" y="292.64" font-size="1.95" font-family="Liberation Sans" fill="#222" text-anchor="end">Osteoclast differentiation</text>
<text x="29.2" y="295.96" font-size="1.95" font-family="Liberation Sans" fill="#222" text-anchor="end">Chagas disease (American</text>
<text x="29.2" y="297.86" font-size="1.95" font-family="Liberation Sans" fill="#222" text-anchor="end">trypanosomiasis)</text>
<text x="29.2" y="301.18" font-size="1.95" font-family="Liberation Sans" fill="#222" text-anchor="end">Phagosome</text>
<text x="29.2" y="305.45" font-size="1.95" font-family="Liberation Sans" fill="#222" text-anchor="end">Leishmaniasis</text>
<text x="29.2" y="308.77" font-size="1.95" font-family="Liberation Sans" fill="#222" text-anchor="end">Toll-like receptor signaling</text>
<text x="29.2" y="310.67" font-size="1.95" font-family="Liberation Sans" fill="#222" text-anchor="end">pathway</text>
<text x="29.2" y="313.99" font-size="1.95" font-family="Liberation Sans" fill="#222" text-anchor="end">Cell adhesion molecules</text>
<text x="29.2" y="318.26" font-size="1.95" font-family="Liberation Sans" fill="#222" text-anchor="end">Th17 cell differentiation</text>
<text x="29.2" y="322.53" font-size="1.95" font-family="Liberation Sans" fill="#222" text-anchor="end">Toxoplasmosis</text>
<text x="29.2" y="326.8" font-size="1.95" font-family="Liberation Sans" fill="#222" text-anchor="end">TNF signaling pathway</text>
<text x="29.2" y="331.07" font-size="1.95" font-family="Liberation Sans" fill="#222" text-anchor="end">Apoptosis</text>
<text x="29.2" y="334.39" font-size="1.95" font-family="Liberation Sans" fill="#222" text-anchor="end">Th1 and Th2 cell</text>
<text x="29.2" y="336.29" font-size="1.95" font-family="Liberation Sans" fill="#222" text-anchor="end">differentiation</text>
<text x="29.2" y="339.61" font-size="1.95" font-family="Liberation Sans" fill="#222" text-anchor="end">IL-17 signaling pathway</text>
<text x="29.2" y="343.88" font-size="1.95" font-family="Liberation Sans" fill="#222" text-anchor="end">Hematopoietic cell lineage</text>
<text x="29.2" y="348.15" font-size="1.95" font-family="Liberation Sans" fill="#222" text-anchor="end">Allograft rejection</text>
<text x="29.2" y="351.47" font-size="1.95" font-family="Liberation Sans" fill="#222" text-anchor="end">T cell receptor signaling</text>
<text x="29.2" y="353.37" font-size="1.95" font-family="Liberation Sans" fill="#222" text-anchor="end">pathway</text>
<text x="29.2" y="356.69" font-size="1.95" font-family="Liberation Sans" fill="#222" text-anchor="end">Type I diabetes mellitus</text>
<text x="29.2" y="360.96" font-size="1.95" font-family="Liberation Sans" fill="#222" text-anchor="end">Inflammatory bowel disease</text>
<text x="29.2" y="365.23" font-size="1.95" font-family="Liberation Sans" fill="#222" text-anchor="end">Viral myocarditis</text>
<text x="29.2" y="369.5" font-size="1.95" font-family="Liberation Sans" fill="#222" text-anchor="end">Autoimmune thyroid disease</text>
<text x="29.2" y="373.77" font-size="1.95" font-family="Liberation Sans" fill="#222" text-anchor="end">Asthma</text>
<text x="29.2" y="377.09" font-size="1.95" font-family="Liberation Sans" fill="#222" text-anchor="end">Intestinal immune network</text>
<text x="29.2" y="378.99" font-size="1.95" font-family="Liberation Sans" fill="#222" text-anchor="end">for IgA production</text>
<text x="29.2" y="382.31" font-size="1.95" font-family="Liberation Sans" fill="#222" text-anchor="end">Measles</text>
<text x="29.2" y="386.58" font-size="1.95" font-family="Liberation Sans" fill="#222" text-anchor="end">Yersinia infection</text>
<line x1="31.6" y1="388" x2="31.6" y2="388.8" stroke="#555" stroke-width="0.3"/>
<text x="31.6" y="391.1" font-size="2.2" font-family="Liberation Sans" fill="#333" text-anchor="middle">0.03</text>
<line x1="48.5" y1="388" x2="48.5" y2="388.8" stroke="#555" stroke-width="0.3"/>
<text x="48.5" y="391.1" font-size="2.2" font-family="Liberation Sans" fill="#333" text-anchor="middle">0.04</text>
<line x1="65.4" y1="388" x2="65.4" y2="388.8" stroke="#555" stroke-width="0.3"/>
<text x="65.4" y="391.1" font-size="2.2" font-family="Liberation Sans" fill="#333" text-anchor="middle">0.05</text>
<line x1="82.3" y1="388" x2="82.3" y2="388.8" stroke="#555" stroke-width="0.3"/>
<text x="82.3" y="391.1" font-size="2.2" font-family="Liberation Sans" fill="#333" text-anchor="middle">0.06</text>
<line x1="99.2" y1="388" x2="99.2" y2="388.8" stroke="#555" stroke-width="0.3"/>
<text x="99.2" y="391.1" font-size="2.2" font-family="Liberation Sans" fill="#333" text-anchor="middle">0.07</text>
<line x1="116.1" y1="388" x2="116.1" y2="388.8" stroke="#555" stroke-width="0.3"/>
<text x="116.1" y="391.1" font-size="2.2" font-family="Liberation Sans" fill="#333" text-anchor="middle">0.08</text>
<circle cx="124.9" cy="262.1" r="1.5" fill="#f01e1e"/>
<circle cx="124.9" cy="266.37" r="1.5" fill="#f01e1e"/>
<circle cx="117.1" cy="270.64" r="1.45" fill="#f01e1e"/>
<circle cx="102" cy="274.91" r="1.4" fill="#f01e1e"/>
<circle cx="102" cy="279.18" r="1.4" fill="#f01e1e"/>
<circle cx="102" cy="283.45" r="1.4" fill="#d02a78"/>
<circle cx="94.7" cy="287.72" r="1.35" fill="#f01e1e"/>
<circle cx="94.7" cy="291.99" r="1.35" fill="#f01e1e"/>
<circle cx="87" cy="296.26" r="1.3" fill="#f01e1e"/>
<circle cx="87" cy="300.53" r="1.3" fill="#f01e1e"/>
<circle cx="79.6" cy="304.8" r="1.25" fill="#f01e1e"/>
<circle cx="79.6" cy="309.07" r="1.25" fill="#f01e1e"/>
<circle cx="79.6" cy="313.34" r="1.25" fill="#b43cc8"/>
<circle cx="72" cy="317.61" r="1.2" fill="#f01e1e"/>
<circle cx="72" cy="321.88" r="1.2" fill="#f01e1e"/>
<circle cx="72" cy="326.15" r="1.2" fill="#f01e1e"/>
<circle cx="72" cy="330.42" r="1.2" fill="#2828e6"/>
<circle cx="64.4" cy="334.69" r="1.15" fill="#f01e1e"/>
<circle cx="64.4" cy="338.96" r="1.15" fill="#f01e1e"/>
<circle cx="64.4" cy="343.23" r="1.15" fill="#f01e1e"/>
<circle cx="64.4" cy="347.5" r="1.15" fill="#f01e1e"/>
<circle cx="64.4" cy="351.77" r="1.15" fill="#b43cc8"/>
<circle cx="49.4" cy="356.04" r="1" fill="#f01e1e"/>
<circle cx="49.4" cy="360.31" r="1" fill="#f01e1e"/>
<circle cx="41.9" cy="364.58" r="0.9" fill="#f01e1e"/>
<circle cx="41.9" cy="368.85" r="0.9" fill="#f01e1e"/>
<circle cx="41.9" cy="373.12" r="0.9" fill="#b43cc8"/>
<circle cx="41.9" cy="377.39" r="0.9" fill="#b43cc8"/>
<circle cx="34.4" cy="381.66" r="0.7" fill="#f01e1e"/>
<circle cx="34.4" cy="385.93" r="0.7" fill="#f01e1e"/>
<text x="80.5" y="392.8" font-size="2" font-family="Liberation Sans" fill="#333" text-anchor="middle">GeneRatio</text>
<text x="131.5" y="304.5" font-size="1.9" font-family="Liberation Sans" fill="#333">Count</text>
<circle cx="133.3" cy="306.8" r="0.5" fill="none" stroke="#555" stroke-width="0.25"/>
<text x="135.6" y="307.4" font-size="1.6" font-family="Liberation Sans" fill="#555">10</text>
<circle cx="133.3" cy="310.2" r="0.75" fill="none" stroke="#555" stroke-width="0.25"/>
<text x="135.6" y="310.8" font-size="1.6" font-family="Liberation Sans" fill="#555">15</text>
<circle cx="133.3" cy="313.6" r="1" fill="none" stroke="#555" stroke-width="0.25"/>
<text x="135.6" y="314.2" font-size="1.6" font-family="Liberation Sans" fill="#555">20</text>
<circle cx="133.3" cy="317" r="1.25" fill="none" stroke="#555" stroke-width="0.25"/>
<text x="135.6" y="317.6" font-size="1.6" font-family="Liberation Sans" fill="#555">25</text>
<circle cx="133.3" cy="320.4" r="1.5" fill="none" stroke="#555" stroke-width="0.25"/>
<text x="135.6" y="321" font-size="1.6" font-family="Liberation Sans" fill="#555">30</text>
<text x="131.5" y="327.2" font-size="1.9" font-family="Liberation Sans" fill="#333">p.adjust</text>
<defs><linearGradient id="pa" x1="0" y1="0" x2="0" y2="1"><stop offset="0" stop-color="#3030ff"/><stop offset="0.5" stop-color="#c040d0"/><stop offset="1" stop-color="#ff1010"/></linearGradient></defs>
<rect x="131.7" y="328.5" width="3.2" height="14" fill="url(#pa)"/>
<text x="135.6" y="330" font-size="1.5" font-family="Liberation Sans" fill="#555">0.005</text>
<text x="135.6" y="333" font-size="1.5" font-family="Liberation Sans" fill="#555">0.004</text>
<text x="135.6" y="336" font-size="1.5" font-family="Liberation Sans" fill="#555">0.003</text>
<text x="135.6" y="339" font-size="1.5" font-family="Liberation Sans" fill="#555">0.002</text>
<text x="135.6" y="342" font-size="1.5" font-family="Liberation Sans" fill="#555">0.001</text>
<rect x="171.1" y="256.6" width="95.1" height="128.8" fill="#fff"/>
<line x1="174.8" y1="256.6" x2="174.8" y2="385.4" stroke="#e8e8e8" stroke-width="0.45"/>
<line x1="204" y1="256.6" x2="204" y2="385.4" stroke="#e8e8e8" stroke-width="0.45"/>
<line x1="233.3" y1="256.6" x2="233.3" y2="385.4" stroke="#e8e8e8" stroke-width="0.45"/>
<line x1="262.6" y1="256.6" x2="262.6" y2="385.4" stroke="#e8e8e8" stroke-width="0.45"/>
<line x1="189.4" y1="256.6" x2="189.4" y2="385.4" stroke="#f3f3f3" stroke-width="0.3"/>
<line x1="218.6" y1="256.6" x2="218.6" y2="385.4" stroke="#f3f3f3" stroke-width="0.3"/>
<line x1="247.9" y1="256.6" x2="247.9" y2="385.4" stroke="#f3f3f3" stroke-width="0.3"/>
<line x1="171.1" y1="274.9" x2="266.2" y2="274.9" stroke="#ececec" stroke-width="0.4"/>
<line x1="171.1" y1="306.7" x2="266.2" y2="306.7" stroke="#ececec" stroke-width="0.4"/>
<line x1="171.1" y1="338.5" x2="266.2" y2="338.5" stroke="#ececec" stroke-width="0.4"/>
<line x1="171.1" y1="369.6" x2="266.2" y2="369.6" stroke="#ececec" stroke-width="0.4"/>
<rect x="171.1" y="256.6" width="95.1" height="128.8" fill="none" stroke="#bbbbbb" stroke-width="0.6"/>
<text x="169.6" y="275.55" font-size="1.95" font-family="Liberation Sans" fill="#222" text-anchor="end">Coronavirus disease - COVID-19</text>
<text x="169.6" y="307.35" font-size="1.95" font-family="Liberation Sans" fill="#222" text-anchor="end">Ribosome</text>
<text x="169.6" y="339.15" font-size="1.95" font-family="Liberation Sans" fill="#222" text-anchor="end">IL-17 signaling pathway</text>
<text x="169.6" y="370.25" font-size="1.95" font-family="Liberation Sans" fill="#222" text-anchor="end">TNF signaling pathway</text>
<line x1="174.8" y1="385.4" x2="174.8" y2="386.2" stroke="#555" stroke-width="0.3"/>
<text x="174.8" y="388.5" font-size="2.2" font-family="Liberation Sans" fill="#333" text-anchor="middle">0.10</text>
<line x1="204" y1="385.4" x2="204" y2="386.2" stroke="#555" stroke-width="0.3"/>
<text x="204" y="388.5" font-size="2.2" font-family="Liberation Sans" fill="#333" text-anchor="middle">0.15</text>
<line x1="233.3" y1="385.4" x2="233.3" y2="386.2" stroke="#555" stroke-width="0.3"/>
<text x="233.3" y="388.5" font-size="2.2" font-family="Liberation Sans" fill="#333" text-anchor="middle">0.20</text>
<line x1="262.6" y1="385.4" x2="262.6" y2="386.2" stroke="#555" stroke-width="0.3"/>
<text x="262.6" y="388.5" font-size="2.2" font-family="Liberation Sans" fill="#333" text-anchor="middle">0.25</text>
<circle cx="262.6" cy="274.9" r="1.6" fill="#f01e1e"/>
<circle cx="233.3" cy="306.7" r="1.45" fill="#f01e1e"/>
<circle cx="174.8" cy="338.5" r="0.8" fill="#8a3cf0"/>
<circle cx="174.8" cy="369.6" r="0.8" fill="#5a3cf0"/>
<text x="209" y="393" font-size="2" font-family="Liberation Sans" fill="#333" text-anchor="middle">GeneRatio</text>
<text x="268.8" y="305.5" font-size="1.7" font-family="Liberation Sans" fill="#333">p.adjust</text>
<rect x="268.8" y="306.7" width="2.9" height="12.8" fill="url(#pa)"/>
<text x="272.4" y="308.5" font-size="1.4" font-family="Liberation Sans" fill="#555">0.04</text>
<text x="272.4" y="311.8" font-size="1.4" font-family="Liberation Sans" fill="#555">0.03</text>
<text x="272.4" y="315.1" font-size="1.4" font-family="Liberation Sans" fill="#555">0.02</text>
<text x="272.4" y="318.4" font-size="1.4" font-family="Liberation Sans" fill="#555">0.01</text>
<text x="268.8" y="324.5" font-size="1.7" font-family="Liberation Sans" fill="#333">Count</text>
<circle cx="270.3" cy="326.6" r="0.5" fill="none" stroke="#555" stroke-width="0.25"/>
<text x="272.6" y="327.2" font-size="1.4" font-family="Liberation Sans" fill="#555">2</text>
<circle cx="270.3" cy="329.9" r="0.8" fill="none" stroke="#555" stroke-width="0.25"/>
<text x="272.6" y="330.5" font-size="1.4" font-family="Liberation Sans" fill="#555">3</text>
<circle cx="270.3" cy="333.2" r="1.1" fill="none" stroke="#555" stroke-width="0.25"/>
<text x="272.6" y="333.8" font-size="1.4" font-family="Liberation Sans" fill="#555">4</text>
<circle cx="270.3" cy="336.5" r="1.4" fill="none" stroke="#555" stroke-width="0.25"/>
<text x="272.6" y="337.1" font-size="1.4" font-family="Liberation Sans" fill="#555">5</text>
<rect x="308.6" y="256" width="98.1" height="130.4" fill="#fff"/>
<line x1="312.7" y1="256" x2="312.7" y2="386.4" stroke="#e8e8e8" stroke-width="0.45"/>
<line x1="340.3" y1="256" x2="340.3" y2="386.4" stroke="#e8e8e8" stroke-width="0.45"/>
<line x1="367.9" y1="256" x2="367.9" y2="386.4" stroke="#e8e8e8" stroke-width="0.45"/>
<line x1="395.5" y1="256" x2="395.5" y2="386.4" stroke="#e8e8e8" stroke-width="0.45"/>
<line x1="326.5" y1="256" x2="326.5" y2="386.4" stroke="#f3f3f3" stroke-width="0.3"/>
<line x1="354.1" y1="256" x2="354.1" y2="386.4" stroke="#f3f3f3" stroke-width="0.3"/>
<line x1="381.7" y1="256" x2="381.7" y2="386.4" stroke="#f3f3f3" stroke-width="0.3"/>
<line x1="308.6" y1="259.1" x2="406.7" y2="259.1" stroke="#ececec" stroke-width="0.4"/>
<line x1="308.6" y1="263.4" x2="406.7" y2="263.4" stroke="#ececec" stroke-width="0.4"/>
<line x1="308.6" y1="267.7" x2="406.7" y2="267.7" stroke="#ececec" stroke-width="0.4"/>
<line x1="308.6" y1="272" x2="406.7" y2="272" stroke="#ececec" stroke-width="0.4"/>
<line x1="308.6" y1="276.3" x2="406.7" y2="276.3" stroke="#ececec" stroke-width="0.4"/>
<line x1="308.6" y1="280.6" x2="406.7" y2="280.6" stroke="#ececec" stroke-width="0.4"/>
<line x1="308.6" y1="284.9" x2="406.7" y2="284.9" stroke="#ececec" stroke-width="0.4"/>
<line x1="308.6" y1="289.2" x2="406.7" y2="289.2" stroke="#ececec" stroke-width="0.4"/>
<line x1="308.6" y1="293.5" x2="406.7" y2="293.5" stroke="#ececec" stroke-width="0.4"/>
<line x1="308.6" y1="297.8" x2="406.7" y2="297.8" stroke="#ececec" stroke-width="0.4"/>
<line x1="308.6" y1="302.1" x2="406.7" y2="302.1" stroke="#ececec" stroke-width="0.4"/>
<line x1="308.6" y1="306.4" x2="406.7" y2="306.4" stroke="#ececec" stroke-width="0.4"/>
<line x1="308.6" y1="310.7" x2="406.7" y2="310.7" stroke="#ececec" stroke-width="0.4"/>
<line x1="308.6" y1="315" x2="406.7" y2="315" stroke="#ececec" stroke-width="0.4"/>
<line x1="308.6" y1="319.3" x2="406.7" y2="319.3" stroke="#ececec" stroke-width="0.4"/>
<line x1="308.6" y1="323.6" x2="406.7" y2="323.6" stroke="#ececec" stroke-width="0.4"/>
<line x1="308.6" y1="327.9" x2="406.7" y2="327.9" stroke="#ececec" stroke-width="0.4"/>
<line x1="308.6" y1="332.2" x2="406.7" y2="332.2" stroke="#ececec" stroke-width="0.4"/>
<line x1="308.6" y1="336.5" x2="406.7" y2="336.5" stroke="#ececec" stroke-width="0.4"/>
<line x1="308.6" y1="340.8" x2="406.7" y2="340.8" stroke="#ececec" stroke-width="0.4"/>
<line x1="308.6" y1="345.1" x2="406.7" y2="345.1" stroke="#ececec" stroke-width="0.4"/>
<line x1="308.6" y1="349.4" x2="406.7" y2="349.4" stroke="#ececec" stroke-width="0.4"/>
<line x1="308.6" y1="353.7" x2="406.7" y2="353.7" stroke="#ececec" stroke-width="0.4"/>
<line x1="308.6" y1="358" x2="406.7" y2="358" stroke="#ececec" stroke-width="0.4"/>
<line x1="308.6" y1="362.3" x2="406.7" y2="362.3" stroke="#ececec" stroke-width="0.4"/>
<line x1="308.6" y1="366.6" x2="406.7" y2="366.6" stroke="#ececec" stroke-width="0.4"/>
<line x1="308.6" y1="370.9" x2="406.7" y2="370.9" stroke="#ececec" stroke-width="0.4"/>
<line x1="308.6" y1="375.2" x2="406.7" y2="375.2" stroke="#ececec" stroke-width="0.4"/>
<line x1="308.6" y1="379.5" x2="406.7" y2="379.5" stroke="#ececec" stroke-width="0.4"/>
<line x1="308.6" y1="383.8" x2="406.7" y2="383.8" stroke="#ececec" stroke-width="0.4"/>
<rect x="308.6" y="256" width="98.1" height="130.4" fill="none" stroke="#bbbbbb" stroke-width="0.6"/>
<text x="307.6" y="259.75" font-size="1.95" font-family="Liberation Sans" fill="#222" text-anchor="end">Influenza A</text>
<text x="307.6" y="264.05" font-size="1.95" font-family="Liberation Sans" fill="#222" text-anchor="end">Epstein-Barr virus infection</text>
<text x="307.6" y="268.35" font-size="1.95" font-family="Liberation Sans" fill="#222" text-anchor="end">Graft-versus-host disease</text>
<text x="307.6" y="271.7" font-size="1.95" font-family="Liberation Sans" fill="#222" text-anchor="end">Human T-cell leukemia virus 1</text>
<text x="307.6" y="273.6" font-size="1.95" font-family="Liberation Sans" fill="#222" text-anchor="end">infection</text>
<text x="307.6" y="276.95" font-size="1.95" font-family="Liberation Sans" fill="#222" text-anchor="end">Osteoclast differentiation</text>
<text x="307.6" y="281.25" font-size="1.95" font-family="Liberation Sans" fill="#222" text-anchor="end">Leishmaniasis</text>
<text x="307.6" y="284.6" font-size="1.95" font-family="Liberation Sans" fill="#222" text-anchor="end">Antigen processing and</text>
<text x="307.6" y="286.5" font-size="1.95" font-family="Liberation Sans" fill="#222" text-anchor="end">presentation</text>
<text x="307.6" y="289.85" font-size="1.95" font-family="Liberation Sans" fill="#e02020" text-anchor="end">Th17 cell differentiation</text>
<text x="307.6" y="294.15" font-size="1.95" font-family="Liberation Sans" fill="#e02020" text-anchor="end">Th1 and Th2 cell differentiation</text>
<text x="307.6" y="297.5" font-size="1.95" font-family="Liberation Sans" fill="#e02020" text-anchor="end">PD-L1 and PD-1 checkpoint</text>
<text x="307.6" y="299.4" font-size="1.95" font-family="Liberation Sans" fill="#e02020" text-anchor="end">pathway in cancer</text>
<text x="307.6" y="302.75" font-size="1.95" font-family="Liberation Sans" fill="#222" text-anchor="end">Inflammatory bowel disease</text>
<text x="307.6" y="307.05" font-size="1.95" font-family="Liberation Sans" fill="#e02020" text-anchor="end">IL-17 signaling pathway</text>
<text x="307.6" y="311.35" font-size="1.95" font-family="Liberation Sans" fill="#222" text-anchor="end">Hematopoietic cell lineage</text>
<text x="307.6" y="314.7" font-size="1.95" font-family="Liberation Sans" fill="#222" text-anchor="end">Toll-like receptor signaling</text>
<text x="307.6" y="316.6" font-size="1.95" font-family="Liberation Sans" fill="#222" text-anchor="end">pathway</text>
<text x="307.6" y="319" font-size="1.95" font-family="Liberation Sans" fill="#222" text-anchor="end">Human cytomegalovirus</text>
<text x="307.6" y="320.9" font-size="1.95" font-family="Liberation Sans" fill="#222" text-anchor="end">infection</text>
<text x="307.6" y="324.25" font-size="1.95" font-family="Liberation Sans" fill="#222" text-anchor="end">Allograft rejection</text>
<text x="307.6" y="327.6" font-size="1.95" font-family="Liberation Sans" fill="#e02020" text-anchor="end">T cell receptor signaling</text>
<text x="307.6" y="329.5" font-size="1.95" font-family="Liberation Sans" fill="#e02020" text-anchor="end">pathway</text>
<text x="307.6" y="332.85" font-size="1.95" font-family="Liberation Sans" fill="#222" text-anchor="end">Apoptosis</text>
<text x="307.6" y="337.15" font-size="1.95" font-family="Liberation Sans" fill="#222" text-anchor="end">Measles</text>
<text x="307.6" y="340.5" font-size="1.95" font-family="Liberation Sans" fill="#222" text-anchor="end">Natural killer cell mediated</text>
<text x="307.6" y="342.4" font-size="1.95" font-family="Liberation Sans" fill="#222" text-anchor="end">cytotoxicity</text>
<text x="307.6" y="345.75" font-size="1.95" font-family="Liberation Sans" fill="#222" text-anchor="end">Autoimmune thyroid disease</text>
<text x="307.6" y="349.1" font-size="1.95" font-family="Liberation Sans" fill="#222" text-anchor="end">B cell receptor signaling</text>
<text x="307.6" y="351" font-size="1.95" font-family="Liberation Sans" fill="#222" text-anchor="end">pathway</text>
<text x="307.6" y="353.4" font-size="1.95" font-family="Liberation Sans" fill="#222" text-anchor="end">AGE-RAGE signaling pathway</text>
<text x="307.6" y="355.3" font-size="1.95" font-family="Liberation Sans" fill="#222" text-anchor="end">in diabetic complications</text>
<text x="307.6" y="358.65" font-size="1.95" font-family="Liberation Sans" fill="#222" text-anchor="end">Type I diabetes mellitus</text>
<text x="307.6" y="362.95" font-size="1.95" font-family="Liberation Sans" fill="#222" text-anchor="end">Chemokine signaling pathway</text>
<text x="307.6" y="367.25" font-size="1.95" font-family="Liberation Sans" fill="#222" text-anchor="end">Viral myocarditis</text>
<text x="307.6" y="371.55" font-size="1.95" font-family="Liberation Sans" fill="#222" text-anchor="end">Asthma</text>
<text x="307.6" y="375.85" font-size="1.95" font-family="Liberation Sans" fill="#222" text-anchor="end">Intestinal immune network</text>
<text x="307.6" y="380.15" font-size="1.95" font-family="Liberation Sans" fill="#222" text-anchor="end">Ferroptosis</text>
<text x="307.6" y="383.5" font-size="1.95" font-family="Liberation Sans" fill="#222" text-anchor="end">Cytokine-cytokine receptor</text>
<text x="307.6" y="385.4" font-size="1.95" font-family="Liberation Sans" fill="#222" text-anchor="end">interaction</text>
<line x1="312.7" y1="386.4" x2="312.7" y2="387.2" stroke="#555" stroke-width="0.3"/>
<text x="312.7" y="389.5" font-size="2.2" font-family="Liberation Sans" fill="#333" text-anchor="middle">0.04</text>
<line x1="340.3" y1="386.4" x2="340.3" y2="387.2" stroke="#555" stroke-width="0.3"/>
<text x="340.3" y="389.5" font-size="2.2" font-family="Liberation Sans" fill="#333" text-anchor="middle">0.06</text>
<line x1="367.9" y1="386.4" x2="367.9" y2="387.2" stroke="#555" stroke-width="0.3"/>
<text x="367.9" y="389.5" font-size="2.2" font-family="Liberation Sans" fill="#333" text-anchor="middle">0.08</text>
<line x1="395.5" y1="386.4" x2="395.5" y2="387.2" stroke="#555" stroke-width="0.3"/>
<text x="395.5" y="389.5" font-size="2.2" font-family="Liberation Sans" fill="#333" text-anchor="middle">0.10</text>
<circle cx="402.2" cy="259.1" r="1.4" fill="#f01e1e"/>
<circle cx="402.2" cy="263.4" r="1.4" fill="#f01e1e"/>
<circle cx="402.2" cy="267.7" r="1.4" fill="#f01e1e"/>
<circle cx="402.2" cy="272" r="1.4" fill="#f01e1e"/>
<circle cx="391" cy="276.3" r="1.35" fill="#f01e1e"/>
<circle cx="379.7" cy="280.6" r="1.3" fill="#f01e1e"/>
<circle cx="379.7" cy="284.9" r="1.3" fill="#f01e1e"/>
<circle cx="379.7" cy="289.2" r="1.3" fill="#f01e1e"/>
<circle cx="379.7" cy="293.5" r="1.3" fill="#f01e1e"/>
<circle cx="368.9" cy="297.8" r="1.25" fill="#f01e1e"/>
<circle cx="368.9" cy="302.1" r="1.25" fill="#f01e1e"/>
<circle cx="368.9" cy="306.4" r="1.25" fill="#f01e1e"/>
<circle cx="368.9" cy="310.7" r="1.25" fill="#f01e1e"/>
<circle cx="368.9" cy="315" r="1.25" fill="#f01e1e"/>
<circle cx="368.9" cy="319.3" r="1.25" fill="#b43cc8"/>
<circle cx="357.7" cy="323.6" r="1.2" fill="#f01e1e"/>
<circle cx="357.7" cy="327.9" r="1.2" fill="#f01e1e"/>
<circle cx="357.7" cy="332.2" r="1.2" fill="#d02a78"/>
<circle cx="357.7" cy="336.5" r="1.2" fill="#d02a78"/>
<circle cx="346.4" cy="340.8" r="1.1" fill="#2828e6"/>
<circle cx="335.2" cy="345.1" r="1.05" fill="#f01e1e"/>
<circle cx="335.2" cy="349.4" r="1.05" fill="#b43cc8"/>
<circle cx="335.2" cy="353.7" r="1.05" fill="#2828e6"/>
<circle cx="324.3" cy="358" r="0.95" fill="#f01e1e"/>
<circle cx="324.3" cy="362.3" r="0.95" fill="#f01e1e"/>
<circle cx="324.3" cy="366.6" r="0.95" fill="#b43cc8"/>
<circle cx="313.3" cy="370.9" r="0.7" fill="#f01e1e"/>
<circle cx="313.3" cy="375.2" r="0.7" fill="#f01e1e"/>
<circle cx="313.3" cy="379.5" r="0.7" fill="#b43cc8"/>
<circle cx="313.3" cy="383.8" r="0.7" fill="#2828e6"/>
<text x="352" y="391.8" font-size="2" font-family="Liberation Sans" fill="#333" text-anchor="middle">GeneRatio</text>
<text x="408.8" y="304" font-size="1.7" font-family="Liberation Sans" fill="#333">p.adjust</text>
<rect x="409.2" y="305" width="2.7" height="13.4" fill="url(#pa)"/>
<text x="412.5" y="307" font-size="1.4" font-family="Liberation Sans" fill="#555">0.004</text>
<text x="412.5" y="310.3" font-size="1.4" font-family="Liberation Sans" fill="#555">0.003</text>
<text x="412.5" y="313.6" font-size="1.4" font-family="Liberation Sans" fill="#555">0.002</text>
<text x="412.5" y="316.9" font-size="1.4" font-family="Liberation Sans" fill="#555">0.001</text>
<text x="408.8" y="322.5" font-size="1.7" font-family="Liberation Sans" fill="#333">Count</text>
<circle cx="410.3" cy="324.6" r="0.5" fill="none" stroke="#555" stroke-width="0.25"/>
<text x="412.6" y="325.2" font-size="1.4" font-family="Liberation Sans" fill="#555">5</text>
<circle cx="410.3" cy="327.8" r="0.75" fill="none" stroke="#555" stroke-width="0.25"/>
<text x="412.6" y="328.4" font-size="1.4" font-family="Liberation Sans" fill="#555">10</text>
<circle cx="410.3" cy="331" r="1" fill="none" stroke="#555" stroke-width="0.25"/>
<text x="412.6" y="331.6" font-size="1.4" font-family="Liberation Sans" fill="#555">15</text>
<circle cx="410.3" cy="334.2" r="1.25" fill="none" stroke="#555" stroke-width="0.25"/>
<text x="412.6" y="334.8" font-size="1.4" font-family="Liberation Sans" fill="#555">20</text>
<circle cx="410.3" cy="337.4" r="1.5" fill="none" stroke="#555" stroke-width="0.25"/>
<text x="412.6" y="338" font-size="1.4" font-family="Liberation Sans" fill="#555">25</text>
<text transform="translate(418.3 150.8) scale(0.97 1)" font-size="14.6" font-family="Liberation Serif" font-weight="bold" fill="#000">G</text>
<rect x="439.1" y="141.5" width="242.4" height="59.7" fill="#fff" stroke="#999" stroke-width="0.6"/>
<line x1="438.1" y1="198.8" x2="439.1" y2="198.8" stroke="#333" stroke-width="0.35"/>
<text x="437.5" y="199.8" font-size="3" font-family="Liberation Serif" fill="#111" text-anchor="end">0</text>
<line x1="438.1" y1="186.7" x2="439.1" y2="186.7" stroke="#333" stroke-width="0.35"/>
<text x="437.5" y="187.7" font-size="3" font-family="Liberation Serif" fill="#111" text-anchor="end">1</text>
<line x1="438.1" y1="174.4" x2="439.1" y2="174.4" stroke="#333" stroke-width="0.35"/>
<text x="437.5" y="175.4" font-size="3" font-family="Liberation Serif" fill="#111" text-anchor="end">2</text>
<line x1="438.1" y1="162.6" x2="439.1" y2="162.6" stroke="#333" stroke-width="0.35"/>
<text x="437.5" y="163.6" font-size="3" font-family="Liberation Serif" fill="#111" text-anchor="end">3</text>
<line x1="438.1" y1="150.3" x2="439.1" y2="150.3" stroke="#333" stroke-width="0.35"/>
<text x="437.5" y="151.3" font-size="3" font-family="Liberation Serif" fill="#111" text-anchor="end">4</text>
<rect x="439.6" y="192.63" width="2.53" height="6.17" fill="#d64545"/>
<line x1="440.87" y1="189.31" x2="440.87" y2="195.95" stroke="#222" stroke-width="0.35"/>
<circle cx="440.48" cy="189.21" r="0.38" fill="#111"/>
<circle cx="440.79" cy="191.18" r="0.38" fill="#111"/>
<circle cx="441.06" cy="196.34" r="0.38" fill="#111"/>
<circle cx="440.73" cy="191.1" r="0.38" fill="#111"/>
<circle cx="440.93" cy="195.86" r="0.38" fill="#111"/>
<circle cx="440.7" cy="189.94" r="0.38" fill="#111"/>
<circle cx="440.82" cy="185.76" r="0.38" fill="#222"/>
<rect x="442.13" y="188.64" width="2.53" height="10.16" fill="#66c466"/>
<line x1="443.39" y1="185.24" x2="443.39" y2="192.03" stroke="#222" stroke-width="0.35"/>
<circle cx="443.26" cy="190.2" r="0.38" fill="#111"/>
<circle cx="443.39" cy="191.09" r="0.38" fill="#111"/>
<circle cx="443.16" cy="193.45" r="0.38" fill="#111"/>
<circle cx="443.79" cy="191.22" r="0.38" fill="#111"/>
<circle cx="443.79" cy="190.73" r="0.38" fill="#111"/>
<circle cx="443.08" cy="182.28" r="0.38" fill="#222"/>
<line x1="442.13" y1="201.2" x2="442.13" y2="202.4" stroke="#333" stroke-width="0.35"/>
<text x="443.03" y="203.6" font-size="3.3" font-family="Liberation Serif" fill="#1a1a1a" text-anchor="end" font-weight="bold" transform="rotate(-45 443.03 203.6)">TRAJ33-1</text>
<rect x="445.1" y="176.29" width="2.53" height="22.51" fill="#d64545"/>
<line x1="446.37" y1="169.74" x2="446.37" y2="182.85" stroke="#222" stroke-width="0.35"/>
<circle cx="446.91" cy="175.53" r="0.38" fill="#111"/>
<circle cx="445.97" cy="185.99" r="0.38" fill="#111"/>
<circle cx="446.47" cy="183.34" r="0.38" fill="#111"/>
<circle cx="446.39" cy="175.94" r="0.38" fill="#111"/>
<circle cx="446.34" cy="185.11" r="0.38" fill="#111"/>
<circle cx="446.36" cy="179.07" r="0.38" fill="#111"/>
<circle cx="446.62" cy="167.59" r="0.38" fill="#222"/>
<rect x="447.63" y="180.41" width="2.53" height="18.39" fill="#66c466"/>
<line x1="448.89" y1="171.99" x2="448.89" y2="188.82" stroke="#222" stroke-width="0.35"/>
<circle cx="448.82" cy="192.49" r="0.38" fill="#111"/>
<circle cx="448.33" cy="173.17" r="0.38" fill="#111"/>
<circle cx="448.49" cy="187.61" r="0.38" fill="#111"/>
<circle cx="448.88" cy="169.61" r="0.38" fill="#222"/>
<line x1="447.63" y1="201.2" x2="447.63" y2="202.4" stroke="#333" stroke-width="0.35"/>
<text x="448.53" y="203.6" font-size="3.3" font-family="Liberation Serif" fill="#1a1a1a" text-anchor="end" font-weight="bold" transform="rotate(-45 448.53 203.6)">TRBV19-01</text>
<rect x="450.6" y="192.63" width="2.53" height="6.17" fill="#d64545"/>
<line x1="451.87" y1="189.41" x2="451.87" y2="195.85" stroke="#222" stroke-width="0.35"/>
<circle cx="451.7" cy="193.52" r="0.38" fill="#111"/>
<circle cx="451.87" cy="193.3" r="0.38" fill="#111"/>
<circle cx="451.36" cy="197.06" r="0.38" fill="#111"/>
<circle cx="451.35" cy="189.6" r="0.38" fill="#111"/>
<circle cx="452.03" cy="192.55" r="0.38" fill="#111"/>
<circle cx="451.92" cy="192.85" r="0.38" fill="#111"/>
<rect x="453.13" y="192.63" width="2.53" height="6.17" fill="#66c466"/>
<line x1="454.39" y1="190.54" x2="454.39" y2="194.71" stroke="#222" stroke-width="0.35"/>
<circle cx="454.29" cy="191.84" r="0.38" fill="#111"/>
<circle cx="453.96" cy="191.27" r="0.38" fill="#111"/>
<circle cx="454.96" cy="193.71" r="0.38" fill="#111"/>
<circle cx="454.1" cy="195.91" r="0.38" fill="#111"/>
<circle cx="453.88" cy="191.45" r="0.38" fill="#111"/>
<circle cx="454.36" cy="193.39" r="0.38" fill="#111"/>
<line x1="453.13" y1="201.2" x2="453.13" y2="202.4" stroke="#333" stroke-width="0.35"/>
<text x="454.03" y="203.6" font-size="3.3" font-family="Liberation Serif" fill="#1a1a1a" text-anchor="end" font-weight="bold" transform="rotate(-45 454.03 203.6)">TRBV15-01</text>
<rect x="456.1" y="183.43" width="2.53" height="15.37" fill="#d64545"/>
<line x1="457.37" y1="179.22" x2="457.37" y2="187.64" stroke="#222" stroke-width="0.35"/>
<circle cx="457.05" cy="180.66" r="0.38" fill="#111"/>
<circle cx="456.96" cy="185.78" r="0.38" fill="#111"/>
<circle cx="457.9" cy="183.59" r="0.38" fill="#111"/>
<circle cx="457.53" cy="186.75" r="0.38" fill="#111"/>
<circle cx="457.39" cy="170.64" r="0.38" fill="#222"/>
<rect x="458.63" y="184.52" width="2.53" height="14.28" fill="#66c466"/>
<line x1="459.89" y1="177.53" x2="459.89" y2="191.51" stroke="#222" stroke-width="0.35"/>
<circle cx="459.76" cy="194.76" r="0.38" fill="#111"/>
<circle cx="460.01" cy="191.47" r="0.38" fill="#111"/>
<circle cx="460.3" cy="184.06" r="0.38" fill="#111"/>
<circle cx="460.38" cy="189.87" r="0.38" fill="#111"/>
<circle cx="459.79" cy="191.66" r="0.38" fill="#111"/>
<line x1="458.63" y1="201.2" x2="458.63" y2="202.4" stroke="#333" stroke-width="0.35"/>
<text x="459.53" y="203.6" font-size="3.3" font-family="Liberation Serif" fill="#1a1a1a" text-anchor="end" font-weight="bold" transform="rotate(-45 459.53 203.6)">TRBV3-1.1</text>
<rect x="461.6" y="177.99" width="2.53" height="20.81" fill="#d64545"/>
<line x1="462.87" y1="171.29" x2="462.87" y2="184.68" stroke="#222" stroke-width="0.35"/>
<circle cx="462.47" cy="177.67" r="0.38" fill="#111"/>
<circle cx="462.27" cy="183.36" r="0.38" fill="#111"/>
<circle cx="462.32" cy="186.5" r="0.38" fill="#111"/>
<circle cx="463.11" cy="165.52" r="0.38" fill="#222"/>
<rect x="464.13" y="181.01" width="2.53" height="17.79" fill="#66c466"/>
<line x1="465.39" y1="175.52" x2="465.39" y2="186.5" stroke="#222" stroke-width="0.35"/>
<circle cx="465.18" cy="187.82" r="0.38" fill="#111"/>
<circle cx="464.8" cy="182.63" r="0.38" fill="#111"/>
<circle cx="465.77" cy="180.24" r="0.38" fill="#111"/>
<circle cx="465.79" cy="185.38" r="0.38" fill="#111"/>
<circle cx="465.7" cy="189.03" r="0.38" fill="#111"/>
<circle cx="464.83" cy="186.21" r="0.38" fill="#111"/>
<line x1="464.13" y1="201.2" x2="464.13" y2="202.4" stroke="#333" stroke-width="0.35"/>
<text x="465.03" y="203.6" font-size="3.3" font-family="Liberation Serif" fill="#1a1a1a" text-anchor="end" font-weight="bold" transform="rotate(-45 465.03 203.6)">TRBV5-6.1</text>
<rect x="467.1" y="189.85" width="2.53" height="8.95" fill="#d64545"/>
<line x1="468.37" y1="186.05" x2="468.37" y2="193.64" stroke="#222" stroke-width="0.35"/>
<circle cx="468.9" cy="194.39" r="0.38" fill="#111"/>
<circle cx="468.62" cy="191.33" r="0.38" fill="#111"/>
<circle cx="468.24" cy="189.38" r="0.38" fill="#111"/>
<rect x="469.63" y="190.57" width="2.53" height="8.23" fill="#66c466"/>
<line x1="470.89" y1="186.79" x2="470.89" y2="194.35" stroke="#222" stroke-width="0.35"/>
<circle cx="470.74" cy="191.6" r="0.38" fill="#111"/>
<circle cx="471.2" cy="191.57" r="0.38" fill="#111"/>
<circle cx="471.35" cy="195.07" r="0.38" fill="#111"/>
<circle cx="471.13" cy="194.19" r="0.38" fill="#111"/>
<circle cx="471.22" cy="179.95" r="0.38" fill="#222"/>
<line x1="469.63" y1="201.2" x2="469.63" y2="202.4" stroke="#333" stroke-width="0.35"/>
<text x="470.53" y="203.6" font-size="3.3" font-family="Liberation Serif" fill="#1a1a1a" text-anchor="end" font-weight="bold" transform="rotate(-45 470.53 203.6)">TRAV12-1.1</text>
<rect x="472.6" y="184.04" width="2.53" height="14.76" fill="#d64545"/>
<line x1="473.87" y1="178.96" x2="473.87" y2="189.11" stroke="#222" stroke-width="0.35"/>
<circle cx="473.98" cy="182.71" r="0.38" fill="#111"/>
<circle cx="474.19" cy="187.04" r="0.38" fill="#111"/>
<circle cx="473.92" cy="187.55" r="0.38" fill="#111"/>
<circle cx="473.9" cy="185.46" r="0.38" fill="#111"/>
<circle cx="473.64" cy="179.98" r="0.38" fill="#111"/>
<circle cx="474" cy="179.39" r="0.38" fill="#111"/>
<rect x="475.13" y="182.47" width="2.53" height="16.34" fill="#66c466"/>
<line x1="476.39" y1="176.54" x2="476.39" y2="188.39" stroke="#222" stroke-width="0.35"/>
<circle cx="475.91" cy="188.12" r="0.38" fill="#111"/>
<circle cx="475.97" cy="191.82" r="0.38" fill="#111"/>
<circle cx="476.71" cy="179.28" r="0.38" fill="#111"/>
<circle cx="475.98" cy="190.53" r="0.38" fill="#111"/>
<circle cx="476.41" cy="190.98" r="0.38" fill="#111"/>
<circle cx="476.45" cy="177.94" r="0.38" fill="#111"/>
<circle cx="476.54" cy="168.63" r="0.38" fill="#222"/>
<line x1="475.13" y1="201.2" x2="475.13" y2="202.4" stroke="#333" stroke-width="0.35"/>
<text x="476.03" y="203.6" font-size="3.3" font-family="Liberation Serif" fill="#1a1a1a" text-anchor="end" font-weight="bold" transform="rotate(-45 476.03 203.6)">TRBV28-01</text>
<rect x="478.1" y="188.64" width="2.53" height="10.16" fill="#d64545"/>
<line x1="479.37" y1="183.88" x2="479.37" y2="193.39" stroke="#222" stroke-width="0.35"/>
<circle cx="479.64" cy="192.07" r="0.38" fill="#111"/>
<circle cx="479.77" cy="194.56" r="0.38" fill="#111"/>
<circle cx="479.89" cy="189.77" r="0.38" fill="#111"/>
<rect x="480.63" y="187.79" width="2.53" height="11.01" fill="#66c466"/>
<line x1="481.89" y1="184.44" x2="481.89" y2="191.13" stroke="#222" stroke-width="0.35"/>
<circle cx="482.27" cy="185.22" r="0.38" fill="#111"/>
<circle cx="482.38" cy="188.3" r="0.38" fill="#111"/>
<circle cx="481.47" cy="190.39" r="0.38" fill="#111"/>
<circle cx="481.53" cy="189.42" r="0.38" fill="#111"/>
<circle cx="481.45" cy="172.96" r="0.38" fill="#222"/>
<line x1="480.63" y1="201.2" x2="480.63" y2="202.4" stroke="#333" stroke-width="0.35"/>
<text x="481.53" y="203.6" font-size="3.3" font-family="Liberation Serif" fill="#1a1a1a" text-anchor="end" font-weight="bold" transform="rotate(-45 481.53 203.6)">TRBV27-01</text>
<rect x="483.6" y="183.68" width="2.53" height="15.12" fill="#d64545"/>
<line x1="484.87" y1="177.92" x2="484.87" y2="189.43" stroke="#222" stroke-width="0.35"/>
<circle cx="484.6" cy="189.35" r="0.38" fill="#111"/>
<circle cx="484.54" cy="188.82" r="0.38" fill="#111"/>
<circle cx="485.29" cy="182.06" r="0.38" fill="#111"/>
<circle cx="485.27" cy="180.39" r="0.38" fill="#111"/>
<circle cx="484.3" cy="185.9" r="0.38" fill="#111"/>
<circle cx="484.91" cy="184.65" r="0.38" fill="#111"/>
<circle cx="484.74" cy="171.58" r="0.38" fill="#222"/>
<rect x="486.13" y="185.73" width="2.53" height="13.07" fill="#66c466"/>
<line x1="487.39" y1="180.97" x2="487.39" y2="190.49" stroke="#222" stroke-width="0.35"/>
<circle cx="487.87" cy="185.47" r="0.38" fill="#111"/>
<circle cx="487.69" cy="184.26" r="0.38" fill="#111"/>
<circle cx="487.5" cy="182.49" r="0.38" fill="#111"/>
<circle cx="487.79" cy="190.1" r="0.38" fill="#111"/>
<circle cx="487.69" cy="181.16" r="0.38" fill="#111"/>
<circle cx="487.95" cy="182.48" r="0.38" fill="#111"/>
<circle cx="487.75" cy="178.16" r="0.38" fill="#222"/>
<line x1="486.13" y1="201.2" x2="486.13" y2="202.4" stroke="#333" stroke-width="0.35"/>
<text x="487.03" y="203.6" font-size="3.3" font-family="Liberation Serif" fill="#1a1a1a" text-anchor="end" font-weight="bold" transform="rotate(-45 487.03 203.6)">TRBV11-2</text>
<rect x="489.1" y="190.57" width="2.53" height="8.23" fill="#d64545"/>
<line x1="490.37" y1="186.3" x2="490.37" y2="194.85" stroke="#222" stroke-width="0.35"/>
<circle cx="490.86" cy="188.42" r="0.38" fill="#111"/>
<circle cx="490.63" cy="194.99" r="0.38" fill="#111"/>
<circle cx="490.04" cy="190.81" r="0.38" fill="#111"/>
<rect x="491.63" y="193.23" width="2.53" height="5.57" fill="#66c466"/>
<line x1="492.89" y1="190.34" x2="492.89" y2="196.13" stroke="#222" stroke-width="0.35"/>
<circle cx="492.37" cy="195.61" r="0.38" fill="#111"/>
<circle cx="492.64" cy="193.66" r="0.38" fill="#111"/>
<circle cx="493.1" cy="194.22" r="0.38" fill="#111"/>
<line x1="491.63" y1="201.2" x2="491.63" y2="202.4" stroke="#333" stroke-width="0.35"/>
<text x="492.53" y="203.6" font-size="3.3" font-family="Liberation Serif" fill="#1a1a1a" text-anchor="end" font-weight="bold" transform="rotate(-45 492.53 203.6)">TRBV7-8.1</text>
<rect x="494.6" y="186.09" width="2.53" height="12.71" fill="#d64545"/>
<line x1="495.87" y1="182.95" x2="495.87" y2="189.24" stroke="#222" stroke-width="0.35"/>
<circle cx="495.37" cy="187.77" r="0.38" fill="#111"/>
<circle cx="495.73" cy="191.04" r="0.38" fill="#111"/>
<circle cx="495.31" cy="184.51" r="0.38" fill="#111"/>
<circle cx="496.32" cy="186.32" r="0.38" fill="#111"/>
<circle cx="496.18" cy="183.08" r="0.38" fill="#111"/>
<rect x="497.13" y="185.73" width="2.53" height="13.07" fill="#66c466"/>
<line x1="498.39" y1="182.41" x2="498.39" y2="189.06" stroke="#222" stroke-width="0.35"/>
<circle cx="498.55" cy="183.81" r="0.38" fill="#111"/>
<circle cx="498" cy="185.31" r="0.38" fill="#111"/>
<circle cx="498.57" cy="184.54" r="0.38" fill="#111"/>
<circle cx="498" cy="172.1" r="0.38" fill="#222"/>
<line x1="497.13" y1="201.2" x2="497.13" y2="202.4" stroke="#333" stroke-width="0.35"/>
<text x="498.03" y="203.6" font-size="3.3" font-family="Liberation Serif" fill="#1a1a1a" text-anchor="end" font-weight="bold" transform="rotate(-45 498.03 203.6)">TRBV20-1</text>
<rect x="500.1" y="198.44" width="2.53" height="0.36" fill="#d64545"/>
<line x1="502.63" y1="201.2" x2="502.63" y2="202.4" stroke="#333" stroke-width="0.35"/>
<text x="503.53" y="203.6" font-size="3.3" font-family="Liberation Serif" fill="#1a1a1a" text-anchor="end" font-weight="bold" transform="rotate(-45 503.53 203.6)">TRBV5-1.1</text>
<rect x="505.6" y="188.64" width="2.53" height="10.16" fill="#d64545"/>
<line x1="506.87" y1="183.93" x2="506.87" y2="193.34" stroke="#222" stroke-width="0.35"/>
<circle cx="507.19" cy="194.15" r="0.38" fill="#111"/>
<circle cx="507.07" cy="190.89" r="0.38" fill="#111"/>
<circle cx="507.14" cy="187.77" r="0.38" fill="#111"/>
<rect x="508.13" y="183.07" width="2.53" height="15.73" fill="#66c466"/>
<line x1="509.39" y1="177.2" x2="509.39" y2="188.94" stroke="#222" stroke-width="0.35"/>
<circle cx="508.92" cy="188.22" r="0.38" fill="#111"/>
<circle cx="509.74" cy="192.11" r="0.38" fill="#111"/>
<circle cx="508.81" cy="178.33" r="0.38" fill="#111"/>
<circle cx="509.73" cy="189.48" r="0.38" fill="#111"/>
<circle cx="509.82" cy="169.25" r="0.38" fill="#222"/>
<line x1="508.13" y1="201.2" x2="508.13" y2="202.4" stroke="#333" stroke-width="0.35"/>
<text x="509.03" y="203.6" font-size="3.3" font-family="Liberation Serif" fill="#1a1a1a" text-anchor="end" font-weight="bold" transform="rotate(-45 509.03 203.6)">TRBV9-01</text>
<rect x="511.1" y="194.32" width="2.53" height="4.48" fill="#d64545"/>
<line x1="512.37" y1="192.25" x2="512.37" y2="196.39" stroke="#222" stroke-width="0.35"/>
<circle cx="512.13" cy="193.87" r="0.38" fill="#111"/>
<circle cx="512.14" cy="196.64" r="0.38" fill="#111"/>
<circle cx="512.72" cy="196.81" r="0.38" fill="#111"/>
<rect x="513.63" y="193.96" width="2.53" height="4.84" fill="#66c466"/>
<line x1="514.89" y1="192.2" x2="514.89" y2="195.72" stroke="#222" stroke-width="0.35"/>
<circle cx="514.92" cy="195.99" r="0.38" fill="#111"/>
<circle cx="515.35" cy="193.69" r="0.38" fill="#111"/>
<circle cx="514.8" cy="196.7" r="0.38" fill="#111"/>
<circle cx="514.72" cy="189.97" r="0.38" fill="#222"/>
<line x1="513.63" y1="201.2" x2="513.63" y2="202.4" stroke="#333" stroke-width="0.35"/>
<text x="514.53" y="203.6" font-size="3.3" font-family="Liberation Serif" fill="#1a1a1a" text-anchor="end" font-weight="bold" transform="rotate(-45 514.53 203.6)">TRBV30-01</text>
<rect x="516.6" y="190.57" width="2.53" height="8.23" fill="#d64545"/>
<line x1="517.87" y1="186.53" x2="517.87" y2="194.61" stroke="#222" stroke-width="0.35"/>
<circle cx="518.04" cy="189.63" r="0.38" fill="#111"/>
<circle cx="518.46" cy="195.37" r="0.38" fill="#111"/>
<circle cx="517.82" cy="188.02" r="0.38" fill="#111"/>
<circle cx="517.8" cy="193.19" r="0.38" fill="#111"/>
<circle cx="517.81" cy="191.9" r="0.38" fill="#111"/>
<circle cx="517.95" cy="190.6" r="0.38" fill="#111"/>
<circle cx="517.66" cy="180.95" r="0.38" fill="#222"/>
<rect x="519.13" y="189.24" width="2.53" height="9.56" fill="#66c466"/>
<line x1="520.39" y1="184.86" x2="520.39" y2="193.62" stroke="#222" stroke-width="0.35"/>
<circle cx="520.27" cy="195.21" r="0.38" fill="#111"/>
<circle cx="520.18" cy="194.84" r="0.38" fill="#111"/>
<circle cx="520.13" cy="194.74" r="0.38" fill="#111"/>
<circle cx="520.25" cy="190.17" r="0.38" fill="#111"/>
<line x1="519.13" y1="201.2" x2="519.13" y2="202.4" stroke="#333" stroke-width="0.35"/>
<text x="520.03" y="203.6" font-size="3.3" font-family="Liberation Serif" fill="#1a1a1a" text-anchor="end" font-weight="bold" transform="rotate(-45 520.03 203.6)">TRBV13-01</text>
<rect x="522.1" y="181.62" width="2.53" height="17.18" fill="#d64545"/>
<line x1="523.37" y1="175.64" x2="523.37" y2="187.6" stroke="#222" stroke-width="0.35"/>
<circle cx="523.38" cy="187.43" r="0.38" fill="#111"/>
<circle cx="523.05" cy="179.1" r="0.38" fill="#111"/>
<circle cx="523.74" cy="185.63" r="0.38" fill="#111"/>
<circle cx="523.77" cy="170.22" r="0.38" fill="#222"/>
<rect x="524.63" y="183.68" width="2.53" height="15.12" fill="#66c466"/>
<line x1="525.89" y1="176.34" x2="525.89" y2="191.01" stroke="#222" stroke-width="0.35"/>
<circle cx="526.22" cy="195.13" r="0.38" fill="#111"/>
<circle cx="526" cy="179.23" r="0.38" fill="#111"/>
<circle cx="526.47" cy="193.47" r="0.38" fill="#111"/>
<circle cx="526.45" cy="192.06" r="0.38" fill="#111"/>
<circle cx="526.02" cy="190.15" r="0.38" fill="#111"/>
<line x1="524.63" y1="201.2" x2="524.63" y2="202.4" stroke="#333" stroke-width="0.35"/>
<text x="525.53" y="203.6" font-size="3.3" font-family="Liberation Serif" fill="#1a1a1a" text-anchor="end" font-weight="bold" transform="rotate(-45 525.53 203.6)">TRAV38-2DV8</text>
<rect x="527.6" y="195.9" width="2.53" height="2.9" fill="#d64545"/>
<line x1="528.87" y1="194.3" x2="528.87" y2="197.49" stroke="#222" stroke-width="0.35"/>
<circle cx="528.93" cy="197.69" r="0.38" fill="#111"/>
<circle cx="529.15" cy="194.44" r="0.38" fill="#111"/>
<circle cx="528.53" cy="198.02" r="0.38" fill="#111"/>
<circle cx="528.5" cy="195.96" r="0.38" fill="#111"/>
<circle cx="529.26" cy="195.13" r="0.38" fill="#111"/>
<circle cx="528.95" cy="195.58" r="0.38" fill="#111"/>
<rect x="530.13" y="194.93" width="2.53" height="3.87" fill="#66c466"/>
<line x1="531.39" y1="193.53" x2="531.39" y2="196.33" stroke="#222" stroke-width="0.35"/>
<circle cx="531.94" cy="195.04" r="0.38" fill="#111"/>
<circle cx="531.88" cy="193.56" r="0.38" fill="#111"/>
<circle cx="531.18" cy="196.08" r="0.38" fill="#111"/>
<circle cx="531.6" cy="192.19" r="0.38" fill="#222"/>
<line x1="530.13" y1="201.2" x2="530.13" y2="202.4" stroke="#333" stroke-width="0.35"/>
<text x="531.03" y="203.6" font-size="3.3" font-family="Liberation Serif" fill="#1a1a1a" text-anchor="end" font-weight="bold" transform="rotate(-45 531.03 203.6)">TRAV1-2.1</text>
<rect x="533.1" y="192.27" width="2.53" height="6.53" fill="#d64545"/>
<line x1="534.37" y1="189.88" x2="534.37" y2="194.65" stroke="#222" stroke-width="0.35"/>
<circle cx="534.01" cy="194.27" r="0.38" fill="#111"/>
<circle cx="534.67" cy="194.4" r="0.38" fill="#111"/>
<circle cx="534.83" cy="192.35" r="0.38" fill="#111"/>
<circle cx="534.06" cy="178.45" r="0.38" fill="#222"/>
<rect x="535.63" y="191.9" width="2.53" height="6.9" fill="#66c466"/>
<line x1="536.89" y1="189.5" x2="536.89" y2="194.3" stroke="#222" stroke-width="0.35"/>
<circle cx="537.07" cy="193.14" r="0.38" fill="#111"/>
<circle cx="537.11" cy="194.26" r="0.38" fill="#111"/>
<circle cx="537.49" cy="195.18" r="0.38" fill="#111"/>
<circle cx="537.23" cy="194.9" r="0.38" fill="#111"/>
<circle cx="537.38" cy="189.71" r="0.38" fill="#111"/>
<line x1="535.63" y1="201.2" x2="535.63" y2="202.4" stroke="#333" stroke-width="0.35"/>
<text x="536.53" y="203.6" font-size="3.3" font-family="Liberation Serif" fill="#1a1a1a" text-anchor="end" font-weight="bold" transform="rotate(-45 536.53 203.6)">TRBV4-1.1</text>
<rect x="538.6" y="195.9" width="2.53" height="2.9" fill="#d64545"/>
<line x1="539.87" y1="194.69" x2="539.87" y2="197.1" stroke="#222" stroke-width="0.35"/>
<circle cx="540.17" cy="196.46" r="0.38" fill="#111"/>
<circle cx="539.39" cy="194.97" r="0.38" fill="#111"/>
<circle cx="539.31" cy="196" r="0.38" fill="#111"/>
<circle cx="539.49" cy="195.14" r="0.38" fill="#111"/>
<circle cx="539.41" cy="188.9" r="0.38" fill="#222"/>
<rect x="541.13" y="194.69" width="2.53" height="4.11" fill="#66c466"/>
<line x1="542.39" y1="193.25" x2="542.39" y2="196.12" stroke="#222" stroke-width="0.35"/>
<circle cx="542.09" cy="193.35" r="0.38" fill="#111"/>
<circle cx="542.13" cy="196.22" r="0.38" fill="#111"/>
<circle cx="542.6" cy="195.94" r="0.38" fill="#111"/>
<circle cx="542.55" cy="195.79" r="0.38" fill="#111"/>
<circle cx="542.47" cy="195.1" r="0.38" fill="#111"/>
<circle cx="542.71" cy="193.15" r="0.38" fill="#111"/>
<circle cx="542.05" cy="190.58" r="0.38" fill="#222"/>
<line x1="541.13" y1="201.2" x2="541.13" y2="202.4" stroke="#333" stroke-width="0.35"/>
<text x="542.03" y="203.6" font-size="3.3" font-family="Liberation Serif" fill="#1a1a1a" text-anchor="end" font-weight="bold" transform="rotate(-45 542.03 203.6)">TRBV7-2.1</text>
<rect x="544.1" y="195.53" width="2.53" height="3.27" fill="#d64545"/>
<line x1="545.37" y1="193.65" x2="545.37" y2="197.41" stroke="#222" stroke-width="0.35"/>
<circle cx="545.4" cy="195.94" r="0.38" fill="#111"/>
<circle cx="545.64" cy="197.51" r="0.38" fill="#111"/>
<circle cx="545.66" cy="197.1" r="0.38" fill="#111"/>
<circle cx="545.94" cy="195.81" r="0.38" fill="#111"/>
<circle cx="545.23" cy="194.57" r="0.38" fill="#111"/>
<circle cx="545.74" cy="195.54" r="0.38" fill="#111"/>
<circle cx="545.76" cy="185.25" r="0.38" fill="#222"/>
<rect x="546.63" y="195.17" width="2.53" height="3.63" fill="#66c466"/>
<line x1="547.89" y1="193.31" x2="547.89" y2="197.03" stroke="#222" stroke-width="0.35"/>
<circle cx="548.12" cy="193.78" r="0.38" fill="#111"/>
<circle cx="547.82" cy="194.95" r="0.38" fill="#111"/>
<circle cx="548.46" cy="193.9" r="0.38" fill="#111"/>
<circle cx="547.46" cy="194.52" r="0.38" fill="#111"/>
<circle cx="547.71" cy="190.23" r="0.38" fill="#222"/>
<line x1="546.63" y1="201.2" x2="546.63" y2="202.4" stroke="#333" stroke-width="0.35"/>
<text x="547.53" y="203.6" font-size="3.3" font-family="Liberation Serif" fill="#1a1a1a" text-anchor="end" font-weight="bold" transform="rotate(-45 547.53 203.6)">TRBV6-1.1</text>
<rect x="549.6" y="190.21" width="2.53" height="8.59" fill="#d64545"/>
<line x1="550.87" y1="186.4" x2="550.87" y2="194.02" stroke="#222" stroke-width="0.35"/>
<circle cx="551.3" cy="189.85" r="0.38" fill="#111"/>
<circle cx="550.7" cy="192.27" r="0.38" fill="#111"/>
<circle cx="550.69" cy="191.61" r="0.38" fill="#111"/>
<circle cx="550.47" cy="188.67" r="0.38" fill="#111"/>
<circle cx="550.82" cy="188.43" r="0.38" fill="#111"/>
<circle cx="550.68" cy="188.49" r="0.38" fill="#111"/>
<circle cx="550.6" cy="176.33" r="0.38" fill="#222"/>
<rect x="552.13" y="189.6" width="2.53" height="9.2" fill="#66c466"/>
<line x1="553.39" y1="185.62" x2="553.39" y2="193.58" stroke="#222" stroke-width="0.35"/>
<circle cx="553.37" cy="194.73" r="0.38" fill="#111"/>
<circle cx="553.93" cy="191.62" r="0.38" fill="#111"/>
<circle cx="553.88" cy="186.85" r="0.38" fill="#111"/>
<circle cx="553.77" cy="191.51" r="0.38" fill="#111"/>
<circle cx="553.59" cy="186.72" r="0.38" fill="#111"/>
<line x1="552.13" y1="201.2" x2="552.13" y2="202.4" stroke="#333" stroke-width="0.35"/>
<text x="553.03" y="203.6" font-size="3.3" font-family="Liberation Serif" fill="#1a1a1a" text-anchor="end" font-weight="bold" transform="rotate(-45 553.03 203.6)">TRBV10-2</text>
<rect x="555.1" y="193.96" width="2.53" height="4.84" fill="#d64545"/>
<line x1="556.37" y1="192.03" x2="556.37" y2="195.89" stroke="#222" stroke-width="0.35"/>
<circle cx="556.5" cy="196.78" r="0.38" fill="#111"/>
<circle cx="555.86" cy="196.66" r="0.38" fill="#111"/>
<circle cx="555.83" cy="195.21" r="0.38" fill="#111"/>
<circle cx="555.81" cy="194.31" r="0.38" fill="#111"/>
<circle cx="556.88" cy="194.66" r="0.38" fill="#111"/>
<rect x="557.63" y="194.32" width="2.53" height="4.48" fill="#66c466"/>
<line x1="558.89" y1="191.77" x2="558.89" y2="196.87" stroke="#222" stroke-width="0.35"/>
<circle cx="558.46" cy="192.66" r="0.38" fill="#111"/>
<circle cx="559.14" cy="196.88" r="0.38" fill="#111"/>
<circle cx="558.88" cy="193.78" r="0.38" fill="#111"/>
<circle cx="558.89" cy="193.97" r="0.38" fill="#111"/>
<circle cx="558.68" cy="180.24" r="0.38" fill="#222"/>
<line x1="557.63" y1="201.2" x2="557.63" y2="202.4" stroke="#333" stroke-width="0.35"/>
<text x="558.53" y="203.6" font-size="3.3" font-family="Liberation Serif" fill="#1a1a1a" text-anchor="end" font-weight="bold" transform="rotate(-45 558.53 203.6)">TRAV8-6.1</text>
<rect x="560.6" y="188.15" width="2.53" height="10.65" fill="#d64545"/>
<line x1="561.87" y1="184.57" x2="561.87" y2="191.73" stroke="#222" stroke-width="0.35"/>
<circle cx="561.47" cy="184.54" r="0.38" fill="#111"/>
<circle cx="561.62" cy="187.81" r="0.38" fill="#111"/>
<circle cx="562.41" cy="185.94" r="0.38" fill="#111"/>
<circle cx="562.09" cy="188.74" r="0.38" fill="#111"/>
<circle cx="562.42" cy="188.2" r="0.38" fill="#111"/>
<circle cx="561.82" cy="188.62" r="0.38" fill="#111"/>
<rect x="563.13" y="186.58" width="2.53" height="12.22" fill="#66c466"/>
<line x1="564.39" y1="182.67" x2="564.39" y2="190.49" stroke="#222" stroke-width="0.35"/>
<circle cx="564.45" cy="185.29" r="0.38" fill="#111"/>
<circle cx="564.19" cy="190.33" r="0.38" fill="#111"/>
<circle cx="564.33" cy="184.1" r="0.38" fill="#111"/>
<circle cx="563.83" cy="192.66" r="0.38" fill="#111"/>
<circle cx="564.06" cy="185.48" r="0.38" fill="#111"/>
<line x1="563.13" y1="201.2" x2="563.13" y2="202.4" stroke="#333" stroke-width="0.35"/>
<text x="564.03" y="203.6" font-size="3.3" font-family="Liberation Serif" fill="#1a1a1a" text-anchor="end" font-weight="bold" transform="rotate(-45 564.03 203.6)">TRBV29-1</text>
<rect x="566.1" y="183.68" width="2.53" height="15.12" fill="#d64545"/>
<line x1="567.37" y1="177.08" x2="567.37" y2="190.27" stroke="#222" stroke-width="0.35"/>
<circle cx="567.03" cy="186.89" r="0.38" fill="#111"/>
<circle cx="567.66" cy="185.9" r="0.38" fill="#111"/>
<circle cx="566.79" cy="182.34" r="0.38" fill="#111"/>
<circle cx="567.37" cy="193.69" r="0.38" fill="#111"/>
<rect x="568.63" y="181.62" width="2.53" height="17.18" fill="#66c466"/>
<line x1="569.89" y1="174.96" x2="569.89" y2="188.28" stroke="#222" stroke-width="0.35"/>
<circle cx="570.22" cy="192.09" r="0.38" fill="#111"/>
<circle cx="570.32" cy="183.93" r="0.38" fill="#111"/>
<circle cx="570.01" cy="189.08" r="0.38" fill="#111"/>
<circle cx="570.4" cy="178.17" r="0.38" fill="#111"/>
<circle cx="569.31" cy="185.7" r="0.38" fill="#111"/>
<circle cx="569.5" cy="169.44" r="0.38" fill="#222"/>
<line x1="568.63" y1="201.2" x2="568.63" y2="202.4" stroke="#333" stroke-width="0.35"/>
<text x="569.53" y="203.6" font-size="3.3" font-family="Liberation Serif" fill="#1a1a1a" text-anchor="end" font-weight="bold" transform="rotate(-45 569.53 203.6)">TRBV2-01</text>
<rect x="571.6" y="187.79" width="2.53" height="11.01" fill="#d64545"/>
<line x1="572.87" y1="182.7" x2="572.87" y2="192.88" stroke="#222" stroke-width="0.35"/>
<circle cx="572.63" cy="193.48" r="0.38" fill="#111"/>
<circle cx="572.84" cy="185.39" r="0.38" fill="#111"/>
<circle cx="572.52" cy="195.02" r="0.38" fill="#111"/>
<circle cx="573.29" cy="183.21" r="0.38" fill="#111"/>
<circle cx="572.88" cy="182.35" r="0.38" fill="#111"/>
<circle cx="572.95" cy="195.71" r="0.38" fill="#111"/>
<circle cx="572.67" cy="173.45" r="0.38" fill="#222"/>
<rect x="574.13" y="185.73" width="2.53" height="13.07" fill="#66c466"/>
<line x1="575.39" y1="180.3" x2="575.39" y2="191.16" stroke="#222" stroke-width="0.35"/>
<circle cx="575.86" cy="189.5" r="0.38" fill="#111"/>
<circle cx="575.64" cy="191.09" r="0.38" fill="#111"/>
<circle cx="575.19" cy="192.41" r="0.38" fill="#111"/>
<circle cx="575.04" cy="175.51" r="0.38" fill="#222"/>
<line x1="574.13" y1="201.2" x2="574.13" y2="202.4" stroke="#333" stroke-width="0.35"/>
<text x="575.03" y="203.6" font-size="3.3" font-family="Liberation Serif" fill="#1a1a1a" text-anchor="end" font-weight="bold" transform="rotate(-45 575.03 203.6)">TRBV14-01</text>
<rect x="577.1" y="195.29" width="2.53" height="3.51" fill="#d64545"/>
<line x1="578.37" y1="193.21" x2="578.37" y2="197.37" stroke="#222" stroke-width="0.35"/>
<circle cx="577.95" cy="195.63" r="0.38" fill="#111"/>
<circle cx="578.11" cy="193.34" r="0.38" fill="#111"/>
<circle cx="578.49" cy="196.91" r="0.38" fill="#111"/>
<circle cx="578.59" cy="184.46" r="0.38" fill="#222"/>
<rect x="579.63" y="194.69" width="2.53" height="4.11" fill="#66c466"/>
<line x1="580.89" y1="192.37" x2="580.89" y2="197" stroke="#222" stroke-width="0.35"/>
<circle cx="581.24" cy="196.5" r="0.38" fill="#111"/>
<circle cx="581.36" cy="192.86" r="0.38" fill="#111"/>
<circle cx="580.91" cy="193.51" r="0.38" fill="#111"/>
<line x1="579.63" y1="201.2" x2="579.63" y2="202.4" stroke="#333" stroke-width="0.35"/>
<text x="580.53" y="203.6" font-size="3.3" font-family="Liberation Serif" fill="#1a1a1a" text-anchor="end" font-weight="bold" transform="rotate(-45 580.53 203.6)">TRBV7-6.1</text>
<rect x="582.6" y="197.95" width="2.53" height="0.85" fill="#d64545"/>
<line x1="583.87" y1="197.07" x2="583.87" y2="198.63" stroke="#222" stroke-width="0.35"/>
<circle cx="584.39" cy="197.17" r="0.38" fill="#111"/>
<circle cx="583.47" cy="198.54" r="0.38" fill="#111"/>
<circle cx="584.21" cy="198.24" r="0.38" fill="#111"/>
<circle cx="584.02" cy="197.93" r="0.38" fill="#111"/>
<rect x="585.13" y="197.95" width="2.53" height="0.85" fill="#66c466"/>
<line x1="586.39" y1="197.06" x2="586.39" y2="198.63" stroke="#222" stroke-width="0.35"/>
<circle cx="585.88" cy="197.8" r="0.38" fill="#111"/>
<circle cx="586.75" cy="197.88" r="0.38" fill="#111"/>
<circle cx="586.89" cy="197.53" r="0.38" fill="#111"/>
<circle cx="586.71" cy="198.69" r="0.38" fill="#111"/>
<circle cx="586.99" cy="198.26" r="0.38" fill="#111"/>
<line x1="585.13" y1="201.2" x2="585.13" y2="202.4" stroke="#333" stroke-width="0.35"/>
<text x="586.03" y="203.6" font-size="3.3" font-family="Liberation Serif" fill="#1a1a1a" text-anchor="end" font-weight="bold" transform="rotate(-45 586.03 203.6)">TRBV6-5.2</text>
<rect x="588.1" y="195.29" width="2.53" height="3.51" fill="#d64545"/>
<line x1="589.37" y1="193.75" x2="589.37" y2="196.83" stroke="#222" stroke-width="0.35"/>
<circle cx="589.76" cy="196.52" r="0.38" fill="#111"/>
<circle cx="589.09" cy="197.2" r="0.38" fill="#111"/>
<circle cx="588.9" cy="195.19" r="0.38" fill="#111"/>
<circle cx="589.8" cy="195.7" r="0.38" fill="#111"/>
<circle cx="589.82" cy="194.83" r="0.38" fill="#111"/>
<circle cx="589.33" cy="194.7" r="0.38" fill="#111"/>
<rect x="590.63" y="195.53" width="2.53" height="3.27" fill="#66c466"/>
<line x1="591.89" y1="193.62" x2="591.89" y2="197.45" stroke="#222" stroke-width="0.35"/>
<circle cx="591.35" cy="195.6" r="0.38" fill="#111"/>
<circle cx="591.76" cy="197.21" r="0.38" fill="#111"/>
<circle cx="591.42" cy="195.55" r="0.38" fill="#111"/>
<circle cx="591.93" cy="197.8" r="0.38" fill="#111"/>
<circle cx="591.76" cy="194.91" r="0.38" fill="#111"/>
<line x1="590.63" y1="201.2" x2="590.63" y2="202.4" stroke="#333" stroke-width="0.35"/>
<text x="591.53" y="203.6" font-size="3.3" font-family="Liberation Serif" fill="#1a1a1a" text-anchor="end" font-weight="bold" transform="rotate(-45 591.53 203.6)">TRBV7-9.2</text>
<rect x="593.6" y="195.9" width="2.53" height="2.9" fill="#d64545"/>
<line x1="594.87" y1="194.61" x2="594.87" y2="197.18" stroke="#222" stroke-width="0.35"/>
<circle cx="595.18" cy="195.93" r="0.38" fill="#111"/>
<circle cx="594.69" cy="196.52" r="0.38" fill="#111"/>
<circle cx="594.87" cy="195.58" r="0.38" fill="#111"/>
<circle cx="594.62" cy="186.6" r="0.38" fill="#222"/>
<rect x="596.13" y="195.53" width="2.53" height="3.27" fill="#66c466"/>
<line x1="597.39" y1="194.12" x2="597.39" y2="196.95" stroke="#222" stroke-width="0.35"/>
<circle cx="596.83" cy="197.34" r="0.38" fill="#111"/>
<circle cx="597.29" cy="195.31" r="0.38" fill="#111"/>
<circle cx="597.75" cy="194.03" r="0.38" fill="#111"/>
<circle cx="597.75" cy="196.58" r="0.38" fill="#111"/>
<circle cx="596.82" cy="195.23" r="0.38" fill="#111"/>
<line x1="596.13" y1="201.2" x2="596.13" y2="202.4" stroke="#333" stroke-width="0.35"/>
<text x="597.03" y="203.6" font-size="3.3" font-family="Liberation Serif" fill="#1a1a1a" text-anchor="end" font-weight="bold" transform="rotate(-45 597.03 203.6)">TRBV10-3</text>
<rect x="599.1" y="193.96" width="2.53" height="4.84" fill="#d64545"/>
<line x1="600.37" y1="191.31" x2="600.37" y2="196.61" stroke="#222" stroke-width="0.35"/>
<circle cx="600.15" cy="195.03" r="0.38" fill="#111"/>
<circle cx="600.7" cy="198.19" r="0.38" fill="#111"/>
<circle cx="600.24" cy="193.88" r="0.38" fill="#111"/>
<circle cx="599.85" cy="193.66" r="0.38" fill="#111"/>
<circle cx="600.29" cy="196.51" r="0.38" fill="#111"/>
<circle cx="600.07" cy="193.5" r="0.38" fill="#111"/>
<circle cx="600.1" cy="187.47" r="0.38" fill="#222"/>
<rect x="601.63" y="193.23" width="2.53" height="5.57" fill="#66c466"/>
<line x1="602.89" y1="190.58" x2="602.89" y2="195.89" stroke="#222" stroke-width="0.35"/>
<circle cx="602.74" cy="194.89" r="0.38" fill="#111"/>
<circle cx="603.3" cy="194.67" r="0.38" fill="#111"/>
<circle cx="602.41" cy="195.25" r="0.38" fill="#111"/>
<circle cx="603.04" cy="191.67" r="0.38" fill="#111"/>
<line x1="601.63" y1="201.2" x2="601.63" y2="202.4" stroke="#333" stroke-width="0.35"/>
<text x="602.53" y="203.6" font-size="3.3" font-family="Liberation Serif" fill="#1a1a1a" text-anchor="end" font-weight="bold" transform="rotate(-45 602.53 203.6)">TRBV25-1</text>
<rect x="604.6" y="185.73" width="2.53" height="13.07" fill="#d64545"/>
<line x1="605.87" y1="179.81" x2="605.87" y2="191.65" stroke="#222" stroke-width="0.35"/>
<circle cx="606.29" cy="191.93" r="0.38" fill="#111"/>
<circle cx="605.32" cy="181.45" r="0.38" fill="#111"/>
<circle cx="605.58" cy="193.05" r="0.38" fill="#111"/>
<circle cx="606.38" cy="187.76" r="0.38" fill="#111"/>
<circle cx="605.86" cy="182.31" r="0.38" fill="#111"/>
<circle cx="606.24" cy="169.34" r="0.38" fill="#222"/>
<rect x="607.13" y="187.18" width="2.53" height="11.62" fill="#66c466"/>
<line x1="608.39" y1="182.99" x2="608.39" y2="191.38" stroke="#222" stroke-width="0.35"/>
<circle cx="608.51" cy="193.74" r="0.38" fill="#111"/>
<circle cx="607.88" cy="192.28" r="0.38" fill="#111"/>
<circle cx="608.17" cy="185.16" r="0.38" fill="#111"/>
<circle cx="607.97" cy="187.36" r="0.38" fill="#111"/>
<line x1="607.13" y1="201.2" x2="607.13" y2="202.4" stroke="#333" stroke-width="0.35"/>
<text x="608.03" y="203.6" font-size="3.3" font-family="Liberation Serif" fill="#1a1a1a" text-anchor="end" font-weight="bold" transform="rotate(-45 608.03 203.6)">TRBV6-6.1</text>
<rect x="610.1" y="196.38" width="2.53" height="2.42" fill="#d64545"/>
<line x1="611.37" y1="194.76" x2="611.37" y2="198" stroke="#222" stroke-width="0.35"/>
<circle cx="611.11" cy="197.05" r="0.38" fill="#111"/>
<circle cx="611.81" cy="195.44" r="0.38" fill="#111"/>
<circle cx="611.15" cy="196.93" r="0.38" fill="#111"/>
<circle cx="611.17" cy="195.84" r="0.38" fill="#111"/>
<circle cx="610.95" cy="196.78" r="0.38" fill="#111"/>
<rect x="612.63" y="195.9" width="2.53" height="2.9" fill="#66c466"/>
<line x1="613.89" y1="194.46" x2="613.89" y2="197.33" stroke="#222" stroke-width="0.35"/>
<circle cx="613.41" cy="195.22" r="0.38" fill="#111"/>
<circle cx="613.75" cy="197.31" r="0.38" fill="#111"/>
<circle cx="613.55" cy="195.34" r="0.38" fill="#111"/>
<circle cx="613.41" cy="195.77" r="0.38" fill="#111"/>
<circle cx="613.98" cy="197.37" r="0.38" fill="#111"/>
<circle cx="614.39" cy="196.96" r="0.38" fill="#111"/>
<circle cx="614.22" cy="191.14" r="0.38" fill="#222"/>
<line x1="612.63" y1="201.2" x2="612.63" y2="202.4" stroke="#333" stroke-width="0.35"/>
<text x="613.53" y="203.6" font-size="3.3" font-family="Liberation Serif" fill="#1a1a1a" text-anchor="end" font-weight="bold" transform="rotate(-45 613.53 203.6)">TRAV21-01</text>
<rect x="615.6" y="192.63" width="2.53" height="6.17" fill="#d64545"/>
<line x1="616.87" y1="190.35" x2="616.87" y2="194.9" stroke="#222" stroke-width="0.35"/>
<circle cx="617.15" cy="192.47" r="0.38" fill="#111"/>
<circle cx="616.56" cy="195.27" r="0.38" fill="#111"/>
<circle cx="616.39" cy="193.36" r="0.38" fill="#111"/>
<circle cx="616.96" cy="192.1" r="0.38" fill="#111"/>
<circle cx="616.5" cy="195.22" r="0.38" fill="#111"/>
<rect x="618.13" y="191.3" width="2.53" height="7.5" fill="#66c466"/>
<line x1="619.39" y1="187.96" x2="619.39" y2="194.64" stroke="#222" stroke-width="0.35"/>
<circle cx="619.37" cy="195.19" r="0.38" fill="#111"/>
<circle cx="619.16" cy="192.41" r="0.38" fill="#111"/>
<circle cx="619.15" cy="195.28" r="0.38" fill="#111"/>
<circle cx="618.93" cy="178.68" r="0.38" fill="#222"/>
<line x1="618.13" y1="201.2" x2="618.13" y2="202.4" stroke="#333" stroke-width="0.35"/>
<text x="619.03" y="203.6" font-size="3.3" font-family="Liberation Serif" fill="#1a1a1a" text-anchor="end" font-weight="bold" transform="rotate(-45 619.03 203.6)">TRBV12-3</text>
<rect x="621.1" y="197.95" width="2.53" height="0.85" fill="#d64545"/>
<line x1="622.37" y1="197.12" x2="622.37" y2="198.63" stroke="#222" stroke-width="0.35"/>
<circle cx="622.56" cy="197.29" r="0.38" fill="#111"/>
<circle cx="622.87" cy="198.6" r="0.38" fill="#111"/>
<circle cx="622.15" cy="197.56" r="0.38" fill="#111"/>
<circle cx="621.96" cy="198.6" r="0.38" fill="#111"/>
<circle cx="622.63" cy="198.18" r="0.38" fill="#111"/>
<circle cx="622.3" cy="187.97" r="0.38" fill="#222"/>
<rect x="623.63" y="197.95" width="2.53" height="0.85" fill="#66c466"/>
<line x1="624.89" y1="197.04" x2="624.89" y2="198.63" stroke="#222" stroke-width="0.35"/>
<circle cx="625.17" cy="197.23" r="0.38" fill="#111"/>
<circle cx="624.55" cy="197.68" r="0.38" fill="#111"/>
<circle cx="624.74" cy="197.56" r="0.38" fill="#111"/>
<circle cx="624.88" cy="197.85" r="0.38" fill="#111"/>
<line x1="623.63" y1="201.2" x2="623.63" y2="202.4" stroke="#333" stroke-width="0.35"/>
<text x="624.53" y="203.6" font-size="3.3" font-family="Liberation Serif" fill="#1a1a1a" text-anchor="end" font-weight="bold" transform="rotate(-45 624.53 203.6)">TRBV18-01</text>
<rect x="626.6" y="193.96" width="2.53" height="4.84" fill="#d64545"/>
<line x1="627.87" y1="191.43" x2="627.87" y2="196.49" stroke="#222" stroke-width="0.35"/>
<circle cx="627.31" cy="192.65" r="0.38" fill="#111"/>
<circle cx="628.44" cy="191.78" r="0.38" fill="#111"/>
<circle cx="628.29" cy="197.47" r="0.38" fill="#111"/>
<circle cx="628.44" cy="193.33" r="0.38" fill="#111"/>
<circle cx="627.69" cy="197.76" r="0.38" fill="#111"/>
<circle cx="628.2" cy="193.47" r="0.38" fill="#111"/>
<circle cx="628.29" cy="180.64" r="0.38" fill="#222"/>
<rect x="629.13" y="194.32" width="2.53" height="4.48" fill="#66c466"/>
<line x1="630.39" y1="192" x2="630.39" y2="196.64" stroke="#222" stroke-width="0.35"/>
<circle cx="630.39" cy="192.18" r="0.38" fill="#111"/>
<circle cx="630.42" cy="196.03" r="0.38" fill="#111"/>
<circle cx="630.99" cy="196.88" r="0.38" fill="#111"/>
<line x1="629.13" y1="201.2" x2="629.13" y2="202.4" stroke="#333" stroke-width="0.35"/>
<text x="630.03" y="203.6" font-size="3.3" font-family="Liberation Serif" fill="#1a1a1a" text-anchor="end" font-weight="bold" transform="rotate(-45 630.03 203.6)">TRBV24-1</text>
<rect x="632.1" y="188.64" width="2.53" height="10.16" fill="#d64545"/>
<line x1="633.37" y1="185.15" x2="633.37" y2="192.12" stroke="#222" stroke-width="0.35"/>
<circle cx="633.14" cy="190.26" r="0.38" fill="#111"/>
<circle cx="633.8" cy="187.03" r="0.38" fill="#111"/>
<circle cx="633.48" cy="187.31" r="0.38" fill="#111"/>
<circle cx="633.55" cy="191.49" r="0.38" fill="#111"/>
<circle cx="633.78" cy="191.15" r="0.38" fill="#111"/>
<circle cx="633.09" cy="186.29" r="0.38" fill="#111"/>
<rect x="634.63" y="189.85" width="2.53" height="8.95" fill="#66c466"/>
<line x1="635.89" y1="186.16" x2="635.89" y2="193.54" stroke="#222" stroke-width="0.35"/>
<circle cx="635.61" cy="189.87" r="0.38" fill="#111"/>
<circle cx="635.67" cy="187.5" r="0.38" fill="#111"/>
<circle cx="635.63" cy="186.36" r="0.38" fill="#111"/>
<circle cx="636.35" cy="186.42" r="0.38" fill="#111"/>
<circle cx="635.89" cy="192.22" r="0.38" fill="#111"/>
<circle cx="636.11" cy="189" r="0.38" fill="#111"/>
<circle cx="636.23" cy="175.85" r="0.38" fill="#222"/>
<line x1="634.63" y1="201.2" x2="634.63" y2="202.4" stroke="#333" stroke-width="0.35"/>
<text x="635.53" y="203.6" font-size="3.3" font-family="Liberation Serif" fill="#1a1a1a" text-anchor="end" font-weight="bold" transform="rotate(-45 635.53 203.6)">TRBV4-2.1</text>
<rect x="637.6" y="195.9" width="2.53" height="2.9" fill="#d64545"/>
<line x1="638.87" y1="194.55" x2="638.87" y2="197.25" stroke="#222" stroke-width="0.35"/>
<circle cx="638.59" cy="196.75" r="0.38" fill="#111"/>
<circle cx="639.14" cy="194.63" r="0.38" fill="#111"/>
<circle cx="639.07" cy="197.12" r="0.38" fill="#111"/>
<circle cx="638.57" cy="194.57" r="0.38" fill="#111"/>
<circle cx="639.32" cy="194.46" r="0.38" fill="#111"/>
<rect x="640.13" y="195.9" width="2.53" height="2.9" fill="#66c466"/>
<line x1="641.39" y1="194.32" x2="641.39" y2="197.47" stroke="#222" stroke-width="0.35"/>
<circle cx="641.79" cy="196.88" r="0.38" fill="#111"/>
<circle cx="641.04" cy="194.85" r="0.38" fill="#111"/>
<circle cx="640.87" cy="198.04" r="0.38" fill="#111"/>
<circle cx="641.09" cy="196.12" r="0.38" fill="#111"/>
<line x1="640.13" y1="201.2" x2="640.13" y2="202.4" stroke="#333" stroke-width="0.35"/>
<text x="641.03" y="203.6" font-size="3.3" font-family="Liberation Serif" fill="#1a1a1a" text-anchor="end" font-weight="bold" transform="rotate(-45 641.03 203.6)">TRAJ33-1</text>
<rect x="643.1" y="192.63" width="2.53" height="6.17" fill="#d64545"/>
<line x1="644.37" y1="190.33" x2="644.37" y2="194.93" stroke="#222" stroke-width="0.35"/>
<circle cx="644.18" cy="194.08" r="0.38" fill="#111"/>
<circle cx="644.07" cy="195.75" r="0.38" fill="#111"/>
<circle cx="644.1" cy="196.13" r="0.38" fill="#111"/>
<rect x="645.63" y="192.63" width="2.53" height="6.17" fill="#66c466"/>
<line x1="646.89" y1="190.21" x2="646.89" y2="195.05" stroke="#222" stroke-width="0.35"/>
<circle cx="647.02" cy="195.35" r="0.38" fill="#111"/>
<circle cx="646.32" cy="195.26" r="0.38" fill="#111"/>
<circle cx="647.22" cy="192.2" r="0.38" fill="#111"/>
<circle cx="646.35" cy="192.96" r="0.38" fill="#111"/>
<circle cx="646.74" cy="193.56" r="0.38" fill="#111"/>
<circle cx="647.37" cy="183.54" r="0.38" fill="#222"/>
<line x1="645.63" y1="201.2" x2="645.63" y2="202.4" stroke="#333" stroke-width="0.35"/>
<text x="646.53" y="203.6" font-size="3.3" font-family="Liberation Serif" fill="#1a1a1a" text-anchor="end" font-weight="bold" transform="rotate(-45 646.53 203.6)">TRBV19-01</text>
<rect x="648.6" y="193.96" width="2.53" height="4.84" fill="#d64545"/>
<line x1="649.87" y1="191.2" x2="649.87" y2="196.72" stroke="#222" stroke-width="0.35"/>
<circle cx="649.41" cy="193.82" r="0.38" fill="#111"/>
<circle cx="650.32" cy="195.47" r="0.38" fill="#111"/>
<circle cx="649.67" cy="195" r="0.38" fill="#111"/>
<circle cx="649.56" cy="194.64" r="0.38" fill="#111"/>
<circle cx="649.67" cy="185.99" r="0.38" fill="#222"/>
<rect x="651.13" y="193.23" width="2.53" height="5.57" fill="#66c466"/>
<line x1="652.39" y1="190.44" x2="652.39" y2="196.03" stroke="#222" stroke-width="0.35"/>
<circle cx="652.85" cy="197.18" r="0.38" fill="#111"/>
<circle cx="652.02" cy="191.78" r="0.38" fill="#111"/>
<circle cx="652.01" cy="193.83" r="0.38" fill="#111"/>
<circle cx="652.67" cy="193.92" r="0.38" fill="#111"/>
<circle cx="651.87" cy="190.9" r="0.38" fill="#111"/>
<circle cx="652.77" cy="193.57" r="0.38" fill="#111"/>
<circle cx="652.35" cy="185.76" r="0.38" fill="#222"/>
<line x1="651.13" y1="201.2" x2="651.13" y2="202.4" stroke="#333" stroke-width="0.35"/>
<text x="652.03" y="203.6" font-size="3.3" font-family="Liberation Serif" fill="#1a1a1a" text-anchor="end" font-weight="bold" transform="rotate(-45 652.03 203.6)">TRBV15-01</text>
<rect x="654.1" y="186.58" width="2.53" height="12.22" fill="#d64545"/>
<line x1="655.37" y1="180.49" x2="655.37" y2="192.67" stroke="#222" stroke-width="0.35"/>
<circle cx="654.81" cy="181.45" r="0.38" fill="#111"/>
<circle cx="655.63" cy="188.04" r="0.38" fill="#111"/>
<circle cx="655.54" cy="185.8" r="0.38" fill="#111"/>
<circle cx="655.59" cy="170.75" r="0.38" fill="#222"/>
<rect x="656.63" y="187.79" width="2.53" height="11.01" fill="#66c466"/>
<line x1="657.89" y1="183.52" x2="657.89" y2="192.06" stroke="#222" stroke-width="0.35"/>
<circle cx="657.61" cy="190.71" r="0.38" fill="#111"/>
<circle cx="657.73" cy="183.98" r="0.38" fill="#111"/>
<circle cx="657.71" cy="192.63" r="0.38" fill="#111"/>
<circle cx="657.93" cy="192.4" r="0.38" fill="#111"/>
<circle cx="657.35" cy="193.25" r="0.38" fill="#111"/>
<circle cx="657.77" cy="187.72" r="0.38" fill="#111"/>
<line x1="656.63" y1="201.2" x2="656.63" y2="202.4" stroke="#333" stroke-width="0.35"/>
<text x="657.53" y="203.6" font-size="3.3" font-family="Liberation Serif" fill="#1a1a1a" text-anchor="end" font-weight="bold" transform="rotate(-45 657.53 203.6)">TRBV3-1.1</text>
<rect x="659.6" y="190.57" width="2.53" height="8.23" fill="#d64545"/>
<line x1="660.87" y1="187.2" x2="660.87" y2="193.94" stroke="#222" stroke-width="0.35"/>
<circle cx="661.24" cy="193.39" r="0.38" fill="#111"/>
<circle cx="660.32" cy="195.94" r="0.38" fill="#111"/>
<circle cx="661.16" cy="192.81" r="0.38" fill="#111"/>
<circle cx="661.33" cy="195.84" r="0.38" fill="#111"/>
<circle cx="661.03" cy="193.1" r="0.38" fill="#111"/>
<circle cx="661.1" cy="192.72" r="0.38" fill="#111"/>
<rect x="662.13" y="184.04" width="2.53" height="14.76" fill="#66c466"/>
<line x1="663.39" y1="179.1" x2="663.39" y2="188.98" stroke="#222" stroke-width="0.35"/>
<circle cx="662.81" cy="182.49" r="0.38" fill="#111"/>
<circle cx="663.08" cy="189.85" r="0.38" fill="#111"/>
<circle cx="663.84" cy="180.86" r="0.38" fill="#111"/>
<circle cx="663.33" cy="187.61" r="0.38" fill="#111"/>
<circle cx="663.85" cy="174.33" r="0.38" fill="#222"/>
<line x1="662.13" y1="201.2" x2="662.13" y2="202.4" stroke="#333" stroke-width="0.35"/>
<text x="663.03" y="203.6" font-size="3.3" font-family="Liberation Serif" fill="#1a1a1a" text-anchor="end" font-weight="bold" transform="rotate(-45 663.03 203.6)">TRBV5-6.1</text>
<rect x="665.1" y="192.27" width="2.53" height="6.53" fill="#d64545"/>
<line x1="666.37" y1="189.15" x2="666.37" y2="195.38" stroke="#222" stroke-width="0.35"/>
<circle cx="666.93" cy="192.1" r="0.38" fill="#111"/>
<circle cx="666.07" cy="192.34" r="0.38" fill="#111"/>
<circle cx="665.81" cy="190.75" r="0.38" fill="#111"/>
<circle cx="666.88" cy="192.63" r="0.38" fill="#111"/>
<circle cx="666.18" cy="194.97" r="0.38" fill="#111"/>
<circle cx="666.67" cy="179.11" r="0.38" fill="#222"/>
<rect x="667.63" y="194.32" width="2.53" height="4.48" fill="#66c466"/>
<line x1="668.89" y1="192.48" x2="668.89" y2="196.17" stroke="#222" stroke-width="0.35"/>
<circle cx="668.52" cy="195.38" r="0.38" fill="#111"/>
<circle cx="668.38" cy="194.43" r="0.38" fill="#111"/>
<circle cx="669.08" cy="194.51" r="0.38" fill="#111"/>
<circle cx="668.68" cy="196.88" r="0.38" fill="#111"/>
<circle cx="668.86" cy="196.07" r="0.38" fill="#111"/>
<circle cx="668.81" cy="191.37" r="0.38" fill="#222"/>
<line x1="667.63" y1="201.2" x2="667.63" y2="202.4" stroke="#333" stroke-width="0.35"/>
<text x="668.53" y="203.6" font-size="3.3" font-family="Liberation Serif" fill="#1a1a1a" text-anchor="end" font-weight="bold" transform="rotate(-45 668.53 203.6)">TRAV12-1.1</text>
<rect x="670.6" y="198.32" width="2.53" height="0.48" fill="#d64545"/>
<rect x="673.13" y="198.32" width="2.53" height="0.48" fill="#66c466"/>
<line x1="673.13" y1="201.2" x2="673.13" y2="202.4" stroke="#333" stroke-width="0.35"/>
<text x="674.03" y="203.6" font-size="3.3" font-family="Liberation Serif" fill="#1a1a1a" text-anchor="end" font-weight="bold" transform="rotate(-45 674.03 203.6)">TRBV28-01</text>
<rect x="676.1" y="187.79" width="2.53" height="11.01" fill="#d64545"/>
<line x1="677.37" y1="183.71" x2="677.37" y2="191.87" stroke="#222" stroke-width="0.35"/>
<circle cx="677.75" cy="192.68" r="0.38" fill="#111"/>
<circle cx="677.76" cy="193.41" r="0.38" fill="#111"/>
<circle cx="677.66" cy="186.1" r="0.38" fill="#111"/>
<circle cx="677.62" cy="176.58" r="0.38" fill="#222"/>
<rect x="678.63" y="187.79" width="2.53" height="11.01" fill="#66c466"/>
<line x1="679.89" y1="183.41" x2="679.89" y2="192.17" stroke="#222" stroke-width="0.35"/>
<circle cx="680.34" cy="183.53" r="0.38" fill="#111"/>
<circle cx="679.96" cy="186.89" r="0.38" fill="#111"/>
<circle cx="679.49" cy="185.44" r="0.38" fill="#111"/>
<circle cx="679.47" cy="176.73" r="0.38" fill="#222"/>
<line x1="678.63" y1="201.2" x2="678.63" y2="202.4" stroke="#333" stroke-width="0.35"/>
<text x="679.53" y="203.6" font-size="3.3" font-family="Liberation Serif" fill="#1a1a1a" text-anchor="end" font-weight="bold" transform="rotate(-45 679.53 203.6)">TRBV27-01</text>
<rect x="505.7" y="157.7" width="5.5" height="41.7" fill="none" stroke="#e03030" stroke-width="0.9" stroke-dasharray="2.6,1.4"/>
<rect x="563.4" y="144.8" width="6.1" height="5.5" fill="#d64545"/>
<circle cx="566.4" cy="147.55" r="0.4" fill="#333"/>
<text x="570.5" y="149.2" font-size="4.5" font-family="Liberation Serif" fill="#222">GDM</text>
<rect x="582.8" y="144.8" width="6.8" height="5.5" fill="#66c466"/>
<circle cx="586.2" cy="147.55" r="0.4" fill="#333"/>
<text x="590.5" y="149.2" font-size="4.5" font-family="Liberation Serif" fill="#222">NP</text>
<text x="433.3" y="172.85" font-size="4.3" font-family="Liberation Serif" fill="#222" text-anchor="middle" transform="rotate(-90 433.3 172.85)">Percentage (%)</text>
<rect x="438.5" y="220.3" width="243.1" height="69.9" fill="#fff" stroke="#999" stroke-width="0.6"/>
<line x1="437.5" y1="287.6" x2="438.5" y2="287.6" stroke="#333" stroke-width="0.35"/>
<text x="436.9" y="288.6" font-size="3" font-family="Liberation Serif" fill="#111" text-anchor="end">0</text>
<line x1="437.5" y1="273.3" x2="438.5" y2="273.3" stroke="#333" stroke-width="0.35"/>
<text x="436.9" y="274.3" font-size="3" font-family="Liberation Serif" fill="#111" text-anchor="end">1</text>
<line x1="437.5" y1="258.4" x2="438.5" y2="258.4" stroke="#333" stroke-width="0.35"/>
<text x="436.9" y="259.4" font-size="3" font-family="Liberation Serif" fill="#111" text-anchor="end">2</text>
<line x1="437.5" y1="243.8" x2="438.5" y2="243.8" stroke="#333" stroke-width="0.35"/>
<text x="436.9" y="244.8" font-size="3" font-family="Liberation Serif" fill="#111" text-anchor="end">3</text>
<line x1="437.5" y1="229.4" x2="438.5" y2="229.4" stroke="#333" stroke-width="0.35"/>
<text x="436.9" y="230.4" font-size="3" font-family="Liberation Serif" fill="#111" text-anchor="end">4</text>
<rect x="439" y="279.92" width="2.06" height="8.18" fill="#d64545"/>
<line x1="440.03" y1="276.73" x2="440.03" y2="283.12" stroke="#222" stroke-width="0.35"/>
<circle cx="439.57" cy="276.67" r="0.38" fill="#111"/>
<circle cx="439.82" cy="282.64" r="0.38" fill="#111"/>
<circle cx="440.1" cy="281.92" r="0.38" fill="#111"/>
<circle cx="440.05" cy="280.56" r="0.38" fill="#111"/>
<circle cx="439.92" cy="283.44" r="0.38" fill="#111"/>
<rect x="441.06" y="278.03" width="2.06" height="10.07" fill="#66c466"/>
<line x1="442.09" y1="273.93" x2="442.09" y2="282.12" stroke="#222" stroke-width="0.35"/>
<circle cx="442.02" cy="283.96" r="0.38" fill="#111"/>
<circle cx="441.64" cy="279.64" r="0.38" fill="#111"/>
<circle cx="441.87" cy="280.51" r="0.38" fill="#111"/>
<circle cx="442.42" cy="263.24" r="0.38" fill="#222"/>
<line x1="441.06" y1="290.2" x2="441.06" y2="291.4" stroke="#333" stroke-width="0.35"/>
<text x="441.96" y="292.6" font-size="3.3" font-family="Liberation Serif" fill="#1a1a1a" text-anchor="end" font-weight="bold" transform="rotate(-45 441.96 292.6)">TRAJ33-1</text>
<rect x="443.48" y="280.95" width="2.06" height="7.15" fill="#d64545"/>
<line x1="444.5" y1="277.93" x2="444.5" y2="283.96" stroke="#222" stroke-width="0.35"/>
<circle cx="444.59" cy="281.02" r="0.38" fill="#111"/>
<circle cx="444.49" cy="281.16" r="0.38" fill="#111"/>
<circle cx="445.08" cy="278.23" r="0.38" fill="#111"/>
<circle cx="444.77" cy="282.39" r="0.38" fill="#111"/>
<rect x="445.53" y="280.36" width="2.06" height="7.74" fill="#66c466"/>
<line x1="446.56" y1="278.02" x2="446.56" y2="282.7" stroke="#222" stroke-width="0.35"/>
<circle cx="446.95" cy="278.95" r="0.38" fill="#111"/>
<circle cx="446.22" cy="279.07" r="0.38" fill="#111"/>
<circle cx="446.85" cy="279.32" r="0.38" fill="#111"/>
<circle cx="446.3" cy="272.82" r="0.38" fill="#222"/>
<line x1="445.53" y1="290.2" x2="445.53" y2="291.4" stroke="#333" stroke-width="0.35"/>
<text x="446.43" y="292.6" font-size="3.3" font-family="Liberation Serif" fill="#1a1a1a" text-anchor="end" font-weight="bold" transform="rotate(-45 446.43 292.6)">TRBV19-01</text>
<rect x="447.95" y="281.24" width="2.06" height="6.86" fill="#d64545"/>
<line x1="448.98" y1="277.99" x2="448.98" y2="284.48" stroke="#222" stroke-width="0.35"/>
<circle cx="448.66" cy="279.35" r="0.38" fill="#111"/>
<circle cx="448.6" cy="284.21" r="0.38" fill="#111"/>
<circle cx="448.58" cy="286.42" r="0.38" fill="#111"/>
<circle cx="448.65" cy="278.78" r="0.38" fill="#111"/>
<circle cx="449.35" cy="269.97" r="0.38" fill="#222"/>
<rect x="450.01" y="280.07" width="2.06" height="8.03" fill="#66c466"/>
<line x1="451.04" y1="276.77" x2="451.04" y2="283.37" stroke="#222" stroke-width="0.35"/>
<circle cx="451.53" cy="279.28" r="0.38" fill="#111"/>
<circle cx="450.68" cy="278.5" r="0.38" fill="#111"/>
<circle cx="451.58" cy="278.4" r="0.38" fill="#111"/>
<circle cx="450.68" cy="284.32" r="0.38" fill="#111"/>
<line x1="450.01" y1="290.2" x2="450.01" y2="291.4" stroke="#333" stroke-width="0.35"/>
<text x="450.91" y="292.6" font-size="3.3" font-family="Liberation Serif" fill="#1a1a1a" text-anchor="end" font-weight="bold" transform="rotate(-45 450.91 292.6)">TRBV15-01</text>
<rect x="452.43" y="279.63" width="2.06" height="8.47" fill="#d64545"/>
<line x1="453.45" y1="277.27" x2="453.45" y2="282" stroke="#222" stroke-width="0.35"/>
<circle cx="453.78" cy="280.26" r="0.38" fill="#111"/>
<circle cx="453.14" cy="281.47" r="0.38" fill="#111"/>
<circle cx="453.41" cy="280.3" r="0.38" fill="#111"/>
<circle cx="453.92" cy="279.69" r="0.38" fill="#111"/>
<circle cx="453.92" cy="280.33" r="0.38" fill="#111"/>
<circle cx="453.11" cy="281.38" r="0.38" fill="#111"/>
<circle cx="453.4" cy="269.81" r="0.38" fill="#222"/>
<rect x="454.48" y="278.03" width="2.06" height="10.07" fill="#66c466"/>
<line x1="455.51" y1="273.74" x2="455.51" y2="282.31" stroke="#222" stroke-width="0.35"/>
<circle cx="455.97" cy="277.91" r="0.38" fill="#111"/>
<circle cx="455.36" cy="284.81" r="0.38" fill="#111"/>
<circle cx="455.23" cy="277.36" r="0.38" fill="#111"/>
<circle cx="455.96" cy="276.2" r="0.38" fill="#111"/>
<circle cx="455.61" cy="283.43" r="0.38" fill="#111"/>
<circle cx="455.31" cy="269.29" r="0.38" fill="#222"/>
<line x1="454.48" y1="290.2" x2="454.48" y2="291.4" stroke="#333" stroke-width="0.35"/>
<text x="455.38" y="292.6" font-size="3.3" font-family="Liberation Serif" fill="#1a1a1a" text-anchor="end" font-weight="bold" transform="rotate(-45 455.38 292.6)">TRBV3-1.1</text>
<rect x="456.9" y="287.81" width="2.06" height="0.29" fill="#d64545"/>
<line x1="458.96" y1="290.2" x2="458.96" y2="291.4" stroke="#333" stroke-width="0.35"/>
<text x="459.86" y="292.6" font-size="3.3" font-family="Liberation Serif" fill="#1a1a1a" text-anchor="end" font-weight="bold" transform="rotate(-45 459.86 292.6)">TRBV5-6.1</text>
<rect x="461.38" y="279.92" width="2.06" height="8.18" fill="#d64545"/>
<line x1="462.4" y1="276.55" x2="462.4" y2="283.3" stroke="#222" stroke-width="0.35"/>
<circle cx="462.58" cy="278.4" r="0.38" fill="#111"/>
<circle cx="462.92" cy="278.39" r="0.38" fill="#111"/>
<circle cx="462.42" cy="284.36" r="0.38" fill="#111"/>
<circle cx="462.67" cy="284.83" r="0.38" fill="#111"/>
<rect x="463.43" y="277.59" width="2.06" height="10.51" fill="#66c466"/>
<line x1="464.46" y1="273.51" x2="464.46" y2="281.66" stroke="#222" stroke-width="0.35"/>
<circle cx="465.03" cy="273.94" r="0.38" fill="#111"/>
<circle cx="464.84" cy="274.97" r="0.38" fill="#111"/>
<circle cx="464.52" cy="279.96" r="0.38" fill="#111"/>
<line x1="463.43" y1="290.2" x2="463.43" y2="291.4" stroke="#333" stroke-width="0.35"/>
<text x="464.33" y="292.6" font-size="3.3" font-family="Liberation Serif" fill="#1a1a1a" text-anchor="end" font-weight="bold" transform="rotate(-45 464.33 292.6)">TRAV12-1.1</text>
<rect x="465.85" y="283.14" width="2.06" height="4.96" fill="#d64545"/>
<line x1="466.88" y1="280.36" x2="466.88" y2="285.91" stroke="#222" stroke-width="0.35"/>
<circle cx="466.56" cy="285.09" r="0.38" fill="#111"/>
<circle cx="466.68" cy="280.48" r="0.38" fill="#111"/>
<circle cx="466.91" cy="282.1" r="0.38" fill="#111"/>
<circle cx="466.76" cy="282.73" r="0.38" fill="#111"/>
<circle cx="466.44" cy="282.44" r="0.38" fill="#111"/>
<circle cx="467.08" cy="282.18" r="0.38" fill="#111"/>
<circle cx="467.27" cy="269.78" r="0.38" fill="#222"/>
<rect x="467.91" y="283.14" width="2.06" height="4.96" fill="#66c466"/>
<line x1="468.94" y1="280.97" x2="468.94" y2="285.3" stroke="#222" stroke-width="0.35"/>
<circle cx="468.7" cy="286.53" r="0.38" fill="#111"/>
<circle cx="469.54" cy="285.6" r="0.38" fill="#111"/>
<circle cx="469.27" cy="285.27" r="0.38" fill="#111"/>
<circle cx="469.07" cy="282.03" r="0.38" fill="#111"/>
<circle cx="468.89" cy="280.78" r="0.38" fill="#111"/>
<circle cx="468.52" cy="274.68" r="0.38" fill="#222"/>
<line x1="467.91" y1="290.2" x2="467.91" y2="291.4" stroke="#333" stroke-width="0.35"/>
<text x="468.81" y="292.6" font-size="3.3" font-family="Liberation Serif" fill="#1a1a1a" text-anchor="end" font-weight="bold" transform="rotate(-45 468.81 292.6)">TRBV28-01</text>
<rect x="470.32" y="281.82" width="2.06" height="6.28" fill="#d64545"/>
<line x1="471.35" y1="278.59" x2="471.35" y2="285.05" stroke="#222" stroke-width="0.35"/>
<circle cx="471.74" cy="278.5" r="0.38" fill="#111"/>
<circle cx="471.73" cy="280.76" r="0.38" fill="#111"/>
<circle cx="470.89" cy="284.86" r="0.38" fill="#111"/>
<circle cx="471.71" cy="280.88" r="0.38" fill="#111"/>
<circle cx="471.26" cy="284.24" r="0.38" fill="#111"/>
<circle cx="470.96" cy="279.42" r="0.38" fill="#111"/>
<circle cx="471.35" cy="270.4" r="0.38" fill="#222"/>
<rect x="472.38" y="278.76" width="2.06" height="9.34" fill="#66c466"/>
<line x1="473.41" y1="274.26" x2="473.41" y2="283.25" stroke="#222" stroke-width="0.35"/>
<circle cx="473.45" cy="280.56" r="0.38" fill="#111"/>
<circle cx="472.87" cy="281.25" r="0.38" fill="#111"/>
<circle cx="473.47" cy="274.34" r="0.38" fill="#111"/>
<circle cx="473.78" cy="270.7" r="0.38" fill="#222"/>
<line x1="472.38" y1="290.2" x2="472.38" y2="291.4" stroke="#333" stroke-width="0.35"/>
<text x="473.28" y="292.6" font-size="3.3" font-family="Liberation Serif" fill="#1a1a1a" text-anchor="end" font-weight="bold" transform="rotate(-45 473.28 292.6)">TRBV27-01</text>
<rect x="474.8" y="283.14" width="2.06" height="4.96" fill="#d64545"/>
<line x1="475.83" y1="281.11" x2="475.83" y2="285.16" stroke="#222" stroke-width="0.35"/>
<circle cx="475.84" cy="281.58" r="0.38" fill="#111"/>
<circle cx="476.42" cy="281.02" r="0.38" fill="#111"/>
<circle cx="475.9" cy="284.77" r="0.38" fill="#111"/>
<circle cx="476.25" cy="281.95" r="0.38" fill="#111"/>
<circle cx="476.16" cy="283.03" r="0.38" fill="#111"/>
<rect x="476.86" y="283.14" width="2.06" height="4.96" fill="#66c466"/>
<line x1="477.89" y1="281.4" x2="477.89" y2="284.87" stroke="#222" stroke-width="0.35"/>
<circle cx="478.39" cy="285.16" r="0.38" fill="#111"/>
<circle cx="477.49" cy="284.08" r="0.38" fill="#111"/>
<circle cx="477.73" cy="282.85" r="0.38" fill="#111"/>
<line x1="476.86" y1="290.2" x2="476.86" y2="291.4" stroke="#333" stroke-width="0.35"/>
<text x="477.76" y="292.6" font-size="3.3" font-family="Liberation Serif" fill="#1a1a1a" text-anchor="end" font-weight="bold" transform="rotate(-45 477.76 292.6)">TRBV11-2</text>
<rect x="479.27" y="276.13" width="2.06" height="11.97" fill="#d64545"/>
<line x1="480.3" y1="272.62" x2="480.3" y2="279.64" stroke="#222" stroke-width="0.35"/>
<circle cx="480.75" cy="279.92" r="0.38" fill="#111"/>
<circle cx="480.34" cy="277.17" r="0.38" fill="#111"/>
<circle cx="480.19" cy="272.57" r="0.38" fill="#111"/>
<circle cx="480.48" cy="278.57" r="0.38" fill="#111"/>
<circle cx="479.74" cy="277.65" r="0.38" fill="#111"/>
<circle cx="480.58" cy="274.76" r="0.38" fill="#111"/>
<circle cx="480.01" cy="269.5" r="0.38" fill="#222"/>
<rect x="481.33" y="272.92" width="2.06" height="15.18" fill="#66c466"/>
<line x1="482.36" y1="265.98" x2="482.36" y2="279.85" stroke="#222" stroke-width="0.35"/>
<circle cx="482.17" cy="281.31" r="0.38" fill="#111"/>
<circle cx="482.32" cy="280.5" r="0.38" fill="#111"/>
<circle cx="482.49" cy="268.89" r="0.38" fill="#111"/>
<circle cx="482.79" cy="270.27" r="0.38" fill="#111"/>
<circle cx="482.25" cy="268.03" r="0.38" fill="#111"/>
<circle cx="482.08" cy="279.02" r="0.38" fill="#111"/>
<circle cx="482.14" cy="258.55" r="0.38" fill="#222"/>
<line x1="481.33" y1="290.2" x2="481.33" y2="291.4" stroke="#333" stroke-width="0.35"/>
<text x="482.23" y="292.6" font-size="3.3" font-family="Liberation Serif" fill="#1a1a1a" text-anchor="end" font-weight="bold" transform="rotate(-45 482.23 292.6)">TRBV7-8.1</text>
<rect x="483.75" y="281.53" width="2.06" height="6.57" fill="#d64545"/>
<line x1="484.78" y1="278.41" x2="484.78" y2="284.65" stroke="#222" stroke-width="0.35"/>
<circle cx="484.42" cy="279.09" r="0.38" fill="#111"/>
<circle cx="484.77" cy="286.19" r="0.38" fill="#111"/>
<circle cx="485.37" cy="282.53" r="0.38" fill="#111"/>
<circle cx="485.05" cy="282.69" r="0.38" fill="#111"/>
<circle cx="484.95" cy="283.07" r="0.38" fill="#111"/>
<circle cx="484.4" cy="274.35" r="0.38" fill="#222"/>
<rect x="485.81" y="281.82" width="2.06" height="6.28" fill="#66c466"/>
<line x1="486.84" y1="278.89" x2="486.84" y2="284.75" stroke="#222" stroke-width="0.35"/>
<circle cx="486.66" cy="283.91" r="0.38" fill="#111"/>
<circle cx="487.4" cy="279.67" r="0.38" fill="#111"/>
<circle cx="486.8" cy="283.79" r="0.38" fill="#111"/>
<circle cx="486.65" cy="279.36" r="0.38" fill="#111"/>
<circle cx="487" cy="278.76" r="0.38" fill="#111"/>
<circle cx="486.7" cy="283.64" r="0.38" fill="#111"/>
<circle cx="486.83" cy="272.29" r="0.38" fill="#222"/>
<line x1="485.81" y1="290.2" x2="485.81" y2="291.4" stroke="#333" stroke-width="0.35"/>
<text x="486.71" y="292.6" font-size="3.3" font-family="Liberation Serif" fill="#1a1a1a" text-anchor="end" font-weight="bold" transform="rotate(-45 486.71 292.6)">TRBV20-1</text>
<rect x="488.23" y="279.92" width="2.06" height="8.18" fill="#d64545"/>
<line x1="489.25" y1="276.27" x2="489.25" y2="283.58" stroke="#222" stroke-width="0.35"/>
<circle cx="489.31" cy="280.09" r="0.38" fill="#111"/>
<circle cx="488.71" cy="276.53" r="0.38" fill="#111"/>
<circle cx="489.77" cy="282.46" r="0.38" fill="#111"/>
<circle cx="489.47" cy="282.66" r="0.38" fill="#111"/>
<rect x="490.28" y="280.95" width="2.06" height="7.15" fill="#66c466"/>
<line x1="491.31" y1="277.83" x2="491.31" y2="284.06" stroke="#222" stroke-width="0.35"/>
<circle cx="490.87" cy="277.6" r="0.38" fill="#111"/>
<circle cx="491.37" cy="285.61" r="0.38" fill="#111"/>
<circle cx="491.61" cy="281.15" r="0.38" fill="#111"/>
<circle cx="490.86" cy="280.9" r="0.38" fill="#111"/>
<circle cx="491.83" cy="285.48" r="0.38" fill="#111"/>
<line x1="490.28" y1="290.2" x2="490.28" y2="291.4" stroke="#333" stroke-width="0.35"/>
<text x="491.18" y="292.6" font-size="3.3" font-family="Liberation Serif" fill="#1a1a1a" text-anchor="end" font-weight="bold" transform="rotate(-45 491.18 292.6)">TRBV5-1.1</text>
<rect x="492.7" y="275.98" width="2.06" height="12.12" fill="#d64545"/>
<line x1="493.73" y1="272.16" x2="493.73" y2="279.81" stroke="#222" stroke-width="0.35"/>
<circle cx="493.35" cy="277.72" r="0.38" fill="#111"/>
<circle cx="493.73" cy="275.82" r="0.38" fill="#111"/>
<circle cx="493.8" cy="279.9" r="0.38" fill="#111"/>
<circle cx="494.29" cy="275.35" r="0.38" fill="#111"/>
<circle cx="493.41" cy="267.32" r="0.38" fill="#222"/>
<rect x="494.76" y="277.15" width="2.06" height="10.95" fill="#66c466"/>
<line x1="495.79" y1="271.68" x2="495.79" y2="282.62" stroke="#222" stroke-width="0.35"/>
<circle cx="496.18" cy="273.13" r="0.38" fill="#111"/>
<circle cx="495.68" cy="284.28" r="0.38" fill="#111"/>
<circle cx="495.5" cy="280.83" r="0.38" fill="#111"/>
<circle cx="496.02" cy="277.43" r="0.38" fill="#111"/>
<circle cx="495.39" cy="284.53" r="0.38" fill="#111"/>
<circle cx="495.95" cy="277.56" r="0.38" fill="#111"/>
<line x1="494.76" y1="290.2" x2="494.76" y2="291.4" stroke="#333" stroke-width="0.35"/>
<text x="495.66" y="292.6" font-size="3.3" font-family="Liberation Serif" fill="#1a1a1a" text-anchor="end" font-weight="bold" transform="rotate(-45 495.66 292.6)">TRBV9-01</text>
<rect x="497.18" y="281.97" width="2.06" height="6.13" fill="#d64545"/>
<line x1="498.2" y1="278.86" x2="498.2" y2="285.08" stroke="#222" stroke-width="0.35"/>
<circle cx="498.48" cy="279.39" r="0.38" fill="#111"/>
<circle cx="498.41" cy="284.75" r="0.38" fill="#111"/>
<circle cx="498.05" cy="278.63" r="0.38" fill="#111"/>
<circle cx="498.7" cy="282.67" r="0.38" fill="#111"/>
<circle cx="498.14" cy="274" r="0.38" fill="#222"/>
<rect x="499.23" y="279.63" width="2.06" height="8.47" fill="#66c466"/>
<line x1="500.26" y1="276.01" x2="500.26" y2="283.25" stroke="#222" stroke-width="0.35"/>
<circle cx="499.86" cy="281.13" r="0.38" fill="#111"/>
<circle cx="499.84" cy="284.43" r="0.38" fill="#111"/>
<circle cx="500.67" cy="282.87" r="0.38" fill="#111"/>
<circle cx="500.86" cy="278.65" r="0.38" fill="#111"/>
<circle cx="499.9" cy="277.76" r="0.38" fill="#111"/>
<circle cx="499.79" cy="278.39" r="0.38" fill="#111"/>
<circle cx="500.13" cy="268.64" r="0.38" fill="#222"/>
<line x1="499.23" y1="290.2" x2="499.23" y2="291.4" stroke="#333" stroke-width="0.35"/>
<text x="500.13" y="292.6" font-size="3.3" font-family="Liberation Serif" fill="#1a1a1a" text-anchor="end" font-weight="bold" transform="rotate(-45 500.13 292.6)">TRBV30-01</text>
<rect x="501.65" y="287.81" width="2.06" height="0.29" fill="#d64545"/>
<rect x="503.71" y="287.81" width="2.06" height="0.29" fill="#66c466"/>
<line x1="503.71" y1="290.2" x2="503.71" y2="291.4" stroke="#333" stroke-width="0.35"/>
<text x="504.61" y="292.6" font-size="3.3" font-family="Liberation Serif" fill="#1a1a1a" text-anchor="end" font-weight="bold" transform="rotate(-45 504.61 292.6)">TRBV13-01</text>
<rect x="506.12" y="274.08" width="2.06" height="14.02" fill="#d64545"/>
<line x1="507.15" y1="269.56" x2="507.15" y2="278.61" stroke="#222" stroke-width="0.35"/>
<circle cx="506.92" cy="277.09" r="0.38" fill="#111"/>
<circle cx="507.41" cy="272.57" r="0.38" fill="#111"/>
<circle cx="507.52" cy="273.7" r="0.38" fill="#111"/>
<circle cx="506.74" cy="280.2" r="0.38" fill="#111"/>
<circle cx="506.83" cy="277.34" r="0.38" fill="#111"/>
<circle cx="507.63" cy="276.02" r="0.38" fill="#111"/>
<rect x="508.18" y="278.9" width="2.06" height="9.2" fill="#66c466"/>
<line x1="509.21" y1="274.45" x2="509.21" y2="283.36" stroke="#222" stroke-width="0.35"/>
<circle cx="508.63" cy="277.88" r="0.38" fill="#111"/>
<circle cx="509.68" cy="279.34" r="0.38" fill="#111"/>
<circle cx="509.19" cy="274.53" r="0.38" fill="#111"/>
<circle cx="509.66" cy="283.19" r="0.38" fill="#111"/>
<circle cx="508.72" cy="280.22" r="0.38" fill="#111"/>
<line x1="508.18" y1="290.2" x2="508.18" y2="291.4" stroke="#333" stroke-width="0.35"/>
<text x="509.08" y="292.6" font-size="3.3" font-family="Liberation Serif" fill="#1a1a1a" text-anchor="end" font-weight="bold" transform="rotate(-45 509.08 292.6)">TRAV38-2DV8</text>
<rect x="510.6" y="281.24" width="2.06" height="6.86" fill="#d64545"/>
<line x1="511.63" y1="278.31" x2="511.63" y2="284.16" stroke="#222" stroke-width="0.35"/>
<circle cx="512.06" cy="280.18" r="0.38" fill="#111"/>
<circle cx="511.59" cy="282.14" r="0.38" fill="#111"/>
<circle cx="511.65" cy="280.61" r="0.38" fill="#111"/>
<circle cx="511.46" cy="284.16" r="0.38" fill="#111"/>
<circle cx="511.25" cy="279.11" r="0.38" fill="#111"/>
<rect x="512.66" y="280.95" width="2.06" height="7.15" fill="#66c466"/>
<line x1="513.69" y1="278.06" x2="513.69" y2="283.83" stroke="#222" stroke-width="0.35"/>
<circle cx="513.35" cy="283.9" r="0.38" fill="#111"/>
<circle cx="514.25" cy="283.83" r="0.38" fill="#111"/>
<circle cx="513.91" cy="279.74" r="0.38" fill="#111"/>
<circle cx="513.95" cy="281.88" r="0.38" fill="#111"/>
<line x1="512.66" y1="290.2" x2="512.66" y2="291.4" stroke="#333" stroke-width="0.35"/>
<text x="513.56" y="292.6" font-size="3.3" font-family="Liberation Serif" fill="#1a1a1a" text-anchor="end" font-weight="bold" transform="rotate(-45 513.56 292.6)">TRAV1-2.1</text>
<rect x="515.08" y="278.9" width="2.06" height="9.2" fill="#d64545"/>
<line x1="516.1" y1="274.4" x2="516.1" y2="283.41" stroke="#222" stroke-width="0.35"/>
<circle cx="515.57" cy="279.32" r="0.38" fill="#111"/>
<circle cx="516.3" cy="277.64" r="0.38" fill="#111"/>
<circle cx="515.96" cy="278.17" r="0.38" fill="#111"/>
<circle cx="516.23" cy="274.53" r="0.38" fill="#111"/>
<circle cx="515.66" cy="278.06" r="0.38" fill="#111"/>
<circle cx="516.13" cy="281.45" r="0.38" fill="#111"/>
<circle cx="516.5" cy="271.68" r="0.38" fill="#222"/>
<rect x="517.13" y="279.63" width="2.06" height="8.47" fill="#66c466"/>
<line x1="518.16" y1="275.39" x2="518.16" y2="283.87" stroke="#222" stroke-width="0.35"/>
<circle cx="517.71" cy="285.95" r="0.38" fill="#111"/>
<circle cx="517.77" cy="284.59" r="0.38" fill="#111"/>
<circle cx="518.5" cy="282.95" r="0.38" fill="#111"/>
<circle cx="517.86" cy="269.18" r="0.38" fill="#222"/>
<line x1="517.13" y1="290.2" x2="517.13" y2="291.4" stroke="#333" stroke-width="0.35"/>
<text x="518.03" y="292.6" font-size="3.3" font-family="Liberation Serif" fill="#1a1a1a" text-anchor="end" font-weight="bold" transform="rotate(-45 518.03 292.6)">TRBV4-1.1</text>
<rect x="519.55" y="278.03" width="2.06" height="10.07" fill="#d64545"/>
<line x1="520.58" y1="274.62" x2="520.58" y2="281.43" stroke="#222" stroke-width="0.35"/>
<circle cx="521.02" cy="276.05" r="0.38" fill="#111"/>
<circle cx="520.45" cy="279.69" r="0.38" fill="#111"/>
<circle cx="520.4" cy="283.17" r="0.38" fill="#111"/>
<circle cx="521.14" cy="281.37" r="0.38" fill="#111"/>
<circle cx="521.16" cy="282.48" r="0.38" fill="#111"/>
<circle cx="520.85" cy="264.44" r="0.38" fill="#222"/>
<rect x="521.61" y="279.63" width="2.06" height="8.47" fill="#66c466"/>
<line x1="522.64" y1="276.71" x2="522.64" y2="282.56" stroke="#222" stroke-width="0.35"/>
<circle cx="522.44" cy="279.68" r="0.38" fill="#111"/>
<circle cx="522.77" cy="277.36" r="0.38" fill="#111"/>
<circle cx="522.72" cy="283.1" r="0.38" fill="#111"/>
<circle cx="522.53" cy="284.3" r="0.38" fill="#111"/>
<circle cx="522.26" cy="283.36" r="0.38" fill="#111"/>
<circle cx="522.5" cy="279.04" r="0.38" fill="#111"/>
<line x1="521.61" y1="290.2" x2="521.61" y2="291.4" stroke="#333" stroke-width="0.35"/>
<text x="522.51" y="292.6" font-size="3.3" font-family="Liberation Serif" fill="#1a1a1a" text-anchor="end" font-weight="bold" transform="rotate(-45 522.51 292.6)">TRBV7-2.1</text>
<rect x="524.02" y="279.63" width="2.06" height="8.47" fill="#d64545"/>
<line x1="525.05" y1="275.63" x2="525.05" y2="283.63" stroke="#222" stroke-width="0.35"/>
<circle cx="525.11" cy="275.72" r="0.38" fill="#111"/>
<circle cx="524.7" cy="275.63" r="0.38" fill="#111"/>
<circle cx="524.91" cy="280.62" r="0.38" fill="#111"/>
<circle cx="524.62" cy="282.63" r="0.38" fill="#111"/>
<rect x="526.08" y="278.9" width="2.06" height="9.2" fill="#66c466"/>
<line x1="527.11" y1="275.49" x2="527.11" y2="282.31" stroke="#222" stroke-width="0.35"/>
<circle cx="526.79" cy="280.48" r="0.38" fill="#111"/>
<circle cx="526.72" cy="284.1" r="0.38" fill="#111"/>
<circle cx="527.07" cy="281.16" r="0.38" fill="#111"/>
<circle cx="527.45" cy="281.83" r="0.38" fill="#111"/>
<circle cx="526.67" cy="264.39" r="0.38" fill="#222"/>
<line x1="526.08" y1="290.2" x2="526.08" y2="291.4" stroke="#333" stroke-width="0.35"/>
<text x="526.98" y="292.6" font-size="3.3" font-family="Liberation Serif" fill="#1a1a1a" text-anchor="end" font-weight="bold" transform="rotate(-45 526.98 292.6)">TRBV6-1.1</text>
<rect x="528.5" y="278.9" width="2.06" height="9.2" fill="#d64545"/>
<line x1="529.53" y1="276.4" x2="529.53" y2="281.41" stroke="#222" stroke-width="0.35"/>
<circle cx="529.55" cy="280.95" r="0.38" fill="#111"/>
<circle cx="529.6" cy="281.69" r="0.38" fill="#111"/>
<circle cx="528.94" cy="281.14" r="0.38" fill="#111"/>
<circle cx="530.01" cy="279.4" r="0.38" fill="#111"/>
<circle cx="529.76" cy="279.44" r="0.38" fill="#111"/>
<rect x="530.56" y="278.32" width="2.06" height="9.78" fill="#66c466"/>
<line x1="531.59" y1="273.48" x2="531.59" y2="283.15" stroke="#222" stroke-width="0.35"/>
<circle cx="531.21" cy="275.73" r="0.38" fill="#111"/>
<circle cx="531.8" cy="274.07" r="0.38" fill="#111"/>
<circle cx="532.15" cy="284.52" r="0.38" fill="#111"/>
<line x1="530.56" y1="290.2" x2="530.56" y2="291.4" stroke="#333" stroke-width="0.35"/>
<text x="531.46" y="292.6" font-size="3.3" font-family="Liberation Serif" fill="#1a1a1a" text-anchor="end" font-weight="bold" transform="rotate(-45 531.46 292.6)">TRBV10-2</text>
<rect x="532.98" y="279.63" width="2.06" height="8.47" fill="#d64545"/>
<line x1="534" y1="277.18" x2="534" y2="282.08" stroke="#222" stroke-width="0.35"/>
<circle cx="534.4" cy="278.63" r="0.38" fill="#111"/>
<circle cx="534" cy="279.93" r="0.38" fill="#111"/>
<circle cx="533.95" cy="279.35" r="0.38" fill="#111"/>
<circle cx="533.45" cy="277.16" r="0.38" fill="#111"/>
<circle cx="533.75" cy="283.34" r="0.38" fill="#111"/>
<circle cx="534.48" cy="272.77" r="0.38" fill="#222"/>
<rect x="535.03" y="275.84" width="2.06" height="12.26" fill="#66c466"/>
<line x1="536.06" y1="272.5" x2="536.06" y2="279.17" stroke="#222" stroke-width="0.35"/>
<circle cx="535.9" cy="275.87" r="0.38" fill="#111"/>
<circle cx="535.72" cy="277.54" r="0.38" fill="#111"/>
<circle cx="535.72" cy="274.46" r="0.38" fill="#111"/>
<circle cx="535.8" cy="275.99" r="0.38" fill="#111"/>
<circle cx="536.2" cy="275.67" r="0.38" fill="#111"/>
<circle cx="536.1" cy="273.93" r="0.38" fill="#111"/>
<line x1="535.03" y1="290.2" x2="535.03" y2="291.4" stroke="#333" stroke-width="0.35"/>
<text x="535.93" y="292.6" font-size="3.3" font-family="Liberation Serif" fill="#1a1a1a" text-anchor="end" font-weight="bold" transform="rotate(-45 535.93 292.6)">TRAV8-6.1</text>
<rect x="537.45" y="281.24" width="2.06" height="6.86" fill="#d64545"/>
<line x1="538.48" y1="278.78" x2="538.48" y2="283.69" stroke="#222" stroke-width="0.35"/>
<circle cx="538.65" cy="283.5" r="0.38" fill="#111"/>
<circle cx="538.63" cy="283.84" r="0.38" fill="#111"/>
<circle cx="538.04" cy="284.43" r="0.38" fill="#111"/>
<circle cx="538.65" cy="283.83" r="0.38" fill="#111"/>
<rect x="539.51" y="281.53" width="2.06" height="6.57" fill="#66c466"/>
<line x1="540.54" y1="279.54" x2="540.54" y2="283.52" stroke="#222" stroke-width="0.35"/>
<circle cx="540.79" cy="283.76" r="0.38" fill="#111"/>
<circle cx="540.37" cy="282.55" r="0.38" fill="#111"/>
<circle cx="540.26" cy="284.32" r="0.38" fill="#111"/>
<circle cx="540.07" cy="281.77" r="0.38" fill="#111"/>
<circle cx="540.76" cy="282.43" r="0.38" fill="#111"/>
<line x1="539.51" y1="290.2" x2="539.51" y2="291.4" stroke="#333" stroke-width="0.35"/>
<text x="540.41" y="292.6" font-size="3.3" font-family="Liberation Serif" fill="#1a1a1a" text-anchor="end" font-weight="bold" transform="rotate(-45 540.41 292.6)">TRBV29-1</text>
<rect x="541.92" y="266.2" width="2.06" height="21.9" fill="#d64545"/>
<line x1="542.95" y1="259.17" x2="542.95" y2="273.23" stroke="#222" stroke-width="0.35"/>
<circle cx="542.93" cy="263.1" r="0.38" fill="#111"/>
<circle cx="543.07" cy="264.79" r="0.38" fill="#111"/>
<circle cx="543.07" cy="259.16" r="0.38" fill="#111"/>
<rect x="543.98" y="272.33" width="2.06" height="15.77" fill="#66c466"/>
<line x1="545.01" y1="265.89" x2="545.01" y2="278.78" stroke="#222" stroke-width="0.35"/>
<circle cx="545.07" cy="275.44" r="0.38" fill="#111"/>
<circle cx="545.42" cy="271.92" r="0.38" fill="#111"/>
<circle cx="545.08" cy="276.24" r="0.38" fill="#111"/>
<circle cx="545.36" cy="275.91" r="0.38" fill="#111"/>
<line x1="543.98" y1="290.2" x2="543.98" y2="291.4" stroke="#333" stroke-width="0.35"/>
<text x="544.88" y="292.6" font-size="3.3" font-family="Liberation Serif" fill="#1a1a1a" text-anchor="end" font-weight="bold" transform="rotate(-45 544.88 292.6)">TRBV2-01</text>
<rect x="546.4" y="272.04" width="2.06" height="16.06" fill="#d64545"/>
<line x1="547.43" y1="267.44" x2="547.43" y2="276.64" stroke="#222" stroke-width="0.35"/>
<circle cx="547.35" cy="270.5" r="0.38" fill="#111"/>
<circle cx="547.8" cy="276.1" r="0.38" fill="#111"/>
<circle cx="547.2" cy="271.22" r="0.38" fill="#111"/>
<circle cx="547.41" cy="273.57" r="0.38" fill="#111"/>
<circle cx="547.19" cy="271.97" r="0.38" fill="#111"/>
<circle cx="547.86" cy="262.59" r="0.38" fill="#222"/>
<rect x="548.46" y="276.27" width="2.06" height="11.83" fill="#66c466"/>
<line x1="549.49" y1="270.61" x2="549.49" y2="281.94" stroke="#222" stroke-width="0.35"/>
<circle cx="549.84" cy="284.29" r="0.38" fill="#111"/>
<circle cx="549.86" cy="271.52" r="0.38" fill="#111"/>
<circle cx="549.25" cy="274.08" r="0.38" fill="#111"/>
<circle cx="549.14" cy="267.29" r="0.38" fill="#222"/>
<line x1="548.46" y1="290.2" x2="548.46" y2="291.4" stroke="#333" stroke-width="0.35"/>
<text x="549.36" y="292.6" font-size="3.3" font-family="Liberation Serif" fill="#1a1a1a" text-anchor="end" font-weight="bold" transform="rotate(-45 549.36 292.6)">TRBV14-01</text>
<rect x="550.88" y="284.16" width="2.06" height="3.94" fill="#d64545"/>
<line x1="551.9" y1="282.01" x2="551.9" y2="286.31" stroke="#222" stroke-width="0.35"/>
<circle cx="551.56" cy="284.32" r="0.38" fill="#111"/>
<circle cx="552.01" cy="282.01" r="0.38" fill="#111"/>
<circle cx="552.5" cy="284.86" r="0.38" fill="#111"/>
<circle cx="551.37" cy="283.23" r="0.38" fill="#111"/>
<circle cx="552.14" cy="284.87" r="0.38" fill="#111"/>
<circle cx="551.68" cy="278.93" r="0.38" fill="#222"/>
<rect x="552.93" y="284.16" width="2.06" height="3.94" fill="#66c466"/>
<line x1="553.96" y1="281.94" x2="553.96" y2="286.38" stroke="#222" stroke-width="0.35"/>
<circle cx="553.79" cy="283.36" r="0.38" fill="#111"/>
<circle cx="553.39" cy="283.24" r="0.38" fill="#111"/>
<circle cx="554.28" cy="286.7" r="0.38" fill="#111"/>
<circle cx="553.78" cy="283.61" r="0.38" fill="#111"/>
<circle cx="553.68" cy="287.3" r="0.38" fill="#111"/>
<line x1="552.93" y1="290.2" x2="552.93" y2="291.4" stroke="#333" stroke-width="0.35"/>
<text x="553.83" y="292.6" font-size="3.3" font-family="Liberation Serif" fill="#1a1a1a" text-anchor="end" font-weight="bold" transform="rotate(-45 553.83 292.6)">TRBV7-6.1</text>
<rect x="555.35" y="281.09" width="2.06" height="7.01" fill="#d64545"/>
<line x1="556.38" y1="277.49" x2="556.38" y2="284.7" stroke="#222" stroke-width="0.35"/>
<circle cx="556.42" cy="285.35" r="0.38" fill="#111"/>
<circle cx="556.15" cy="279.87" r="0.38" fill="#111"/>
<circle cx="555.98" cy="285.78" r="0.38" fill="#111"/>
<circle cx="555.81" cy="283.92" r="0.38" fill="#111"/>
<circle cx="556.79" cy="283.46" r="0.38" fill="#111"/>
<rect x="557.41" y="281.97" width="2.06" height="6.13" fill="#66c466"/>
<line x1="558.44" y1="278.61" x2="558.44" y2="285.32" stroke="#222" stroke-width="0.35"/>
<circle cx="558.38" cy="280.4" r="0.38" fill="#111"/>
<circle cx="558.6" cy="280.25" r="0.38" fill="#111"/>
<circle cx="557.9" cy="284.21" r="0.38" fill="#111"/>
<circle cx="558.96" cy="285.42" r="0.38" fill="#111"/>
<circle cx="558.78" cy="281" r="0.38" fill="#111"/>
<circle cx="558.92" cy="281.07" r="0.38" fill="#111"/>
<line x1="557.41" y1="290.2" x2="557.41" y2="291.4" stroke="#333" stroke-width="0.35"/>
<text x="558.31" y="292.6" font-size="3.3" font-family="Liberation Serif" fill="#1a1a1a" text-anchor="end" font-weight="bold" transform="rotate(-45 558.31 292.6)">TRBV6-5.2</text>
<rect x="559.83" y="272.33" width="2.06" height="15.77" fill="#d64545"/>
<line x1="560.85" y1="265.79" x2="560.85" y2="278.87" stroke="#222" stroke-width="0.35"/>
<circle cx="560.27" cy="272.28" r="0.38" fill="#111"/>
<circle cx="560.88" cy="269.15" r="0.38" fill="#111"/>
<circle cx="560.64" cy="270.74" r="0.38" fill="#111"/>
<circle cx="561.2" cy="268.58" r="0.38" fill="#111"/>
<circle cx="560.69" cy="272.4" r="0.38" fill="#111"/>
<circle cx="560.36" cy="277.21" r="0.38" fill="#111"/>
<circle cx="561.11" cy="257.39" r="0.38" fill="#222"/>
<rect x="561.88" y="278.03" width="2.06" height="10.07" fill="#66c466"/>
<line x1="562.91" y1="274.07" x2="562.91" y2="281.99" stroke="#222" stroke-width="0.35"/>
<circle cx="562.98" cy="281.21" r="0.38" fill="#111"/>
<circle cx="562.52" cy="276.44" r="0.38" fill="#111"/>
<circle cx="563.15" cy="279" r="0.38" fill="#111"/>
<circle cx="563.32" cy="279.02" r="0.38" fill="#111"/>
<circle cx="562.38" cy="283.24" r="0.38" fill="#111"/>
<circle cx="562.98" cy="281.2" r="0.38" fill="#111"/>
<circle cx="562.43" cy="265.14" r="0.38" fill="#222"/>
<line x1="561.88" y1="290.2" x2="561.88" y2="291.4" stroke="#333" stroke-width="0.35"/>
<text x="562.78" y="292.6" font-size="3.3" font-family="Liberation Serif" fill="#1a1a1a" text-anchor="end" font-weight="bold" transform="rotate(-45 562.78 292.6)">TRBV7-9.2</text>
<rect x="564.3" y="282.99" width="2.06" height="5.11" fill="#d64545"/>
<line x1="565.33" y1="281.14" x2="565.33" y2="284.84" stroke="#222" stroke-width="0.35"/>
<circle cx="564.9" cy="284.78" r="0.38" fill="#111"/>
<circle cx="564.98" cy="284.85" r="0.38" fill="#111"/>
<circle cx="564.79" cy="284.51" r="0.38" fill="#111"/>
<circle cx="565.15" cy="284.95" r="0.38" fill="#111"/>
<circle cx="564.81" cy="284.39" r="0.38" fill="#111"/>
<circle cx="565.19" cy="283.45" r="0.38" fill="#111"/>
<circle cx="565.25" cy="269.45" r="0.38" fill="#222"/>
<rect x="566.36" y="284.3" width="2.06" height="3.8" fill="#66c466"/>
<line x1="567.39" y1="282.91" x2="567.39" y2="285.7" stroke="#222" stroke-width="0.35"/>
<circle cx="567.77" cy="284.01" r="0.38" fill="#111"/>
<circle cx="567.86" cy="285.56" r="0.38" fill="#111"/>
<circle cx="567.37" cy="284.83" r="0.38" fill="#111"/>
<circle cx="567.44" cy="284.1" r="0.38" fill="#111"/>
<circle cx="567.39" cy="284.16" r="0.38" fill="#111"/>
<circle cx="567.53" cy="276.95" r="0.38" fill="#222"/>
<line x1="566.36" y1="290.2" x2="566.36" y2="291.4" stroke="#333" stroke-width="0.35"/>
<text x="567.26" y="292.6" font-size="3.3" font-family="Liberation Serif" fill="#1a1a1a" text-anchor="end" font-weight="bold" transform="rotate(-45 567.26 292.6)">TRBV10-3</text>
<rect x="568.77" y="279.34" width="2.06" height="8.76" fill="#d64545"/>
<line x1="569.8" y1="275.04" x2="569.8" y2="283.64" stroke="#222" stroke-width="0.35"/>
<circle cx="569.25" cy="284.93" r="0.38" fill="#111"/>
<circle cx="570.36" cy="282.96" r="0.38" fill="#111"/>
<circle cx="570.31" cy="283.47" r="0.38" fill="#111"/>
<circle cx="570.08" cy="282.7" r="0.38" fill="#111"/>
<circle cx="570.32" cy="285.14" r="0.38" fill="#111"/>
<circle cx="569.41" cy="278.88" r="0.38" fill="#111"/>
<circle cx="569.41" cy="264.09" r="0.38" fill="#222"/>
<rect x="570.83" y="279.05" width="2.06" height="9.05" fill="#66c466"/>
<line x1="571.86" y1="275.67" x2="571.86" y2="282.43" stroke="#222" stroke-width="0.35"/>
<circle cx="571.81" cy="276.32" r="0.38" fill="#111"/>
<circle cx="571.71" cy="280.84" r="0.38" fill="#111"/>
<circle cx="571.58" cy="281.81" r="0.38" fill="#111"/>
<circle cx="572.33" cy="275.6" r="0.38" fill="#111"/>
<circle cx="571.65" cy="280.24" r="0.38" fill="#111"/>
<circle cx="571.39" cy="282.51" r="0.38" fill="#111"/>
<circle cx="571.86" cy="265.24" r="0.38" fill="#222"/>
<line x1="570.83" y1="290.2" x2="570.83" y2="291.4" stroke="#333" stroke-width="0.35"/>
<text x="571.73" y="292.6" font-size="3.3" font-family="Liberation Serif" fill="#1a1a1a" text-anchor="end" font-weight="bold" transform="rotate(-45 571.73 292.6)">TRBV25-1</text>
<rect x="573.25" y="279.63" width="2.06" height="8.47" fill="#d64545"/>
<line x1="574.28" y1="276.1" x2="574.28" y2="283.17" stroke="#222" stroke-width="0.35"/>
<circle cx="574.24" cy="283.41" r="0.38" fill="#111"/>
<circle cx="574.18" cy="284.12" r="0.38" fill="#111"/>
<circle cx="574.24" cy="277.45" r="0.38" fill="#111"/>
<circle cx="574.42" cy="278.68" r="0.38" fill="#111"/>
<circle cx="574.17" cy="278.04" r="0.38" fill="#111"/>
<circle cx="574.74" cy="282.02" r="0.38" fill="#111"/>
<rect x="575.31" y="278.32" width="2.06" height="9.78" fill="#66c466"/>
<line x1="576.34" y1="273.6" x2="576.34" y2="283.03" stroke="#222" stroke-width="0.35"/>
<circle cx="575.79" cy="273.24" r="0.38" fill="#111"/>
<circle cx="576.25" cy="279.66" r="0.38" fill="#111"/>
<circle cx="576.76" cy="275.14" r="0.38" fill="#111"/>
<circle cx="576.72" cy="278.21" r="0.38" fill="#111"/>
<circle cx="576.37" cy="275.34" r="0.38" fill="#111"/>
<circle cx="575.96" cy="285.36" r="0.38" fill="#111"/>
<circle cx="576.69" cy="272.59" r="0.38" fill="#222"/>
<line x1="575.31" y1="290.2" x2="575.31" y2="291.4" stroke="#333" stroke-width="0.35"/>
<text x="576.21" y="292.6" font-size="3.3" font-family="Liberation Serif" fill="#1a1a1a" text-anchor="end" font-weight="bold" transform="rotate(-45 576.21 292.6)">TRBV6-6.1</text>
<rect x="577.73" y="274.67" width="2.06" height="13.43" fill="#d64545"/>
<line x1="578.75" y1="269.43" x2="578.75" y2="279.91" stroke="#222" stroke-width="0.35"/>
<circle cx="578.49" cy="276.24" r="0.38" fill="#111"/>
<circle cx="578.56" cy="276.5" r="0.38" fill="#111"/>
<circle cx="578.23" cy="274.41" r="0.38" fill="#111"/>
<rect x="579.78" y="274.96" width="2.06" height="13.14" fill="#66c466"/>
<line x1="580.81" y1="268.61" x2="580.81" y2="281.31" stroke="#222" stroke-width="0.35"/>
<circle cx="580.36" cy="279.59" r="0.38" fill="#111"/>
<circle cx="580.92" cy="283.87" r="0.38" fill="#111"/>
<circle cx="580.32" cy="285.1" r="0.38" fill="#111"/>
<circle cx="581.19" cy="280.43" r="0.38" fill="#111"/>
<circle cx="580.5" cy="285" r="0.38" fill="#111"/>
<circle cx="581.28" cy="273.57" r="0.38" fill="#111"/>
<line x1="579.78" y1="290.2" x2="579.78" y2="291.4" stroke="#333" stroke-width="0.35"/>
<text x="580.68" y="292.6" font-size="3.3" font-family="Liberation Serif" fill="#1a1a1a" text-anchor="end" font-weight="bold" transform="rotate(-45 580.68 292.6)">TRAV21-01</text>
<rect x="582.2" y="284.89" width="2.06" height="3.21" fill="#d64545"/>
<line x1="583.23" y1="283.56" x2="583.23" y2="286.22" stroke="#222" stroke-width="0.35"/>
<circle cx="582.77" cy="286.02" r="0.38" fill="#111"/>
<circle cx="582.97" cy="285.75" r="0.38" fill="#111"/>
<circle cx="583.48" cy="286.79" r="0.38" fill="#111"/>
<circle cx="583.27" cy="284.01" r="0.38" fill="#111"/>
<circle cx="583.02" cy="283.44" r="0.38" fill="#111"/>
<rect x="584.26" y="283.57" width="2.06" height="4.53" fill="#66c466"/>
<line x1="585.29" y1="281.24" x2="585.29" y2="285.9" stroke="#222" stroke-width="0.35"/>
<circle cx="584.73" cy="283.46" r="0.38" fill="#111"/>
<circle cx="585.33" cy="285.52" r="0.38" fill="#111"/>
<circle cx="585.33" cy="282.37" r="0.38" fill="#111"/>
<circle cx="585.82" cy="281.51" r="0.38" fill="#111"/>
<circle cx="585.57" cy="286.34" r="0.38" fill="#111"/>
<circle cx="584.9" cy="287.26" r="0.38" fill="#111"/>
<line x1="584.26" y1="290.2" x2="584.26" y2="291.4" stroke="#333" stroke-width="0.35"/>
<text x="585.16" y="292.6" font-size="3.3" font-family="Liberation Serif" fill="#1a1a1a" text-anchor="end" font-weight="bold" transform="rotate(-45 585.16 292.6)">TRBV12-3</text>
<rect x="586.67" y="274.38" width="2.06" height="13.72" fill="#d64545"/>
<line x1="587.7" y1="267.75" x2="587.7" y2="281" stroke="#222" stroke-width="0.35"/>
<circle cx="587.24" cy="278.55" r="0.38" fill="#111"/>
<circle cx="587.77" cy="275.93" r="0.38" fill="#111"/>
<circle cx="587.45" cy="276.7" r="0.38" fill="#111"/>
<circle cx="587.51" cy="264.04" r="0.38" fill="#222"/>
<rect x="588.73" y="274.96" width="2.06" height="13.14" fill="#66c466"/>
<line x1="589.76" y1="268.57" x2="589.76" y2="281.35" stroke="#222" stroke-width="0.35"/>
<circle cx="589.47" cy="280.36" r="0.38" fill="#111"/>
<circle cx="590.33" cy="268.71" r="0.38" fill="#111"/>
<circle cx="589.6" cy="276.84" r="0.38" fill="#111"/>
<circle cx="590.11" cy="271.75" r="0.38" fill="#111"/>
<line x1="588.73" y1="290.2" x2="588.73" y2="291.4" stroke="#333" stroke-width="0.35"/>
<text x="589.63" y="292.6" font-size="3.3" font-family="Liberation Serif" fill="#1a1a1a" text-anchor="end" font-weight="bold" transform="rotate(-45 589.63 292.6)">TRBV18-01</text>
<rect x="591.15" y="278.32" width="2.06" height="9.78" fill="#d64545"/>
<line x1="592.18" y1="274.45" x2="592.18" y2="282.19" stroke="#222" stroke-width="0.35"/>
<circle cx="591.84" cy="282.43" r="0.38" fill="#111"/>
<circle cx="592.57" cy="280.43" r="0.38" fill="#111"/>
<circle cx="592.23" cy="275.33" r="0.38" fill="#111"/>
<circle cx="592.07" cy="283.79" r="0.38" fill="#111"/>
<rect x="593.21" y="278.32" width="2.06" height="9.78" fill="#66c466"/>
<line x1="594.24" y1="273.89" x2="594.24" y2="282.75" stroke="#222" stroke-width="0.35"/>
<circle cx="593.8" cy="281.49" r="0.38" fill="#111"/>
<circle cx="593.74" cy="283.45" r="0.38" fill="#111"/>
<circle cx="593.92" cy="279.56" r="0.38" fill="#111"/>
<circle cx="594.09" cy="279.92" r="0.38" fill="#111"/>
<circle cx="594.75" cy="275.68" r="0.38" fill="#111"/>
<line x1="593.21" y1="290.2" x2="593.21" y2="291.4" stroke="#333" stroke-width="0.35"/>
<text x="594.11" y="292.6" font-size="3.3" font-family="Liberation Serif" fill="#1a1a1a" text-anchor="end" font-weight="bold" transform="rotate(-45 594.11 292.6)">TRBV24-1</text>
<rect x="595.62" y="280.95" width="2.06" height="7.15" fill="#d64545"/>
<line x1="596.65" y1="277.34" x2="596.65" y2="284.55" stroke="#222" stroke-width="0.35"/>
<circle cx="596.98" cy="282.25" r="0.38" fill="#111"/>
<circle cx="596.09" cy="283.42" r="0.38" fill="#111"/>
<circle cx="596.53" cy="286.13" r="0.38" fill="#111"/>
<circle cx="597.24" cy="283.18" r="0.38" fill="#111"/>
<circle cx="596.49" cy="285.12" r="0.38" fill="#111"/>
<circle cx="596.66" cy="279.47" r="0.38" fill="#111"/>
<rect x="597.68" y="279.63" width="2.06" height="8.47" fill="#66c466"/>
<line x1="598.71" y1="277.05" x2="598.71" y2="282.21" stroke="#222" stroke-width="0.35"/>
<circle cx="598.33" cy="282.66" r="0.38" fill="#111"/>
<circle cx="598.76" cy="281.09" r="0.38" fill="#111"/>
<circle cx="599.14" cy="278.28" r="0.38" fill="#111"/>
<circle cx="599.05" cy="277.75" r="0.38" fill="#111"/>
<circle cx="599.1" cy="273.06" r="0.38" fill="#222"/>
<line x1="597.68" y1="290.2" x2="597.68" y2="291.4" stroke="#333" stroke-width="0.35"/>
<text x="598.58" y="292.6" font-size="3.3" font-family="Liberation Serif" fill="#1a1a1a" text-anchor="end" font-weight="bold" transform="rotate(-45 598.58 292.6)">TRBV4-2.1</text>
<rect x="600.1" y="275.98" width="2.06" height="12.12" fill="#d64545"/>
<line x1="601.13" y1="270.85" x2="601.13" y2="281.12" stroke="#222" stroke-width="0.35"/>
<circle cx="601.45" cy="279.67" r="0.38" fill="#111"/>
<circle cx="601.06" cy="274.09" r="0.38" fill="#111"/>
<circle cx="601.38" cy="278.54" r="0.38" fill="#111"/>
<circle cx="600.98" cy="262.97" r="0.38" fill="#222"/>
<rect x="602.16" y="278.32" width="2.06" height="9.78" fill="#66c466"/>
<line x1="603.19" y1="275.54" x2="603.19" y2="281.1" stroke="#222" stroke-width="0.35"/>
<circle cx="603.41" cy="278.27" r="0.38" fill="#111"/>
<circle cx="602.66" cy="277.72" r="0.38" fill="#111"/>
<circle cx="602.97" cy="280.49" r="0.38" fill="#111"/>
<circle cx="602.64" cy="275.79" r="0.38" fill="#111"/>
<line x1="602.16" y1="290.2" x2="602.16" y2="291.4" stroke="#333" stroke-width="0.35"/>
<text x="603.06" y="292.6" font-size="3.3" font-family="Liberation Serif" fill="#1a1a1a" text-anchor="end" font-weight="bold" transform="rotate(-45 603.06 292.6)">TRAJ33-1</text>
<rect x="604.58" y="286.93" width="2.06" height="1.17" fill="#d64545"/>
<line x1="605.6" y1="285.95" x2="605.6" y2="287.87" stroke="#222" stroke-width="0.35"/>
<circle cx="606.19" cy="286.67" r="0.38" fill="#111"/>
<circle cx="605.2" cy="286.59" r="0.38" fill="#111"/>
<circle cx="605.31" cy="287.63" r="0.38" fill="#111"/>
<circle cx="605.84" cy="287.26" r="0.38" fill="#111"/>
<rect x="606.63" y="286.93" width="2.06" height="1.17" fill="#66c466"/>
<line x1="607.66" y1="285.97" x2="607.66" y2="287.87" stroke="#222" stroke-width="0.35"/>
<circle cx="607.18" cy="287.85" r="0.38" fill="#111"/>
<circle cx="608.02" cy="287.78" r="0.38" fill="#111"/>
<circle cx="607.3" cy="287.7" r="0.38" fill="#111"/>
<circle cx="607.48" cy="276.61" r="0.38" fill="#222"/>
<line x1="606.63" y1="290.2" x2="606.63" y2="291.4" stroke="#333" stroke-width="0.35"/>
<text x="607.53" y="292.6" font-size="3.3" font-family="Liberation Serif" fill="#1a1a1a" text-anchor="end" font-weight="bold" transform="rotate(-45 607.53 292.6)">TRBV19-01</text>
<rect x="609.05" y="282.55" width="2.06" height="5.55" fill="#d64545"/>
<line x1="610.08" y1="280.25" x2="610.08" y2="284.86" stroke="#222" stroke-width="0.35"/>
<circle cx="609.92" cy="281.92" r="0.38" fill="#111"/>
<circle cx="609.91" cy="283.87" r="0.38" fill="#111"/>
<circle cx="609.91" cy="282.1" r="0.38" fill="#111"/>
<rect x="611.11" y="280.95" width="2.06" height="7.15" fill="#66c466"/>
<line x1="612.14" y1="277.17" x2="612.14" y2="284.72" stroke="#222" stroke-width="0.35"/>
<circle cx="612.38" cy="282.6" r="0.38" fill="#111"/>
<circle cx="612.02" cy="280.21" r="0.38" fill="#111"/>
<circle cx="612.23" cy="284.93" r="0.38" fill="#111"/>
<circle cx="612.37" cy="283.2" r="0.38" fill="#111"/>
<circle cx="612.33" cy="279.93" r="0.38" fill="#111"/>
<circle cx="612.38" cy="283.34" r="0.38" fill="#111"/>
<circle cx="612.28" cy="270.15" r="0.38" fill="#222"/>
<line x1="611.11" y1="290.2" x2="611.11" y2="291.4" stroke="#333" stroke-width="0.35"/>
<text x="612.01" y="292.6" font-size="3.3" font-family="Liberation Serif" fill="#1a1a1a" text-anchor="end" font-weight="bold" transform="rotate(-45 612.01 292.6)">TRBV15-01</text>
<rect x="613.52" y="278.03" width="2.06" height="10.07" fill="#d64545"/>
<line x1="614.55" y1="274.35" x2="614.55" y2="281.7" stroke="#222" stroke-width="0.35"/>
<circle cx="615.08" cy="278.91" r="0.38" fill="#111"/>
<circle cx="614.68" cy="275.6" r="0.38" fill="#111"/>
<circle cx="614.44" cy="280.98" r="0.38" fill="#111"/>
<circle cx="614.08" cy="276.05" r="0.38" fill="#111"/>
<circle cx="614.2" cy="265.14" r="0.38" fill="#222"/>
<rect x="615.58" y="277.73" width="2.06" height="10.37" fill="#66c466"/>
<line x1="616.61" y1="274.88" x2="616.61" y2="280.59" stroke="#222" stroke-width="0.35"/>
<circle cx="616.93" cy="274.6" r="0.38" fill="#111"/>
<circle cx="616.87" cy="281.66" r="0.38" fill="#111"/>
<circle cx="617.02" cy="278.7" r="0.38" fill="#111"/>
<circle cx="616.35" cy="277.15" r="0.38" fill="#111"/>
<circle cx="617.07" cy="280.65" r="0.38" fill="#111"/>
<circle cx="616.65" cy="278.9" r="0.38" fill="#111"/>
<line x1="615.58" y1="290.2" x2="615.58" y2="291.4" stroke="#333" stroke-width="0.35"/>
<text x="616.48" y="292.6" font-size="3.3" font-family="Liberation Serif" fill="#1a1a1a" text-anchor="end" font-weight="bold" transform="rotate(-45 616.48 292.6)">TRBV3-1.1</text>
<rect x="618" y="273.06" width="2.06" height="15.04" fill="#d64545"/>
<line x1="619.03" y1="267.99" x2="619.03" y2="278.13" stroke="#222" stroke-width="0.35"/>
<circle cx="619.62" cy="275.66" r="0.38" fill="#111"/>
<circle cx="619.54" cy="276.81" r="0.38" fill="#111"/>
<circle cx="618.52" cy="272.59" r="0.38" fill="#111"/>
<circle cx="619.01" cy="272.19" r="0.38" fill="#111"/>
<circle cx="619.44" cy="270.24" r="0.38" fill="#111"/>
<circle cx="619.24" cy="277.94" r="0.38" fill="#111"/>
<rect x="620.06" y="267.81" width="2.06" height="20.29" fill="#66c466"/>
<line x1="621.09" y1="259.53" x2="621.09" y2="276.08" stroke="#222" stroke-width="0.35"/>
<circle cx="620.68" cy="276.4" r="0.38" fill="#111"/>
<circle cx="620.85" cy="270.66" r="0.38" fill="#111"/>
<circle cx="621" cy="274.19" r="0.38" fill="#111"/>
<circle cx="621.13" cy="264.8" r="0.38" fill="#111"/>
<line x1="620.06" y1="290.2" x2="620.06" y2="291.4" stroke="#333" stroke-width="0.35"/>
<text x="620.96" y="292.6" font-size="3.3" font-family="Liberation Serif" fill="#1a1a1a" text-anchor="end" font-weight="bold" transform="rotate(-45 620.96 292.6)">TRBV5-6.1</text>
<rect x="622.48" y="278.32" width="2.06" height="9.78" fill="#d64545"/>
<line x1="623.5" y1="273.65" x2="623.5" y2="282.99" stroke="#222" stroke-width="0.35"/>
<circle cx="623.04" cy="282.89" r="0.38" fill="#111"/>
<circle cx="623.22" cy="280.38" r="0.38" fill="#111"/>
<circle cx="623.01" cy="279.48" r="0.38" fill="#111"/>
<circle cx="623.52" cy="276.79" r="0.38" fill="#111"/>
<rect x="624.53" y="275.98" width="2.06" height="12.12" fill="#66c466"/>
<line x1="625.56" y1="269.99" x2="625.56" y2="281.97" stroke="#222" stroke-width="0.35"/>
<circle cx="625.07" cy="277.72" r="0.38" fill="#111"/>
<circle cx="625" cy="273.59" r="0.38" fill="#111"/>
<circle cx="625.84" cy="283.41" r="0.38" fill="#111"/>
<circle cx="625.93" cy="275.51" r="0.38" fill="#111"/>
<circle cx="626.01" cy="279.96" r="0.38" fill="#111"/>
<circle cx="625.74" cy="272.86" r="0.38" fill="#111"/>
<line x1="624.53" y1="290.2" x2="624.53" y2="291.4" stroke="#333" stroke-width="0.35"/>
<text x="625.43" y="292.6" font-size="3.3" font-family="Liberation Serif" fill="#1a1a1a" text-anchor="end" font-weight="bold" transform="rotate(-45 625.43 292.6)">TRAV12-1.1</text>
<rect x="626.95" y="284.89" width="2.06" height="3.21" fill="#d64545"/>
<line x1="627.98" y1="283.4" x2="627.98" y2="286.38" stroke="#222" stroke-width="0.35"/>
<circle cx="628.16" cy="283.7" r="0.38" fill="#111"/>
<circle cx="627.68" cy="286.75" r="0.38" fill="#111"/>
<circle cx="627.93" cy="284.82" r="0.38" fill="#111"/>
<circle cx="628.27" cy="284.87" r="0.38" fill="#111"/>
<circle cx="628.14" cy="285.34" r="0.38" fill="#111"/>
<circle cx="627.48" cy="274.7" r="0.38" fill="#222"/>
<rect x="629.01" y="283.43" width="2.06" height="4.67" fill="#66c466"/>
<line x1="630.04" y1="281.81" x2="630.04" y2="285.04" stroke="#222" stroke-width="0.35"/>
<circle cx="629.54" cy="285.91" r="0.38" fill="#111"/>
<circle cx="630.36" cy="282.81" r="0.38" fill="#111"/>
<circle cx="630.38" cy="284.66" r="0.38" fill="#111"/>
<circle cx="629.93" cy="282.25" r="0.38" fill="#111"/>
<circle cx="629.47" cy="283.7" r="0.38" fill="#111"/>
<circle cx="629.64" cy="284.12" r="0.38" fill="#111"/>
<line x1="629.01" y1="290.2" x2="629.01" y2="291.4" stroke="#333" stroke-width="0.35"/>
<text x="629.91" y="292.6" font-size="3.3" font-family="Liberation Serif" fill="#1a1a1a" text-anchor="end" font-weight="bold" transform="rotate(-45 629.91 292.6)">TRBV28-01</text>
<rect x="631.42" y="277" width="2.06" height="11.1" fill="#d64545"/>
<line x1="632.45" y1="272.06" x2="632.45" y2="281.95" stroke="#222" stroke-width="0.35"/>
<circle cx="632.04" cy="277.17" r="0.38" fill="#111"/>
<circle cx="632.8" cy="272.86" r="0.38" fill="#111"/>
<circle cx="632.56" cy="277.71" r="0.38" fill="#111"/>
<rect x="633.48" y="276.42" width="2.06" height="11.68" fill="#66c466"/>
<line x1="634.51" y1="271.57" x2="634.51" y2="281.27" stroke="#222" stroke-width="0.35"/>
<circle cx="633.99" cy="272.61" r="0.38" fill="#111"/>
<circle cx="635.04" cy="277.66" r="0.38" fill="#111"/>
<circle cx="634.21" cy="278.39" r="0.38" fill="#111"/>
<circle cx="634.53" cy="283.68" r="0.38" fill="#111"/>
<circle cx="634.89" cy="277.03" r="0.38" fill="#111"/>
<line x1="633.48" y1="290.2" x2="633.48" y2="291.4" stroke="#333" stroke-width="0.35"/>
<text x="634.38" y="292.6" font-size="3.3" font-family="Liberation Serif" fill="#1a1a1a" text-anchor="end" font-weight="bold" transform="rotate(-45 634.38 292.6)">TRBV27-01</text>
<rect x="635.9" y="277.59" width="2.06" height="10.51" fill="#d64545"/>
<line x1="636.93" y1="273.99" x2="636.93" y2="281.18" stroke="#222" stroke-width="0.35"/>
<circle cx="636.47" cy="283.11" r="0.38" fill="#111"/>
<circle cx="637.36" cy="279.61" r="0.38" fill="#111"/>
<circle cx="636.8" cy="276.64" r="0.38" fill="#111"/>
<circle cx="636.45" cy="262.41" r="0.38" fill="#222"/>
<rect x="637.96" y="279.63" width="2.06" height="8.47" fill="#66c466"/>
<line x1="638.99" y1="276.49" x2="638.99" y2="282.77" stroke="#222" stroke-width="0.35"/>
<circle cx="639.22" cy="281.03" r="0.38" fill="#111"/>
<circle cx="638.43" cy="283.27" r="0.38" fill="#111"/>
<circle cx="639.43" cy="283.31" r="0.38" fill="#111"/>
<line x1="637.96" y1="290.2" x2="637.96" y2="291.4" stroke="#333" stroke-width="0.35"/>
<text x="638.86" y="292.6" font-size="3.3" font-family="Liberation Serif" fill="#1a1a1a" text-anchor="end" font-weight="bold" transform="rotate(-45 638.86 292.6)">TRBV11-2</text>
<rect x="640.38" y="278.03" width="2.06" height="10.07" fill="#d64545"/>
<line x1="641.4" y1="273.92" x2="641.4" y2="282.13" stroke="#222" stroke-width="0.35"/>
<circle cx="640.84" cy="275.47" r="0.38" fill="#111"/>
<circle cx="640.98" cy="273.73" r="0.38" fill="#111"/>
<circle cx="641.81" cy="275.78" r="0.38" fill="#111"/>
<circle cx="641.48" cy="280.88" r="0.38" fill="#111"/>
<circle cx="641.22" cy="262.46" r="0.38" fill="#222"/>
<rect x="642.43" y="278.46" width="2.06" height="9.64" fill="#66c466"/>
<line x1="643.46" y1="273.78" x2="643.46" y2="283.15" stroke="#222" stroke-width="0.35"/>
<circle cx="643.64" cy="277.87" r="0.38" fill="#111"/>
<circle cx="643.63" cy="276.48" r="0.38" fill="#111"/>
<circle cx="643.57" cy="280.05" r="0.38" fill="#111"/>
<circle cx="643.14" cy="273.99" r="0.38" fill="#111"/>
<circle cx="643.48" cy="276.89" r="0.38" fill="#111"/>
<circle cx="643.34" cy="267.32" r="0.38" fill="#222"/>
<line x1="642.43" y1="290.2" x2="642.43" y2="291.4" stroke="#333" stroke-width="0.35"/>
<text x="643.33" y="292.6" font-size="3.3" font-family="Liberation Serif" fill="#1a1a1a" text-anchor="end" font-weight="bold" transform="rotate(-45 643.33 292.6)">TRBV7-8.1</text>
<rect x="644.85" y="283.87" width="2.06" height="4.23" fill="#d64545"/>
<line x1="645.88" y1="281.82" x2="645.88" y2="285.91" stroke="#222" stroke-width="0.35"/>
<circle cx="645.84" cy="282.19" r="0.38" fill="#111"/>
<circle cx="645.36" cy="286.33" r="0.38" fill="#111"/>
<circle cx="646.13" cy="283.95" r="0.38" fill="#111"/>
<circle cx="645.38" cy="282.12" r="0.38" fill="#111"/>
<circle cx="646.15" cy="282.96" r="0.38" fill="#111"/>
<rect x="646.91" y="283.14" width="2.06" height="4.96" fill="#66c466"/>
<line x1="647.94" y1="280.3" x2="647.94" y2="285.97" stroke="#222" stroke-width="0.35"/>
<circle cx="648.51" cy="282.66" r="0.38" fill="#111"/>
<circle cx="648.15" cy="283.29" r="0.38" fill="#111"/>
<circle cx="648.41" cy="287.64" r="0.38" fill="#111"/>
<circle cx="648.35" cy="283.54" r="0.38" fill="#111"/>
<circle cx="648.51" cy="280.33" r="0.38" fill="#111"/>
<line x1="646.91" y1="290.2" x2="646.91" y2="291.4" stroke="#333" stroke-width="0.35"/>
<text x="647.81" y="292.6" font-size="3.3" font-family="Liberation Serif" fill="#1a1a1a" text-anchor="end" font-weight="bold" transform="rotate(-45 647.81 292.6)">TRBV20-1</text>
<rect x="649.33" y="283.57" width="2.06" height="4.53" fill="#d64545"/>
<line x1="650.35" y1="281.67" x2="650.35" y2="285.48" stroke="#222" stroke-width="0.35"/>
<circle cx="650.8" cy="281.7" r="0.38" fill="#111"/>
<circle cx="650.35" cy="284.92" r="0.38" fill="#111"/>
<circle cx="650.12" cy="285.6" r="0.38" fill="#111"/>
<circle cx="650.6" cy="284.84" r="0.38" fill="#111"/>
<rect x="651.38" y="283.14" width="2.06" height="4.96" fill="#66c466"/>
<line x1="652.41" y1="280.79" x2="652.41" y2="285.48" stroke="#222" stroke-width="0.35"/>
<circle cx="652.18" cy="280.75" r="0.38" fill="#111"/>
<circle cx="651.94" cy="284.98" r="0.38" fill="#111"/>
<circle cx="652.24" cy="285.62" r="0.38" fill="#111"/>
<circle cx="652.1" cy="286.15" r="0.38" fill="#111"/>
<line x1="651.38" y1="290.2" x2="651.38" y2="291.4" stroke="#333" stroke-width="0.35"/>
<text x="652.28" y="292.6" font-size="3.3" font-family="Liberation Serif" fill="#1a1a1a" text-anchor="end" font-weight="bold" transform="rotate(-45 652.28 292.6)">TRBV5-1.1</text>
<rect x="653.8" y="282.7" width="2.06" height="5.4" fill="#d64545"/>
<line x1="654.83" y1="279.86" x2="654.83" y2="285.54" stroke="#222" stroke-width="0.35"/>
<circle cx="655.43" cy="283.42" r="0.38" fill="#111"/>
<circle cx="654.94" cy="286.29" r="0.38" fill="#111"/>
<circle cx="655.3" cy="286.5" r="0.38" fill="#111"/>
<circle cx="654.8" cy="283.14" r="0.38" fill="#111"/>
<circle cx="654.75" cy="279.83" r="0.38" fill="#111"/>
<circle cx="654.55" cy="272.23" r="0.38" fill="#222"/>
<rect x="655.86" y="283.14" width="2.06" height="4.96" fill="#66c466"/>
<line x1="656.89" y1="281.48" x2="656.89" y2="284.79" stroke="#222" stroke-width="0.35"/>
<circle cx="656.66" cy="282.12" r="0.38" fill="#111"/>
<circle cx="656.79" cy="285.37" r="0.38" fill="#111"/>
<circle cx="656.63" cy="281.69" r="0.38" fill="#111"/>
<circle cx="656.48" cy="283.87" r="0.38" fill="#111"/>
<line x1="655.86" y1="290.2" x2="655.86" y2="291.4" stroke="#333" stroke-width="0.35"/>
<text x="656.76" y="292.6" font-size="3.3" font-family="Liberation Serif" fill="#1a1a1a" text-anchor="end" font-weight="bold" transform="rotate(-45 656.76 292.6)">TRBV9-01</text>
<rect x="658.27" y="278.9" width="2.06" height="9.2" fill="#d64545"/>
<line x1="659.3" y1="275.35" x2="659.3" y2="282.45" stroke="#222" stroke-width="0.35"/>
<circle cx="659.25" cy="282.01" r="0.38" fill="#111"/>
<circle cx="659.76" cy="276.54" r="0.38" fill="#111"/>
<circle cx="659.68" cy="279.47" r="0.38" fill="#111"/>
<circle cx="659.61" cy="277.04" r="0.38" fill="#111"/>
<circle cx="658.85" cy="278.64" r="0.38" fill="#111"/>
<rect x="660.33" y="275.69" width="2.06" height="12.41" fill="#66c466"/>
<line x1="661.36" y1="270.27" x2="661.36" y2="281.11" stroke="#222" stroke-width="0.35"/>
<circle cx="661.5" cy="277.33" r="0.38" fill="#111"/>
<circle cx="660.85" cy="279.68" r="0.38" fill="#111"/>
<circle cx="661.89" cy="283.93" r="0.38" fill="#111"/>
<circle cx="660.97" cy="273.53" r="0.38" fill="#111"/>
<line x1="660.33" y1="290.2" x2="660.33" y2="291.4" stroke="#333" stroke-width="0.35"/>
<text x="661.23" y="292.6" font-size="3.3" font-family="Liberation Serif" fill="#1a1a1a" text-anchor="end" font-weight="bold" transform="rotate(-45 661.23 292.6)">TRBV30-01</text>
<rect x="664.81" y="287.81" width="2.06" height="0.29" fill="#66c466"/>
<line x1="664.81" y1="290.2" x2="664.81" y2="291.4" stroke="#333" stroke-width="0.35"/>
<text x="665.71" y="292.6" font-size="3.3" font-family="Liberation Serif" fill="#1a1a1a" text-anchor="end" font-weight="bold" transform="rotate(-45 665.71 292.6)">TRBV13-01</text>
<rect x="667.23" y="284.89" width="2.06" height="3.21" fill="#d64545"/>
<line x1="668.25" y1="283.58" x2="668.25" y2="286.2" stroke="#222" stroke-width="0.35"/>
<circle cx="668.81" cy="284.54" r="0.38" fill="#111"/>
<circle cx="668.24" cy="283.92" r="0.38" fill="#111"/>
<circle cx="667.81" cy="283.89" r="0.38" fill="#111"/>
<circle cx="668.6" cy="285.98" r="0.38" fill="#111"/>
<circle cx="668.85" cy="284" r="0.38" fill="#111"/>
<circle cx="668.01" cy="283.98" r="0.38" fill="#111"/>
<circle cx="668.01" cy="276.01" r="0.38" fill="#222"/>
<rect x="669.28" y="284.16" width="2.06" height="3.94" fill="#66c466"/>
<line x1="670.31" y1="282.76" x2="670.31" y2="285.56" stroke="#222" stroke-width="0.35"/>
<circle cx="669.87" cy="285.07" r="0.38" fill="#111"/>
<circle cx="669.87" cy="283.71" r="0.38" fill="#111"/>
<circle cx="670.44" cy="286.14" r="0.38" fill="#111"/>
<line x1="669.28" y1="290.2" x2="669.28" y2="291.4" stroke="#333" stroke-width="0.35"/>
<text x="670.18" y="292.6" font-size="3.3" font-family="Liberation Serif" fill="#1a1a1a" text-anchor="end" font-weight="bold" transform="rotate(-45 670.18 292.6)">TRAV38-2DV8</text>
<rect x="671.7" y="281.09" width="2.06" height="7.01" fill="#d64545"/>
<line x1="672.73" y1="277.75" x2="672.73" y2="284.44" stroke="#222" stroke-width="0.35"/>
<circle cx="672.35" cy="286.16" r="0.38" fill="#111"/>
<circle cx="672.7" cy="280.71" r="0.38" fill="#111"/>
<circle cx="672.73" cy="282.93" r="0.38" fill="#111"/>
<circle cx="672.51" cy="279.67" r="0.38" fill="#111"/>
<circle cx="672.22" cy="283.5" r="0.38" fill="#111"/>
<circle cx="672.23" cy="284.88" r="0.38" fill="#111"/>
<circle cx="673.1" cy="274.71" r="0.38" fill="#222"/>
<rect x="673.76" y="279.92" width="2.06" height="8.18" fill="#66c466"/>
<line x1="674.79" y1="276.63" x2="674.79" y2="283.22" stroke="#222" stroke-width="0.35"/>
<circle cx="674.35" cy="277.04" r="0.38" fill="#111"/>
<circle cx="675.12" cy="283.98" r="0.38" fill="#111"/>
<circle cx="674.71" cy="277.95" r="0.38" fill="#111"/>
<circle cx="674.99" cy="281.42" r="0.38" fill="#111"/>
<circle cx="674.31" cy="268.81" r="0.38" fill="#222"/>
<line x1="673.76" y1="290.2" x2="673.76" y2="291.4" stroke="#333" stroke-width="0.35"/>
<text x="674.66" y="292.6" font-size="3.3" font-family="Liberation Serif" fill="#1a1a1a" text-anchor="end" font-weight="bold" transform="rotate(-45 674.66 292.6)">TRAV1-2.1</text>
<rect x="676.17" y="276.42" width="2.06" height="11.68" fill="#d64545"/>
<line x1="677.2" y1="271.77" x2="677.2" y2="281.07" stroke="#222" stroke-width="0.35"/>
<circle cx="677.68" cy="273.11" r="0.38" fill="#111"/>
<circle cx="677.08" cy="274.93" r="0.38" fill="#111"/>
<circle cx="677.09" cy="281.92" r="0.38" fill="#111"/>
<circle cx="677.31" cy="278.54" r="0.38" fill="#111"/>
<circle cx="677.14" cy="281.2" r="0.38" fill="#111"/>
<rect x="678.23" y="274.08" width="2.06" height="14.02" fill="#66c466"/>
<line x1="679.26" y1="269.88" x2="679.26" y2="278.29" stroke="#222" stroke-width="0.35"/>
<circle cx="678.93" cy="272.41" r="0.38" fill="#111"/>
<circle cx="679.11" cy="270.28" r="0.38" fill="#111"/>
<circle cx="679" cy="271.31" r="0.38" fill="#111"/>
<circle cx="679.5" cy="258.37" r="0.38" fill="#222"/>
<line x1="678.23" y1="290.2" x2="678.23" y2="291.4" stroke="#333" stroke-width="0.35"/>
<text x="679.13" y="292.6" font-size="3.3" font-family="Liberation Serif" fill="#1a1a1a" text-anchor="end" font-weight="bold" transform="rotate(-45 679.13 292.6)">TRBV4-1.1</text>
<rect x="528" y="264.8" width="5.3" height="24" fill="none" stroke="#e03030" stroke-width="0.9" stroke-dasharray="2.6,1.4"/>
<rect x="563.4" y="224.2" width="6.1" height="5.5" fill="#d64545"/>
<circle cx="566.4" cy="226.95" r="0.4" fill="#333"/>
<text x="570.5" y="228.6" font-size="4.5" font-family="Liberation Serif" fill="#222">GDM</text>
<rect x="582.8" y="224.2" width="6.8" height="5.5" fill="#66c466"/>
<circle cx="586.2" cy="226.95" r="0.4" fill="#333"/>
<text x="590.5" y="228.6" font-size="4.5" font-family="Liberation Serif" fill="#222">NP</text>
<text x="433.3" y="256.75" font-size="4.3" font-family="Liberation Serif" fill="#222" text-anchor="middle" transform="rotate(-90 433.3 256.75)">Percentage (%)</text>
<rect x="436.7" y="305.8" width="245.6" height="71.5" fill="#fff" stroke="#999" stroke-width="0.6"/>
<line x1="435.7" y1="374.5" x2="436.7" y2="374.5" stroke="#333" stroke-width="0.35"/>
<text x="435.1" y="375.5" font-size="3" font-family="Liberation Serif" fill="#111" text-anchor="end">0.0</text>
<line x1="435.7" y1="358.7" x2="436.7" y2="358.7" stroke="#333" stroke-width="0.35"/>
<text x="435.1" y="359.7" font-size="3" font-family="Liberation Serif" fill="#111" text-anchor="end">2.5</text>
<line x1="435.7" y1="342.8" x2="436.7" y2="342.8" stroke="#333" stroke-width="0.35"/>
<text x="435.1" y="343.8" font-size="3" font-family="Liberation Serif" fill="#111" text-anchor="end">5.0</text>
<line x1="435.7" y1="326.5" x2="436.7" y2="326.5" stroke="#333" stroke-width="0.35"/>
<text x="435.1" y="327.5" font-size="3" font-family="Liberation Serif" fill="#111" text-anchor="end">7.5</text>
<line x1="435.7" y1="310.3" x2="436.7" y2="310.3" stroke="#333" stroke-width="0.35"/>
<text x="435.1" y="311.3" font-size="3" font-family="Liberation Serif" fill="#111" text-anchor="end">10.0</text>
<rect x="437.4" y="372.54" width="2.3" height="2.06" fill="#d64545"/>
<line x1="438.55" y1="371.03" x2="438.55" y2="374.04" stroke="#222" stroke-width="0.35"/>
<circle cx="438.64" cy="371.66" r="0.38" fill="#111"/>
<circle cx="438.01" cy="373.11" r="0.38" fill="#111"/>
<circle cx="438.67" cy="372.83" r="0.38" fill="#111"/>
<circle cx="439.03" cy="371.58" r="0.38" fill="#111"/>
<circle cx="438.62" cy="372.28" r="0.38" fill="#111"/>
<circle cx="438.48" cy="359.26" r="0.38" fill="#222"/>
<rect x="439.7" y="371.38" width="2.3" height="3.22" fill="#66c466"/>
<line x1="440.85" y1="369.83" x2="440.85" y2="372.93" stroke="#222" stroke-width="0.35"/>
<circle cx="440.73" cy="370.26" r="0.38" fill="#111"/>
<circle cx="440.45" cy="371.5" r="0.38" fill="#111"/>
<circle cx="441.44" cy="372.52" r="0.38" fill="#111"/>
<circle cx="441.39" cy="373.76" r="0.38" fill="#111"/>
<circle cx="441.41" cy="370.9" r="0.38" fill="#111"/>
<circle cx="440.25" cy="370.47" r="0.38" fill="#111"/>
<line x1="439.7" y1="377.3" x2="439.7" y2="378.5" stroke="#333" stroke-width="0.35"/>
<text x="440.6" y="380.9" font-size="3.5" font-family="Liberation Serif" fill="#1a1a1a" text-anchor="end" font-weight="bold" transform="rotate(-45 440.6 380.9)">TRAJ33-1</text>
<rect x="442.4" y="372.22" width="2.3" height="2.38" fill="#d64545"/>
<line x1="443.55" y1="370.6" x2="443.55" y2="373.84" stroke="#222" stroke-width="0.35"/>
<circle cx="443.4" cy="373.7" r="0.38" fill="#111"/>
<circle cx="443.03" cy="374.54" r="0.38" fill="#111"/>
<circle cx="444" cy="373.61" r="0.38" fill="#111"/>
<circle cx="443.78" cy="373.96" r="0.38" fill="#111"/>
<circle cx="443.32" cy="374.32" r="0.38" fill="#111"/>
<circle cx="443.98" cy="370.84" r="0.38" fill="#111"/>
<circle cx="443.22" cy="367.36" r="0.38" fill="#222"/>
<rect x="444.7" y="371.9" width="2.3" height="2.7" fill="#66c466"/>
<line x1="445.85" y1="370.59" x2="445.85" y2="373.2" stroke="#222" stroke-width="0.35"/>
<circle cx="445.69" cy="372.47" r="0.38" fill="#111"/>
<circle cx="445.4" cy="371.41" r="0.38" fill="#111"/>
<circle cx="445.6" cy="372.61" r="0.38" fill="#111"/>
<circle cx="445.7" cy="370.98" r="0.38" fill="#111"/>
<line x1="444.7" y1="377.3" x2="444.7" y2="378.5" stroke="#333" stroke-width="0.35"/>
<text x="445.6" y="380.9" font-size="3.5" font-family="Liberation Serif" fill="#1a1a1a" text-anchor="end" font-weight="bold" transform="rotate(-45 445.6 380.9)">TRBV19-01</text>
<rect x="447.4" y="366.03" width="2.3" height="8.57" fill="#d64545"/>
<line x1="448.55" y1="362.95" x2="448.55" y2="369.12" stroke="#222" stroke-width="0.35"/>
<circle cx="448.46" cy="369.61" r="0.38" fill="#111"/>
<circle cx="448.3" cy="370.33" r="0.38" fill="#111"/>
<circle cx="448.14" cy="367.45" r="0.38" fill="#111"/>
<circle cx="448.26" cy="353.44" r="0.38" fill="#222"/>
<rect x="449.7" y="365.39" width="2.3" height="9.21" fill="#66c466"/>
<line x1="450.85" y1="361.82" x2="450.85" y2="368.96" stroke="#222" stroke-width="0.35"/>
<circle cx="451.43" cy="362.8" r="0.38" fill="#111"/>
<circle cx="450.29" cy="365.62" r="0.38" fill="#111"/>
<circle cx="451.25" cy="370.19" r="0.38" fill="#111"/>
<circle cx="451.07" cy="350.8" r="0.38" fill="#222"/>
<line x1="449.7" y1="377.3" x2="449.7" y2="378.5" stroke="#333" stroke-width="0.35"/>
<text x="450.6" y="380.9" font-size="3.5" font-family="Liberation Serif" fill="#1a1a1a" text-anchor="end" font-weight="bold" transform="rotate(-45 450.6 380.9)">TRBV15-01</text>
<rect x="452.4" y="371.9" width="2.3" height="2.7" fill="#d64545"/>
<line x1="453.55" y1="370.36" x2="453.55" y2="373.43" stroke="#222" stroke-width="0.35"/>
<circle cx="453.99" cy="373.41" r="0.38" fill="#111"/>
<circle cx="453.08" cy="371.37" r="0.38" fill="#111"/>
<circle cx="453.64" cy="372.65" r="0.38" fill="#111"/>
<circle cx="454.11" cy="373.67" r="0.38" fill="#111"/>
<rect x="454.7" y="371.9" width="2.3" height="2.7" fill="#66c466"/>
<line x1="455.85" y1="370.2" x2="455.85" y2="373.59" stroke="#222" stroke-width="0.35"/>
<circle cx="455.95" cy="372.51" r="0.38" fill="#111"/>
<circle cx="456.36" cy="372.76" r="0.38" fill="#111"/>
<circle cx="456.27" cy="371.53" r="0.38" fill="#111"/>
<circle cx="456.17" cy="372.35" r="0.38" fill="#111"/>
<circle cx="455.6" cy="373.61" r="0.38" fill="#111"/>
<circle cx="455.79" cy="372.74" r="0.38" fill="#111"/>
<circle cx="455.73" cy="358.7" r="0.38" fill="#222"/>
<line x1="454.7" y1="377.3" x2="454.7" y2="378.5" stroke="#333" stroke-width="0.35"/>
<text x="455.6" y="380.9" font-size="3.5" font-family="Liberation Serif" fill="#1a1a1a" text-anchor="end" font-weight="bold" transform="rotate(-45 455.6 380.9)">TRBV3-1.1</text>
<rect x="457.4" y="364.1" width="2.3" height="10.5" fill="#d64545"/>
<line x1="458.55" y1="360.52" x2="458.55" y2="367.69" stroke="#222" stroke-width="0.35"/>
<circle cx="458.74" cy="367.65" r="0.38" fill="#111"/>
<circle cx="458.18" cy="360.8" r="0.38" fill="#111"/>
<circle cx="458.63" cy="367.53" r="0.38" fill="#111"/>
<circle cx="458.42" cy="363.72" r="0.38" fill="#111"/>
<circle cx="459.04" cy="355.43" r="0.38" fill="#222"/>
<rect x="459.7" y="363.33" width="2.3" height="11.27" fill="#66c466"/>
<line x1="460.85" y1="358.93" x2="460.85" y2="367.73" stroke="#222" stroke-width="0.35"/>
<circle cx="460.39" cy="362.65" r="0.38" fill="#111"/>
<circle cx="461.15" cy="358.89" r="0.38" fill="#111"/>
<circle cx="460.26" cy="368.42" r="0.38" fill="#111"/>
<circle cx="460.5" cy="360.71" r="0.38" fill="#111"/>
<circle cx="461.44" cy="363.01" r="0.38" fill="#111"/>
<circle cx="460.72" cy="359.42" r="0.38" fill="#111"/>
<line x1="459.7" y1="377.3" x2="459.7" y2="378.5" stroke="#333" stroke-width="0.35"/>
<text x="460.6" y="380.9" font-size="3.5" font-family="Liberation Serif" fill="#1a1a1a" text-anchor="end" font-weight="bold" transform="rotate(-45 460.6 380.9)">TRBV5-6.1</text>
<rect x="462.4" y="371.9" width="2.3" height="2.7" fill="#d64545"/>
<line x1="463.55" y1="370.62" x2="463.55" y2="373.17" stroke="#222" stroke-width="0.35"/>
<circle cx="463.88" cy="371.39" r="0.38" fill="#111"/>
<circle cx="463.17" cy="370.65" r="0.38" fill="#111"/>
<circle cx="462.98" cy="371.68" r="0.38" fill="#111"/>
<circle cx="463.14" cy="372.14" r="0.38" fill="#111"/>
<circle cx="463.7" cy="370.65" r="0.38" fill="#111"/>
<circle cx="463.89" cy="359.38" r="0.38" fill="#222"/>
<rect x="464.7" y="369" width="2.3" height="5.6" fill="#66c466"/>
<line x1="465.85" y1="367.11" x2="465.85" y2="370.89" stroke="#222" stroke-width="0.35"/>
<circle cx="465.6" cy="367.49" r="0.38" fill="#111"/>
<circle cx="465.95" cy="370.82" r="0.38" fill="#111"/>
<circle cx="466.28" cy="371.47" r="0.38" fill="#111"/>
<line x1="464.7" y1="377.3" x2="464.7" y2="378.5" stroke="#333" stroke-width="0.35"/>
<text x="465.6" y="380.9" font-size="3.5" font-family="Liberation Serif" fill="#1a1a1a" text-anchor="end" font-weight="bold" transform="rotate(-45 465.6 380.9)">TRAV12-1.1</text>
<rect x="467.4" y="361.72" width="2.3" height="12.88" fill="#d64545"/>
<line x1="468.55" y1="355.53" x2="468.55" y2="367.91" stroke="#222" stroke-width="0.35"/>
<circle cx="469.01" cy="358.32" r="0.38" fill="#111"/>
<circle cx="468.23" cy="361.21" r="0.38" fill="#111"/>
<circle cx="468.38" cy="367.61" r="0.38" fill="#111"/>
<circle cx="468.04" cy="364.23" r="0.38" fill="#111"/>
<rect x="469.7" y="362.17" width="2.3" height="12.43" fill="#66c466"/>
<line x1="470.85" y1="358.25" x2="470.85" y2="366.1" stroke="#222" stroke-width="0.35"/>
<circle cx="470.83" cy="360.2" r="0.38" fill="#111"/>
<circle cx="471.09" cy="363.77" r="0.38" fill="#111"/>
<circle cx="470.6" cy="360.46" r="0.38" fill="#111"/>
<circle cx="471.33" cy="358.29" r="0.38" fill="#111"/>
<circle cx="471.43" cy="362.74" r="0.38" fill="#111"/>
<circle cx="470.94" cy="362.65" r="0.38" fill="#111"/>
<line x1="469.7" y1="377.3" x2="469.7" y2="378.5" stroke="#333" stroke-width="0.35"/>
<text x="470.6" y="380.9" font-size="3.5" font-family="Liberation Serif" fill="#1a1a1a" text-anchor="end" font-weight="bold" transform="rotate(-45 470.6 380.9)">TRBV28-01</text>
<rect x="472.4" y="364.94" width="2.3" height="9.66" fill="#d64545"/>
<line x1="473.55" y1="362.26" x2="473.55" y2="367.62" stroke="#222" stroke-width="0.35"/>
<circle cx="473.53" cy="366.24" r="0.38" fill="#111"/>
<circle cx="473.53" cy="364.03" r="0.38" fill="#111"/>
<circle cx="473.16" cy="367.64" r="0.38" fill="#111"/>
<circle cx="474.13" cy="367.81" r="0.38" fill="#111"/>
<circle cx="473.3" cy="366.78" r="0.38" fill="#111"/>
<rect x="474.7" y="363.78" width="2.3" height="10.82" fill="#66c466"/>
<line x1="475.85" y1="360.09" x2="475.85" y2="367.47" stroke="#222" stroke-width="0.35"/>
<circle cx="475.38" cy="362.57" r="0.38" fill="#111"/>
<circle cx="476.27" cy="367.32" r="0.38" fill="#111"/>
<circle cx="476.43" cy="367.56" r="0.38" fill="#111"/>
<circle cx="475.35" cy="351.54" r="0.38" fill="#222"/>
<line x1="474.7" y1="377.3" x2="474.7" y2="378.5" stroke="#333" stroke-width="0.35"/>
<text x="475.6" y="380.9" font-size="3.5" font-family="Liberation Serif" fill="#1a1a1a" text-anchor="end" font-weight="bold" transform="rotate(-45 475.6 380.9)">TRBV27-01</text>
<rect x="477.4" y="372.54" width="2.3" height="2.06" fill="#d64545"/>
<line x1="478.55" y1="371.19" x2="478.55" y2="373.89" stroke="#222" stroke-width="0.35"/>
<circle cx="478.27" cy="373.62" r="0.38" fill="#111"/>
<circle cx="478.23" cy="373.02" r="0.38" fill="#111"/>
<circle cx="478.42" cy="372.87" r="0.38" fill="#111"/>
<circle cx="478.58" cy="374.17" r="0.38" fill="#111"/>
<circle cx="478.26" cy="373.77" r="0.38" fill="#111"/>
<rect x="479.7" y="372.22" width="2.3" height="2.38" fill="#66c466"/>
<line x1="480.85" y1="370.83" x2="480.85" y2="373.61" stroke="#222" stroke-width="0.35"/>
<circle cx="481.38" cy="373.09" r="0.38" fill="#111"/>
<circle cx="480.43" cy="373.79" r="0.38" fill="#111"/>
<circle cx="481.32" cy="371.77" r="0.38" fill="#111"/>
<circle cx="481.42" cy="371.24" r="0.38" fill="#111"/>
<circle cx="480.53" cy="371.49" r="0.38" fill="#111"/>
<line x1="479.7" y1="377.3" x2="479.7" y2="378.5" stroke="#333" stroke-width="0.35"/>
<text x="480.6" y="380.9" font-size="3.5" font-family="Liberation Serif" fill="#1a1a1a" text-anchor="end" font-weight="bold" transform="rotate(-45 480.6 380.9)">TRBV11-2</text>
<rect x="482.4" y="368.16" width="2.3" height="6.44" fill="#d64545"/>
<line x1="483.55" y1="365.54" x2="483.55" y2="370.78" stroke="#222" stroke-width="0.35"/>
<circle cx="483.5" cy="369.21" r="0.38" fill="#111"/>
<circle cx="483.98" cy="371.45" r="0.38" fill="#111"/>
<circle cx="483.49" cy="369.41" r="0.38" fill="#111"/>
<circle cx="484.13" cy="368.42" r="0.38" fill="#111"/>
<circle cx="483.53" cy="366.06" r="0.38" fill="#111"/>
<circle cx="483.75" cy="370.68" r="0.38" fill="#111"/>
<circle cx="483.86" cy="354.33" r="0.38" fill="#222"/>
<rect x="484.7" y="369" width="2.3" height="5.6" fill="#66c466"/>
<line x1="485.85" y1="366.23" x2="485.85" y2="371.76" stroke="#222" stroke-width="0.35"/>
<circle cx="485.27" cy="368.35" r="0.38" fill="#111"/>
<circle cx="485.63" cy="371.36" r="0.38" fill="#111"/>
<circle cx="485.52" cy="367.39" r="0.38" fill="#111"/>
<circle cx="485.77" cy="366.4" r="0.38" fill="#111"/>
<circle cx="486.26" cy="357.95" r="0.38" fill="#222"/>
<line x1="484.7" y1="377.3" x2="484.7" y2="378.5" stroke="#333" stroke-width="0.35"/>
<text x="485.6" y="380.9" font-size="3.5" font-family="Liberation Serif" fill="#1a1a1a" text-anchor="end" font-weight="bold" transform="rotate(-45 485.6 380.9)">TRBV7-8.1</text>
<rect x="487.4" y="362.81" width="2.3" height="11.79" fill="#d64545"/>
<line x1="488.55" y1="358.24" x2="488.55" y2="367.39" stroke="#222" stroke-width="0.35"/>
<circle cx="488.4" cy="367.23" r="0.38" fill="#111"/>
<circle cx="488.77" cy="363.43" r="0.38" fill="#111"/>
<circle cx="488.73" cy="366.29" r="0.38" fill="#111"/>
<circle cx="488.74" cy="348.65" r="0.38" fill="#222"/>
<rect x="489.7" y="369.77" width="2.3" height="4.83" fill="#66c466"/>
<line x1="490.85" y1="367.3" x2="490.85" y2="372.24" stroke="#222" stroke-width="0.35"/>
<circle cx="490.99" cy="369.44" r="0.38" fill="#111"/>
<circle cx="490.45" cy="371.3" r="0.38" fill="#111"/>
<circle cx="490.35" cy="372.92" r="0.38" fill="#111"/>
<circle cx="490.33" cy="371.34" r="0.38" fill="#111"/>
<line x1="489.7" y1="377.3" x2="489.7" y2="378.5" stroke="#333" stroke-width="0.35"/>
<text x="490.6" y="380.9" font-size="3.5" font-family="Liberation Serif" fill="#1a1a1a" text-anchor="end" font-weight="bold" transform="rotate(-45 490.6 380.9)">TRBV20-1</text>
<rect x="492.4" y="370.61" width="2.3" height="3.99" fill="#d64545"/>
<line x1="493.55" y1="368.28" x2="493.55" y2="372.93" stroke="#222" stroke-width="0.35"/>
<circle cx="492.98" cy="371.43" r="0.38" fill="#111"/>
<circle cx="493.01" cy="368.18" r="0.38" fill="#111"/>
<circle cx="493.14" cy="372.54" r="0.38" fill="#111"/>
<circle cx="494.09" cy="371.91" r="0.38" fill="#111"/>
<circle cx="493.09" cy="362.04" r="0.38" fill="#222"/>
<rect x="494.7" y="369" width="2.3" height="5.6" fill="#66c466"/>
<line x1="495.85" y1="366" x2="495.85" y2="371.99" stroke="#222" stroke-width="0.35"/>
<circle cx="496.07" cy="372.66" r="0.38" fill="#111"/>
<circle cx="495.7" cy="367.45" r="0.38" fill="#111"/>
<circle cx="496.32" cy="371.16" r="0.38" fill="#111"/>
<circle cx="496.16" cy="354.66" r="0.38" fill="#222"/>
<line x1="494.7" y1="377.3" x2="494.7" y2="378.5" stroke="#333" stroke-width="0.35"/>
<text x="495.6" y="380.9" font-size="3.5" font-family="Liberation Serif" fill="#1a1a1a" text-anchor="end" font-weight="bold" transform="rotate(-45 495.6 380.9)">TRBV5-1.1</text>
<rect x="497.4" y="373.51" width="2.3" height="1.09" fill="#d64545"/>
<line x1="498.55" y1="372.43" x2="498.55" y2="374.38" stroke="#222" stroke-width="0.35"/>
<circle cx="498.04" cy="374.19" r="0.38" fill="#111"/>
<circle cx="498.97" cy="373.95" r="0.38" fill="#111"/>
<circle cx="498.97" cy="373.11" r="0.38" fill="#111"/>
<circle cx="498.88" cy="367.79" r="0.38" fill="#222"/>
<rect x="499.7" y="373.83" width="2.3" height="0.77" fill="#66c466"/>
<line x1="500.85" y1="372.97" x2="500.85" y2="374.45" stroke="#222" stroke-width="0.35"/>
<circle cx="501" cy="374.29" r="0.38" fill="#111"/>
<circle cx="501.32" cy="373.22" r="0.38" fill="#111"/>
<circle cx="501.08" cy="373.82" r="0.38" fill="#111"/>
<circle cx="501.16" cy="368.86" r="0.38" fill="#222"/>
<line x1="499.7" y1="377.3" x2="499.7" y2="378.5" stroke="#333" stroke-width="0.35"/>
<text x="500.6" y="380.9" font-size="3.5" font-family="Liberation Serif" fill="#1a1a1a" text-anchor="end" font-weight="bold" transform="rotate(-45 500.6 380.9)">TRBV9-01</text>
<rect x="502.4" y="366.55" width="2.3" height="8.05" fill="#d64545"/>
<line x1="503.55" y1="362.78" x2="503.55" y2="370.32" stroke="#222" stroke-width="0.35"/>
<circle cx="504.02" cy="363.42" r="0.38" fill="#111"/>
<circle cx="503.57" cy="369.62" r="0.38" fill="#111"/>
<circle cx="503.7" cy="368.28" r="0.38" fill="#111"/>
<circle cx="503.52" cy="363.47" r="0.38" fill="#111"/>
<rect x="504.7" y="364.94" width="2.3" height="9.66" fill="#66c466"/>
<line x1="505.85" y1="362.33" x2="505.85" y2="367.55" stroke="#222" stroke-width="0.35"/>
<circle cx="505.89" cy="362.58" r="0.38" fill="#111"/>
<circle cx="505.34" cy="363.32" r="0.38" fill="#111"/>
<circle cx="505.76" cy="362.52" r="0.38" fill="#111"/>
<circle cx="505.42" cy="368.92" r="0.38" fill="#111"/>
<circle cx="505.62" cy="365.18" r="0.38" fill="#111"/>
<circle cx="505.57" cy="356.97" r="0.38" fill="#222"/>
<line x1="504.7" y1="377.3" x2="504.7" y2="378.5" stroke="#333" stroke-width="0.35"/>
<text x="505.6" y="380.9" font-size="3.5" font-family="Liberation Serif" fill="#1a1a1a" text-anchor="end" font-weight="bold" transform="rotate(-45 505.6 380.9)">TRBV30-01</text>
<rect x="507.4" y="357.21" width="2.3" height="17.39" fill="#d64545"/>
<line x1="508.55" y1="348.87" x2="508.55" y2="365.55" stroke="#222" stroke-width="0.35"/>
<circle cx="509.13" cy="348.94" r="0.38" fill="#111"/>
<circle cx="508.82" cy="363.85" r="0.38" fill="#111"/>
<circle cx="509.05" cy="360.08" r="0.38" fill="#111"/>
<circle cx="509.04" cy="363.25" r="0.38" fill="#111"/>
<rect x="509.7" y="355.92" width="2.3" height="18.68" fill="#66c466"/>
<line x1="510.85" y1="348.49" x2="510.85" y2="363.36" stroke="#222" stroke-width="0.35"/>
<circle cx="510.98" cy="348.82" r="0.38" fill="#111"/>
<circle cx="510.34" cy="362.72" r="0.38" fill="#111"/>
<circle cx="511.23" cy="358.49" r="0.38" fill="#111"/>
<circle cx="510.71" cy="361.22" r="0.38" fill="#111"/>
<circle cx="511.35" cy="364.15" r="0.38" fill="#111"/>
<circle cx="510.6" cy="338.46" r="0.38" fill="#222"/>
<line x1="509.7" y1="377.3" x2="509.7" y2="378.5" stroke="#333" stroke-width="0.35"/>
<text x="510.6" y="380.9" font-size="3.5" font-family="Liberation Serif" fill="#1a1a1a" text-anchor="end" font-weight="bold" transform="rotate(-45 510.6 380.9)">TRBV13-01</text>
<rect x="512.4" y="359.14" width="2.3" height="15.46" fill="#d64545"/>
<line x1="513.55" y1="352.53" x2="513.55" y2="365.75" stroke="#222" stroke-width="0.35"/>
<circle cx="513.87" cy="358.5" r="0.38" fill="#111"/>
<circle cx="513.17" cy="368.23" r="0.38" fill="#111"/>
<circle cx="513.92" cy="352.64" r="0.38" fill="#111"/>
<circle cx="513.84" cy="358.01" r="0.38" fill="#111"/>
<circle cx="513.78" cy="365.16" r="0.38" fill="#111"/>
<circle cx="513.01" cy="362.44" r="0.38" fill="#111"/>
<rect x="514.7" y="357.21" width="2.3" height="17.39" fill="#66c466"/>
<line x1="515.85" y1="349.94" x2="515.85" y2="364.48" stroke="#222" stroke-width="0.35"/>
<circle cx="516.17" cy="366.97" r="0.38" fill="#111"/>
<circle cx="516.07" cy="362.62" r="0.38" fill="#111"/>
<circle cx="515.92" cy="354.52" r="0.38" fill="#111"/>
<circle cx="515.64" cy="349.26" r="0.38" fill="#111"/>
<circle cx="515.38" cy="352.85" r="0.38" fill="#111"/>
<circle cx="515.78" cy="363.44" r="0.38" fill="#111"/>
<circle cx="516.13" cy="341.9" r="0.38" fill="#222"/>
<line x1="514.7" y1="377.3" x2="514.7" y2="378.5" stroke="#333" stroke-width="0.35"/>
<text x="515.6" y="380.9" font-size="3.5" font-family="Liberation Serif" fill="#1a1a1a" text-anchor="end" font-weight="bold" transform="rotate(-45 515.6 380.9)">TRAV38-2DV8</text>
<rect x="517.4" y="329.13" width="2.3" height="45.47" fill="#d64545"/>
<line x1="518.55" y1="311.78" x2="518.55" y2="346.49" stroke="#222" stroke-width="0.35"/>
<circle cx="518.23" cy="339.66" r="0.38" fill="#111"/>
<circle cx="518.13" cy="350.27" r="0.38" fill="#111"/>
<circle cx="518.71" cy="336.28" r="0.38" fill="#111"/>
<circle cx="518.83" cy="323.07" r="0.38" fill="#111"/>
<circle cx="518.69" cy="307.63" r="0.38" fill="#222"/>
<rect x="519.7" y="330.16" width="2.3" height="44.44" fill="#66c466"/>
<line x1="520.85" y1="313.72" x2="520.85" y2="346.61" stroke="#222" stroke-width="0.35"/>
<circle cx="520.71" cy="350.93" r="0.38" fill="#111"/>
<circle cx="520.69" cy="313.11" r="0.38" fill="#111"/>
<circle cx="521.1" cy="323.78" r="0.38" fill="#111"/>
<circle cx="521.27" cy="326.77" r="0.38" fill="#111"/>
<circle cx="521.24" cy="302.51" r="0.38" fill="#222"/>
<line x1="519.7" y1="377.3" x2="519.7" y2="378.5" stroke="#333" stroke-width="0.35"/>
<text x="520.6" y="380.9" font-size="3.5" font-family="Liberation Serif" fill="#1a1a1a" text-anchor="end" font-weight="bold" transform="rotate(-45 520.6 380.9)">TRAV1-2.1</text>
<rect x="522.4" y="369.13" width="2.3" height="5.47" fill="#d64545"/>
<line x1="523.55" y1="366.69" x2="523.55" y2="371.56" stroke="#222" stroke-width="0.35"/>
<circle cx="523.58" cy="367.86" r="0.38" fill="#111"/>
<circle cx="524.09" cy="367.91" r="0.38" fill="#111"/>
<circle cx="523.88" cy="367.69" r="0.38" fill="#111"/>
<circle cx="523.63" cy="358.98" r="0.38" fill="#222"/>
<rect x="524.7" y="364.68" width="2.3" height="9.92" fill="#66c466"/>
<line x1="525.85" y1="360.83" x2="525.85" y2="368.54" stroke="#222" stroke-width="0.35"/>
<circle cx="525.4" cy="363.2" r="0.38" fill="#111"/>
<circle cx="526.23" cy="363.38" r="0.38" fill="#111"/>
<circle cx="525.67" cy="363.84" r="0.38" fill="#111"/>
<line x1="524.7" y1="377.3" x2="524.7" y2="378.5" stroke="#333" stroke-width="0.35"/>
<text x="525.6" y="380.9" font-size="3.5" font-family="Liberation Serif" fill="#1a1a1a" text-anchor="end" font-weight="bold" transform="rotate(-45 525.6 380.9)">TRBV4-1.1</text>
<rect x="527.4" y="370.61" width="2.3" height="3.99" fill="#d64545"/>
<line x1="528.55" y1="368.6" x2="528.55" y2="372.61" stroke="#222" stroke-width="0.35"/>
<circle cx="527.98" cy="371.1" r="0.38" fill="#111"/>
<circle cx="529.1" cy="370.89" r="0.38" fill="#111"/>
<circle cx="529.05" cy="370.79" r="0.38" fill="#111"/>
<circle cx="528.78" cy="373.41" r="0.38" fill="#111"/>
<circle cx="528.54" cy="369.98" r="0.38" fill="#111"/>
<circle cx="529.04" cy="373.52" r="0.38" fill="#111"/>
<circle cx="528.84" cy="358.47" r="0.38" fill="#222"/>
<rect x="529.7" y="371.83" width="2.3" height="2.77" fill="#66c466"/>
<line x1="530.85" y1="370.5" x2="530.85" y2="373.17" stroke="#222" stroke-width="0.35"/>
<circle cx="530.33" cy="370.43" r="0.38" fill="#111"/>
<circle cx="531.43" cy="372.5" r="0.38" fill="#111"/>
<circle cx="530.58" cy="370.62" r="0.38" fill="#111"/>
<circle cx="530.76" cy="371.94" r="0.38" fill="#111"/>
<circle cx="530.88" cy="372.63" r="0.38" fill="#111"/>
<circle cx="530.46" cy="370.58" r="0.38" fill="#111"/>
<line x1="529.7" y1="377.3" x2="529.7" y2="378.5" stroke="#333" stroke-width="0.35"/>
<text x="530.6" y="380.9" font-size="3.5" font-family="Liberation Serif" fill="#1a1a1a" text-anchor="end" font-weight="bold" transform="rotate(-45 530.6 380.9)">TRBV7-2.1</text>
<rect x="532.4" y="362.81" width="2.3" height="11.79" fill="#d64545"/>
<line x1="533.55" y1="357.28" x2="533.55" y2="368.35" stroke="#222" stroke-width="0.35"/>
<circle cx="532.99" cy="369.7" r="0.38" fill="#111"/>
<circle cx="533.46" cy="370.41" r="0.38" fill="#111"/>
<circle cx="533.71" cy="359.68" r="0.38" fill="#111"/>
<circle cx="533.89" cy="371.61" r="0.38" fill="#111"/>
<circle cx="533.03" cy="364.81" r="0.38" fill="#111"/>
<rect x="534.7" y="362.43" width="2.3" height="12.17" fill="#66c466"/>
<line x1="535.85" y1="359.31" x2="535.85" y2="365.55" stroke="#222" stroke-width="0.35"/>
<circle cx="535.56" cy="367.31" r="0.38" fill="#111"/>
<circle cx="536.2" cy="363.36" r="0.38" fill="#111"/>
<circle cx="535.4" cy="363.03" r="0.38" fill="#111"/>
<line x1="534.7" y1="377.3" x2="534.7" y2="378.5" stroke="#333" stroke-width="0.35"/>
<text x="535.6" y="380.9" font-size="3.5" font-family="Liberation Serif" fill="#1a1a1a" text-anchor="end" font-weight="bold" transform="rotate(-45 535.6 380.9)">TRBV6-1.1</text>
<rect x="537.4" y="351.03" width="2.3" height="23.57" fill="#d64545"/>
<line x1="538.55" y1="340.59" x2="538.55" y2="361.47" stroke="#222" stroke-width="0.35"/>
<circle cx="538.68" cy="355.58" r="0.38" fill="#111"/>
<circle cx="538.52" cy="360.69" r="0.38" fill="#111"/>
<circle cx="538.55" cy="358.43" r="0.38" fill="#111"/>
<circle cx="538.66" cy="356.71" r="0.38" fill="#111"/>
<circle cx="538.63" cy="366.13" r="0.38" fill="#111"/>
<circle cx="538.33" cy="353.27" r="0.38" fill="#111"/>
<circle cx="538.67" cy="333.47" r="0.38" fill="#222"/>
<rect x="539.7" y="351.93" width="2.3" height="22.67" fill="#66c466"/>
<line x1="540.85" y1="344.24" x2="540.85" y2="359.62" stroke="#222" stroke-width="0.35"/>
<circle cx="540.89" cy="360.98" r="0.38" fill="#111"/>
<circle cx="540.9" cy="355.48" r="0.38" fill="#111"/>
<circle cx="541.42" cy="357.45" r="0.38" fill="#111"/>
<circle cx="540.52" cy="357.17" r="0.38" fill="#111"/>
<circle cx="540.84" cy="348.29" r="0.38" fill="#111"/>
<line x1="539.7" y1="377.3" x2="539.7" y2="378.5" stroke="#333" stroke-width="0.35"/>
<text x="540.6" y="380.9" font-size="3.5" font-family="Liberation Serif" fill="#1a1a1a" text-anchor="end" font-weight="bold" transform="rotate(-45 540.6 380.9)">TRBV10-2</text>
<rect x="542.4" y="365.26" width="2.3" height="9.34" fill="#d64545"/>
<line x1="543.55" y1="360.94" x2="543.55" y2="369.58" stroke="#222" stroke-width="0.35"/>
<circle cx="543.05" cy="371.78" r="0.38" fill="#111"/>
<circle cx="543.7" cy="360.74" r="0.38" fill="#111"/>
<circle cx="544" cy="362.68" r="0.38" fill="#111"/>
<circle cx="543.34" cy="370.47" r="0.38" fill="#111"/>
<circle cx="543.1" cy="369.71" r="0.38" fill="#111"/>
<rect x="544.7" y="364.1" width="2.3" height="10.5" fill="#66c466"/>
<line x1="545.85" y1="359.83" x2="545.85" y2="368.37" stroke="#222" stroke-width="0.35"/>
<circle cx="546.2" cy="361.67" r="0.38" fill="#111"/>
<circle cx="546.09" cy="367.59" r="0.38" fill="#111"/>
<circle cx="545.49" cy="368.33" r="0.38" fill="#111"/>
<circle cx="545.89" cy="370.58" r="0.38" fill="#111"/>
<circle cx="546.22" cy="362.46" r="0.38" fill="#111"/>
<circle cx="545.37" cy="350.47" r="0.38" fill="#222"/>
<line x1="544.7" y1="377.3" x2="544.7" y2="378.5" stroke="#333" stroke-width="0.35"/>
<text x="545.6" y="380.9" font-size="3.5" font-family="Liberation Serif" fill="#1a1a1a" text-anchor="end" font-weight="bold" transform="rotate(-45 545.6 380.9)">TRAV8-6.1</text>
<rect x="547.4" y="360.37" width="2.3" height="14.23" fill="#d64545"/>
<line x1="548.55" y1="356.46" x2="548.55" y2="364.27" stroke="#222" stroke-width="0.35"/>
<circle cx="548.34" cy="366.57" r="0.38" fill="#111"/>
<circle cx="548.9" cy="356.95" r="0.38" fill="#111"/>
<circle cx="548.33" cy="357.31" r="0.38" fill="#111"/>
<circle cx="548.68" cy="356.5" r="0.38" fill="#111"/>
<circle cx="548.68" cy="364.44" r="0.38" fill="#111"/>
<rect x="549.7" y="360.69" width="2.3" height="13.91" fill="#66c466"/>
<line x1="550.85" y1="354.13" x2="550.85" y2="367.25" stroke="#222" stroke-width="0.35"/>
<circle cx="551.14" cy="364.58" r="0.38" fill="#111"/>
<circle cx="550.97" cy="354.58" r="0.38" fill="#111"/>
<circle cx="550.35" cy="367.34" r="0.38" fill="#111"/>
<circle cx="550.84" cy="369.97" r="0.38" fill="#111"/>
<circle cx="551.42" cy="353.78" r="0.38" fill="#111"/>
<circle cx="551.18" cy="342.36" r="0.38" fill="#222"/>
<line x1="549.7" y1="377.3" x2="549.7" y2="378.5" stroke="#333" stroke-width="0.35"/>
<text x="550.6" y="380.9" font-size="3.5" font-family="Liberation Serif" fill="#1a1a1a" text-anchor="end" font-weight="bold" transform="rotate(-45 550.6 380.9)">TRBV29-1</text>
<rect x="552.4" y="365.84" width="2.3" height="8.76" fill="#d64545"/>
<line x1="553.55" y1="363.42" x2="553.55" y2="368.27" stroke="#222" stroke-width="0.35"/>
<circle cx="553.36" cy="366.09" r="0.38" fill="#111"/>
<circle cx="553.12" cy="369.03" r="0.38" fill="#111"/>
<circle cx="554.14" cy="367.67" r="0.38" fill="#111"/>
<circle cx="553.12" cy="367.12" r="0.38" fill="#111"/>
<circle cx="552.97" cy="365.97" r="0.38" fill="#111"/>
<circle cx="553.19" cy="351.52" r="0.38" fill="#222"/>
<rect x="554.7" y="364.94" width="2.3" height="9.66" fill="#66c466"/>
<line x1="555.85" y1="360.9" x2="555.85" y2="368.98" stroke="#222" stroke-width="0.35"/>
<circle cx="555.31" cy="370.19" r="0.38" fill="#111"/>
<circle cx="556.12" cy="364.22" r="0.38" fill="#111"/>
<circle cx="555.92" cy="368.36" r="0.38" fill="#111"/>
<line x1="554.7" y1="377.3" x2="554.7" y2="378.5" stroke="#333" stroke-width="0.35"/>
<text x="555.6" y="380.9" font-size="3.5" font-family="Liberation Serif" fill="#1a1a1a" text-anchor="end" font-weight="bold" transform="rotate(-45 555.6 380.9)">TRBV2-01</text>
<rect x="557.4" y="353.99" width="2.3" height="20.61" fill="#d64545"/>
<line x1="558.55" y1="344.78" x2="558.55" y2="363.2" stroke="#222" stroke-width="0.35"/>
<circle cx="558.2" cy="353.27" r="0.38" fill="#111"/>
<circle cx="558.93" cy="352.16" r="0.38" fill="#111"/>
<circle cx="558.38" cy="365.19" r="0.38" fill="#111"/>
<circle cx="559.12" cy="349.7" r="0.38" fill="#111"/>
<circle cx="558.44" cy="339.3" r="0.38" fill="#222"/>
<rect x="559.7" y="359.98" width="2.3" height="14.62" fill="#66c466"/>
<line x1="560.85" y1="353.91" x2="560.85" y2="366.06" stroke="#222" stroke-width="0.35"/>
<circle cx="560.96" cy="361.51" r="0.38" fill="#111"/>
<circle cx="561.39" cy="359.22" r="0.38" fill="#111"/>
<circle cx="561.13" cy="366.7" r="0.38" fill="#111"/>
<line x1="559.7" y1="377.3" x2="559.7" y2="378.5" stroke="#333" stroke-width="0.35"/>
<text x="560.6" y="380.9" font-size="3.5" font-family="Liberation Serif" fill="#1a1a1a" text-anchor="end" font-weight="bold" transform="rotate(-45 560.6 380.9)">TRBV14-01</text>
<rect x="562.4" y="366.1" width="2.3" height="8.5" fill="#d64545"/>
<line x1="563.55" y1="362.84" x2="563.55" y2="369.36" stroke="#222" stroke-width="0.35"/>
<circle cx="563.32" cy="363.89" r="0.38" fill="#111"/>
<circle cx="563.92" cy="363.19" r="0.38" fill="#111"/>
<circle cx="563.94" cy="367.58" r="0.38" fill="#111"/>
<circle cx="563.62" cy="366.63" r="0.38" fill="#111"/>
<circle cx="563.98" cy="358.38" r="0.38" fill="#222"/>
<rect x="564.7" y="366.1" width="2.3" height="8.5" fill="#66c466"/>
<line x1="565.85" y1="362.43" x2="565.85" y2="369.76" stroke="#222" stroke-width="0.35"/>
<circle cx="565.66" cy="366.1" r="0.38" fill="#111"/>
<circle cx="566.22" cy="369.62" r="0.38" fill="#111"/>
<circle cx="565.74" cy="371.07" r="0.38" fill="#111"/>
<circle cx="565.86" cy="365.42" r="0.38" fill="#111"/>
<circle cx="566.06" cy="367.96" r="0.38" fill="#111"/>
<line x1="564.7" y1="377.3" x2="564.7" y2="378.5" stroke="#333" stroke-width="0.35"/>
<text x="565.6" y="380.9" font-size="3.5" font-family="Liberation Serif" fill="#1a1a1a" text-anchor="end" font-weight="bold" transform="rotate(-45 565.6 380.9)">TRBV7-6.1</text>
<rect x="567.4" y="360.82" width="2.3" height="13.78" fill="#d64545"/>
<line x1="568.55" y1="355.29" x2="568.55" y2="366.34" stroke="#222" stroke-width="0.35"/>
<circle cx="567.98" cy="367.25" r="0.38" fill="#111"/>
<circle cx="569.07" cy="361.82" r="0.38" fill="#111"/>
<circle cx="568.05" cy="369.41" r="0.38" fill="#111"/>
<circle cx="567.97" cy="356.49" r="0.38" fill="#111"/>
<circle cx="568.96" cy="357.26" r="0.38" fill="#111"/>
<rect x="569.7" y="357.34" width="2.3" height="17.26" fill="#66c466"/>
<line x1="570.85" y1="352.1" x2="570.85" y2="362.58" stroke="#222" stroke-width="0.35"/>
<circle cx="570.45" cy="358.07" r="0.38" fill="#111"/>
<circle cx="571.13" cy="358.04" r="0.38" fill="#111"/>
<circle cx="570.64" cy="352.59" r="0.38" fill="#111"/>
<line x1="569.7" y1="377.3" x2="569.7" y2="378.5" stroke="#333" stroke-width="0.35"/>
<text x="570.6" y="380.9" font-size="3.5" font-family="Liberation Serif" fill="#1a1a1a" text-anchor="end" font-weight="bold" transform="rotate(-45 570.6 380.9)">TRBV6-5.2</text>
<rect x="572.4" y="350.26" width="2.3" height="24.34" fill="#d64545"/>
<line x1="573.55" y1="341.02" x2="573.55" y2="359.5" stroke="#222" stroke-width="0.35"/>
<circle cx="573.38" cy="347.18" r="0.38" fill="#111"/>
<circle cx="573.53" cy="363.38" r="0.38" fill="#111"/>
<circle cx="573.52" cy="347.29" r="0.38" fill="#111"/>
<circle cx="573.64" cy="342.98" r="0.38" fill="#111"/>
<rect x="574.7" y="347.55" width="2.3" height="27.05" fill="#66c466"/>
<line x1="575.85" y1="337.15" x2="575.85" y2="357.96" stroke="#222" stroke-width="0.35"/>
<circle cx="575.76" cy="358.35" r="0.38" fill="#111"/>
<circle cx="576.03" cy="347.37" r="0.38" fill="#111"/>
<circle cx="576.19" cy="357.76" r="0.38" fill="#111"/>
<circle cx="575.52" cy="333.38" r="0.38" fill="#222"/>
<line x1="574.7" y1="377.3" x2="574.7" y2="378.5" stroke="#333" stroke-width="0.35"/>
<text x="575.6" y="380.9" font-size="3.5" font-family="Liberation Serif" fill="#1a1a1a" text-anchor="end" font-weight="bold" transform="rotate(-45 575.6 380.9)">TRBV7-9.2</text>
<rect x="577.4" y="366.61" width="2.3" height="7.99" fill="#d64545"/>
<line x1="578.55" y1="363.06" x2="578.55" y2="370.16" stroke="#222" stroke-width="0.35"/>
<circle cx="577.98" cy="372.08" r="0.38" fill="#111"/>
<circle cx="578.09" cy="364.24" r="0.38" fill="#111"/>
<circle cx="578.41" cy="366.2" r="0.38" fill="#111"/>
<circle cx="579.01" cy="353.63" r="0.38" fill="#222"/>
<rect x="579.7" y="366.61" width="2.3" height="7.99" fill="#66c466"/>
<line x1="580.85" y1="363.85" x2="580.85" y2="369.38" stroke="#222" stroke-width="0.35"/>
<circle cx="581.21" cy="367.15" r="0.38" fill="#111"/>
<circle cx="581.4" cy="365.37" r="0.38" fill="#111"/>
<circle cx="581" cy="369.03" r="0.38" fill="#111"/>
<circle cx="581.03" cy="367.8" r="0.38" fill="#111"/>
<circle cx="581.32" cy="363.75" r="0.38" fill="#111"/>
<line x1="579.7" y1="377.3" x2="579.7" y2="378.5" stroke="#333" stroke-width="0.35"/>
<text x="580.6" y="380.9" font-size="3.5" font-family="Liberation Serif" fill="#1a1a1a" text-anchor="end" font-weight="bold" transform="rotate(-45 580.6 380.9)">TRBV10-3</text>
<rect x="582.4" y="369.25" width="2.3" height="5.35" fill="#d64545"/>
<line x1="583.55" y1="367.32" x2="583.55" y2="371.19" stroke="#222" stroke-width="0.35"/>
<circle cx="583.87" cy="371.91" r="0.38" fill="#111"/>
<circle cx="583.98" cy="370.27" r="0.38" fill="#111"/>
<circle cx="583.05" cy="368.74" r="0.38" fill="#111"/>
<circle cx="583.02" cy="369.79" r="0.38" fill="#111"/>
<circle cx="583.53" cy="369.62" r="0.38" fill="#111"/>
<rect x="584.7" y="367.9" width="2.3" height="6.7" fill="#66c466"/>
<line x1="585.85" y1="365.74" x2="585.85" y2="370.06" stroke="#222" stroke-width="0.35"/>
<circle cx="585.66" cy="369.92" r="0.38" fill="#111"/>
<circle cx="586.41" cy="365.96" r="0.38" fill="#111"/>
<circle cx="585.81" cy="366.03" r="0.38" fill="#111"/>
<circle cx="585.9" cy="369.58" r="0.38" fill="#111"/>
<circle cx="586.14" cy="367.83" r="0.38" fill="#111"/>
<circle cx="586.05" cy="360.13" r="0.38" fill="#222"/>
<line x1="584.7" y1="377.3" x2="584.7" y2="378.5" stroke="#333" stroke-width="0.35"/>
<text x="585.6" y="380.9" font-size="3.5" font-family="Liberation Serif" fill="#1a1a1a" text-anchor="end" font-weight="bold" transform="rotate(-45 585.6 380.9)">TRBV25-1</text>
<rect x="587.4" y="367.39" width="2.3" height="7.21" fill="#d64545"/>
<line x1="588.55" y1="363.6" x2="588.55" y2="371.17" stroke="#222" stroke-width="0.35"/>
<circle cx="588.59" cy="373.31" r="0.38" fill="#111"/>
<circle cx="588.11" cy="364.53" r="0.38" fill="#111"/>
<circle cx="588.91" cy="368.11" r="0.38" fill="#111"/>
<circle cx="587.96" cy="368.56" r="0.38" fill="#111"/>
<circle cx="588.64" cy="356.08" r="0.38" fill="#222"/>
<rect x="589.7" y="367.13" width="2.3" height="7.47" fill="#66c466"/>
<line x1="590.85" y1="364.17" x2="590.85" y2="370.09" stroke="#222" stroke-width="0.35"/>
<circle cx="591.29" cy="371.42" r="0.38" fill="#111"/>
<circle cx="590.3" cy="366.19" r="0.38" fill="#111"/>
<circle cx="590.69" cy="368.6" r="0.38" fill="#111"/>
<circle cx="590.28" cy="371.71" r="0.38" fill="#111"/>
<circle cx="590.59" cy="371.43" r="0.38" fill="#111"/>
<circle cx="591.12" cy="369.3" r="0.38" fill="#111"/>
<line x1="589.7" y1="377.3" x2="589.7" y2="378.5" stroke="#333" stroke-width="0.35"/>
<text x="590.6" y="380.9" font-size="3.5" font-family="Liberation Serif" fill="#1a1a1a" text-anchor="end" font-weight="bold" transform="rotate(-45 590.6 380.9)">TRBV6-6.1</text>
<line x1="594.7" y1="377.3" x2="594.7" y2="378.5" stroke="#333" stroke-width="0.35"/>
<text x="595.6" y="380.9" font-size="3.5" font-family="Liberation Serif" fill="#1a1a1a" text-anchor="end" font-weight="bold" transform="rotate(-45 595.6 380.9)">TRAV21-01</text>
<rect x="597.4" y="373.18" width="2.3" height="1.42" fill="#d64545"/>
<line x1="598.55" y1="372.03" x2="598.55" y2="374.32" stroke="#222" stroke-width="0.35"/>
<circle cx="598.61" cy="373.77" r="0.38" fill="#111"/>
<circle cx="599.13" cy="371.97" r="0.38" fill="#111"/>
<circle cx="598.59" cy="373.43" r="0.38" fill="#111"/>
<circle cx="598.73" cy="361.63" r="0.38" fill="#222"/>
<rect x="599.7" y="373.96" width="2.3" height="0.64" fill="#66c466"/>
<line x1="600.85" y1="373.21" x2="600.85" y2="374.47" stroke="#222" stroke-width="0.35"/>
<circle cx="601.12" cy="374.2" r="0.38" fill="#111"/>
<circle cx="601.34" cy="374.24" r="0.38" fill="#111"/>
<circle cx="600.99" cy="373.53" r="0.38" fill="#111"/>
<circle cx="600.84" cy="374.14" r="0.38" fill="#111"/>
<circle cx="600.4" cy="373.16" r="0.38" fill="#111"/>
<line x1="599.7" y1="377.3" x2="599.7" y2="378.5" stroke="#333" stroke-width="0.35"/>
<text x="600.6" y="380.9" font-size="3.5" font-family="Liberation Serif" fill="#1a1a1a" text-anchor="end" font-weight="bold" transform="rotate(-45 600.6 380.9)">TRBV12-3</text>
<rect x="602.4" y="358.18" width="2.3" height="16.42" fill="#d64545"/>
<line x1="603.55" y1="353.65" x2="603.55" y2="362.7" stroke="#222" stroke-width="0.35"/>
<circle cx="603.04" cy="359.95" r="0.38" fill="#111"/>
<circle cx="603.26" cy="364.25" r="0.38" fill="#111"/>
<circle cx="603.41" cy="357.11" r="0.38" fill="#111"/>
<circle cx="604.06" cy="359.04" r="0.38" fill="#111"/>
<circle cx="603.4" cy="346.7" r="0.38" fill="#222"/>
<rect x="604.7" y="365.26" width="2.3" height="9.34" fill="#66c466"/>
<line x1="605.85" y1="361.59" x2="605.85" y2="368.93" stroke="#222" stroke-width="0.35"/>
<circle cx="605.8" cy="368.09" r="0.38" fill="#111"/>
<circle cx="605.99" cy="365.54" r="0.38" fill="#111"/>
<circle cx="605.62" cy="366.13" r="0.38" fill="#111"/>
<circle cx="606.34" cy="364.44" r="0.38" fill="#111"/>
<circle cx="605.93" cy="368.79" r="0.38" fill="#111"/>
<circle cx="605.85" cy="350.15" r="0.38" fill="#222"/>
<line x1="604.7" y1="377.3" x2="604.7" y2="378.5" stroke="#333" stroke-width="0.35"/>
<text x="605.6" y="380.9" font-size="3.5" font-family="Liberation Serif" fill="#1a1a1a" text-anchor="end" font-weight="bold" transform="rotate(-45 605.6 380.9)">TRBV18-01</text>
<rect x="607.4" y="363.46" width="2.3" height="11.14" fill="#d64545"/>
<line x1="608.55" y1="358.71" x2="608.55" y2="368.21" stroke="#222" stroke-width="0.35"/>
<circle cx="608.57" cy="362.5" r="0.38" fill="#111"/>
<circle cx="608.8" cy="367.97" r="0.38" fill="#111"/>
<circle cx="608.84" cy="360.64" r="0.38" fill="#111"/>
<circle cx="608.96" cy="358.44" r="0.38" fill="#111"/>
<rect x="609.7" y="362.62" width="2.3" height="11.98" fill="#66c466"/>
<line x1="610.85" y1="358.78" x2="610.85" y2="366.47" stroke="#222" stroke-width="0.35"/>
<circle cx="610.49" cy="360.15" r="0.38" fill="#111"/>
<circle cx="610.63" cy="363.3" r="0.38" fill="#111"/>
<circle cx="610.38" cy="364.5" r="0.38" fill="#111"/>
<circle cx="610.36" cy="358.76" r="0.38" fill="#111"/>
<circle cx="610.66" cy="359.54" r="0.38" fill="#111"/>
<line x1="609.7" y1="377.3" x2="609.7" y2="378.5" stroke="#333" stroke-width="0.35"/>
<text x="610.6" y="380.9" font-size="3.5" font-family="Liberation Serif" fill="#1a1a1a" text-anchor="end" font-weight="bold" transform="rotate(-45 610.6 380.9)">TRBV24-1</text>
<rect x="612.4" y="369.77" width="2.3" height="4.83" fill="#d64545"/>
<line x1="613.55" y1="367.5" x2="613.55" y2="372.04" stroke="#222" stroke-width="0.35"/>
<circle cx="613.97" cy="369.36" r="0.38" fill="#111"/>
<circle cx="614.08" cy="370.84" r="0.38" fill="#111"/>
<circle cx="613.27" cy="368.08" r="0.38" fill="#111"/>
<circle cx="613.32" cy="368.38" r="0.38" fill="#111"/>
<circle cx="613.36" cy="357.02" r="0.38" fill="#222"/>
<rect x="614.7" y="370.54" width="2.3" height="4.06" fill="#66c466"/>
<line x1="615.85" y1="368.23" x2="615.85" y2="372.85" stroke="#222" stroke-width="0.35"/>
<circle cx="615.32" cy="370.47" r="0.38" fill="#111"/>
<circle cx="615.36" cy="370.56" r="0.38" fill="#111"/>
<circle cx="615.35" cy="371.38" r="0.38" fill="#111"/>
<line x1="614.7" y1="377.3" x2="614.7" y2="378.5" stroke="#333" stroke-width="0.35"/>
<text x="615.6" y="380.9" font-size="3.5" font-family="Liberation Serif" fill="#1a1a1a" text-anchor="end" font-weight="bold" transform="rotate(-45 615.6 380.9)">TRBV4-2.1</text>
<rect x="617.4" y="359.21" width="2.3" height="15.39" fill="#d64545"/>
<line x1="618.55" y1="352.98" x2="618.55" y2="365.43" stroke="#222" stroke-width="0.35"/>
<circle cx="618.64" cy="368.83" r="0.38" fill="#111"/>
<circle cx="618.37" cy="352.76" r="0.38" fill="#111"/>
<circle cx="618.71" cy="361.25" r="0.38" fill="#111"/>
<circle cx="618.17" cy="367.9" r="0.38" fill="#111"/>
<circle cx="618.84" cy="349.35" r="0.38" fill="#222"/>
<rect x="619.7" y="359.21" width="2.3" height="15.39" fill="#66c466"/>
<line x1="620.85" y1="352.76" x2="620.85" y2="365.65" stroke="#222" stroke-width="0.35"/>
<circle cx="620.63" cy="353.85" r="0.38" fill="#111"/>
<circle cx="621.28" cy="367.08" r="0.38" fill="#111"/>
<circle cx="620.89" cy="362.72" r="0.38" fill="#111"/>
<circle cx="620.66" cy="359.77" r="0.38" fill="#111"/>
<circle cx="620.72" cy="368.45" r="0.38" fill="#111"/>
<circle cx="620.94" cy="347.64" r="0.38" fill="#222"/>
<line x1="619.7" y1="377.3" x2="619.7" y2="378.5" stroke="#333" stroke-width="0.35"/>
<text x="620.6" y="380.9" font-size="3.5" font-family="Liberation Serif" fill="#1a1a1a" text-anchor="end" font-weight="bold" transform="rotate(-45 620.6 380.9)">TRAJ33-1</text>
<rect x="622.4" y="366.61" width="2.3" height="7.99" fill="#d64545"/>
<line x1="623.55" y1="363.79" x2="623.55" y2="369.44" stroke="#222" stroke-width="0.35"/>
<circle cx="623.04" cy="363.79" r="0.38" fill="#111"/>
<circle cx="623.78" cy="367.83" r="0.38" fill="#111"/>
<circle cx="623.91" cy="370.91" r="0.38" fill="#111"/>
<circle cx="623.84" cy="366.45" r="0.38" fill="#111"/>
<circle cx="623.28" cy="367.67" r="0.38" fill="#111"/>
<circle cx="623.28" cy="367.48" r="0.38" fill="#111"/>
<circle cx="623.66" cy="359.98" r="0.38" fill="#222"/>
<rect x="624.7" y="366.61" width="2.3" height="7.99" fill="#66c466"/>
<line x1="625.85" y1="363.63" x2="625.85" y2="369.6" stroke="#222" stroke-width="0.35"/>
<circle cx="625.91" cy="366.17" r="0.38" fill="#111"/>
<circle cx="626.17" cy="365.79" r="0.38" fill="#111"/>
<circle cx="625.51" cy="367.13" r="0.38" fill="#111"/>
<circle cx="625.42" cy="367.71" r="0.38" fill="#111"/>
<line x1="624.7" y1="377.3" x2="624.7" y2="378.5" stroke="#333" stroke-width="0.35"/>
<text x="625.6" y="380.9" font-size="3.5" font-family="Liberation Serif" fill="#1a1a1a" text-anchor="end" font-weight="bold" transform="rotate(-45 625.6 380.9)">TRBV19-01</text>
<line x1="629.7" y1="377.3" x2="629.7" y2="378.5" stroke="#333" stroke-width="0.35"/>
<text x="630.6" y="380.9" font-size="3.5" font-family="Liberation Serif" fill="#1a1a1a" text-anchor="end" font-weight="bold" transform="rotate(-45 630.6 380.9)">TRBV15-01</text>
<line x1="634.7" y1="377.3" x2="634.7" y2="378.5" stroke="#333" stroke-width="0.35"/>
<text x="635.6" y="380.9" font-size="3.5" font-family="Liberation Serif" fill="#1a1a1a" text-anchor="end" font-weight="bold" transform="rotate(-45 635.6 380.9)">TRBV3-1.1</text>
<line x1="639.7" y1="377.3" x2="639.7" y2="378.5" stroke="#333" stroke-width="0.35"/>
<text x="640.6" y="380.9" font-size="3.5" font-family="Liberation Serif" fill="#1a1a1a" text-anchor="end" font-weight="bold" transform="rotate(-45 640.6 380.9)">TRBV5-6.1</text>
<rect x="642.4" y="354.7" width="2.3" height="19.9" fill="#d64545"/>
<line x1="643.55" y1="345.27" x2="643.55" y2="364.13" stroke="#222" stroke-width="0.35"/>
<circle cx="643.08" cy="345.5" r="0.38" fill="#111"/>
<circle cx="643.4" cy="362.64" r="0.38" fill="#111"/>
<circle cx="643.82" cy="358.84" r="0.38" fill="#111"/>
<circle cx="643.85" cy="356.82" r="0.38" fill="#111"/>
<circle cx="643.93" cy="340.97" r="0.38" fill="#222"/>
<rect x="644.7" y="346.01" width="2.3" height="28.59" fill="#66c466"/>
<line x1="645.85" y1="336.17" x2="645.85" y2="355.84" stroke="#222" stroke-width="0.35"/>
<circle cx="646.07" cy="353.88" r="0.38" fill="#111"/>
<circle cx="646.25" cy="346.25" r="0.38" fill="#111"/>
<circle cx="646.41" cy="342.82" r="0.38" fill="#111"/>
<circle cx="646.16" cy="338.61" r="0.38" fill="#111"/>
<circle cx="646.3" cy="358.86" r="0.38" fill="#111"/>
<circle cx="646.25" cy="335.03" r="0.38" fill="#222"/>
<line x1="644.7" y1="377.3" x2="644.7" y2="378.5" stroke="#333" stroke-width="0.35"/>
<text x="645.6" y="380.9" font-size="3.5" font-family="Liberation Serif" fill="#1a1a1a" text-anchor="end" font-weight="bold" transform="rotate(-45 645.6 380.9)">TRAV12-1.1</text>
<rect x="647.4" y="366.61" width="2.3" height="7.99" fill="#d64545"/>
<line x1="648.55" y1="363.8" x2="648.55" y2="369.43" stroke="#222" stroke-width="0.35"/>
<circle cx="648.23" cy="363.53" r="0.38" fill="#111"/>
<circle cx="648.36" cy="367.15" r="0.38" fill="#111"/>
<circle cx="648.13" cy="368.2" r="0.38" fill="#111"/>
<circle cx="649.07" cy="366.44" r="0.38" fill="#111"/>
<circle cx="649.14" cy="365.19" r="0.38" fill="#111"/>
<circle cx="649.11" cy="363.54" r="0.38" fill="#111"/>
<rect x="649.7" y="366.61" width="2.3" height="7.99" fill="#66c466"/>
<line x1="650.85" y1="362.59" x2="650.85" y2="370.64" stroke="#222" stroke-width="0.35"/>
<circle cx="650.85" cy="372.8" r="0.38" fill="#111"/>
<circle cx="650.47" cy="371.03" r="0.38" fill="#111"/>
<circle cx="650.45" cy="371.08" r="0.38" fill="#111"/>
<circle cx="651.17" cy="371.52" r="0.38" fill="#111"/>
<circle cx="651.18" cy="369.62" r="0.38" fill="#111"/>
<circle cx="651.16" cy="351.45" r="0.38" fill="#222"/>
<line x1="649.7" y1="377.3" x2="649.7" y2="378.5" stroke="#333" stroke-width="0.35"/>
<text x="650.6" y="380.9" font-size="3.5" font-family="Liberation Serif" fill="#1a1a1a" text-anchor="end" font-weight="bold" transform="rotate(-45 650.6 380.9)">TRBV28-01</text>
<line x1="654.7" y1="377.3" x2="654.7" y2="378.5" stroke="#333" stroke-width="0.35"/>
<text x="655.6" y="380.9" font-size="3.5" font-family="Liberation Serif" fill="#1a1a1a" text-anchor="end" font-weight="bold" transform="rotate(-45 655.6 380.9)">TRBV27-01</text>
<rect x="657.4" y="367.13" width="2.3" height="7.47" fill="#d64545"/>
<line x1="658.55" y1="363.84" x2="658.55" y2="370.42" stroke="#222" stroke-width="0.35"/>
<circle cx="659" cy="368.22" r="0.38" fill="#111"/>
<circle cx="658.96" cy="371.93" r="0.38" fill="#111"/>
<circle cx="658.08" cy="368.16" r="0.38" fill="#111"/>
<circle cx="658.6" cy="367.85" r="0.38" fill="#111"/>
<circle cx="658.06" cy="352.58" r="0.38" fill="#222"/>
<rect x="659.7" y="368.74" width="2.3" height="5.86" fill="#66c466"/>
<line x1="660.85" y1="365.67" x2="660.85" y2="371.8" stroke="#222" stroke-width="0.35"/>
<circle cx="660.75" cy="373.44" r="0.38" fill="#111"/>
<circle cx="660.93" cy="372" r="0.38" fill="#111"/>
<circle cx="660.33" cy="370.69" r="0.38" fill="#111"/>
<circle cx="661.34" cy="366.48" r="0.38" fill="#111"/>
<circle cx="660.99" cy="365.84" r="0.38" fill="#111"/>
<line x1="659.7" y1="377.3" x2="659.7" y2="378.5" stroke="#333" stroke-width="0.35"/>
<text x="660.6" y="380.9" font-size="3.5" font-family="Liberation Serif" fill="#1a1a1a" text-anchor="end" font-weight="bold" transform="rotate(-45 660.6 380.9)">TRBV11-2</text>
<rect x="662.4" y="373.18" width="2.3" height="1.42" fill="#d64545"/>
<line x1="663.55" y1="372.07" x2="663.55" y2="374.29" stroke="#222" stroke-width="0.35"/>
<circle cx="663.3" cy="374.04" r="0.38" fill="#111"/>
<circle cx="663.32" cy="372.26" r="0.38" fill="#111"/>
<circle cx="663.21" cy="373.62" r="0.38" fill="#111"/>
<circle cx="663.51" cy="372.89" r="0.38" fill="#111"/>
<circle cx="663.73" cy="372.87" r="0.38" fill="#111"/>
<rect x="664.7" y="373.18" width="2.3" height="1.42" fill="#66c466"/>
<line x1="665.85" y1="372.11" x2="665.85" y2="374.26" stroke="#222" stroke-width="0.35"/>
<circle cx="666.32" cy="372.61" r="0.38" fill="#111"/>
<circle cx="665.38" cy="374.23" r="0.38" fill="#111"/>
<circle cx="665.75" cy="372.04" r="0.38" fill="#111"/>
<circle cx="665.36" cy="369.31" r="0.38" fill="#222"/>
<line x1="664.7" y1="377.3" x2="664.7" y2="378.5" stroke="#333" stroke-width="0.35"/>
<text x="665.6" y="380.9" font-size="3.5" font-family="Liberation Serif" fill="#1a1a1a" text-anchor="end" font-weight="bold" transform="rotate(-45 665.6 380.9)">TRBV7-8.1</text>
<rect x="667.4" y="362.62" width="2.3" height="11.98" fill="#d64545"/>
<line x1="668.55" y1="357.17" x2="668.55" y2="368.08" stroke="#222" stroke-width="0.35"/>
<circle cx="669.12" cy="362.18" r="0.38" fill="#111"/>
<circle cx="668.41" cy="370" r="0.38" fill="#111"/>
<circle cx="668.03" cy="361.72" r="0.38" fill="#111"/>
<circle cx="668.29" cy="362.57" r="0.38" fill="#111"/>
<circle cx="668.86" cy="361.22" r="0.38" fill="#111"/>
<circle cx="668.14" cy="363.5" r="0.38" fill="#111"/>
<rect x="669.7" y="359.98" width="2.3" height="14.62" fill="#66c466"/>
<line x1="670.85" y1="354.11" x2="670.85" y2="365.86" stroke="#222" stroke-width="0.35"/>
<circle cx="670.71" cy="365.1" r="0.38" fill="#111"/>
<circle cx="670.72" cy="354.39" r="0.38" fill="#111"/>
<circle cx="670.96" cy="353.96" r="0.38" fill="#111"/>
<circle cx="671.05" cy="368.34" r="0.38" fill="#111"/>
<circle cx="670.93" cy="368.74" r="0.38" fill="#111"/>
<line x1="669.7" y1="377.3" x2="669.7" y2="378.5" stroke="#333" stroke-width="0.35"/>
<text x="670.6" y="380.9" font-size="3.5" font-family="Liberation Serif" fill="#1a1a1a" text-anchor="end" font-weight="bold" transform="rotate(-45 670.6 380.9)">TRBV20-1</text>
<rect x="672.4" y="349.48" width="2.3" height="25.12" fill="#d64545"/>
<line x1="673.55" y1="340.28" x2="673.55" y2="358.69" stroke="#222" stroke-width="0.35"/>
<circle cx="673.57" cy="356.48" r="0.38" fill="#111"/>
<circle cx="673.25" cy="348.79" r="0.38" fill="#111"/>
<circle cx="673.47" cy="346.19" r="0.38" fill="#111"/>
<circle cx="673.6" cy="329.75" r="0.38" fill="#222"/>
<rect x="674.7" y="348.2" width="2.3" height="26.4" fill="#66c466"/>
<line x1="675.85" y1="340.56" x2="675.85" y2="355.83" stroke="#222" stroke-width="0.35"/>
<circle cx="676.36" cy="351.93" r="0.38" fill="#111"/>
<circle cx="676.03" cy="356.79" r="0.38" fill="#111"/>
<circle cx="676.26" cy="343.1" r="0.38" fill="#111"/>
<circle cx="675.95" cy="346.75" r="0.38" fill="#111"/>
<circle cx="675.38" cy="354.2" r="0.38" fill="#111"/>
<line x1="674.7" y1="377.3" x2="674.7" y2="378.5" stroke="#333" stroke-width="0.35"/>
<text x="675.6" y="380.9" font-size="3.5" font-family="Liberation Serif" fill="#1a1a1a" text-anchor="end" font-weight="bold" transform="rotate(-45 675.6 380.9)">TRBV5-1.1</text>
<rect x="677.4" y="359.21" width="2.3" height="15.39" fill="#d64545"/>
<line x1="678.55" y1="355.47" x2="678.55" y2="362.95" stroke="#222" stroke-width="0.35"/>
<circle cx="678.22" cy="361.28" r="0.38" fill="#111"/>
<circle cx="678.24" cy="361.02" r="0.38" fill="#111"/>
<circle cx="678.18" cy="360.44" r="0.38" fill="#111"/>
<circle cx="679.05" cy="364.43" r="0.38" fill="#111"/>
<circle cx="678.15" cy="360.27" r="0.38" fill="#111"/>
<rect x="679.7" y="357.34" width="2.3" height="17.26" fill="#66c466"/>
<line x1="680.85" y1="352.41" x2="680.85" y2="362.27" stroke="#222" stroke-width="0.35"/>
<circle cx="681.08" cy="361.41" r="0.38" fill="#111"/>
<circle cx="681.07" cy="352.6" r="0.38" fill="#111"/>
<circle cx="680.47" cy="358.53" r="0.38" fill="#111"/>
<line x1="679.7" y1="377.3" x2="679.7" y2="378.5" stroke="#333" stroke-width="0.35"/>
<text x="680.6" y="380.9" font-size="3.5" font-family="Liberation Serif" fill="#1a1a1a" text-anchor="end" font-weight="bold" transform="rotate(-45 680.6 380.9)">TRBV9-01</text>
<rect x="586.4" y="356.5" width="5" height="17.7" fill="none" stroke="#e03030" stroke-width="0.9" stroke-dasharray="2.6,1.4"/>
<rect x="601.3" y="328.4" width="6.1" height="45.8" fill="none" stroke="#e03030" stroke-width="0.9" stroke-dasharray="2.6,1.4"/>
<rect x="563.4" y="309.8" width="6.1" height="5.5" fill="#d64545"/>
<circle cx="566.4" cy="312.55" r="0.4" fill="#333"/>
<text x="570.5" y="314.2" font-size="4.5" font-family="Liberation Serif" fill="#222">GDM</text>
<rect x="582.8" y="309.8" width="6.8" height="5.5" fill="#66c466"/>
<circle cx="586.2" cy="312.55" r="0.4" fill="#333"/>
<text x="590.5" y="314.2" font-size="4.5" font-family="Liberation Serif" fill="#222">NP</text>
<text x="427" y="343.05" font-size="4.3" font-family="Liberation Serif" fill="#222" text-anchor="middle" transform="rotate(-90 427 343.05)">Percentage (%)</text>
</svg></body></html>
